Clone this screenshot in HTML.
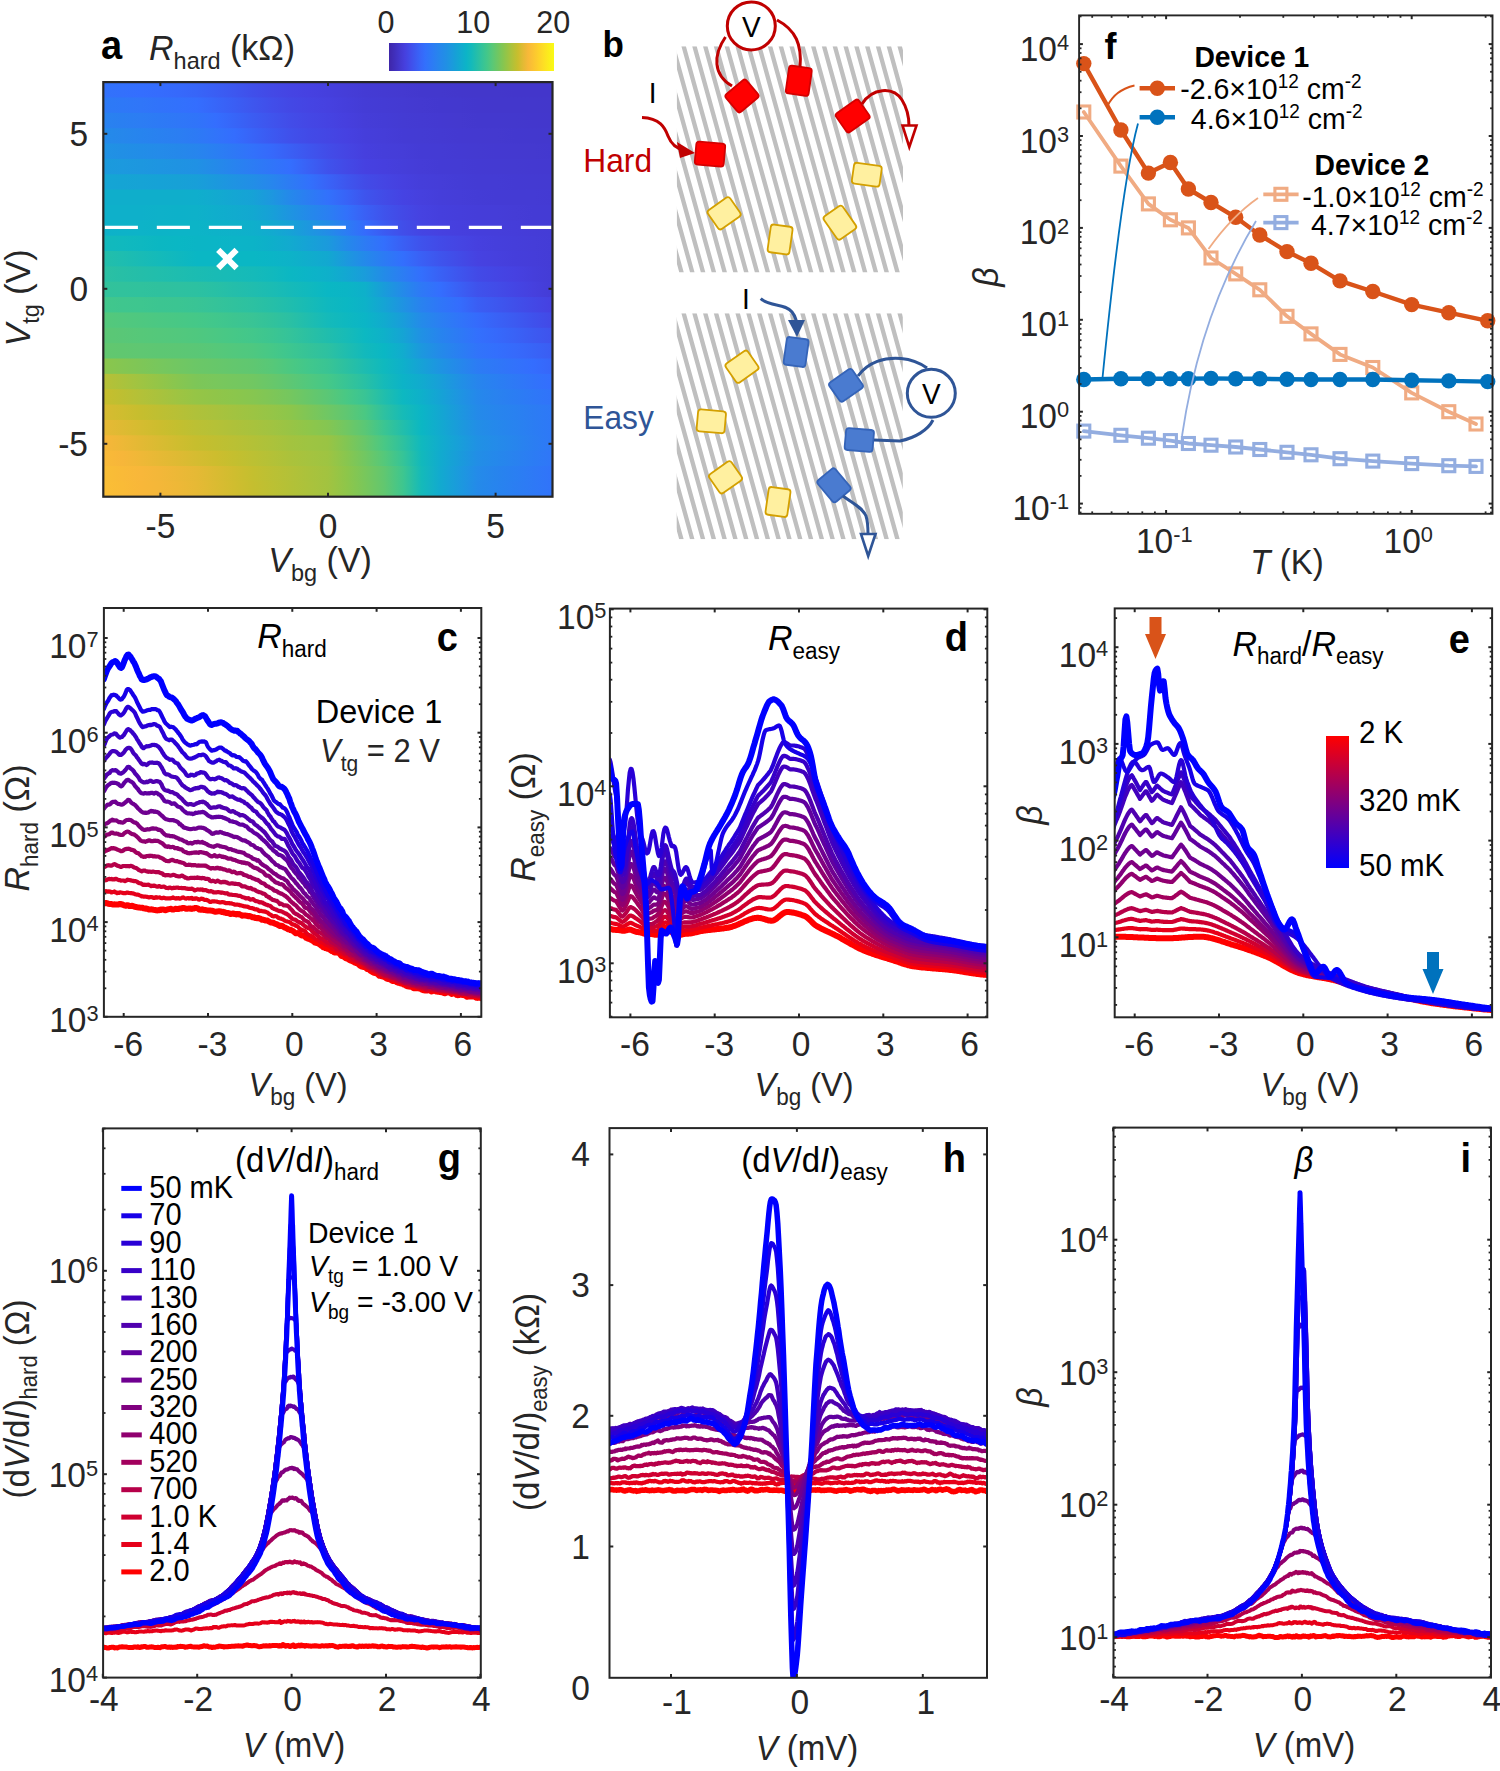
<!DOCTYPE html><html><head><meta charset="utf-8"><style>html,body{margin:0;padding:0;background:#fff;}svg{display:block;}text{font-family:"Liberation Sans", sans-serif;}</style></head><body>
<svg width="1500" height="1771" viewBox="0 0 1500 1771" font-family='"Liberation Sans", sans-serif'>
<rect width="1500" height="1771" fill="#fff"/>
<defs>
<linearGradient id="ha0" x1="0" x2="1" y1="0" y2="0">
<stop offset="0.000" stop-color="#3272fb"/>
<stop offset="0.042" stop-color="#3370fc"/>
<stop offset="0.083" stop-color="#346efe"/>
<stop offset="0.125" stop-color="#356cfd"/>
<stop offset="0.167" stop-color="#3669fb"/>
<stop offset="0.208" stop-color="#3765f8"/>
<stop offset="0.250" stop-color="#3a5ef4"/>
<stop offset="0.292" stop-color="#3d57ef"/>
<stop offset="0.333" stop-color="#404fea"/>
<stop offset="0.375" stop-color="#4349e6"/>
<stop offset="0.417" stop-color="#4544e3"/>
<stop offset="0.458" stop-color="#4641e1"/>
<stop offset="0.500" stop-color="#453fdd"/>
<stop offset="0.542" stop-color="#453dd8"/>
<stop offset="0.583" stop-color="#443bd4"/>
<stop offset="0.625" stop-color="#443ad2"/>
<stop offset="0.667" stop-color="#4439d0"/>
<stop offset="0.708" stop-color="#4338ce"/>
<stop offset="0.750" stop-color="#4338cd"/>
<stop offset="0.792" stop-color="#4337cc"/>
<stop offset="0.833" stop-color="#4337cb"/>
<stop offset="0.875" stop-color="#4337cb"/>
<stop offset="0.917" stop-color="#4336cb"/>
<stop offset="0.958" stop-color="#4336cb"/>
<stop offset="1.000" stop-color="#4336cb"/>
</linearGradient>
<linearGradient id="ha1" x1="0" x2="1" y1="0" y2="0">
<stop offset="0.000" stop-color="#2d7af5"/>
<stop offset="0.042" stop-color="#2e78f7"/>
<stop offset="0.083" stop-color="#3076f8"/>
<stop offset="0.125" stop-color="#3173fa"/>
<stop offset="0.167" stop-color="#3271fc"/>
<stop offset="0.208" stop-color="#346efe"/>
<stop offset="0.250" stop-color="#3766f9"/>
<stop offset="0.292" stop-color="#3a5ef4"/>
<stop offset="0.333" stop-color="#3e56ee"/>
<stop offset="0.375" stop-color="#414eea"/>
<stop offset="0.417" stop-color="#4348e5"/>
<stop offset="0.458" stop-color="#4544e3"/>
<stop offset="0.500" stop-color="#4641e0"/>
<stop offset="0.542" stop-color="#453edb"/>
<stop offset="0.583" stop-color="#443cd6"/>
<stop offset="0.625" stop-color="#443bd4"/>
<stop offset="0.667" stop-color="#443ad2"/>
<stop offset="0.708" stop-color="#4439d0"/>
<stop offset="0.750" stop-color="#4338cf"/>
<stop offset="0.792" stop-color="#4338ce"/>
<stop offset="0.833" stop-color="#4337cd"/>
<stop offset="0.875" stop-color="#4337cc"/>
<stop offset="0.917" stop-color="#4337cc"/>
<stop offset="0.958" stop-color="#4337cc"/>
<stop offset="1.000" stop-color="#4337cb"/>
</linearGradient>
<linearGradient id="ha2" x1="0" x2="1" y1="0" y2="0">
<stop offset="0.000" stop-color="#2982ef"/>
<stop offset="0.042" stop-color="#2a7ff1"/>
<stop offset="0.083" stop-color="#2c7df3"/>
<stop offset="0.125" stop-color="#2d7af5"/>
<stop offset="0.167" stop-color="#2f77f7"/>
<stop offset="0.208" stop-color="#3074f9"/>
<stop offset="0.250" stop-color="#346efe"/>
<stop offset="0.292" stop-color="#3765f8"/>
<stop offset="0.333" stop-color="#3b5cf2"/>
<stop offset="0.375" stop-color="#3f54ed"/>
<stop offset="0.417" stop-color="#424ce8"/>
<stop offset="0.458" stop-color="#4447e5"/>
<stop offset="0.500" stop-color="#4543e2"/>
<stop offset="0.542" stop-color="#463fde"/>
<stop offset="0.583" stop-color="#453dd8"/>
<stop offset="0.625" stop-color="#443cd6"/>
<stop offset="0.667" stop-color="#443bd3"/>
<stop offset="0.708" stop-color="#443ad2"/>
<stop offset="0.750" stop-color="#4439d1"/>
<stop offset="0.792" stop-color="#4439cf"/>
<stop offset="0.833" stop-color="#4338ce"/>
<stop offset="0.875" stop-color="#4338ce"/>
<stop offset="0.917" stop-color="#4338cd"/>
<stop offset="0.958" stop-color="#4337cd"/>
<stop offset="1.000" stop-color="#4337cc"/>
</linearGradient>
<linearGradient id="ha3" x1="0" x2="1" y1="0" y2="0">
<stop offset="0.000" stop-color="#248ae9"/>
<stop offset="0.042" stop-color="#2687eb"/>
<stop offset="0.083" stop-color="#2784ee"/>
<stop offset="0.125" stop-color="#2981f0"/>
<stop offset="0.167" stop-color="#2b7ef2"/>
<stop offset="0.208" stop-color="#2d7af5"/>
<stop offset="0.250" stop-color="#3174fa"/>
<stop offset="0.292" stop-color="#346dfe"/>
<stop offset="0.333" stop-color="#3863f7"/>
<stop offset="0.375" stop-color="#3c59f1"/>
<stop offset="0.417" stop-color="#4050eb"/>
<stop offset="0.458" stop-color="#424ae7"/>
<stop offset="0.500" stop-color="#4446e4"/>
<stop offset="0.542" stop-color="#4641e1"/>
<stop offset="0.583" stop-color="#453edb"/>
<stop offset="0.625" stop-color="#453dd8"/>
<stop offset="0.667" stop-color="#443bd5"/>
<stop offset="0.708" stop-color="#443bd3"/>
<stop offset="0.750" stop-color="#443ad2"/>
<stop offset="0.792" stop-color="#4439d1"/>
<stop offset="0.833" stop-color="#4439d0"/>
<stop offset="0.875" stop-color="#4439cf"/>
<stop offset="0.917" stop-color="#4338cf"/>
<stop offset="0.958" stop-color="#4338ce"/>
<stop offset="1.000" stop-color="#4338cd"/>
</linearGradient>
<linearGradient id="ha4" x1="0" x2="1" y1="0" y2="0">
<stop offset="0.000" stop-color="#2092e4"/>
<stop offset="0.042" stop-color="#218fe5"/>
<stop offset="0.083" stop-color="#228de7"/>
<stop offset="0.125" stop-color="#248be9"/>
<stop offset="0.167" stop-color="#2588ea"/>
<stop offset="0.208" stop-color="#2785ed"/>
<stop offset="0.250" stop-color="#2a7ff2"/>
<stop offset="0.292" stop-color="#2e78f6"/>
<stop offset="0.333" stop-color="#3271fb"/>
<stop offset="0.375" stop-color="#3669fb"/>
<stop offset="0.417" stop-color="#3a5ff4"/>
<stop offset="0.458" stop-color="#3e55ee"/>
<stop offset="0.500" stop-color="#424ce8"/>
<stop offset="0.542" stop-color="#4545e3"/>
<stop offset="0.583" stop-color="#463fde"/>
<stop offset="0.625" stop-color="#453eda"/>
<stop offset="0.667" stop-color="#453dd8"/>
<stop offset="0.708" stop-color="#443bd5"/>
<stop offset="0.750" stop-color="#443bd4"/>
<stop offset="0.792" stop-color="#443ad3"/>
<stop offset="0.833" stop-color="#443ad1"/>
<stop offset="0.875" stop-color="#4439d1"/>
<stop offset="0.917" stop-color="#4439d0"/>
<stop offset="0.958" stop-color="#4439cf"/>
<stop offset="1.000" stop-color="#4338cf"/>
</linearGradient>
<linearGradient id="ha5" x1="0" x2="1" y1="0" y2="0">
<stop offset="0.000" stop-color="#1b9adc"/>
<stop offset="0.042" stop-color="#1c99de"/>
<stop offset="0.083" stop-color="#1d97df"/>
<stop offset="0.125" stop-color="#1e95e1"/>
<stop offset="0.167" stop-color="#1f93e2"/>
<stop offset="0.208" stop-color="#2091e4"/>
<stop offset="0.250" stop-color="#248ae9"/>
<stop offset="0.292" stop-color="#2883ef"/>
<stop offset="0.333" stop-color="#2c7cf4"/>
<stop offset="0.375" stop-color="#3075f9"/>
<stop offset="0.417" stop-color="#346efe"/>
<stop offset="0.458" stop-color="#3a60f5"/>
<stop offset="0.500" stop-color="#3f52ec"/>
<stop offset="0.542" stop-color="#4349e6"/>
<stop offset="0.583" stop-color="#4641e1"/>
<stop offset="0.625" stop-color="#463fde"/>
<stop offset="0.667" stop-color="#453eda"/>
<stop offset="0.708" stop-color="#453cd7"/>
<stop offset="0.750" stop-color="#443bd5"/>
<stop offset="0.792" stop-color="#443bd4"/>
<stop offset="0.833" stop-color="#443ad3"/>
<stop offset="0.875" stop-color="#443ad2"/>
<stop offset="0.917" stop-color="#443ad1"/>
<stop offset="0.958" stop-color="#4439d1"/>
<stop offset="1.000" stop-color="#4439d0"/>
</linearGradient>
<linearGradient id="ha6" x1="0" x2="1" y1="0" y2="0">
<stop offset="0.000" stop-color="#15a5d4"/>
<stop offset="0.042" stop-color="#15a4d4"/>
<stop offset="0.083" stop-color="#16a3d5"/>
<stop offset="0.125" stop-color="#16a2d6"/>
<stop offset="0.167" stop-color="#17a1d6"/>
<stop offset="0.208" stop-color="#189fd8"/>
<stop offset="0.250" stop-color="#1b99dd"/>
<stop offset="0.292" stop-color="#1f93e2"/>
<stop offset="0.333" stop-color="#228ee6"/>
<stop offset="0.375" stop-color="#2786ed"/>
<stop offset="0.417" stop-color="#2d7bf4"/>
<stop offset="0.458" stop-color="#3271fc"/>
<stop offset="0.500" stop-color="#3963f7"/>
<stop offset="0.542" stop-color="#3e56ee"/>
<stop offset="0.583" stop-color="#424be7"/>
<stop offset="0.625" stop-color="#4545e3"/>
<stop offset="0.667" stop-color="#4640df"/>
<stop offset="0.708" stop-color="#453eda"/>
<stop offset="0.750" stop-color="#453dd8"/>
<stop offset="0.792" stop-color="#443cd6"/>
<stop offset="0.833" stop-color="#443bd4"/>
<stop offset="0.875" stop-color="#443bd4"/>
<stop offset="0.917" stop-color="#443ad3"/>
<stop offset="0.958" stop-color="#443ad2"/>
<stop offset="1.000" stop-color="#443ad1"/>
</linearGradient>
<linearGradient id="ha7" x1="0" x2="1" y1="0" y2="0">
<stop offset="0.000" stop-color="#0faecb"/>
<stop offset="0.042" stop-color="#0faecb"/>
<stop offset="0.083" stop-color="#0faecb"/>
<stop offset="0.125" stop-color="#0faecb"/>
<stop offset="0.167" stop-color="#0faecb"/>
<stop offset="0.208" stop-color="#0faecc"/>
<stop offset="0.250" stop-color="#12aacf"/>
<stop offset="0.292" stop-color="#14a6d3"/>
<stop offset="0.333" stop-color="#16a2d6"/>
<stop offset="0.375" stop-color="#1d97df"/>
<stop offset="0.417" stop-color="#2588eb"/>
<stop offset="0.458" stop-color="#2c7cf3"/>
<stop offset="0.500" stop-color="#3271fc"/>
<stop offset="0.542" stop-color="#3863f7"/>
<stop offset="0.583" stop-color="#3e54ed"/>
<stop offset="0.625" stop-color="#424be7"/>
<stop offset="0.667" stop-color="#4543e3"/>
<stop offset="0.708" stop-color="#4640de"/>
<stop offset="0.750" stop-color="#453eda"/>
<stop offset="0.792" stop-color="#453dd8"/>
<stop offset="0.833" stop-color="#443cd6"/>
<stop offset="0.875" stop-color="#443bd5"/>
<stop offset="0.917" stop-color="#443bd4"/>
<stop offset="0.958" stop-color="#443bd4"/>
<stop offset="1.000" stop-color="#443ad3"/>
</linearGradient>
<linearGradient id="ha8" x1="0" x2="1" y1="0" y2="0">
<stop offset="0.000" stop-color="#0eb0ca"/>
<stop offset="0.042" stop-color="#0eb0ca"/>
<stop offset="0.083" stop-color="#0eb0ca"/>
<stop offset="0.125" stop-color="#0eb1c9"/>
<stop offset="0.167" stop-color="#0db1c9"/>
<stop offset="0.208" stop-color="#0eb1c9"/>
<stop offset="0.250" stop-color="#0faecc"/>
<stop offset="0.292" stop-color="#11abce"/>
<stop offset="0.333" stop-color="#12a8d0"/>
<stop offset="0.375" stop-color="#17a0d7"/>
<stop offset="0.417" stop-color="#1e94e1"/>
<stop offset="0.458" stop-color="#2489ea"/>
<stop offset="0.500" stop-color="#2a7ff2"/>
<stop offset="0.542" stop-color="#3271fb"/>
<stop offset="0.583" stop-color="#3a60f5"/>
<stop offset="0.625" stop-color="#3f53ec"/>
<stop offset="0.667" stop-color="#4349e6"/>
<stop offset="0.708" stop-color="#4642e1"/>
<stop offset="0.750" stop-color="#453fdd"/>
<stop offset="0.792" stop-color="#453edb"/>
<stop offset="0.833" stop-color="#453dd9"/>
<stop offset="0.875" stop-color="#453dd8"/>
<stop offset="0.917" stop-color="#453cd6"/>
<stop offset="0.958" stop-color="#443bd5"/>
<stop offset="1.000" stop-color="#443bd4"/>
</linearGradient>
<linearGradient id="ha9" x1="0" x2="1" y1="0" y2="0">
<stop offset="0.000" stop-color="#0db1c9"/>
<stop offset="0.042" stop-color="#0db2c8"/>
<stop offset="0.083" stop-color="#0db3c8"/>
<stop offset="0.125" stop-color="#0cb3c7"/>
<stop offset="0.167" stop-color="#0cb4c7"/>
<stop offset="0.208" stop-color="#0cb4c7"/>
<stop offset="0.250" stop-color="#0db2c8"/>
<stop offset="0.292" stop-color="#0eb1c9"/>
<stop offset="0.333" stop-color="#0fafcb"/>
<stop offset="0.375" stop-color="#12aacf"/>
<stop offset="0.417" stop-color="#16a2d6"/>
<stop offset="0.458" stop-color="#1d97df"/>
<stop offset="0.500" stop-color="#238ce7"/>
<stop offset="0.542" stop-color="#2c7cf4"/>
<stop offset="0.583" stop-color="#356bfc"/>
<stop offset="0.625" stop-color="#3b5bf2"/>
<stop offset="0.667" stop-color="#414ee9"/>
<stop offset="0.708" stop-color="#4445e3"/>
<stop offset="0.750" stop-color="#4641e0"/>
<stop offset="0.792" stop-color="#463fde"/>
<stop offset="0.833" stop-color="#453edc"/>
<stop offset="0.875" stop-color="#453eda"/>
<stop offset="0.917" stop-color="#453dd9"/>
<stop offset="0.958" stop-color="#453cd7"/>
<stop offset="1.000" stop-color="#443cd6"/>
</linearGradient>
<linearGradient id="ha10" x1="0" x2="1" y1="0" y2="0">
<stop offset="0.000" stop-color="#12b9bc"/>
<stop offset="0.042" stop-color="#10b9be"/>
<stop offset="0.083" stop-color="#0eb8c0"/>
<stop offset="0.125" stop-color="#0bb7c2"/>
<stop offset="0.167" stop-color="#0ab7c4"/>
<stop offset="0.208" stop-color="#0bb5c5"/>
<stop offset="0.250" stop-color="#0bb5c6"/>
<stop offset="0.292" stop-color="#0cb4c7"/>
<stop offset="0.333" stop-color="#0cb3c7"/>
<stop offset="0.375" stop-color="#0eafca"/>
<stop offset="0.417" stop-color="#12aacf"/>
<stop offset="0.458" stop-color="#16a2d6"/>
<stop offset="0.500" stop-color="#1b9adc"/>
<stop offset="0.542" stop-color="#2489ea"/>
<stop offset="0.583" stop-color="#2d7bf4"/>
<stop offset="0.625" stop-color="#336ffd"/>
<stop offset="0.667" stop-color="#3a5ff4"/>
<stop offset="0.708" stop-color="#3f52ec"/>
<stop offset="0.750" stop-color="#424ae7"/>
<stop offset="0.792" stop-color="#4545e3"/>
<stop offset="0.833" stop-color="#4640df"/>
<stop offset="0.875" stop-color="#453fdc"/>
<stop offset="0.917" stop-color="#453eda"/>
<stop offset="0.958" stop-color="#453dd8"/>
<stop offset="1.000" stop-color="#443cd6"/>
</linearGradient>
<linearGradient id="ha11" x1="0" x2="1" y1="0" y2="0">
<stop offset="0.000" stop-color="#23beaa"/>
<stop offset="0.042" stop-color="#1ebdb0"/>
<stop offset="0.083" stop-color="#19bbb5"/>
<stop offset="0.125" stop-color="#14baba"/>
<stop offset="0.167" stop-color="#0fb8bf"/>
<stop offset="0.208" stop-color="#0ab7c4"/>
<stop offset="0.250" stop-color="#0ab7c4"/>
<stop offset="0.292" stop-color="#0ab7c4"/>
<stop offset="0.333" stop-color="#0ab7c4"/>
<stop offset="0.375" stop-color="#0bb5c6"/>
<stop offset="0.417" stop-color="#0db2c8"/>
<stop offset="0.458" stop-color="#10adcc"/>
<stop offset="0.500" stop-color="#12a8d0"/>
<stop offset="0.542" stop-color="#1c98de"/>
<stop offset="0.583" stop-color="#2489ea"/>
<stop offset="0.625" stop-color="#2c7bf4"/>
<stop offset="0.667" stop-color="#336ffd"/>
<stop offset="0.708" stop-color="#3a60f5"/>
<stop offset="0.750" stop-color="#3e54ed"/>
<stop offset="0.792" stop-color="#424be7"/>
<stop offset="0.833" stop-color="#4642e1"/>
<stop offset="0.875" stop-color="#4640de"/>
<stop offset="0.917" stop-color="#453edb"/>
<stop offset="0.958" stop-color="#453dd9"/>
<stop offset="1.000" stop-color="#443cd6"/>
</linearGradient>
<linearGradient id="ha12" x1="0" x2="1" y1="0" y2="0">
<stop offset="0.000" stop-color="#2bc0a3"/>
<stop offset="0.042" stop-color="#27bfa6"/>
<stop offset="0.083" stop-color="#24bea9"/>
<stop offset="0.125" stop-color="#21beac"/>
<stop offset="0.167" stop-color="#1ebdaf"/>
<stop offset="0.208" stop-color="#1bbcb2"/>
<stop offset="0.250" stop-color="#19bbb5"/>
<stop offset="0.292" stop-color="#17bbb7"/>
<stop offset="0.333" stop-color="#15bab9"/>
<stop offset="0.375" stop-color="#11b9bd"/>
<stop offset="0.417" stop-color="#0bb7c3"/>
<stop offset="0.458" stop-color="#0cb4c7"/>
<stop offset="0.500" stop-color="#0eb0ca"/>
<stop offset="0.542" stop-color="#13a7d2"/>
<stop offset="0.583" stop-color="#1a9cdb"/>
<stop offset="0.625" stop-color="#238be8"/>
<stop offset="0.667" stop-color="#2c7df3"/>
<stop offset="0.708" stop-color="#336ffd"/>
<stop offset="0.750" stop-color="#3961f5"/>
<stop offset="0.792" stop-color="#3e55ee"/>
<stop offset="0.833" stop-color="#424ae7"/>
<stop offset="0.875" stop-color="#4445e4"/>
<stop offset="0.917" stop-color="#4641e1"/>
<stop offset="0.958" stop-color="#453edb"/>
<stop offset="1.000" stop-color="#443cd6"/>
</linearGradient>
<linearGradient id="ha13" x1="0" x2="1" y1="0" y2="0">
<stop offset="0.000" stop-color="#32c29b"/>
<stop offset="0.042" stop-color="#31c29c"/>
<stop offset="0.083" stop-color="#30c29d"/>
<stop offset="0.125" stop-color="#2fc19e"/>
<stop offset="0.167" stop-color="#2ec1a0"/>
<stop offset="0.208" stop-color="#2cc1a1"/>
<stop offset="0.250" stop-color="#28c0a5"/>
<stop offset="0.292" stop-color="#24beaa"/>
<stop offset="0.333" stop-color="#20bdae"/>
<stop offset="0.375" stop-color="#1bbcb3"/>
<stop offset="0.417" stop-color="#15bab9"/>
<stop offset="0.458" stop-color="#10b9be"/>
<stop offset="0.500" stop-color="#0ab7c4"/>
<stop offset="0.542" stop-color="#0bb5c5"/>
<stop offset="0.583" stop-color="#0eb0ca"/>
<stop offset="0.625" stop-color="#199cda"/>
<stop offset="0.667" stop-color="#248ae9"/>
<stop offset="0.708" stop-color="#2e79f6"/>
<stop offset="0.750" stop-color="#346efe"/>
<stop offset="0.792" stop-color="#3a60f5"/>
<stop offset="0.833" stop-color="#3f52ec"/>
<stop offset="0.875" stop-color="#424ce8"/>
<stop offset="0.917" stop-color="#4445e4"/>
<stop offset="0.958" stop-color="#4640de"/>
<stop offset="1.000" stop-color="#443cd6"/>
</linearGradient>
<linearGradient id="ha14" x1="0" x2="1" y1="0" y2="0">
<stop offset="0.000" stop-color="#41c78c"/>
<stop offset="0.042" stop-color="#3fc68e"/>
<stop offset="0.083" stop-color="#3ec68f"/>
<stop offset="0.125" stop-color="#3cc591"/>
<stop offset="0.167" stop-color="#3bc592"/>
<stop offset="0.208" stop-color="#39c495"/>
<stop offset="0.250" stop-color="#35c399"/>
<stop offset="0.292" stop-color="#30c29d"/>
<stop offset="0.333" stop-color="#2cc1a1"/>
<stop offset="0.375" stop-color="#26bfa7"/>
<stop offset="0.417" stop-color="#1fbdae"/>
<stop offset="0.458" stop-color="#17bbb6"/>
<stop offset="0.500" stop-color="#0fb8bf"/>
<stop offset="0.542" stop-color="#0bb7c3"/>
<stop offset="0.583" stop-color="#0db2c8"/>
<stop offset="0.625" stop-color="#15a4d4"/>
<stop offset="0.667" stop-color="#1f93e2"/>
<stop offset="0.708" stop-color="#2982ef"/>
<stop offset="0.750" stop-color="#2f76f8"/>
<stop offset="0.792" stop-color="#346dfd"/>
<stop offset="0.833" stop-color="#3a5ef4"/>
<stop offset="0.875" stop-color="#3d57ef"/>
<stop offset="0.917" stop-color="#404fea"/>
<stop offset="0.958" stop-color="#4348e6"/>
<stop offset="1.000" stop-color="#4641e1"/>
</linearGradient>
<linearGradient id="ha15" x1="0" x2="1" y1="0" y2="0">
<stop offset="0.000" stop-color="#54c87b"/>
<stop offset="0.042" stop-color="#51c87e"/>
<stop offset="0.083" stop-color="#4ec880"/>
<stop offset="0.125" stop-color="#4bc883"/>
<stop offset="0.167" stop-color="#48c885"/>
<stop offset="0.208" stop-color="#45c888"/>
<stop offset="0.250" stop-color="#41c78c"/>
<stop offset="0.292" stop-color="#3dc590"/>
<stop offset="0.333" stop-color="#39c495"/>
<stop offset="0.375" stop-color="#32c29b"/>
<stop offset="0.417" stop-color="#2ac0a4"/>
<stop offset="0.458" stop-color="#1fbdaf"/>
<stop offset="0.500" stop-color="#14baba"/>
<stop offset="0.542" stop-color="#0eb8c0"/>
<stop offset="0.583" stop-color="#0bb5c6"/>
<stop offset="0.625" stop-color="#11abce"/>
<stop offset="0.667" stop-color="#199dda"/>
<stop offset="0.708" stop-color="#248be9"/>
<stop offset="0.750" stop-color="#2b7ff2"/>
<stop offset="0.792" stop-color="#3075f9"/>
<stop offset="0.833" stop-color="#356bfc"/>
<stop offset="0.875" stop-color="#3962f6"/>
<stop offset="0.917" stop-color="#3c5af1"/>
<stop offset="0.958" stop-color="#3f51ec"/>
<stop offset="1.000" stop-color="#4349e6"/>
</linearGradient>
<linearGradient id="ha16" x1="0" x2="1" y1="0" y2="0">
<stop offset="0.000" stop-color="#5bc775"/>
<stop offset="0.042" stop-color="#59c777"/>
<stop offset="0.083" stop-color="#56c879"/>
<stop offset="0.125" stop-color="#54c87b"/>
<stop offset="0.167" stop-color="#52c87d"/>
<stop offset="0.208" stop-color="#4fc87f"/>
<stop offset="0.250" stop-color="#4bc883"/>
<stop offset="0.292" stop-color="#46c887"/>
<stop offset="0.333" stop-color="#42c78b"/>
<stop offset="0.375" stop-color="#3cc591"/>
<stop offset="0.417" stop-color="#34c39a"/>
<stop offset="0.458" stop-color="#2ac0a3"/>
<stop offset="0.500" stop-color="#20bdad"/>
<stop offset="0.542" stop-color="#17bbb7"/>
<stop offset="0.583" stop-color="#0cb8c2"/>
<stop offset="0.625" stop-color="#0eb1c9"/>
<stop offset="0.667" stop-color="#15a4d4"/>
<stop offset="0.708" stop-color="#2091e4"/>
<stop offset="0.750" stop-color="#2784ee"/>
<stop offset="0.792" stop-color="#2d7af5"/>
<stop offset="0.833" stop-color="#3370fd"/>
<stop offset="0.875" stop-color="#3669fb"/>
<stop offset="0.917" stop-color="#3962f6"/>
<stop offset="0.958" stop-color="#3c5af1"/>
<stop offset="1.000" stop-color="#3f53ed"/>
</linearGradient>
<linearGradient id="ha17" x1="0" x2="1" y1="0" y2="0">
<stop offset="0.000" stop-color="#62c76f"/>
<stop offset="0.042" stop-color="#60c770"/>
<stop offset="0.083" stop-color="#5fc772"/>
<stop offset="0.125" stop-color="#5dc773"/>
<stop offset="0.167" stop-color="#5cc774"/>
<stop offset="0.208" stop-color="#5ac776"/>
<stop offset="0.250" stop-color="#56c879"/>
<stop offset="0.292" stop-color="#52c87d"/>
<stop offset="0.333" stop-color="#4ec880"/>
<stop offset="0.375" stop-color="#46c887"/>
<stop offset="0.417" stop-color="#3dc690"/>
<stop offset="0.458" stop-color="#35c398"/>
<stop offset="0.500" stop-color="#2dc1a1"/>
<stop offset="0.542" stop-color="#1fbdaf"/>
<stop offset="0.583" stop-color="#12b9bc"/>
<stop offset="0.625" stop-color="#0ab7c4"/>
<stop offset="0.667" stop-color="#11acce"/>
<stop offset="0.708" stop-color="#1c98de"/>
<stop offset="0.750" stop-color="#248ae9"/>
<stop offset="0.792" stop-color="#2a7ff2"/>
<stop offset="0.833" stop-color="#3174fa"/>
<stop offset="0.875" stop-color="#336ffd"/>
<stop offset="0.917" stop-color="#366afb"/>
<stop offset="0.958" stop-color="#3864f7"/>
<stop offset="1.000" stop-color="#3b5df3"/>
</linearGradient>
<linearGradient id="ha18" x1="0" x2="1" y1="0" y2="0">
<stop offset="0.000" stop-color="#8ac64c"/>
<stop offset="0.042" stop-color="#84c652"/>
<stop offset="0.083" stop-color="#7ec657"/>
<stop offset="0.125" stop-color="#77c75d"/>
<stop offset="0.167" stop-color="#71c762"/>
<stop offset="0.208" stop-color="#6bc767"/>
<stop offset="0.250" stop-color="#67c76a"/>
<stop offset="0.292" stop-color="#63c76e"/>
<stop offset="0.333" stop-color="#5fc771"/>
<stop offset="0.375" stop-color="#57c878"/>
<stop offset="0.417" stop-color="#4bc882"/>
<stop offset="0.458" stop-color="#41c78c"/>
<stop offset="0.500" stop-color="#39c494"/>
<stop offset="0.542" stop-color="#2bc0a2"/>
<stop offset="0.583" stop-color="#1dbcb1"/>
<stop offset="0.625" stop-color="#0fb9be"/>
<stop offset="0.667" stop-color="#0eb0ca"/>
<stop offset="0.708" stop-color="#16a2d6"/>
<stop offset="0.750" stop-color="#1e94e2"/>
<stop offset="0.792" stop-color="#2588eb"/>
<stop offset="0.833" stop-color="#2c7cf4"/>
<stop offset="0.875" stop-color="#2f77f7"/>
<stop offset="0.917" stop-color="#3272fb"/>
<stop offset="0.958" stop-color="#346dfe"/>
<stop offset="1.000" stop-color="#3766f9"/>
</linearGradient>
<linearGradient id="ha19" x1="0" x2="1" y1="0" y2="0">
<stop offset="0.000" stop-color="#b7c036"/>
<stop offset="0.042" stop-color="#abc23c"/>
<stop offset="0.083" stop-color="#9fc442"/>
<stop offset="0.125" stop-color="#93c548"/>
<stop offset="0.167" stop-color="#87c650"/>
<stop offset="0.208" stop-color="#7dc658"/>
<stop offset="0.250" stop-color="#79c75c"/>
<stop offset="0.292" stop-color="#75c75f"/>
<stop offset="0.333" stop-color="#71c762"/>
<stop offset="0.375" stop-color="#68c76a"/>
<stop offset="0.417" stop-color="#5dc774"/>
<stop offset="0.458" stop-color="#51c87e"/>
<stop offset="0.500" stop-color="#45c888"/>
<stop offset="0.542" stop-color="#37c496"/>
<stop offset="0.583" stop-color="#28c0a5"/>
<stop offset="0.625" stop-color="#15bab9"/>
<stop offset="0.667" stop-color="#0cb3c7"/>
<stop offset="0.708" stop-color="#11abce"/>
<stop offset="0.750" stop-color="#189fd8"/>
<stop offset="0.792" stop-color="#2091e4"/>
<stop offset="0.833" stop-color="#2785ed"/>
<stop offset="0.875" stop-color="#2a7ff2"/>
<stop offset="0.917" stop-color="#2e79f6"/>
<stop offset="0.958" stop-color="#3173fa"/>
<stop offset="1.000" stop-color="#346efe"/>
</linearGradient>
<linearGradient id="ha20" x1="0" x2="1" y1="0" y2="0">
<stop offset="0.000" stop-color="#c7be2d"/>
<stop offset="0.042" stop-color="#bdbf32"/>
<stop offset="0.083" stop-color="#b3c138"/>
<stop offset="0.125" stop-color="#a9c23d"/>
<stop offset="0.167" stop-color="#9ec442"/>
<stop offset="0.208" stop-color="#95c546"/>
<stop offset="0.250" stop-color="#90c549"/>
<stop offset="0.292" stop-color="#8bc64c"/>
<stop offset="0.333" stop-color="#86c650"/>
<stop offset="0.375" stop-color="#7ec657"/>
<stop offset="0.417" stop-color="#74c75f"/>
<stop offset="0.458" stop-color="#67c76a"/>
<stop offset="0.500" stop-color="#5ac776"/>
<stop offset="0.542" stop-color="#48c885"/>
<stop offset="0.583" stop-color="#39c495"/>
<stop offset="0.625" stop-color="#21beac"/>
<stop offset="0.667" stop-color="#0db8c1"/>
<stop offset="0.708" stop-color="#0eb0ca"/>
<stop offset="0.750" stop-color="#15a3d5"/>
<stop offset="0.792" stop-color="#1e95e1"/>
<stop offset="0.833" stop-color="#2588eb"/>
<stop offset="0.875" stop-color="#2982ef"/>
<stop offset="0.917" stop-color="#2b7df3"/>
<stop offset="0.958" stop-color="#2e78f7"/>
<stop offset="1.000" stop-color="#3173fa"/>
</linearGradient>
<linearGradient id="ha21" x1="0" x2="1" y1="0" y2="0">
<stop offset="0.000" stop-color="#d7bb31"/>
<stop offset="0.042" stop-color="#cfbd2f"/>
<stop offset="0.083" stop-color="#c6be2e"/>
<stop offset="0.125" stop-color="#bebf32"/>
<stop offset="0.167" stop-color="#b7c036"/>
<stop offset="0.208" stop-color="#afc13a"/>
<stop offset="0.250" stop-color="#a9c23d"/>
<stop offset="0.292" stop-color="#a2c340"/>
<stop offset="0.333" stop-color="#9cc443"/>
<stop offset="0.375" stop-color="#95c547"/>
<stop offset="0.417" stop-color="#8cc64b"/>
<stop offset="0.458" stop-color="#7ec657"/>
<stop offset="0.500" stop-color="#6fc764"/>
<stop offset="0.542" stop-color="#5fc772"/>
<stop offset="0.583" stop-color="#4ac883"/>
<stop offset="0.625" stop-color="#2ec1a0"/>
<stop offset="0.667" stop-color="#16bbb7"/>
<stop offset="0.708" stop-color="#0bb5c6"/>
<stop offset="0.750" stop-color="#13a7d1"/>
<stop offset="0.792" stop-color="#1c98de"/>
<stop offset="0.833" stop-color="#248ae9"/>
<stop offset="0.875" stop-color="#2785ed"/>
<stop offset="0.917" stop-color="#2981f0"/>
<stop offset="0.958" stop-color="#2c7cf3"/>
<stop offset="1.000" stop-color="#2e78f7"/>
</linearGradient>
<linearGradient id="ha22" x1="0" x2="1" y1="0" y2="0">
<stop offset="0.000" stop-color="#e7b935"/>
<stop offset="0.042" stop-color="#deba33"/>
<stop offset="0.083" stop-color="#d5bc30"/>
<stop offset="0.125" stop-color="#ccbd2e"/>
<stop offset="0.167" stop-color="#c3bf2f"/>
<stop offset="0.208" stop-color="#bbc034"/>
<stop offset="0.250" stop-color="#b5c137"/>
<stop offset="0.292" stop-color="#aec13a"/>
<stop offset="0.333" stop-color="#a8c23d"/>
<stop offset="0.375" stop-color="#a1c341"/>
<stop offset="0.417" stop-color="#98c445"/>
<stop offset="0.458" stop-color="#8ec64a"/>
<stop offset="0.500" stop-color="#84c652"/>
<stop offset="0.542" stop-color="#70c763"/>
<stop offset="0.583" stop-color="#5ac776"/>
<stop offset="0.625" stop-color="#3bc592"/>
<stop offset="0.667" stop-color="#22beab"/>
<stop offset="0.708" stop-color="#0bb7c3"/>
<stop offset="0.750" stop-color="#12aacf"/>
<stop offset="0.792" stop-color="#1a9bdb"/>
<stop offset="0.833" stop-color="#228ee6"/>
<stop offset="0.875" stop-color="#2588eb"/>
<stop offset="0.917" stop-color="#2883ef"/>
<stop offset="0.958" stop-color="#2b7df3"/>
<stop offset="1.000" stop-color="#2e78f7"/>
</linearGradient>
<linearGradient id="ha23" x1="0" x2="1" y1="0" y2="0">
<stop offset="0.000" stop-color="#f7b63a"/>
<stop offset="0.042" stop-color="#edb837"/>
<stop offset="0.083" stop-color="#e3b934"/>
<stop offset="0.125" stop-color="#d9bb32"/>
<stop offset="0.167" stop-color="#cfbd2f"/>
<stop offset="0.208" stop-color="#c6be2e"/>
<stop offset="0.250" stop-color="#c0bf31"/>
<stop offset="0.292" stop-color="#bac034"/>
<stop offset="0.333" stop-color="#b3c137"/>
<stop offset="0.375" stop-color="#acc23b"/>
<stop offset="0.417" stop-color="#a3c33f"/>
<stop offset="0.458" stop-color="#9ec442"/>
<stop offset="0.500" stop-color="#99c444"/>
<stop offset="0.542" stop-color="#81c654"/>
<stop offset="0.583" stop-color="#68c76a"/>
<stop offset="0.625" stop-color="#49c885"/>
<stop offset="0.667" stop-color="#2ec19f"/>
<stop offset="0.708" stop-color="#10b9be"/>
<stop offset="0.750" stop-color="#11accd"/>
<stop offset="0.792" stop-color="#189fd9"/>
<stop offset="0.833" stop-color="#2091e4"/>
<stop offset="0.875" stop-color="#248be9"/>
<stop offset="0.917" stop-color="#2785ed"/>
<stop offset="0.958" stop-color="#2b7ef2"/>
<stop offset="1.000" stop-color="#2e78f7"/>
</linearGradient>
<linearGradient id="ha24" x1="0" x2="1" y1="0" y2="0">
<stop offset="0.000" stop-color="#f9ba38"/>
<stop offset="0.042" stop-color="#f7b63a"/>
<stop offset="0.083" stop-color="#efb837"/>
<stop offset="0.125" stop-color="#e6b935"/>
<stop offset="0.167" stop-color="#deba33"/>
<stop offset="0.208" stop-color="#d5bc31"/>
<stop offset="0.250" stop-color="#cdbd2e"/>
<stop offset="0.292" stop-color="#c4bf2f"/>
<stop offset="0.333" stop-color="#bcc033"/>
<stop offset="0.375" stop-color="#b4c137"/>
<stop offset="0.417" stop-color="#abc23b"/>
<stop offset="0.458" stop-color="#a5c33f"/>
<stop offset="0.500" stop-color="#9ec442"/>
<stop offset="0.542" stop-color="#88c64f"/>
<stop offset="0.583" stop-color="#71c762"/>
<stop offset="0.625" stop-color="#55c87a"/>
<stop offset="0.667" stop-color="#36c497"/>
<stop offset="0.708" stop-color="#12b9bb"/>
<stop offset="0.750" stop-color="#11abce"/>
<stop offset="0.792" stop-color="#199cda"/>
<stop offset="0.833" stop-color="#228ee6"/>
<stop offset="0.875" stop-color="#2588eb"/>
<stop offset="0.917" stop-color="#2982ef"/>
<stop offset="0.958" stop-color="#2c7cf4"/>
<stop offset="1.000" stop-color="#3076f8"/>
</linearGradient>
<linearGradient id="ha25" x1="0" x2="1" y1="0" y2="0">
<stop offset="0.000" stop-color="#f9be36"/>
<stop offset="0.042" stop-color="#f9ba38"/>
<stop offset="0.083" stop-color="#f8b73a"/>
<stop offset="0.125" stop-color="#f3b739"/>
<stop offset="0.167" stop-color="#ecb837"/>
<stop offset="0.208" stop-color="#e5b935"/>
<stop offset="0.250" stop-color="#dabb32"/>
<stop offset="0.292" stop-color="#cfbd2f"/>
<stop offset="0.333" stop-color="#c4bf2f"/>
<stop offset="0.375" stop-color="#bbc034"/>
<stop offset="0.417" stop-color="#b3c138"/>
<stop offset="0.458" stop-color="#aac23c"/>
<stop offset="0.500" stop-color="#a2c340"/>
<stop offset="0.542" stop-color="#8dc64a"/>
<stop offset="0.583" stop-color="#78c75c"/>
<stop offset="0.625" stop-color="#61c770"/>
<stop offset="0.667" stop-color="#3ec68f"/>
<stop offset="0.708" stop-color="#14bab9"/>
<stop offset="0.750" stop-color="#12aacf"/>
<stop offset="0.792" stop-color="#1b9add"/>
<stop offset="0.833" stop-color="#248be9"/>
<stop offset="0.875" stop-color="#2784ed"/>
<stop offset="0.917" stop-color="#2a7ff2"/>
<stop offset="0.958" stop-color="#2e79f6"/>
<stop offset="1.000" stop-color="#3173fa"/>
</linearGradient>
<linearGradient id="ha26" x1="0" x2="1" y1="0" y2="0">
<stop offset="0.000" stop-color="#fabe36"/>
<stop offset="0.042" stop-color="#f9bb37"/>
<stop offset="0.083" stop-color="#f8b739"/>
<stop offset="0.125" stop-color="#f4b739"/>
<stop offset="0.167" stop-color="#eeb837"/>
<stop offset="0.208" stop-color="#e6b935"/>
<stop offset="0.250" stop-color="#dbbb32"/>
<stop offset="0.292" stop-color="#d0bd2f"/>
<stop offset="0.333" stop-color="#c5be2f"/>
<stop offset="0.375" stop-color="#bcc033"/>
<stop offset="0.417" stop-color="#b3c137"/>
<stop offset="0.458" stop-color="#abc23c"/>
<stop offset="0.500" stop-color="#a2c340"/>
<stop offset="0.542" stop-color="#8ec64a"/>
<stop offset="0.583" stop-color="#79c75b"/>
<stop offset="0.625" stop-color="#62c76f"/>
<stop offset="0.667" stop-color="#3ec68f"/>
<stop offset="0.708" stop-color="#15bab9"/>
<stop offset="0.750" stop-color="#12aacf"/>
<stop offset="0.792" stop-color="#1b9add"/>
<stop offset="0.833" stop-color="#248ae9"/>
<stop offset="0.875" stop-color="#2784ee"/>
<stop offset="0.917" stop-color="#2b7ef2"/>
<stop offset="0.958" stop-color="#2e79f6"/>
<stop offset="1.000" stop-color="#3173fa"/>
</linearGradient>
<linearGradient id="cbar" x1="0" x2="1" y1="0" y2="0">
<stop offset="0.000" stop-color="#3e26a8"/>
<stop offset="0.031" stop-color="#402eba"/>
<stop offset="0.062" stop-color="#4337cc"/>
<stop offset="0.094" stop-color="#463fdd"/>
<stop offset="0.125" stop-color="#424be8"/>
<stop offset="0.156" stop-color="#3d58f0"/>
<stop offset="0.188" stop-color="#3865f8"/>
<stop offset="0.219" stop-color="#3370fc"/>
<stop offset="0.250" stop-color="#2e78f7"/>
<stop offset="0.281" stop-color="#2a80f1"/>
<stop offset="0.312" stop-color="#2588eb"/>
<stop offset="0.344" stop-color="#218fe5"/>
<stop offset="0.375" stop-color="#1c98de"/>
<stop offset="0.406" stop-color="#16a1d6"/>
<stop offset="0.438" stop-color="#11abce"/>
<stop offset="0.469" stop-color="#0cb4c7"/>
<stop offset="0.500" stop-color="#14baba"/>
<stop offset="0.531" stop-color="#24beaa"/>
<stop offset="0.562" stop-color="#33c39a"/>
<stop offset="0.594" stop-color="#43c78a"/>
<stop offset="0.625" stop-color="#58c878"/>
<stop offset="0.656" stop-color="#6dc765"/>
<stop offset="0.688" stop-color="#83c652"/>
<stop offset="0.719" stop-color="#9ac444"/>
<stop offset="0.750" stop-color="#b2c138"/>
<stop offset="0.781" stop-color="#c9be2d"/>
<stop offset="0.812" stop-color="#e2ba34"/>
<stop offset="0.844" stop-color="#f8b839"/>
<stop offset="0.875" stop-color="#fbc432"/>
<stop offset="0.906" stop-color="#fdd12b"/>
<stop offset="0.938" stop-color="#fddf24"/>
<stop offset="0.969" stop-color="#fbed1c"/>
<stop offset="1.000" stop-color="#f9fb15"/>
</linearGradient>
</defs>
<rect x="103.3" y="82.10" width="449.2" height="16.86" fill="url(#ha0)"/>
<rect x="103.3" y="97.46" width="449.2" height="16.86" fill="url(#ha1)"/>
<rect x="103.3" y="112.81" width="449.2" height="16.86" fill="url(#ha2)"/>
<rect x="103.3" y="128.17" width="449.2" height="16.86" fill="url(#ha3)"/>
<rect x="103.3" y="143.52" width="449.2" height="16.86" fill="url(#ha4)"/>
<rect x="103.3" y="158.88" width="449.2" height="16.86" fill="url(#ha5)"/>
<rect x="103.3" y="174.23" width="449.2" height="16.86" fill="url(#ha6)"/>
<rect x="103.3" y="189.59" width="449.2" height="16.86" fill="url(#ha7)"/>
<rect x="103.3" y="204.94" width="449.2" height="16.86" fill="url(#ha8)"/>
<rect x="103.3" y="220.30" width="449.2" height="16.86" fill="url(#ha9)"/>
<rect x="103.3" y="235.66" width="449.2" height="16.86" fill="url(#ha10)"/>
<rect x="103.3" y="251.01" width="449.2" height="16.86" fill="url(#ha11)"/>
<rect x="103.3" y="266.37" width="449.2" height="16.86" fill="url(#ha12)"/>
<rect x="103.3" y="281.72" width="449.2" height="16.86" fill="url(#ha13)"/>
<rect x="103.3" y="297.08" width="449.2" height="16.86" fill="url(#ha14)"/>
<rect x="103.3" y="312.43" width="449.2" height="16.86" fill="url(#ha15)"/>
<rect x="103.3" y="327.79" width="449.2" height="16.86" fill="url(#ha16)"/>
<rect x="103.3" y="343.14" width="449.2" height="16.86" fill="url(#ha17)"/>
<rect x="103.3" y="358.50" width="449.2" height="16.86" fill="url(#ha18)"/>
<rect x="103.3" y="373.86" width="449.2" height="16.86" fill="url(#ha19)"/>
<rect x="103.3" y="389.21" width="449.2" height="16.86" fill="url(#ha20)"/>
<rect x="103.3" y="404.57" width="449.2" height="16.86" fill="url(#ha21)"/>
<rect x="103.3" y="419.92" width="449.2" height="16.86" fill="url(#ha22)"/>
<rect x="103.3" y="435.28" width="449.2" height="16.86" fill="url(#ha23)"/>
<rect x="103.3" y="450.63" width="449.2" height="16.86" fill="url(#ha24)"/>
<rect x="103.3" y="465.99" width="449.2" height="16.86" fill="url(#ha25)"/>
<rect x="103.3" y="481.34" width="449.2" height="15.66" fill="url(#ha26)"/>
<line x1="104.8" y1="227.3" x2="551.5" y2="227.3" stroke="#fff" stroke-width="3.3" stroke-dasharray="33.1 18.9"/>
<path d="M218.2 249.8 L236.6 268.2 M218.2 268.2 L236.6 249.8" stroke="#fff" stroke-width="6" stroke-linecap="butt"/>
<rect x="103.3" y="82.1" width="449.2" height="414.6" fill="none" stroke="#262626" stroke-width="2.20"/>
<line x1="160.4" y1="496.7" x2="160.4" y2="492.7" stroke="#262626" stroke-width="2.0"/>
<line x1="160.4" y1="82.1" x2="160.4" y2="86.1" stroke="#262626" stroke-width="2.0"/>
<line x1="328.0" y1="496.7" x2="328.0" y2="492.7" stroke="#262626" stroke-width="2.0"/>
<line x1="328.0" y1="82.1" x2="328.0" y2="86.1" stroke="#262626" stroke-width="2.0"/>
<line x1="495.6" y1="496.7" x2="495.6" y2="492.7" stroke="#262626" stroke-width="2.0"/>
<line x1="495.6" y1="82.1" x2="495.6" y2="86.1" stroke="#262626" stroke-width="2.0"/>
<line x1="103.3" y1="443.8" x2="107.3" y2="443.8" stroke="#262626" stroke-width="2.0"/>
<line x1="552.5" y1="443.8" x2="548.5" y2="443.8" stroke="#262626" stroke-width="2.0"/>
<line x1="103.3" y1="288.8" x2="107.3" y2="288.8" stroke="#262626" stroke-width="2.0"/>
<line x1="552.5" y1="288.8" x2="548.5" y2="288.8" stroke="#262626" stroke-width="2.0"/>
<line x1="103.3" y1="133.8" x2="107.3" y2="133.8" stroke="#262626" stroke-width="2.0"/>
<line x1="552.5" y1="133.8" x2="548.5" y2="133.8" stroke="#262626" stroke-width="2.0"/>
<rect x="389" y="43" width="165" height="28" fill="url(#cbar)"/>
<text transform="translate(386.0,33.3) scale(1,1.050)" font-size="30.5" text-anchor="middle" fill="#262626" font-weight="normal" font-style="normal" >0</text>
<text transform="translate(473.3,33.3) scale(1,1.050)" font-size="30.5" text-anchor="middle" fill="#262626" font-weight="normal" font-style="normal" >10</text>
<text transform="translate(553.3,33.3) scale(1,1.050)" font-size="30.5" text-anchor="middle" fill="#262626" font-weight="normal" font-style="normal" >20</text>
<text transform="translate(101.0,59.0) scale(1,1.050)" font-size="38.0" text-anchor="start" fill="#000" font-weight="bold" font-style="normal" >a</text>
<text transform="translate(149,59.6) scale(1,1.050)" font-size="34" fill="#262626"><tspan font-style="italic">R</tspan><tspan font-size="23.5" dy="8.7">hard</tspan><tspan dy="-8.7"> (k&#937;)</tspan></text>
<text transform="translate(160.4,538.0) scale(1,1.050)" font-size="33.5" text-anchor="middle" fill="#262626" font-weight="normal" font-style="normal" >-5</text>
<text transform="translate(328.0,538.0) scale(1,1.050)" font-size="33.5" text-anchor="middle" fill="#262626" font-weight="normal" font-style="normal" >0</text>
<text transform="translate(495.6,538.0) scale(1,1.050)" font-size="33.5" text-anchor="middle" fill="#262626" font-weight="normal" font-style="normal" >5</text>
<text transform="translate(88.0,455.8) scale(1,1.050)" font-size="33.5" text-anchor="end" fill="#262626" font-weight="normal" font-style="normal" >-5</text>
<text transform="translate(88.0,300.8) scale(1,1.050)" font-size="33.5" text-anchor="end" fill="#262626" font-weight="normal" font-style="normal" >0</text>
<text transform="translate(88.0,145.8) scale(1,1.050)" font-size="33.5" text-anchor="end" fill="#262626" font-weight="normal" font-style="normal" >5</text>
<text transform="translate(320,572) scale(1,1.050)" font-size="34" text-anchor="middle" fill="#262626"><tspan font-style="italic">V</tspan><tspan font-size="23.5" dy="8.7">bg</tspan><tspan dy="-8.7"> (V)</tspan></text>
<text transform="translate(30,298) rotate(-90) scale(1,1.050)" font-size="34" text-anchor="middle" fill="#262626"><tspan font-style="italic">V</tspan><tspan font-size="23.5" dy="8.7">tg</tspan><tspan dy="-8.7"> (V)</tspan></text>
<clipPath id="hb1"><rect x="676.9" y="46.2" width="226.1" height="226.3"/></clipPath>
<g clip-path="url(#hb1)">
<path d="M595.0 46.2L599.5 46.2L662.2 272.5L657.7 272.5ZM605.8 46.2L610.3 46.2L673.0 272.5L668.5 272.5ZM616.6 46.2L621.1 46.2L683.8 272.5L679.3 272.5ZM627.4 46.2L631.9 46.2L694.6 272.5L690.1 272.5ZM638.2 46.2L642.7 46.2L705.4 272.5L700.9 272.5ZM649.0 46.2L653.5 46.2L716.2 272.5L711.7 272.5ZM659.8 46.2L664.3 46.2L727.0 272.5L722.5 272.5ZM670.6 46.2L675.1 46.2L737.8 272.5L733.3 272.5ZM681.4 46.2L685.9 46.2L748.6 272.5L744.1 272.5ZM692.2 46.2L696.7 46.2L759.4 272.5L754.9 272.5ZM703.0 46.2L707.5 46.2L770.2 272.5L765.7 272.5ZM713.8 46.2L718.3 46.2L781.0 272.5L776.5 272.5ZM724.6 46.2L729.1 46.2L791.8 272.5L787.3 272.5ZM735.4 46.2L739.9 46.2L802.6 272.5L798.1 272.5ZM746.2 46.2L750.7 46.2L813.4 272.5L808.9 272.5ZM757.0 46.2L761.5 46.2L824.2 272.5L819.7 272.5ZM767.8 46.2L772.3 46.2L835.0 272.5L830.5 272.5ZM778.6 46.2L783.1 46.2L845.8 272.5L841.3 272.5ZM789.4 46.2L793.9 46.2L856.6 272.5L852.1 272.5ZM800.2 46.2L804.7 46.2L867.4 272.5L862.9 272.5ZM811.0 46.2L815.5 46.2L878.2 272.5L873.7 272.5ZM821.8 46.2L826.3 46.2L889.0 272.5L884.5 272.5ZM832.6 46.2L837.1 46.2L899.8 272.5L895.3 272.5ZM843.4 46.2L847.9 46.2L910.6 272.5L906.1 272.5ZM854.2 46.2L858.7 46.2L921.4 272.5L916.9 272.5ZM865.0 46.2L869.5 46.2L932.2 272.5L927.7 272.5ZM875.8 46.2L880.3 46.2L943.0 272.5L938.5 272.5ZM886.6 46.2L891.1 46.2L953.8 272.5L949.3 272.5ZM897.4 46.2L901.9 46.2L964.6 272.5L960.1 272.5ZM908.2 46.2L912.7 46.2L975.4 272.5L970.9 272.5Z" fill="#bfbfbf"/>
</g>
<clipPath id="hb2"><rect x="676.7" y="313.3" width="226.1" height="225.9"/></clipPath>
<g clip-path="url(#hb2)">
<path d="M595.0 313.3L599.5 313.3L662.1 539.2L657.6 539.2ZM605.8 313.3L610.3 313.3L672.9 539.2L668.4 539.2ZM616.6 313.3L621.1 313.3L683.7 539.2L679.2 539.2ZM627.4 313.3L631.9 313.3L694.5 539.2L690.0 539.2ZM638.2 313.3L642.7 313.3L705.3 539.2L700.8 539.2ZM649.0 313.3L653.5 313.3L716.1 539.2L711.6 539.2ZM659.8 313.3L664.3 313.3L726.9 539.2L722.4 539.2ZM670.6 313.3L675.1 313.3L737.7 539.2L733.2 539.2ZM681.4 313.3L685.9 313.3L748.5 539.2L744.0 539.2ZM692.2 313.3L696.7 313.3L759.3 539.2L754.8 539.2ZM703.0 313.3L707.5 313.3L770.1 539.2L765.6 539.2ZM713.8 313.3L718.3 313.3L780.9 539.2L776.4 539.2ZM724.6 313.3L729.1 313.3L791.7 539.2L787.2 539.2ZM735.4 313.3L739.9 313.3L802.5 539.2L798.0 539.2ZM746.2 313.3L750.7 313.3L813.3 539.2L808.8 539.2ZM757.0 313.3L761.5 313.3L824.1 539.2L819.6 539.2ZM767.8 313.3L772.3 313.3L834.9 539.2L830.4 539.2ZM778.6 313.3L783.1 313.3L845.7 539.2L841.2 539.2ZM789.4 313.3L793.9 313.3L856.5 539.2L852.0 539.2ZM800.2 313.3L804.7 313.3L867.3 539.2L862.8 539.2ZM811.0 313.3L815.5 313.3L878.1 539.2L873.6 539.2ZM821.8 313.3L826.3 313.3L888.9 539.2L884.4 539.2ZM832.6 313.3L837.1 313.3L899.7 539.2L895.2 539.2ZM843.4 313.3L847.9 313.3L910.5 539.2L906.0 539.2ZM854.2 313.3L858.7 313.3L921.3 539.2L916.8 539.2ZM865.0 313.3L869.5 313.3L932.1 539.2L927.6 539.2ZM875.8 313.3L880.3 313.3L942.9 539.2L938.4 539.2ZM886.6 313.3L891.1 313.3L953.7 539.2L949.2 539.2ZM897.4 313.3L901.9 313.3L964.5 539.2L960.0 539.2ZM908.2 313.3L912.7 313.3L975.3 539.2L970.8 539.2Z" fill="#bfbfbf"/>
</g>
<rect x="695.5" y="142.6" width="29.0" height="23.0" rx="3" ry="3" fill="#ff0000" stroke="#d40000" stroke-width="1.8" transform="rotate(5.0 710.0 154.1)"/>
<rect x="728.5" y="84.5" width="27.0" height="23.0" rx="3" ry="3" fill="#ff0000" stroke="#d40000" stroke-width="1.8" transform="rotate(-40.0 742.0 96.0)"/>
<rect x="787.3" y="66.8" width="23.0" height="28.0" rx="3" ry="3" fill="#ff0000" stroke="#d40000" stroke-width="1.8" transform="rotate(8.0 798.8 80.8)"/>
<rect x="838.7" y="104.5" width="28.0" height="23.0" rx="3" ry="3" fill="#ff0000" stroke="#d40000" stroke-width="1.8" transform="rotate(-35.0 852.7 116.0)"/>
<rect x="852.8" y="164.2" width="28.0" height="21.0" rx="3" ry="3" fill="#fff0a0" stroke="#d4a000" stroke-width="1.8" transform="rotate(8.0 866.8 174.7)"/>
<rect x="710.6" y="201.8" width="27.0" height="23.0" rx="3" ry="3" fill="#fff0a0" stroke="#d4a000" stroke-width="1.8" transform="rotate(-35.0 724.1 213.3)"/>
<rect x="769.1" y="225.5" width="22.0" height="28.0" rx="3" ry="3" fill="#fff0a0" stroke="#d4a000" stroke-width="1.8" transform="rotate(8.0 780.1 239.5)"/>
<rect x="828.4" y="208.7" width="23.0" height="28.0" rx="3" ry="3" fill="#fff0a0" stroke="#d4a000" stroke-width="1.8" transform="rotate(-35.0 839.9 222.7)"/>
<path d="M725.5 37 C713 55 713 75 732 86" fill="none" stroke="#c00000" stroke-width="3"/>
<path d="M777 20 C796 30 802 45 800 67" fill="none" stroke="#c00000" stroke-width="3"/>
<circle cx="751.3" cy="25.9" r="24" fill="#fff" stroke="#c00000" stroke-width="3"/>
<text transform="translate(751.3,36.5) scale(1,1.050)" font-size="28.0" text-anchor="middle" fill="#000" font-weight="normal" font-style="normal" >V</text>
<path d="M862 104 C872 88 893 86 902 100 C907 108 909 116 909 126" fill="none" stroke="#c00000" stroke-width="3"/>
<path d="M902.5 125.5 L916.5 125.5 L909.3 147 Z" fill="#fff" stroke="#c00000" stroke-width="2.6"/>
<path d="M642 117.5 C660 118 665 128 668 136 C672 146 678 149 684 150" fill="none" stroke="#c00000" stroke-width="3"/>
<path d="M677 142 L695 153 L680 158 Z" fill="#c00000"/>
<text transform="translate(652.7,102.7) scale(1,1.050)" font-size="28.0" text-anchor="middle" fill="#000" font-weight="normal" font-style="normal" >I</text>
<text transform="translate(583.3,172.0) scale(1,1.050)" font-size="31.7" text-anchor="start" fill="#c00000" font-weight="normal" font-style="normal" >Hard</text>
<text transform="translate(602.5,57.3) scale(1,1.050)" font-size="35.0" text-anchor="start" fill="#000" font-weight="bold" font-style="normal" >b</text>
<rect x="785.1" y="338.0" width="22.0" height="28.0" rx="3" ry="3" fill="#4a7bd0" stroke="#3564b8" stroke-width="1.8" transform="rotate(8.0 796.1 352.0)"/>
<rect x="832.0" y="373.8" width="28.0" height="23.0" rx="3" ry="3" fill="#4a7bd0" stroke="#3564b8" stroke-width="1.8" transform="rotate(-35.0 846.0 385.3)"/>
<rect x="845.3" y="429.0" width="28.0" height="22.0" rx="3" ry="3" fill="#4a7bd0" stroke="#3564b8" stroke-width="1.8" transform="rotate(5.0 859.3 440.0)"/>
<rect x="822.5" y="471.3" width="23.0" height="28.0" rx="3" ry="3" fill="#4a7bd0" stroke="#3564b8" stroke-width="1.8" transform="rotate(-40.0 834.0 485.3)"/>
<rect x="728.5" y="355.2" width="27.0" height="23.0" rx="3" ry="3" fill="#fff0a0" stroke="#d4a000" stroke-width="1.8" transform="rotate(-35.0 742.0 366.7)"/>
<rect x="697.3" y="410.3" width="28.0" height="22.0" rx="3" ry="3" fill="#fff0a0" stroke="#d4a000" stroke-width="1.8" transform="rotate(5.0 711.3 421.3)"/>
<rect x="712.0" y="465.8" width="27.0" height="23.0" rx="3" ry="3" fill="#fff0a0" stroke="#d4a000" stroke-width="1.8" transform="rotate(-35.0 725.5 477.3)"/>
<rect x="767.0" y="488.0" width="22.0" height="28.0" rx="3" ry="3" fill="#fff0a0" stroke="#d4a000" stroke-width="1.8" transform="rotate(8.0 778.0 502.0)"/>
<path d="M760.7 298.7 C770 307 785 303 792 312 C796 317 797 322 797 328" fill="none" stroke="#2f5597" stroke-width="3"/>
<path d="M788 320 L805 320 L797 337 Z" fill="#2f5597"/>
<text transform="translate(746.0,309.3) scale(1,1.050)" font-size="28.0" text-anchor="middle" fill="#000" font-weight="normal" font-style="normal" >I</text>
<path d="M858 376 C868 362 885 357 901 358.5 C912 359.5 920 363 927 368" fill="none" stroke="#2f5597" stroke-width="3"/>
<path d="M874 440 L900 441 C915 438 928 430 933 420" fill="none" stroke="#2f5597" stroke-width="3"/>
<circle cx="931.3" cy="393.3" r="24" fill="#fff" stroke="#2f5597" stroke-width="3"/>
<text transform="translate(931.3,404.0) scale(1,1.050)" font-size="28.0" text-anchor="middle" fill="#000" font-weight="normal" font-style="normal" >V</text>
<path d="M843 496 C852 503 862 507 866 516 C868 522 868 527 868 534" fill="none" stroke="#2f5597" stroke-width="3"/>
<path d="M861 534 L875.5 534 L868.2 556 Z" fill="#fff" stroke="#2f5597" stroke-width="2.6"/>
<text transform="translate(583.3,429.3) scale(1,1.050)" font-size="31.7" text-anchor="start" fill="#2f5597" font-weight="normal" font-style="normal" >Easy</text>
<clipPath id="clf"><rect x="1071.1" y="15.4" width="429.4" height="498.4"/></clipPath>
<g clip-path="url(#clf)">
<path d="M1083.8 431.1l37.1 4.2l27.5 2.9l22 2.4l18 2.9l22.6 1.7l24.7 1.8l24.1 2.5l27.2 2.8l24 2.5l29 3.9l32.8 2.4l38.9 2.5l37.1 2.1l27.2 .7" fill="none" stroke="#93ade0" stroke-width="3.80" stroke-linejoin="round" stroke-linecap="round" />
<rect x="1077.8" y="425.1" width="12" height="12" fill="none" stroke="#93ade0" stroke-width="3.1"/>
<rect x="1114.9" y="429.3" width="12" height="12" fill="none" stroke="#93ade0" stroke-width="3.1"/>
<rect x="1142.4" y="432.2" width="12" height="12" fill="none" stroke="#93ade0" stroke-width="3.1"/>
<rect x="1164.4" y="434.6" width="12" height="12" fill="none" stroke="#93ade0" stroke-width="3.1"/>
<rect x="1182.4" y="437.5" width="12" height="12" fill="none" stroke="#93ade0" stroke-width="3.1"/>
<rect x="1205.0" y="439.2" width="12" height="12" fill="none" stroke="#93ade0" stroke-width="3.1"/>
<rect x="1229.7" y="441.0" width="12" height="12" fill="none" stroke="#93ade0" stroke-width="3.1"/>
<rect x="1253.8" y="443.5" width="12" height="12" fill="none" stroke="#93ade0" stroke-width="3.1"/>
<rect x="1281.0" y="446.3" width="12" height="12" fill="none" stroke="#93ade0" stroke-width="3.1"/>
<rect x="1305.0" y="448.8" width="12" height="12" fill="none" stroke="#93ade0" stroke-width="3.1"/>
<rect x="1334.0" y="452.7" width="12" height="12" fill="none" stroke="#93ade0" stroke-width="3.1"/>
<rect x="1366.8" y="455.1" width="12" height="12" fill="none" stroke="#93ade0" stroke-width="3.1"/>
<rect x="1405.7" y="457.6" width="12" height="12" fill="none" stroke="#93ade0" stroke-width="3.1"/>
<rect x="1442.8" y="459.7" width="12" height="12" fill="none" stroke="#93ade0" stroke-width="3.1"/>
<rect x="1470.0" y="460.4" width="12" height="12" fill="none" stroke="#93ade0" stroke-width="3.1"/>
<path d="M1083.8 112l37.1 54.1l27.5 37.8l22 15.9l18 8.1l22.6 30.1l24.7 15.9l24.1 15.9l27.2 26.5l24 17.6l29 20.5l32.8 13.1l38.9 25.4l37.1 18.8l27.2 12.3" fill="none" stroke="#f0ab83" stroke-width="3.80" stroke-linejoin="round" stroke-linecap="round" />
<rect x="1077.8" y="106.0" width="12" height="12" fill="none" stroke="#f0ab83" stroke-width="3.1"/>
<rect x="1114.9" y="160.1" width="12" height="12" fill="none" stroke="#f0ab83" stroke-width="3.1"/>
<rect x="1142.4" y="197.9" width="12" height="12" fill="none" stroke="#f0ab83" stroke-width="3.1"/>
<rect x="1164.4" y="213.8" width="12" height="12" fill="none" stroke="#f0ab83" stroke-width="3.1"/>
<rect x="1182.4" y="221.9" width="12" height="12" fill="none" stroke="#f0ab83" stroke-width="3.1"/>
<rect x="1205.0" y="252.0" width="12" height="12" fill="none" stroke="#f0ab83" stroke-width="3.1"/>
<rect x="1229.7" y="267.9" width="12" height="12" fill="none" stroke="#f0ab83" stroke-width="3.1"/>
<rect x="1253.8" y="283.8" width="12" height="12" fill="none" stroke="#f0ab83" stroke-width="3.1"/>
<rect x="1281.0" y="310.3" width="12" height="12" fill="none" stroke="#f0ab83" stroke-width="3.1"/>
<rect x="1305.0" y="327.9" width="12" height="12" fill="none" stroke="#f0ab83" stroke-width="3.1"/>
<rect x="1334.0" y="348.4" width="12" height="12" fill="none" stroke="#f0ab83" stroke-width="3.1"/>
<rect x="1366.8" y="361.5" width="12" height="12" fill="none" stroke="#f0ab83" stroke-width="3.1"/>
<rect x="1405.7" y="386.9" width="12" height="12" fill="none" stroke="#f0ab83" stroke-width="3.1"/>
<rect x="1442.8" y="405.7" width="12" height="12" fill="none" stroke="#f0ab83" stroke-width="3.1"/>
<rect x="1470.0" y="418.0" width="12" height="12" fill="none" stroke="#f0ab83" stroke-width="3.1"/>
<path d="M1083.8 379.5l37.1 -.7l27.5 0l22 0l18 0l22.6 -.4l24.7 .4l24.1 0l27.2 .4l24 .3l29 0l32.8 0l38.9 .7l37.1 .7l38.9 .7" fill="none" stroke="#0072bd" stroke-width="4.40" stroke-linejoin="round" stroke-linecap="round" />
<circle cx="1083.8" cy="379.5" r="7.7" fill="#0072bd"/>
<circle cx="1120.9" cy="378.8" r="7.7" fill="#0072bd"/>
<circle cx="1148.4" cy="378.8" r="7.7" fill="#0072bd"/>
<circle cx="1170.4" cy="378.8" r="7.7" fill="#0072bd"/>
<circle cx="1188.4" cy="378.8" r="7.7" fill="#0072bd"/>
<circle cx="1211.0" cy="378.4" r="7.7" fill="#0072bd"/>
<circle cx="1235.7" cy="378.8" r="7.7" fill="#0072bd"/>
<circle cx="1259.8" cy="378.8" r="7.7" fill="#0072bd"/>
<circle cx="1287.0" cy="379.2" r="7.7" fill="#0072bd"/>
<circle cx="1311.0" cy="379.5" r="7.7" fill="#0072bd"/>
<circle cx="1340.0" cy="379.5" r="7.7" fill="#0072bd"/>
<circle cx="1372.8" cy="379.5" r="7.7" fill="#0072bd"/>
<circle cx="1411.7" cy="380.2" r="7.7" fill="#0072bd"/>
<circle cx="1448.8" cy="380.9" r="7.7" fill="#0072bd"/>
<circle cx="1487.7" cy="381.6" r="7.7" fill="#0072bd"/>
<path d="M1083.8 63.6l37.1 66.4l27.5 43.1l22 -10.6l18 26.5l22.6 13.5l24.7 14.8l24.1 17.7l27.2 16.6l24 11.7l29 17.6l32.8 10.6l38.9 13.1l37.1 8.1l38.9 8.1" fill="none" stroke="#d95319" stroke-width="4.40" stroke-linejoin="round" stroke-linecap="round" />
<circle cx="1083.8" cy="63.6" r="7.7" fill="#d95319"/>
<circle cx="1120.9" cy="130.0" r="7.7" fill="#d95319"/>
<circle cx="1148.4" cy="173.1" r="7.7" fill="#d95319"/>
<circle cx="1170.4" cy="162.5" r="7.7" fill="#d95319"/>
<circle cx="1188.4" cy="189.0" r="7.7" fill="#d95319"/>
<circle cx="1211.0" cy="202.5" r="7.7" fill="#d95319"/>
<circle cx="1235.7" cy="217.3" r="7.7" fill="#d95319"/>
<circle cx="1259.8" cy="235.0" r="7.7" fill="#d95319"/>
<circle cx="1287.0" cy="251.6" r="7.7" fill="#d95319"/>
<circle cx="1311.0" cy="263.3" r="7.7" fill="#d95319"/>
<circle cx="1340.0" cy="280.9" r="7.7" fill="#d95319"/>
<circle cx="1372.8" cy="291.5" r="7.7" fill="#d95319"/>
<circle cx="1411.7" cy="304.6" r="7.7" fill="#d95319"/>
<circle cx="1448.8" cy="312.7" r="7.7" fill="#d95319"/>
<circle cx="1487.7" cy="320.8" r="7.7" fill="#d95319"/>
</g>
<path d="M1134.5 85.5 Q1115 90 1107.5 106" fill="none" stroke="#d95319" stroke-width="1.8"/>
<path d="M1138 123.5 Q1122 182 1102.5 378" fill="none" stroke="#0072bd" stroke-width="1.8"/>
<path d="M1258 198 Q1232 216 1208.5 249" fill="none" stroke="#f0ab83" stroke-width="1.8"/>
<path d="M1256 221 Q1200 314 1182 436" fill="none" stroke="#93ade0" stroke-width="1.8"/>
<rect x="1079.1" y="15.4" width="413.4" height="498.4" fill="none" stroke="#262626" stroke-width="1.90"/>
<line x1="1166.1" y1="513.8" x2="1166.1" y2="510.0" stroke="#262626" stroke-width="2.0"/>
<line x1="1166.1" y1="15.4" x2="1166.1" y2="19.2" stroke="#262626" stroke-width="2.0"/>
<line x1="1411.7" y1="513.8" x2="1411.7" y2="510.0" stroke="#262626" stroke-width="2.0"/>
<line x1="1411.7" y1="15.4" x2="1411.7" y2="19.2" stroke="#262626" stroke-width="2.0"/>
<line x1="1079.1" y1="503.6" x2="1082.9" y2="503.6" stroke="#262626" stroke-width="2.0"/>
<line x1="1492.5" y1="503.6" x2="1488.7" y2="503.6" stroke="#262626" stroke-width="2.0"/>
<line x1="1079.1" y1="411.7" x2="1082.9" y2="411.7" stroke="#262626" stroke-width="2.0"/>
<line x1="1492.5" y1="411.7" x2="1488.7" y2="411.7" stroke="#262626" stroke-width="2.0"/>
<line x1="1079.1" y1="319.8" x2="1082.9" y2="319.8" stroke="#262626" stroke-width="2.0"/>
<line x1="1492.5" y1="319.8" x2="1488.7" y2="319.8" stroke="#262626" stroke-width="2.0"/>
<line x1="1079.1" y1="227.9" x2="1082.9" y2="227.9" stroke="#262626" stroke-width="2.0"/>
<line x1="1492.5" y1="227.9" x2="1488.7" y2="227.9" stroke="#262626" stroke-width="2.0"/>
<line x1="1079.1" y1="136.0" x2="1082.9" y2="136.0" stroke="#262626" stroke-width="2.0"/>
<line x1="1492.5" y1="136.0" x2="1488.7" y2="136.0" stroke="#262626" stroke-width="2.0"/>
<line x1="1079.1" y1="44.1" x2="1082.9" y2="44.1" stroke="#262626" stroke-width="2.0"/>
<line x1="1492.5" y1="44.1" x2="1488.7" y2="44.1" stroke="#262626" stroke-width="2.0"/>
<line x1="1079.1" y1="512.5" x2="1081.5" y2="512.5" stroke="#262626" stroke-width="1.8"/>
<line x1="1492.5" y1="512.5" x2="1490.1" y2="512.5" stroke="#262626" stroke-width="1.8"/>
<line x1="1079.1" y1="507.8" x2="1081.5" y2="507.8" stroke="#262626" stroke-width="1.8"/>
<line x1="1492.5" y1="507.8" x2="1490.1" y2="507.8" stroke="#262626" stroke-width="1.8"/>
<line x1="1079.1" y1="475.9" x2="1081.5" y2="475.9" stroke="#262626" stroke-width="1.8"/>
<line x1="1492.5" y1="475.9" x2="1490.1" y2="475.9" stroke="#262626" stroke-width="1.8"/>
<line x1="1079.1" y1="459.8" x2="1081.5" y2="459.8" stroke="#262626" stroke-width="1.8"/>
<line x1="1492.5" y1="459.8" x2="1490.1" y2="459.8" stroke="#262626" stroke-width="1.8"/>
<line x1="1079.1" y1="448.3" x2="1081.5" y2="448.3" stroke="#262626" stroke-width="1.8"/>
<line x1="1492.5" y1="448.3" x2="1490.1" y2="448.3" stroke="#262626" stroke-width="1.8"/>
<line x1="1079.1" y1="439.4" x2="1081.5" y2="439.4" stroke="#262626" stroke-width="1.8"/>
<line x1="1492.5" y1="439.4" x2="1490.1" y2="439.4" stroke="#262626" stroke-width="1.8"/>
<line x1="1079.1" y1="432.1" x2="1081.5" y2="432.1" stroke="#262626" stroke-width="1.8"/>
<line x1="1492.5" y1="432.1" x2="1490.1" y2="432.1" stroke="#262626" stroke-width="1.8"/>
<line x1="1079.1" y1="425.9" x2="1081.5" y2="425.9" stroke="#262626" stroke-width="1.8"/>
<line x1="1492.5" y1="425.9" x2="1490.1" y2="425.9" stroke="#262626" stroke-width="1.8"/>
<line x1="1079.1" y1="420.6" x2="1081.5" y2="420.6" stroke="#262626" stroke-width="1.8"/>
<line x1="1492.5" y1="420.6" x2="1490.1" y2="420.6" stroke="#262626" stroke-width="1.8"/>
<line x1="1079.1" y1="415.9" x2="1081.5" y2="415.9" stroke="#262626" stroke-width="1.8"/>
<line x1="1492.5" y1="415.9" x2="1490.1" y2="415.9" stroke="#262626" stroke-width="1.8"/>
<line x1="1079.1" y1="384.0" x2="1081.5" y2="384.0" stroke="#262626" stroke-width="1.8"/>
<line x1="1492.5" y1="384.0" x2="1490.1" y2="384.0" stroke="#262626" stroke-width="1.8"/>
<line x1="1079.1" y1="367.9" x2="1081.5" y2="367.9" stroke="#262626" stroke-width="1.8"/>
<line x1="1492.5" y1="367.9" x2="1490.1" y2="367.9" stroke="#262626" stroke-width="1.8"/>
<line x1="1079.1" y1="356.4" x2="1081.5" y2="356.4" stroke="#262626" stroke-width="1.8"/>
<line x1="1492.5" y1="356.4" x2="1490.1" y2="356.4" stroke="#262626" stroke-width="1.8"/>
<line x1="1079.1" y1="347.5" x2="1081.5" y2="347.5" stroke="#262626" stroke-width="1.8"/>
<line x1="1492.5" y1="347.5" x2="1490.1" y2="347.5" stroke="#262626" stroke-width="1.8"/>
<line x1="1079.1" y1="340.2" x2="1081.5" y2="340.2" stroke="#262626" stroke-width="1.8"/>
<line x1="1492.5" y1="340.2" x2="1490.1" y2="340.2" stroke="#262626" stroke-width="1.8"/>
<line x1="1079.1" y1="334.0" x2="1081.5" y2="334.0" stroke="#262626" stroke-width="1.8"/>
<line x1="1492.5" y1="334.0" x2="1490.1" y2="334.0" stroke="#262626" stroke-width="1.8"/>
<line x1="1079.1" y1="328.7" x2="1081.5" y2="328.7" stroke="#262626" stroke-width="1.8"/>
<line x1="1492.5" y1="328.7" x2="1490.1" y2="328.7" stroke="#262626" stroke-width="1.8"/>
<line x1="1079.1" y1="324.0" x2="1081.5" y2="324.0" stroke="#262626" stroke-width="1.8"/>
<line x1="1492.5" y1="324.0" x2="1490.1" y2="324.0" stroke="#262626" stroke-width="1.8"/>
<line x1="1079.1" y1="292.1" x2="1081.5" y2="292.1" stroke="#262626" stroke-width="1.8"/>
<line x1="1492.5" y1="292.1" x2="1490.1" y2="292.1" stroke="#262626" stroke-width="1.8"/>
<line x1="1079.1" y1="276.0" x2="1081.5" y2="276.0" stroke="#262626" stroke-width="1.8"/>
<line x1="1492.5" y1="276.0" x2="1490.1" y2="276.0" stroke="#262626" stroke-width="1.8"/>
<line x1="1079.1" y1="264.5" x2="1081.5" y2="264.5" stroke="#262626" stroke-width="1.8"/>
<line x1="1492.5" y1="264.5" x2="1490.1" y2="264.5" stroke="#262626" stroke-width="1.8"/>
<line x1="1079.1" y1="255.6" x2="1081.5" y2="255.6" stroke="#262626" stroke-width="1.8"/>
<line x1="1492.5" y1="255.6" x2="1490.1" y2="255.6" stroke="#262626" stroke-width="1.8"/>
<line x1="1079.1" y1="248.3" x2="1081.5" y2="248.3" stroke="#262626" stroke-width="1.8"/>
<line x1="1492.5" y1="248.3" x2="1490.1" y2="248.3" stroke="#262626" stroke-width="1.8"/>
<line x1="1079.1" y1="242.1" x2="1081.5" y2="242.1" stroke="#262626" stroke-width="1.8"/>
<line x1="1492.5" y1="242.1" x2="1490.1" y2="242.1" stroke="#262626" stroke-width="1.8"/>
<line x1="1079.1" y1="236.8" x2="1081.5" y2="236.8" stroke="#262626" stroke-width="1.8"/>
<line x1="1492.5" y1="236.8" x2="1490.1" y2="236.8" stroke="#262626" stroke-width="1.8"/>
<line x1="1079.1" y1="232.1" x2="1081.5" y2="232.1" stroke="#262626" stroke-width="1.8"/>
<line x1="1492.5" y1="232.1" x2="1490.1" y2="232.1" stroke="#262626" stroke-width="1.8"/>
<line x1="1079.1" y1="200.2" x2="1081.5" y2="200.2" stroke="#262626" stroke-width="1.8"/>
<line x1="1492.5" y1="200.2" x2="1490.1" y2="200.2" stroke="#262626" stroke-width="1.8"/>
<line x1="1079.1" y1="184.1" x2="1081.5" y2="184.1" stroke="#262626" stroke-width="1.8"/>
<line x1="1492.5" y1="184.1" x2="1490.1" y2="184.1" stroke="#262626" stroke-width="1.8"/>
<line x1="1079.1" y1="172.6" x2="1081.5" y2="172.6" stroke="#262626" stroke-width="1.8"/>
<line x1="1492.5" y1="172.6" x2="1490.1" y2="172.6" stroke="#262626" stroke-width="1.8"/>
<line x1="1079.1" y1="163.7" x2="1081.5" y2="163.7" stroke="#262626" stroke-width="1.8"/>
<line x1="1492.5" y1="163.7" x2="1490.1" y2="163.7" stroke="#262626" stroke-width="1.8"/>
<line x1="1079.1" y1="156.4" x2="1081.5" y2="156.4" stroke="#262626" stroke-width="1.8"/>
<line x1="1492.5" y1="156.4" x2="1490.1" y2="156.4" stroke="#262626" stroke-width="1.8"/>
<line x1="1079.1" y1="150.2" x2="1081.5" y2="150.2" stroke="#262626" stroke-width="1.8"/>
<line x1="1492.5" y1="150.2" x2="1490.1" y2="150.2" stroke="#262626" stroke-width="1.8"/>
<line x1="1079.1" y1="144.9" x2="1081.5" y2="144.9" stroke="#262626" stroke-width="1.8"/>
<line x1="1492.5" y1="144.9" x2="1490.1" y2="144.9" stroke="#262626" stroke-width="1.8"/>
<line x1="1079.1" y1="140.2" x2="1081.5" y2="140.2" stroke="#262626" stroke-width="1.8"/>
<line x1="1492.5" y1="140.2" x2="1490.1" y2="140.2" stroke="#262626" stroke-width="1.8"/>
<line x1="1079.1" y1="108.3" x2="1081.5" y2="108.3" stroke="#262626" stroke-width="1.8"/>
<line x1="1492.5" y1="108.3" x2="1490.1" y2="108.3" stroke="#262626" stroke-width="1.8"/>
<line x1="1079.1" y1="92.2" x2="1081.5" y2="92.2" stroke="#262626" stroke-width="1.8"/>
<line x1="1492.5" y1="92.2" x2="1490.1" y2="92.2" stroke="#262626" stroke-width="1.8"/>
<line x1="1079.1" y1="80.7" x2="1081.5" y2="80.7" stroke="#262626" stroke-width="1.8"/>
<line x1="1492.5" y1="80.7" x2="1490.1" y2="80.7" stroke="#262626" stroke-width="1.8"/>
<line x1="1079.1" y1="71.8" x2="1081.5" y2="71.8" stroke="#262626" stroke-width="1.8"/>
<line x1="1492.5" y1="71.8" x2="1490.1" y2="71.8" stroke="#262626" stroke-width="1.8"/>
<line x1="1079.1" y1="64.5" x2="1081.5" y2="64.5" stroke="#262626" stroke-width="1.8"/>
<line x1="1492.5" y1="64.5" x2="1490.1" y2="64.5" stroke="#262626" stroke-width="1.8"/>
<line x1="1079.1" y1="58.3" x2="1081.5" y2="58.3" stroke="#262626" stroke-width="1.8"/>
<line x1="1492.5" y1="58.3" x2="1490.1" y2="58.3" stroke="#262626" stroke-width="1.8"/>
<line x1="1079.1" y1="53.0" x2="1081.5" y2="53.0" stroke="#262626" stroke-width="1.8"/>
<line x1="1492.5" y1="53.0" x2="1490.1" y2="53.0" stroke="#262626" stroke-width="1.8"/>
<line x1="1079.1" y1="48.3" x2="1081.5" y2="48.3" stroke="#262626" stroke-width="1.8"/>
<line x1="1492.5" y1="48.3" x2="1490.1" y2="48.3" stroke="#262626" stroke-width="1.8"/>
<line x1="1079.1" y1="16.4" x2="1081.5" y2="16.4" stroke="#262626" stroke-width="1.8"/>
<line x1="1492.5" y1="16.4" x2="1490.1" y2="16.4" stroke="#262626" stroke-width="1.8"/>
<line x1="1092.2" y1="513.8" x2="1092.2" y2="511.4" stroke="#262626" stroke-width="1.8"/>
<line x1="1092.2" y1="15.4" x2="1092.2" y2="17.8" stroke="#262626" stroke-width="1.8"/>
<line x1="1111.6" y1="513.8" x2="1111.6" y2="511.4" stroke="#262626" stroke-width="1.8"/>
<line x1="1111.6" y1="15.4" x2="1111.6" y2="17.8" stroke="#262626" stroke-width="1.8"/>
<line x1="1128.1" y1="513.8" x2="1128.1" y2="511.4" stroke="#262626" stroke-width="1.8"/>
<line x1="1128.1" y1="15.4" x2="1128.1" y2="17.8" stroke="#262626" stroke-width="1.8"/>
<line x1="1142.3" y1="513.8" x2="1142.3" y2="511.4" stroke="#262626" stroke-width="1.8"/>
<line x1="1142.3" y1="15.4" x2="1142.3" y2="17.8" stroke="#262626" stroke-width="1.8"/>
<line x1="1154.9" y1="513.8" x2="1154.9" y2="511.4" stroke="#262626" stroke-width="1.8"/>
<line x1="1154.9" y1="15.4" x2="1154.9" y2="17.8" stroke="#262626" stroke-width="1.8"/>
<line x1="1240.0" y1="513.8" x2="1240.0" y2="511.4" stroke="#262626" stroke-width="1.8"/>
<line x1="1240.0" y1="15.4" x2="1240.0" y2="17.8" stroke="#262626" stroke-width="1.8"/>
<line x1="1283.3" y1="513.8" x2="1283.3" y2="511.4" stroke="#262626" stroke-width="1.8"/>
<line x1="1283.3" y1="15.4" x2="1283.3" y2="17.8" stroke="#262626" stroke-width="1.8"/>
<line x1="1314.0" y1="513.8" x2="1314.0" y2="511.4" stroke="#262626" stroke-width="1.8"/>
<line x1="1314.0" y1="15.4" x2="1314.0" y2="17.8" stroke="#262626" stroke-width="1.8"/>
<line x1="1337.8" y1="513.8" x2="1337.8" y2="511.4" stroke="#262626" stroke-width="1.8"/>
<line x1="1337.8" y1="15.4" x2="1337.8" y2="17.8" stroke="#262626" stroke-width="1.8"/>
<line x1="1357.2" y1="513.8" x2="1357.2" y2="511.4" stroke="#262626" stroke-width="1.8"/>
<line x1="1357.2" y1="15.4" x2="1357.2" y2="17.8" stroke="#262626" stroke-width="1.8"/>
<line x1="1373.7" y1="513.8" x2="1373.7" y2="511.4" stroke="#262626" stroke-width="1.8"/>
<line x1="1373.7" y1="15.4" x2="1373.7" y2="17.8" stroke="#262626" stroke-width="1.8"/>
<line x1="1387.9" y1="513.8" x2="1387.9" y2="511.4" stroke="#262626" stroke-width="1.8"/>
<line x1="1387.9" y1="15.4" x2="1387.9" y2="17.8" stroke="#262626" stroke-width="1.8"/>
<line x1="1400.5" y1="513.8" x2="1400.5" y2="511.4" stroke="#262626" stroke-width="1.8"/>
<line x1="1400.5" y1="15.4" x2="1400.5" y2="17.8" stroke="#262626" stroke-width="1.8"/>
<line x1="1485.6" y1="513.8" x2="1485.6" y2="511.4" stroke="#262626" stroke-width="1.8"/>
<line x1="1485.6" y1="15.4" x2="1485.6" y2="17.8" stroke="#262626" stroke-width="1.8"/>
<text transform="translate(1069.1,520.1) scale(1,1.050)" font-size="33.5" text-anchor="end" fill="#262626">10<tspan font-size="21.8" dy="-10.2">-1</tspan></text>
<text transform="translate(1069.1,428.2) scale(1,1.050)" font-size="33.5" text-anchor="end" fill="#262626">10<tspan font-size="21.8" dy="-10.2">0</tspan></text>
<text transform="translate(1069.1,336.3) scale(1,1.050)" font-size="33.5" text-anchor="end" fill="#262626">10<tspan font-size="21.8" dy="-10.2">1</tspan></text>
<text transform="translate(1069.1,244.4) scale(1,1.050)" font-size="33.5" text-anchor="end" fill="#262626">10<tspan font-size="21.8" dy="-10.2">2</tspan></text>
<text transform="translate(1069.1,152.5) scale(1,1.050)" font-size="33.5" text-anchor="end" fill="#262626">10<tspan font-size="21.8" dy="-10.2">3</tspan></text>
<text transform="translate(1069.1,60.6) scale(1,1.050)" font-size="33.5" text-anchor="end" fill="#262626">10<tspan font-size="21.8" dy="-10.2">4</tspan></text>
<text transform="translate(1192.6,553.0) scale(1,1.050)" font-size="33.5" text-anchor="end" fill="#262626">10<tspan font-size="21.8" dy="-10.2">-1</tspan></text>
<text transform="translate(1433.0,553.0) scale(1,1.050)" font-size="33.5" text-anchor="end" fill="#262626">10<tspan font-size="21.8" dy="-10.2">0</tspan></text>
<text transform="translate(1287,574.2) scale(1,1.050)" font-size="33" text-anchor="middle" fill="#262626"><tspan font-style="italic">T</tspan> (K)</text>
<text transform="translate(998,277) rotate(-90) scale(1,1.050)" font-size="34" text-anchor="middle" fill="#262626" font-style="italic">&#946;</text>
<text transform="translate(1104.5,58.6) scale(1,1.050)" font-size="36.0" text-anchor="start" fill="#000" font-weight="bold" font-style="normal" >f</text>
<text transform="translate(1194.4,67.2) scale(1,1.050)" font-size="28.3" text-anchor="start" fill="#000" font-weight="bold" font-style="normal" >Device 1</text>
<text transform="translate(1314.5,174.9) scale(1,1.050)" font-size="28.3" text-anchor="start" fill="#000" font-weight="bold" font-style="normal" >Device 2</text>
<line x1="1139.6" y1="88.3" x2="1175.0" y2="88.3" stroke="#d95319" stroke-width="4.4"/>
<circle cx="1157.3" cy="88.3" r="7.7" fill="#d95319"/>
<text transform="translate(1180.2,99.0) scale(1,1.050)" font-size="28.5" fill="#000">-2.6&#215;10<tspan font-size="19" dy="-10.5">12</tspan><tspan dy="10.5"> cm</tspan><tspan font-size="19" dy="-10.5">-2</tspan></text>
<line x1="1139.6" y1="117.2" x2="1175.0" y2="117.2" stroke="#0072bd" stroke-width="4.4"/>
<circle cx="1157.3" cy="117.2" r="7.7" fill="#0072bd"/>
<text transform="translate(1190.8,129.0) scale(1,1.050)" font-size="28.5" fill="#000">4.6&#215;10<tspan font-size="19" dy="-10.5">12</tspan><tspan dy="10.5"> cm</tspan><tspan font-size="19" dy="-10.5">-2</tspan></text>
<line x1="1263.3" y1="194.3" x2="1298.6" y2="194.3" stroke="#f0ab83" stroke-width="3.8"/>
<rect x="1274.9" y="188.3" width="12" height="12" fill="none" stroke="#f0ab83" stroke-width="3.1"/>
<text transform="translate(1302.2,206.8) scale(1,1.050)" font-size="28.5" fill="#000">-1.0&#215;10<tspan font-size="19" dy="-10.5">12</tspan><tspan dy="10.5"> cm</tspan><tspan font-size="19" dy="-10.5">-2</tspan></text>
<line x1="1263.3" y1="222.6" x2="1298.6" y2="222.6" stroke="#93ade0" stroke-width="3.8"/>
<rect x="1274.9" y="216.6" width="12" height="12" fill="none" stroke="#93ade0" stroke-width="3.1"/>
<text transform="translate(1311.0,235.0) scale(1,1.050)" font-size="28.5" fill="#000">4.7&#215;10<tspan font-size="19" dy="-10.5">12</tspan><tspan dy="10.5"> cm</tspan><tspan font-size="19" dy="-10.5">-2</tspan></text>
<clipPath id="clc"><rect x="103.9" y="608.0" width="377.4" height="408.8"/></clipPath>
<g clip-path="url(#clc)">
<path d="M103.9 903.3l.9 -.1l1 -.1l.9 0l1 .3l.9 .5l1 .2l.9 0l1 -.1l.9 .3l1 .3l.9 -.3l1 .1l.9 .2l.9 0l1 0l.9 -.5l1 .1l.9 -.2l1 .5l.9 .1l1 .6l.9 .2l1 .4l.9 -.5l.9 -.1l1 .2l.9 .7l1 -.1l.9 0l1 -.2l.9 .3l1 .5l.9 .2l1 .3l.9 .1l1 .2l.9 .1l.9 0l1 .3l.9 -.1l1 .1l.9 .5l1 .1l.9 .3l1 -.1l.9 .3l1 .4l.9 .3l.9 0l1 -.3l.9 .1l1 .3l.9 .2l1 0l.9 .3l1 .2l.9 -.1l1 -.1l.9 -.4l1 .2l.9 -.4l.9 0l1 -.1l.9 .4l1 .4l.9 -.4l1 -.4l.9 -.2l1 -.3l.9 0l1 -.2l.9 .7l.9 .1l1 -.1l.9 -.5l1 -.3l.9 .4l1 -.1l.9 -.1l1 -.4l.9 0l1 0l.9 -.4l1 0l.9 -.1l.9 .5l1 .2l.9 .1l1 -.2l.9 -.2l1 .3l.9 -.1l1 .3l.9 -.5l1 .2l.9 -.5l.9 -.1l1 0l.9 .3l1 .6l.9 .7l1 .1l.9 0l1 -.4l.9 .5l1 .2l.9 0l1 .2l.9 .3l.9 0l1 -.1l.9 .1l1 .1l.9 .2l1 -.1l.9 .6l1 .2l.9 .3l1 -.2l.9 0l.9 -.4l1 0l.9 .3l1 .1l.9 .5l1 -.3l.9 .8l1 -.3l.9 .7l1 0l.9 0l1 .2l.9 .4l.9 .5l1 -.2l.9 -.3l1 0l.9 .4l1 .1l.9 .3l1 -.3l.9 .1l1 -.1l.9 .6l1 .3l.9 .7l.9 -.1l1 0l.9 -.1l1 0l.9 .3l1 .2l.9 .2l1 -.1l.9 .1l1 .6l.9 .4l.9 .2l1 -.1l.9 .7l1 .1l.9 .1l1 -.2l.9 .2l1 .4l.9 .4l1 .7l.9 -.1l1 .4l.9 .1l.9 .5l1 -.1l.9 .1l1 .7l.9 .4l1 .7l.9 0l1 .3l.9 .1l1 .5l.9 .4l.9 .4l1 .2l.9 .6l1 .6l.9 .4l1 -.1l.9 -.1l1 .5l.9 .7l1 .7l.9 .2l1 .4l.9 .6l.9 .5l1 .1l.9 .6l1 0l.9 .7l1 .3l.9 .9l1 .7l.9 .7l1 0l.9 -.3l.9 .3l1 .6l.9 .9l1 .5l.9 .3l1 .1l.9 .3l1 .9l.9 1l1 .5l.9 .3l1 .2l.9 .4l.9 .5l1 .5l.9 .6l1 .7l.9 1l1 .1l.9 .4l1 .1l.9 .5l1 .7l.9 .5l.9 .8l1 .5l.9 1.1l1 .1l.9 .6l1 0l.9 .7l1 0l.9 .4l1 .6l.9 .8l1 .6l.9 .2l.9 .8l1 .4l.9 .1l1 0l.9 0l1 .3l.9 .5l1 1.2l.9 1.3l1 .3l.9 -.1l.9 .7l1 .8l.9 .7l1 .2l.9 .5l1 .6l.9 .6l1 .6l.9 0l1 .5l.9 .3l1 .9l.9 .1l.9 .6l1 .3l.9 .5l1 .9l.9 .8l1 .7l.9 .3l1 .3l.9 0l1 .3l.9 .4l1 1.2l.9 .1l.9 .5l1 .4l.9 1l1 .6l.9 .6l1 .5l.9 .3l1 .3l.9 -.3l1 .9l.9 .8l.9 1.1l1 .2l.9 .2l1 .2l.9 .2l1 .3l.9 .4l1 .8l.9 .6l1 .3l.9 -.1l1 .1l.9 .8l.9 .6l1 .6l.9 -.1l1 0l.9 .4l1 .6l.9 .5l1 .4l.9 .1l1 .4l.9 .1l.9 .3l1 .1l.9 .9l1 .2l.9 .7l1 .4l.9 .4l1 .1l.9 -.1l1 .4l.9 .1l1 .4l.9 .7l.9 .4l1 0l.9 -.5l1 .4l.9 -.1l1 .2l.9 .4l1 .3l.9 .6l1 .3l.9 .4l.9 0l1 .3l.9 0l1 -.1l.9 -.6l1 .2l.9 .6l1 .7l.9 -.1l1 -.5l.9 -.2l1 .4l.9 .3l.9 .3l1 .1l.9 .1l1 .1l.9 .1l1 .2l.9 .2l1 .5l.9 .3l1 0l.9 -.7l.9 .1l1 -.3l.9 .2l1 .3l.9 .7l1 .5l.9 -.5l1 -.1l.9 0l1 .7l.9 .8l1 .3l.9 -.1l.9 -.7l1 .1l.9 .3l1 .1l.9 .2l1 -.1l.9 .7l1 .4l.9 .7l1 -.3l.9 .1l.9 -.2l1 .2l.9 0l1 -.2l.9 -.1l1 .5l.9 .4l1 .5l.9 .2l1 -.2l.9 -.1l1 0l.9 .6" fill="none" stroke="#ff0000" stroke-width="6.00" stroke-linejoin="round" stroke-linecap="round" />
<path d="M103.9 891.9l.9 -.3l1 -.4l.9 .1l1 .4l.9 -.3l1 .2l.9 .1l1 .8l.9 -.4l1 -.1l.9 -.5l1 .8l.9 .1l.9 .8l1 -.5l.9 .2l1 -.6l.9 .2l1 .2l.9 .2l1 .3l.9 -.2l1 .1l.9 -.4l.9 -.1l1 .3l.9 .1l1 .1l.9 .1l1 .1l.9 .1l1 .3l.9 .6l1 .2l.9 .2l1 -.1l.9 .4l.9 .5l1 .2l.9 .8l1 -.2l.9 .4l1 -.2l.9 .1l1 .2l.9 .1l1 .4l.9 0l.9 -.1l1 -.1l.9 .1l1 .6l.9 -.1l1 .1l.9 -.6l1 .5l.9 -.2l1 0l.9 -.1l1 .6l.9 .2l.9 -.1l1 -.4l.9 .2l1 .4l.9 0l1 .1l.9 0l1 -.1l.9 .2l1 -.4l.9 -.1l.9 -.6l1 .6l.9 .2l1 .4l.9 -.4l1 .1l.9 -.1l1 .5l.9 -.3l1 -.3l.9 -.6l1 -.1l.9 .6l.9 .5l1 .1l.9 -.4l1 -.2l.9 .6l1 -.3l.9 .2l1 -.5l.9 .9l1 -.3l.9 .2l.9 -.5l1 .1l.9 .4l1 .7l.9 .2l1 -.5l.9 -.5l1 .1l.9 .3l1 .6l.9 .3l1 -.1l.9 .2l.9 .3l1 .7l.9 .7l1 .1l.9 -.3l1 -.3l.9 0l1 .1l.9 .1l1 0l.9 .4l.9 .1l1 .4l.9 -.1l1 0l.9 -.2l1 .1l.9 .2l1 .5l.9 .2l1 0l.9 .1l1 -.2l.9 .4l.9 0l1 0l.9 .3l1 .3l.9 .6l1 0l.9 0l1 0l.9 .2l1 .1l.9 .5l1 -.1l.9 .4l.9 .2l1 .4l.9 0l1 .3l.9 -.1l1 .4l.9 .2l1 .7l.9 .2l1 .1l.9 .1l.9 .3l1 .5l.9 .4l1 -.2l.9 .3l1 .5l.9 .9l1 .2l.9 -.3l1 .3l.9 .2l1 .1l.9 .2l.9 .1l1 .6l.9 .2l1 1l.9 .6l1 .6l.9 .5l1 .8l.9 .3l1 0l.9 -.3l.9 .2l1 .5l.9 .8l1 .5l.9 .5l1 .1l.9 .3l1 .3l.9 .7l1 .7l.9 .3l1 .3l.9 .3l.9 .2l1 .2l.9 .6l1 .8l.9 1l1 0l.9 .5l1 .3l.9 .8l1 .1l.9 .6l.9 1l1 1.2l.9 .5l1 .4l.9 .6l1 .1l.9 .5l1 .6l.9 1.4l1 1l.9 .7l1 .5l.9 .3l.9 .5l1 .4l.9 .5l1 .6l.9 1.2l1 .6l.9 .3l1 .2l.9 .9l1 .6l.9 .9l.9 0l1 .5l.9 .2l1 .9l.9 .9l1 .2l.9 .2l1 .3l.9 .8l1 .4l.9 .7l1 .8l.9 1l.9 .2l1 .6l.9 .4l1 .9l.9 .1l1 .4l.9 .3l1 .6l.9 .9l1 .5l.9 .5l.9 .4l1 .3l.9 1l1 .3l.9 .5l1 .6l.9 1.2l1 1.1l.9 .3l1 0l.9 .4l1 .5l.9 .3l.9 .2l1 .6l.9 .6l1 .1l.9 .1l1 .9l.9 .7l1 .9l.9 .4l1 .8l.9 .5l1 .6l.9 .1l.9 .5l1 .2l.9 .9l1 .6l.9 .6l1 .1l.9 .4l1 .8l.9 .2l1 .3l.9 .2l.9 1.4l1 .9l.9 .4l1 0l.9 .7l1 .4l.9 .1l1 .2l.9 .6l1 .6l.9 0l1 .8l.9 .6l.9 .6l1 .1l.9 -.5l1 .4l.9 .2l1 1l.9 .4l1 .3l.9 -.1l1 .2l.9 .3l.9 .7l1 .1l.9 .4l1 -.1l.9 .7l1 .5l.9 1.1l1 .4l.9 .3l1 -.4l.9 -.4l1 -.1l.9 .6l.9 .5l1 0l.9 .4l1 -.2l.9 .8l1 .1l.9 .4l1 .1l.9 .1l1 .1l.9 -.2l.9 .3l1 .7l.9 1l1 .5l.9 -.1l1 -.5l.9 .1l1 0l.9 .3l1 -.3l.9 .2l1 0l.9 .2l.9 -.2l1 .2l.9 .7l1 .3l.9 .2l1 -.3l.9 .3l1 -.1l.9 0l1 .2l.9 .4l.9 .3l1 .2l.9 0l1 .1l.9 -.3l1 .6l.9 -.3l1 .1l.9 -.3l1 .7l.9 .5l1 .6l.9 -.4l.9 .2l1 -.2l.9 .3l1 .1l.9 0l1 -.2l.9 0l1 0l.9 .5l1 .3l.9 .6l.9 .6l1 .1l.9 -.3l1 -.4l.9 0l1 .2l.9 .4l1 .2l.9 0l1 .2l.9 .3l1 .7l.9 0" fill="none" stroke="#e60019" stroke-width="4.20" stroke-linejoin="round" stroke-linecap="round" />
<path d="M103.9 880.5l.9 -.2l1 -.1l.9 -.3l1 -.6l.9 -.2l1 -.2l.9 .3l1 -.3l.9 .5l1 0l.9 .1l1 -.7l.9 .1l.9 .5l1 .4l.9 .4l1 0l.9 .4l1 -.1l.9 0l1 0l.9 .7l1 -.4l.9 -.4l.9 -.8l1 .4l.9 0l1 .3l.9 .1l1 .3l.9 .2l1 .2l.9 0l1 .2l.9 .4l1 .8l.9 .7l.9 0l1 .2l.9 .5l1 .8l.9 .3l1 -.3l.9 .1l1 0l.9 0l1 -.2l.9 .5l.9 .4l1 .6l.9 -.4l1 .2l.9 -.3l1 .2l.9 .4l1 .4l.9 .1l1 -.6l.9 .1l1 .6l.9 .1l.9 -.2l1 -.2l.9 .3l1 .6l.9 .5l1 .1l.9 .1l1 -.6l.9 .1l1 .3l.9 .4l.9 -.2l1 -.4l.9 .2l1 -.2l.9 0l1 -.2l.9 .4l1 .1l.9 0l1 -.1l.9 .3l1 0l.9 -.1l.9 .1l1 .4l.9 .1l1 .1l.9 0l1 0l.9 .1l1 -.3l.9 .5l1 .5l.9 .8l.9 -.3l1 -.4l.9 -.4l1 .2l.9 .2l1 -.3l.9 .3l1 -.3l.9 .8l1 -.1l.9 .1l1 0l.9 .4l.9 .5l1 .3l.9 0l1 -.3l.9 .3l1 .4l.9 .6l1 -.1l.9 .1l1 -.1l.9 -.1l.9 -.2l1 .4l.9 0l1 .4l.9 -.3l1 .3l.9 .2l1 .3l.9 .1l1 -.2l.9 .5l1 .8l.9 .1l.9 .1l1 0l.9 .2l1 .1l.9 0l1 .2l.9 0l1 .2l.9 .3l1 .2l.9 0l1 .5l.9 .4l.9 .5l1 .2l.9 .3l1 .6l.9 -.2l1 .3l.9 -.3l1 .9l.9 .5l1 -.1l.9 -.3l.9 0l1 1l.9 .7l1 .2l.9 .2l1 .3l.9 .4l1 .5l.9 -.3l1 .5l.9 -.1l1 1.1l.9 .2l.9 .5l1 .3l.9 .3l1 .5l.9 0l1 .6l.9 .8l1 1.1l.9 .4l1 .6l.9 .2l.9 .5l1 .2l.9 .7l1 .3l.9 .2l1 .1l.9 .4l1 .3l.9 .7l1 .3l.9 .7l1 .1l.9 .8l.9 .6l1 .7l.9 1.1l1 .6l.9 1.2l1 .4l.9 .4l1 .1l.9 .5l1 .8l.9 .8l.9 .4l1 .2l.9 .6l1 .2l.9 1.2l1 .5l.9 1l1 .5l.9 .9l1 .5l.9 .3l1 .3l.9 .5l.9 .9l1 1.3l.9 1l1 1.1l.9 0l1 1l.9 .5l1 1l.9 .7l1 1.2l.9 .7l.9 .5l1 0l.9 .8l1 .5l.9 1l1 .5l.9 1.1l1 0l.9 .5l1 .4l.9 1l1 .5l.9 .3l.9 .4l1 .8l.9 1.2l1 1.2l.9 .3l1 -.2l.9 .2l1 1.1l.9 .6l1 .5l.9 .6l.9 1l1 .6l.9 .1l1 0l.9 .5l1 .3l.9 1.1l1 .6l.9 1.2l1 .8l.9 1l1 .2l.9 .3l.9 .6l1 .6l.9 .2l1 .3l.9 .3l1 1.2l.9 0l1 .6l.9 .2l1 1l.9 .9l1 .6l.9 .6l.9 .7l1 0l.9 .5l1 .1l.9 1l1 .6l.9 .4l1 .3l.9 .6l1 .8l.9 .4l.9 .7l1 .9l.9 .3l1 0l.9 .5l1 .9l.9 .4l1 -.2l.9 .1l1 .3l.9 .3l1 .7l.9 .4l.9 .4l1 -.1l.9 .5l1 .3l.9 .6l1 .6l.9 .7l1 .5l.9 .3l1 .3l.9 .2l.9 .2l1 .5l.9 .1l1 .7l.9 .2l1 .3l.9 -.1l1 .2l.9 .5l1 .2l.9 .7l1 0l.9 -.1l.9 -.2l1 0l.9 .7l1 .6l.9 .9l1 -.1l.9 -.3l1 .5l.9 .5l1 .4l.9 0l.9 .7l1 .4l.9 0l1 -.4l.9 0l1 0l.9 -.2l1 0l.9 .1l1 .3l.9 .2l1 .9l.9 -.1l.9 .1l1 -.4l.9 .4l1 .4l.9 .1l1 -.2l.9 -.5l1 0l.9 .5l1 .5l.9 .1l.9 0l1 .1l.9 .5l1 .1l.9 .1l1 -.4l.9 0l1 .6l.9 .1l1 .3l.9 -.2l1 .6l.9 0l.9 .1l1 .3l.9 .3l1 -.3l.9 .1l1 0l.9 .4l1 .3l.9 .5l1 .5l.9 -.1l.9 .3l1 .2l.9 .5l1 .3l.9 -.2l1 -.2l.9 .1l1 -.2l.9 .3l1 -.2l.9 .4l1 -.3l.9 0" fill="none" stroke="#cf0030" stroke-width="4.20" stroke-linejoin="round" stroke-linecap="round" />
<path d="M103.9 867.3l.9 -.4l1 -.6l.9 -.7l1 -.2l.9 -.2l1 .2l.9 .2l1 0l.9 -.5l1 -.6l.9 -.3l1 .1l.9 .7l.9 .7l1 .2l.9 .2l1 .5l.9 .4l1 -.4l.9 -.5l1 -.1l.9 0l1 .1l.9 0l.9 .1l1 0l.9 .1l1 -.4l.9 0l1 .3l.9 .7l1 .6l.9 .2l1 .3l.9 .6l1 .7l.9 .8l.9 .3l1 .5l.9 .4l1 -.5l.9 -.2l1 -.1l.9 .4l1 .3l.9 .4l1 .2l.9 -.3l.9 .2l1 .1l.9 0l1 -.3l.9 .3l1 .2l.9 .2l1 -.1l.9 .1l1 0l.9 .5l1 .3l.9 .4l.9 .2l1 1.2l.9 .1l1 .6l.9 -.5l1 .2l.9 -.1l1 .2l.9 .3l1 -.1l.9 -.3l.9 -.4l1 0l.9 .4l1 .6l.9 .1l1 .3l.9 .2l1 .1l.9 -.4l1 -.4l.9 -.1l1 .9l.9 .3l.9 .9l1 -.1l.9 .8l1 .1l.9 -.1l1 -.4l.9 -.2l1 .1l.9 -.1l1 0l.9 .3l.9 -.3l1 .1l.9 -.6l1 .5l.9 .1l1 .2l.9 .2l1 -.5l.9 .4l1 -.2l.9 .8l1 .1l.9 0l.9 0l1 .4l.9 1.3l1 .5l.9 .2l1 -.6l.9 .3l1 .4l.9 .4l1 -.4l.9 -.8l.9 .3l1 .7l.9 .6l1 .2l.9 -.3l1 -.2l.9 .2l1 -.2l.9 .5l1 -.1l.9 .8l1 .4l.9 .2l.9 -.2l1 -.2l.9 .1l1 .2l.9 .2l1 -.1l.9 .2l1 .1l.9 .2l1 -.1l.9 .7l1 .6l.9 1.1l.9 -.2l1 0l.9 0l1 .6l.9 .4l1 .5l.9 .3l1 .2l.9 -.4l1 .5l.9 .8l.9 .3l1 .1l.9 .4l1 .9l.9 .4l1 .4l.9 .4l1 .2l.9 .2l1 .4l.9 .7l1 .1l.9 .3l.9 .8l1 1.4l.9 .1l1 1l.9 -.1l1 1.3l.9 .2l1 1.1l.9 .3l1 0l.9 .4l.9 .3l1 .1l.9 1l1 .7l.9 1.4l1 -.5l.9 .6l1 .3l.9 1l1 .1l.9 -.1l1 .2l.9 .1l.9 .7l1 .8l.9 1.1l1 1.1l.9 .8l1 1.4l.9 1.1l1 .7l.9 .5l1 .3l.9 .6l.9 .7l1 .6l.9 .7l1 .2l.9 1.1l1 1.1l.9 .9l1 .7l.9 .2l1 .6l.9 .4l1 1.3l.9 1.6l.9 1.2l1 .3l.9 .4l1 .7l.9 1.2l1 .7l.9 1l1 .8l.9 .6l1 .6l.9 .2l.9 .8l1 .5l.9 1.1l1 .6l.9 1l1 .9l.9 .6l1 .4l.9 .4l1 1.2l.9 1.3l1 1.1l.9 .4l.9 .6l1 .1l.9 1.1l1 .2l.9 .3l1 1l.9 1.1l1 1.1l.9 .1l1 .2l.9 .9l.9 .2l1 .6l.9 .7l1 1l.9 1.1l1 .5l.9 1.1l1 .1l.9 .7l1 -.4l.9 .5l1 .9l.9 .8l.9 1l1 .3l.9 .6l1 .4l.9 .5l1 .7l.9 .9l1 .8l.9 .6l1 .2l.9 .5l1 .6l.9 1l.9 1.1l1 .8l.9 .2l1 -.1l.9 .1l1 .3l.9 .3l1 .6l.9 .6l1 .9l.9 .4l.9 .6l1 0l.9 .9l1 .6l.9 1.1l1 .2l.9 .7l1 -.1l.9 .4l1 .7l.9 .2l1 .5l.9 .2l.9 .8l1 .3l.9 .3l1 .1l.9 .3l1 -.1l.9 .4l1 .1l.9 .6l1 .6l.9 .6l.9 0l1 .8l.9 .5l1 .9l.9 -.3l1 .1l.9 .2l1 .5l.9 -.1l1 .4l.9 .8l1 .3l.9 .3l.9 -.4l1 .7l.9 .3l1 -.2l.9 .3l1 .2l.9 .5l1 0l.9 -.1l1 .1l.9 .7l.9 -.1l1 .5l.9 -.5l1 .5l.9 -.1l1 -.1l.9 -.1l1 0l.9 .6l1 .5l.9 .2l1 -.1l.9 .2l.9 .4l1 .8l.9 -.2l1 -.1l.9 -.2l1 .3l.9 .6l1 .2l.9 -.2l1 -.1l.9 0l.9 .6l1 .2l.9 0l1 -.4l.9 .3l1 .6l.9 .2l1 -.2l.9 0l1 -.2l.9 0l1 .3l.9 .5l.9 .5l1 .3l.9 .4l1 .1l.9 .3l1 .2l.9 0l1 -.1l.9 0l1 .1l.9 0l.9 0l1 -.1l.9 0l1 .2l.9 .5l1 -.2l.9 .1l1 .2l.9 .6l1 0l.9 .3l1 -.2l.9 .4" fill="none" stroke="#b60049" stroke-width="4.20" stroke-linejoin="round" stroke-linecap="round" />
<path d="M103.9 852l.9 -.7l1 -.4l.9 -.4l1 -.6l.9 0l1 -.7l.9 -.5l1 -.6l.9 .2l1 -.1l.9 .1l1 .4l.9 .2l.9 .6l1 .4l.9 .4l1 .3l.9 .5l1 .1l.9 -.4l1 -.8l.9 -.7l1 -.2l.9 -.2l.9 -.1l1 -.1l.9 .2l1 .4l.9 .5l1 0l.9 .5l1 .3l.9 1.2l1 .6l.9 .6l1 0l.9 .7l.9 .9l1 .7l.9 1l1 .2l.9 .4l1 -.3l.9 .2l1 -.7l.9 -.1l1 -.1l.9 .3l.9 -.5l1 .2l.9 0l1 .5l.9 -.2l1 .1l.9 .3l1 -.1l.9 0l1 .2l.9 .6l1 .5l.9 .3l.9 .4l1 .6l.9 .9l1 .3l.9 .7l1 0l.9 .2l1 -.1l.9 -.5l1 -.3l.9 -.5l.9 .3l1 .5l.9 .3l1 .3l.9 -.2l1 .5l.9 0l1 .6l.9 .1l1 .4l.9 .2l1 .2l.9 .6l.9 .8l1 .6l.9 0l1 -.1l.9 -.3l1 .4l.9 -.2l1 .5l.9 -.3l1 .3l.9 -.3l.9 .3l1 .3l.9 .1l1 -.3l.9 .2l1 .1l.9 -.1l1 .1l.9 -.1l1 .2l.9 -.3l1 .3l.9 .7l.9 .4l1 .7l.9 .3l1 .7l.9 -.5l1 0l.9 .1l1 .3l.9 0l1 -.7l.9 .3l.9 -.2l1 .8l.9 -.5l1 .5l.9 -.1l1 .8l.9 -.1l1 .2l.9 .6l1 .3l.9 .3l1 -.4l.9 .2l.9 .7l1 .7l.9 .3l1 -.5l.9 .1l1 .7l.9 .8l1 .2l.9 -.3l1 0l.9 -.3l1 .1l.9 .5l.9 .4l1 1.1l.9 .1l1 .3l.9 .1l1 .7l.9 .7l1 -.1l.9 .1l1 .7l.9 .6l.9 .2l1 .3l.9 .6l1 .4l.9 .1l1 .3l.9 .8l1 .6l.9 .9l1 .6l.9 .2l1 .3l.9 .6l.9 1.1l1 .8l.9 .3l1 .3l.9 .7l1 .5l.9 .4l1 .6l.9 .7l1 1.1l.9 0l.9 .4l1 .3l.9 .7l1 .8l.9 .2l1 .6l.9 .1l1 .7l.9 .4l1 .8l.9 .4l1 1l.9 .6l.9 1.2l1 .6l.9 1.4l1 .8l.9 1.1l1 .4l.9 1.2l1 .4l.9 .9l1 1l.9 1l.9 1l1 .8l.9 .9l1 .6l.9 .4l1 .5l.9 1.2l1 1l.9 .9l1 .4l.9 .6l1 1l.9 .8l.9 1l1 .5l.9 1.1l1 .7l.9 1.4l1 1.2l.9 .8l1 1.1l.9 .9l1 1l.9 .4l.9 .6l1 1.1l.9 .9l1 1.1l.9 1l1 1.3l.9 1.1l1 .5l.9 .3l1 .6l.9 .9l1 1.3l.9 .5l.9 1l1 .6l.9 1l1 .5l.9 .7l1 .6l.9 .6l1 .9l.9 .5l1 1.1l.9 .5l.9 1l1 .3l.9 .6l1 1l.9 .6l1 .4l.9 .1l1 .6l.9 1.5l1 .9l.9 .9l1 0l.9 .7l.9 .6l1 1.3l.9 .4l1 .6l.9 .3l1 .6l.9 .4l1 .5l.9 .3l1 .8l.9 .8l1 1l.9 .1l.9 .8l1 .7l.9 1.1l1 .5l.9 .3l1 .5l.9 .1l1 .6l.9 .3l1 .6l.9 .7l.9 .5l1 .5l.9 .1l1 .5l.9 .2l1 .4l.9 .3l1 .6l.9 .5l1 .3l.9 1l1 .7l.9 .7l.9 0l1 .6l.9 .3l1 .4l.9 0l1 .4l.9 .7l1 .4l.9 .8l1 -.2l.9 .5l.9 -.3l1 1l.9 .1l1 .5l.9 .2l1 .7l.9 0l1 0l.9 -.3l1 .6l.9 .3l1 .6l.9 0l.9 .2l1 .2l.9 .5l1 .7l.9 -.1l1 .1l.9 -.3l1 .8l.9 0l1 .2l.9 -.2l.9 .6l1 .2l.9 .4l1 .1l.9 .1l1 -.2l.9 .2l1 .3l.9 .5l1 .2l.9 .4l1 -.1l.9 -.3l.9 .3l1 .7l.9 .1l1 -.5l.9 -.3l1 .2l.9 0l1 .3l.9 0l1 .2l.9 .4l.9 .3l1 .4l.9 .1l1 .5l.9 .1l1 0l.9 -.2l1 .6l.9 .3l1 .1l.9 -.3l1 .2l.9 .5l.9 .6l1 .3l.9 -.1l1 -.3l.9 -.4l1 .3l.9 .2l1 1.1l.9 .1l1 -.4l.9 -.6l.9 .1l1 .4l.9 .1l1 0l.9 .5l1 .3l.9 0l1 .3l.9 0l1 .3l.9 -.4l1 .1l.9 .4" fill="none" stroke="#a2005d" stroke-width="4.20" stroke-linejoin="round" stroke-linecap="round" />
<path d="M103.9 836.8l.9 -.5l1 -.6l.9 -1l1 -.2l.9 -.2l1 -.1l.9 -1l1 -.7l.9 0l1 .7l.9 .3l1 .2l.9 -.3l.9 .3l1 .2l.9 .7l1 0l.9 .4l1 0l.9 -.2l1 -1.1l.9 -.8l1 -.5l.9 -.7l.9 -.2l1 .2l.9 .7l1 .7l.9 .5l1 .5l.9 .2l1 .3l.9 .6l1 .7l.9 .8l1 .9l.9 1l.9 1.1l1 .9l.9 .3l1 .3l.9 .3l1 -.1l.9 .4l1 -.6l.9 -.1l1 -.8l.9 .1l.9 .2l1 .6l.9 0l1 -.1l.9 -.4l1 .1l.9 -.1l1 .2l.9 0l1 .5l.9 .4l1 .8l.9 .3l.9 .4l1 1.3l.9 .6l1 1.2l.9 .1l1 .4l.9 -.5l1 .2l.9 .5l1 .1l.9 -.2l.9 -.1l1 .4l.9 .8l1 -.1l.9 .3l1 -.3l.9 1l1 .1l.9 .3l1 -.1l.9 .6l1 1.4l.9 .4l.9 .4l1 0l.9 .8l1 .2l.9 .2l1 -.1l.9 -.1l1 -.2l.9 -.2l1 -.2l.9 .2l.9 -.4l1 .4l.9 -.2l1 .3l.9 -.5l1 -.3l.9 .1l1 .4l.9 .1l1 .3l.9 .1l1 .5l.9 -.1l.9 1l1 .5l.9 .8l1 .4l.9 .4l1 -.5l.9 -.3l1 -.6l.9 .9l1 .5l.9 .1l.9 -.3l1 -.6l.9 .3l1 .3l.9 .5l1 -.1l.9 .5l1 -.2l.9 .7l1 .2l.9 .7l1 0l.9 -.1l.9 0l1 .4l.9 .7l1 .1l.9 .3l1 .1l.9 .7l1 .2l.9 .5l1 .2l.9 .3l1 .1l.9 .6l.9 -.4l1 .5l.9 -.2l1 .8l.9 -.2l1 .1l.9 .4l1 .6l.9 1.1l1 .2l.9 1l.9 .5l1 .8l.9 0l1 .2l.9 .4l1 .5l.9 .8l1 .7l.9 .4l1 .5l.9 .4l1 1l.9 1.2l.9 1l1 .6l.9 0l1 .2l.9 .5l1 1.3l.9 .9l1 1.2l.9 .4l1 .9l.9 .9l.9 .6l1 .4l.9 0l1 .8l.9 .3l1 .3l.9 -.1l1 .4l.9 .9l1 1.4l.9 .7l1 .9l.9 .4l.9 .9l1 .8l.9 1l1 1.1l.9 1.6l1 .6l.9 1.2l1 .6l.9 1.2l1 .8l.9 1l.9 1.1l1 1l.9 .8l1 .4l.9 1.2l1 1.2l.9 1.6l1 .8l.9 .1l1 .6l.9 .5l1 1.2l.9 1.2l.9 1l1 1.2l.9 .4l1 1.3l.9 1.2l1 1.4l.9 1l1 1.5l.9 1l1 .9l.9 .4l.9 1.5l1 1.7l.9 1.2l1 .5l.9 .3l1 1l.9 .9l1 1.3l.9 .9l1 1.1l.9 .7l1 .7l.9 1.2l.9 .4l1 .9l.9 .4l1 .9l.9 .5l1 .9l.9 .7l1 .4l.9 .7l1 1.3l.9 1.6l.9 1.1l1 .7l.9 .2l1 .6l.9 .5l1 .6l.9 .5l1 .7l.9 .9l1 .7l.9 .8l1 .7l.9 1.2l.9 .6l1 .7l.9 .5l1 .7l.9 .6l1 .5l.9 .9l1 1l.9 1l1 .1l.9 .3l1 .2l.9 1.1l.9 .5l1 .6l.9 .7l1 .7l.9 .4l1 .6l.9 .7l1 .7l.9 .4l1 .1l.9 .9l.9 .2l1 .4l.9 .2l1 .3l.9 .7l1 .5l.9 .7l1 .2l.9 -.4l1 .4l.9 .1l1 1.4l.9 .6l.9 1l1 .3l.9 .1l1 .3l.9 .4l1 .3l.9 .2l1 .8l.9 .5l1 .8l.9 .1l.9 .4l1 .1l.9 .5l1 .5l.9 .5l1 0l.9 0l1 .6l.9 .4l1 .4l.9 .3l1 .6l.9 .4l.9 -.2l1 .6l.9 .2l1 .4l.9 -.3l1 -.2l.9 -.3l1 .4l.9 .6l1 .5l.9 -.2l.9 -.3l1 .2l.9 .1l1 .7l.9 .5l1 1.2l.9 .2l1 -.3l.9 -.7l1 -.9l.9 .2l1 .3l.9 1.2l.9 .4l1 .3l.9 0l1 .2l.9 .3l1 -.1l.9 -.2l1 -.5l.9 .8l1 .6l.9 .6l.9 -.5l1 -.1l.9 -.1l1 .5l.9 .1l1 .3l.9 0l1 .4l.9 .1l1 .2l.9 -.1l1 0l.9 .4l.9 .2l1 .3l.9 -.2l1 -.1l.9 .3l1 0l.9 .7l1 0l.9 0l1 -.2l.9 -.1l.9 .3l1 .1l.9 .5l1 .2l.9 .6l1 -.2l.9 .3l1 -.1l.9 .2l1 .2l.9 .3l1 .1l.9 -.3" fill="none" stroke="#90006f" stroke-width="4.20" stroke-linejoin="round" stroke-linecap="round" />
<path d="M103.9 825.5l.9 -1.2l1 -.7l.9 -.1l1 -.6l.9 -.6l1 -.9l.9 -.9l1 -.3l.9 -.5l1 .8l.9 -.1l1 .1l.9 -.1l.9 .5l1 .7l.9 .5l1 0l.9 .3l1 0l.9 .3l1 -.5l.9 -.8l1 -.9l.9 -.5l.9 0l1 -.1l.9 0l1 .1l.9 .4l1 .8l.9 .7l1 .5l.9 .1l1 .5l.9 .5l1 1.4l.9 1l.9 1l1 .8l.9 .8l1 .8l.9 .4l1 .3l.9 -.3l1 -.1l.9 -.4l1 .3l.9 -.1l.9 -.3l1 -.3l.9 -.5l1 .1l.9 .2l1 -.1l.9 .1l1 .3l.9 .6l1 .5l.9 -.1l1 .5l.9 .5l.9 1.3l1 .9l.9 1.1l1 .6l.9 .6l1 0l.9 .3l1 0l.9 .4l1 0l.9 .2l.9 -.1l1 .2l.9 .4l1 .6l.9 .3l1 .5l.9 .3l1 .7l.9 .3l1 .1l.9 .5l1 .6l.9 .7l.9 .1l1 .2l.9 1.1l1 .4l.9 .1l1 -.3l.9 -.2l1 .8l.9 -.5l1 -.5l.9 -.5l.9 0l1 .3l.9 -.6l1 .1l.9 .4l1 0l.9 .1l1 -.5l.9 1l1 0l.9 .5l1 .3l.9 .7l.9 .5l1 .6l.9 .3l1 .2l.9 .5l1 0l.9 .3l1 -.5l.9 -.4l1 -.3l.9 -.3l.9 .2l1 .3l.9 .5l1 .1l.9 .3l1 .2l.9 .1l1 .3l.9 0l1 .9l.9 .4l1 .6l.9 -.2l.9 .2l1 .1l.9 .7l1 .2l.9 .2l1 .3l.9 .5l1 .3l.9 .3l1 0l.9 .3l1 .1l.9 .2l.9 .3l1 .2l.9 .9l1 .9l.9 .4l1 .5l.9 .1l1 .7l.9 .4l1 .6l.9 1.1l.9 .4l1 .2l.9 .3l1 .4l.9 .8l1 -.4l.9 .9l1 .9l.9 1.5l1 .6l.9 .8l1 .5l.9 .7l.9 .2l1 .8l.9 .8l1 1.1l.9 .6l1 .7l.9 .7l1 1l.9 .8l1 .7l.9 .5l.9 .3l1 1.1l.9 .5l1 .8l.9 .2l1 .9l.9 .1l1 .3l.9 .3l1 1.1l.9 .6l1 .5l.9 1l.9 1.5l1 1.5l.9 .8l1 1.1l.9 1.1l1 1.4l.9 .7l1 1l.9 .7l1 1l.9 1l.9 1l1 1.1l.9 1l1 .7l.9 1l1 1l.9 1.4l1 1.2l.9 .6l1 .5l.9 .9l1 1.4l.9 1.9l.9 1.2l1 .8l.9 .9l1 .9l.9 1.1l1 1.7l.9 1.5l1 1.8l.9 .6l1 1.5l.9 1l.9 1.2l1 .4l.9 .6l1 1l.9 1.6l1 1.4l.9 .7l1 .6l.9 .7l1 1.2l.9 1l1 1.2l.9 .7l.9 .9l1 .9l.9 1l1 .4l.9 .8l1 1.2l.9 1l1 .7l.9 .6l1 1.2l.9 1l.9 .2l1 .7l.9 .4l1 1l.9 .8l1 1l.9 1.1l1 1.4l.9 1l1 .7l.9 -.2l1 .5l.9 .3l.9 .8l1 .7l.9 .8l1 .8l.9 .7l1 .6l.9 .4l1 1l.9 1l1 1.2l.9 .8l1 .5l.9 .6l.9 0l1 1.2l.9 .7l1 .8l.9 -.2l1 .3l.9 .2l1 .6l.9 .6l1 .9l.9 .6l.9 .5l1 .2l.9 .7l1 .1l.9 .5l1 .5l.9 .3l1 1.1l.9 .2l1 1.2l.9 -.3l1 .7l.9 -.3l.9 .4l1 .3l.9 .9l1 .4l.9 .7l1 0l.9 .8l1 .2l.9 .7l1 0l.9 .6l.9 .4l1 .7l.9 -.3l1 -.1l.9 .1l1 .7l.9 .6l1 .4l.9 .1l1 .7l.9 .5l1 .2l.9 .3l.9 .4l1 .4l.9 -.2l1 -.2l.9 -.1l1 .3l.9 .5l1 .6l.9 .4l1 .3l.9 .2l.9 -.2l1 -.4l.9 0l1 .2l.9 .5l1 .3l.9 .1l1 0l.9 .2l1 .5l.9 .3l1 .3l.9 0l.9 .1l1 0l.9 .7l1 .2l.9 .4l1 .1l.9 .6l1 -.3l.9 .3l1 -.2l.9 .3l.9 -.3l1 .2l.9 .3l1 .1l.9 .3l1 0l.9 0l1 0l.9 .5l1 .7l.9 -.3l1 .2l.9 0l.9 .9l1 -.4l.9 .1l1 -.4l.9 .1l1 -.1l.9 .5l1 .4l.9 .2l1 .1l.9 .4l.9 .6l1 -.3l.9 -.1l1 .2l.9 .2l1 -.1l.9 .1l1 .7l.9 0l1 -.6l.9 -.6l1 .2l.9 .7" fill="none" stroke="#80007f" stroke-width="4.20" stroke-linejoin="round" stroke-linecap="round" />
<path d="M103.9 808.8l.9 -1.2l1 -1.3l.9 -.7l1 -1l.9 .1l1 -.3l.9 -.5l1 -1.3l.9 -.5l1 -.3l.9 0l1 -.1l.9 1l.9 .6l1 .6l.9 .1l1 .3l.9 .3l1 0l.9 -.1l1 -.9l.9 -.6l1 -1l.9 -.6l.9 -1.2l1 -.4l.9 .4l1 1.3l.9 1.1l1 .8l.9 .4l1 .7l.9 .5l1 1.1l.9 1.1l1 1.2l.9 .7l.9 1l1 1l.9 .6l1 .7l.9 .2l1 .2l.9 -.1l1 .1l.9 -.1l1 -.3l.9 -.6l.9 -.3l1 -.7l.9 .5l1 -.3l.9 .8l1 -.4l.9 .4l1 0l.9 .5l1 .6l.9 1l1 .8l.9 1l.9 .5l1 1.1l.9 .8l1 .8l.9 .4l1 .2l.9 .3l1 .3l.9 0l1 -.1l.9 .2l.9 -.1l1 .2l.9 .5l1 .2l.9 .5l1 .4l.9 .9l1 1.4l.9 -.1l1 1.4l.9 .4l1 1.5l.9 .2l.9 .3l1 .1l.9 .6l1 0l.9 .4l1 .1l.9 0l1 -.1l.9 -.2l1 -.2l.9 .2l.9 -.1l1 -.2l.9 -.5l1 -.4l.9 .1l1 -.1l.9 0l1 .3l.9 -.1l1 .6l.9 .2l1 1l.9 .4l.9 .7l1 .3l.9 .9l1 .8l.9 1l1 .1l.9 -.2l1 -.6l.9 -.4l1 -.2l.9 .2l.9 0l1 -.2l.9 -.5l1 .3l.9 .5l1 .4l.9 .3l1 .2l.9 .4l1 .1l.9 0l1 .7l.9 .2l.9 .6l1 -.1l.9 .8l1 .4l.9 .4l1 -.3l.9 .3l1 -.1l.9 .8l1 .4l.9 .6l1 .7l.9 .4l.9 .5l1 -.1l.9 .2l1 .5l.9 .7l1 .3l.9 .6l1 .5l.9 1.2l1 .5l.9 .2l.9 .2l1 .9l.9 1l1 .6l.9 .3l1 .5l.9 .5l1 .1l.9 .4l1 1.2l.9 1.3l1 1l.9 .9l.9 1l1 .5l.9 .8l1 .6l.9 1.2l1 .9l.9 1.1l1 1.1l.9 .7l1 .8l.9 1.3l.9 .8l1 .3l.9 .2l1 .9l.9 1l1 .1l.9 .5l1 .2l.9 .6l1 .2l.9 .9l1 1.3l.9 1.4l.9 1.3l1 1.3l.9 1.3l1 1.5l.9 .8l1 .9l.9 1.1l1 1.1l.9 1.4l1 .8l.9 1.3l.9 1l1 1.4l.9 .6l1 1.4l.9 1.3l1 1.7l.9 .8l1 .7l.9 1.5l1 .8l.9 1l1 .6l.9 1.6l.9 1.3l1 1.5l.9 1.1l1 1.4l.9 1.1l1 1.4l.9 1.3l1 1.5l.9 1.2l1 1.7l.9 1.2l.9 1.1l1 1l.9 1l1 1.6l.9 .8l1 1.3l.9 1l1 .9l.9 1l1 1.4l.9 .7l1 1l.9 .6l.9 1.2l1 .7l.9 1.4l1 1.1l.9 1.7l1 .6l.9 1.1l1 .5l.9 1l1 1.1l.9 .9l.9 .8l1 .7l.9 1l1 1.1l.9 .5l1 .4l.9 .7l1 .9l.9 .9l1 .5l.9 .9l1 1l.9 1.3l.9 .9l1 1.1l.9 .6l1 1.5l.9 .5l1 .9l.9 -.1l1 -.2l.9 .6l1 .8l.9 1.8l1 .3l.9 1.1l.9 .1l1 1.1l.9 -.5l1 .7l.9 .3l1 1.3l.9 .6l1 .3l.9 .6l1 .7l.9 .9l.9 .5l1 .6l.9 .3l1 -.1l.9 -.1l1 .8l.9 .9l1 .8l.9 .1l1 .3l.9 .4l1 .5l.9 .3l.9 .9l1 .6l.9 .4l1 -.3l.9 .2l1 .7l.9 .9l1 .5l.9 .3l1 .1l.9 .2l.9 .7l1 .5l.9 1.2l1 -.1l.9 .2l1 0l.9 .4l1 .1l.9 -.1l1 .4l.9 .6l1 .5l.9 .5l.9 .4l1 .4l.9 0l1 0l.9 .3l1 .4l.9 .3l1 .2l.9 -.1l1 -.1l.9 -.2l.9 .5l1 .6l.9 .8l1 0l.9 .3l1 .1l.9 .4l1 -.2l.9 -.2l1 0l.9 .1l1 .3l.9 .4l.9 .2l1 .6l.9 -.2l1 .2l.9 -.3l1 0l.9 .3l1 .2l.9 .8l1 .2l.9 .2l.9 -.2l1 -.4l.9 .1l1 0l.9 .7l1 .2l.9 .7l1 .1l.9 .4l1 -.2l.9 0l1 .2l.9 .3l.9 -.1l1 .1l.9 .6l1 .3l.9 -.1l1 -.6l.9 -.1l1 .4l.9 .4l1 .5l.9 .3l.9 .7l1 -.1l.9 0l1 -.3l.9 .4l1 0l.9 0l1 .4l.9 .2l1 .2l.9 0l1 .2l.9 .2" fill="none" stroke="#6f0090" stroke-width="4.20" stroke-linejoin="round" stroke-linecap="round" />
<path d="M103.9 791.3l.9 -1.5l1 -1.9l.9 -1.3l1 -1.2l.9 -.6l1 -.6l.9 -.8l1 -.5l.9 -.2l1 .3l.9 -.3l1 .2l.9 .1l.9 .6l1 .2l.9 .9l1 1l.9 .7l1 -.3l.9 -1.2l1 -1.4l.9 -1.3l1 -.9l.9 -1.1l.9 -.3l1 0l.9 .7l1 .7l.9 .4l1 .7l.9 .7l1 1.5l.9 1.4l1 1.1l.9 1.1l1 .9l.9 1.6l.9 1l1 1l.9 .6l1 .2l.9 .1l1 -.5l.9 .1l1 .1l.9 .2l1 -.3l.9 .2l.9 -.3l1 -.2l.9 -.1l1 .4l.9 .4l1 -.6l.9 -.3l1 .3l.9 .7l1 .8l.9 .2l1 1.1l.9 .6l.9 1.8l1 1.1l.9 1.5l1 .5l.9 .4l1 -.2l.9 .3l1 .2l.9 .7l1 .6l.9 .5l.9 -.3l1 -.1l.9 .2l1 1.1l.9 .7l1 1l.9 .3l1 .3l.9 .5l1 .7l.9 1.3l1 1l.9 .8l.9 .5l1 1l.9 .4l1 .3l.9 -.2l1 .2l.9 .1l1 .1l.9 .4l1 -.4l.9 -.3l.9 -.7l1 .2l.9 -.2l1 -.3l.9 .1l1 -.2l.9 -.1l1 -.3l.9 .2l1 .2l.9 .7l1 .7l.9 1l.9 .7l1 .6l.9 .5l1 .3l.9 .5l1 .1l.9 -.1l1 -.2l.9 .1l1 -.4l.9 .1l.9 -.2l1 .3l.9 -.2l1 .2l.9 .1l1 .6l.9 .2l1 .5l.9 .2l1 .5l.9 .4l1 .4l.9 1.2l.9 .2l1 .2l.9 -.1l1 .6l.9 0l1 .2l.9 .3l1 .7l.9 .5l1 .5l.9 .3l1 .2l.9 -.2l.9 .3l1 .4l.9 .6l1 .5l.9 .3l1 1.1l.9 1.1l1 .8l.9 .5l1 .2l.9 1.1l.9 .7l1 .8l.9 .4l1 .6l.9 .5l1 .9l.9 .6l1 1.1l.9 .6l1 1.3l.9 .6l1 1.1l.9 .5l.9 1.1l1 .7l.9 1.4l1 .9l.9 1.4l1 .6l.9 1.1l1 .5l.9 1.7l1 .4l.9 1l.9 .1l1 1.6l.9 .5l1 .9l.9 0l1 .4l.9 .4l1 .7l.9 1l1 .9l.9 .6l1 1.1l.9 .9l.9 1.5l1 2l.9 1.7l1 1.5l.9 .9l1 1.1l.9 1.6l1 1.1l.9 1.2l1 .8l.9 1.3l.9 1.9l1 .6l.9 1.4l1 .9l.9 1.4l1 1l.9 1.1l1 1.8l.9 1.1l1 .7l.9 1.1l1 1.8l.9 1.6l.9 .6l1 1.5l.9 1.6l1 2.3l.9 1.3l1 1.5l.9 1.2l1 1.9l.9 1.9l1 1l.9 .8l.9 1.4l1 1.7l.9 1.1l1 .9l.9 1.2l1 1.5l.9 1.1l1 1.1l.9 1l1 1.4l.9 1l1 1.1l.9 1l.9 1.6l1 1.2l.9 1.1l1 .8l.9 1.1l1 1.3l.9 1l1 1.4l.9 1.1l1 .8l.9 .5l.9 .9l1 1.1l.9 1l1 .4l.9 .3l1 1.1l.9 1.4l1 1.5l.9 .5l1 .9l.9 .6l1 1.3l.9 .7l.9 .8l1 .6l.9 .3l1 .8l.9 .5l1 1.4l.9 1l1 1.4l.9 .7l1 .6l.9 .6l1 .5l.9 .9l.9 .6l1 .5l.9 .5l1 .5l.9 .8l1 .8l.9 .9l1 .5l.9 .3l1 -.4l.9 .6l.9 .5l1 .5l.9 .6l1 .7l.9 .8l1 .4l.9 .1l1 .8l.9 .2l1 .6l.9 .7l1 .9l.9 .6l.9 0l1 .1l.9 .4l1 .5l.9 .5l1 .5l.9 .7l1 .9l.9 -.1l1 -.1l.9 -.2l.9 1l1 .8l.9 .9l1 -.1l.9 -.1l1 .2l.9 .6l1 .4l.9 .3l1 .5l.9 .5l1 0l.9 -.3l.9 .1l1 .6l.9 .7l1 .2l.9 0l1 .5l.9 .3l1 .4l.9 -.1l1 0l.9 .3l.9 .2l1 0l.9 .1l1 .7l.9 .5l1 .6l.9 -.1l1 .1l.9 -.5l1 0l.9 .6l1 .6l.9 .4l.9 0l1 .1l.9 0l1 0l.9 .3l1 .3l.9 .3l1 0l.9 -.1l1 0l.9 -.1l.9 .6l1 -.3l.9 .3l1 .5l.9 .6l1 0l.9 -.4l1 .5l.9 .4l1 .3l.9 -.1l1 .1l.9 .7l.9 .2l1 .1l.9 -.7l1 .2l.9 .4l1 .5l.9 .1l1 -.3l.9 .1l1 0l.9 .4l.9 -.3l1 .1l.9 0l1 .5l.9 -.1l1 .3l.9 .2l1 .2l.9 0l1 -.1l.9 .6l1 -.3l.9 .2" fill="none" stroke="#60009f" stroke-width="4.20" stroke-linejoin="round" stroke-linecap="round" />
<path d="M103.9 778.8l.9 -1.3l1 -1.3l.9 -1.6l1 -.5l.9 -.8l1 -.3l.9 -1.4l1 -1l.9 -.4l1 .1l.9 0l1 -.1l.9 .1l.9 1l1 .7l.9 1.2l1 .2l.9 .3l1 -.7l.9 -.4l1 -.9l.9 -.9l1 -1.2l.9 -1.1l.9 -1.5l1 -.1l.9 .1l1 1.3l.9 .6l1 .8l.9 .9l1 1.3l.9 1.7l1 1l.9 .9l1 1.3l.9 1.2l.9 2l1 .7l.9 .9l1 .3l.9 .5l1 -.1l.9 0l1 -.6l.9 .5l1 -.6l.9 -.5l.9 -.4l1 .2l.9 .7l1 .3l.9 0l1 -.4l.9 -.3l1 0l.9 .1l1 .4l.9 .2l1 1.3l.9 1.3l.9 2.5l1 1.5l.9 1.2l1 .6l.9 .2l1 .4l.9 -.3l1 .8l.9 .5l1 .3l.9 -.2l.9 .4l1 .7l.9 .6l1 .1l.9 .5l1 .7l.9 1.2l1 .9l.9 .6l1 .9l.9 .9l1 1.4l.9 .6l.9 1.2l1 .8l.9 .7l1 .4l.9 -.4l1 -.2l.9 0l1 .4l.9 .4l1 .2l.9 -.5l.9 -.5l1 -.6l.9 -.3l1 -.3l.9 -.7l1 .1l.9 -.4l1 .3l.9 -.5l1 .7l.9 .2l1 1.3l.9 .3l.9 1.2l1 1l.9 1l1 .7l.9 -.2l1 -.3l.9 -.1l1 0l.9 .1l1 -.2l.9 -.6l.9 -.1l1 -.3l.9 .1l1 .9l.9 -.1l1 .7l.9 .1l1 .4l.9 -.1l1 .5l.9 .8l1 1l.9 .6l.9 .4l1 0l.9 -.6l1 .5l.9 .3l1 1l.9 .4l1 .2l.9 .6l1 .5l.9 .9l1 -.3l.9 0l.9 .1l1 .6l.9 .3l1 .8l.9 .7l1 1l.9 .5l1 1l.9 .8l1 .2l.9 .4l.9 .7l1 1.6l.9 .8l1 .7l.9 .4l1 1l.9 .8l1 .8l.9 .5l1 1.1l.9 .9l1 .7l.9 1l.9 1l1 1.6l.9 1.1l1 1.6l.9 1.3l1 1l.9 .8l1 .6l.9 1.6l1 1.2l.9 1.5l.9 .4l1 .1l.9 .7l1 .6l.9 1l1 .2l.9 .6l1 .6l.9 .2l1 .8l.9 .6l1 1.3l.9 1.5l.9 1.8l1 1.7l.9 .8l1 1.5l.9 1.8l1 1.9l.9 1l1 1l.9 1l1 1.6l.9 1.6l.9 1.8l1 1l.9 1.1l1 1.2l.9 1.3l1 1.1l.9 1.6l1 1.4l.9 1.5l1 .6l.9 1.3l1 .7l.9 1.5l.9 1.8l1 2.4l.9 2l1 1.5l.9 1.2l1 1.3l.9 1.5l1 1.8l.9 1.6l1 1.7l.9 1.1l.9 1.1l1 .9l.9 1.2l1 1.4l.9 1.8l1 1.6l.9 1.6l1 1.3l.9 1.5l1 1l.9 1.3l1 .9l.9 1.3l.9 .9l1 .8l.9 .9l1 1l.9 1.6l1 1.2l.9 1l1 1.2l.9 1.5l1 1.3l.9 1.1l.9 .6l1 .7l.9 .8l1 1l.9 .9l1 1.3l.9 1l1 .8l.9 .6l1 1.4l.9 1.2l1 1.1l.9 .4l.9 .7l1 .5l.9 .9l1 1.4l.9 .8l1 1.2l.9 .2l1 1l.9 .6l1 1.1l.9 .8l1 .1l.9 .6l.9 .4l1 1.6l.9 .5l1 .9l.9 -.3l1 .6l.9 .2l1 1l.9 .6l1 1l.9 .2l.9 .4l1 .7l.9 .4l1 .2l.9 .3l1 .5l.9 .8l1 .6l.9 .5l1 .8l.9 .1l1 1l.9 .6l.9 .5l1 .1l.9 -.1l1 .6l.9 .8l1 .3l.9 .6l1 -.2l.9 .6l1 -.3l.9 1.3l.9 .6l1 .8l.9 -.2l1 .6l.9 -.2l1 .5l.9 .6l1 .7l.9 .4l1 -.1l.9 .2l1 .3l.9 .4l.9 .5l1 .3l.9 0l1 .3l.9 .2l1 .6l.9 .3l1 .2l.9 -.7l1 .2l.9 .5l.9 .6l1 -.5l.9 -.2l1 .6l.9 .4l1 .4l.9 0l1 .7l.9 .3l1 .1l.9 -.3l1 .6l.9 .4l.9 .3l1 -.5l.9 -.3l1 .3l.9 .4l1 .5l.9 .1l1 .4l.9 .2l1 .2l.9 -.1l.9 -.1l1 .6l.9 .1l1 .1l.9 -.1l1 .4l.9 .1l1 -.4l.9 .3l1 .6l.9 .8l1 0l.9 .2l.9 -.4l1 .2l.9 -.3l1 .5l.9 .3l1 .5l.9 -.1l1 .3l.9 -.3l1 .2l.9 -.2l.9 -.1l1 .4l.9 .2l1 .5l.9 .2l1 0l.9 .2l1 -.3l.9 .2l1 -.1l.9 .4l1 0l.9 .4" fill="none" stroke="#5000af" stroke-width="4.20" stroke-linejoin="round" stroke-linecap="round" />
<path d="M103.9 760.7l.9 -1.3l1 -1.2l.9 -1.1l1 -1.1l.9 -1l1 -1.2l.9 -1.3l1 -.9l.9 -.5l1 0l.9 .1l1 .2l.9 .3l.9 .9l1 .9l.9 1l1 .5l.9 0l1 -.7l.9 -.9l1 -1l.9 -1.2l1 -1.6l.9 -.7l.9 -.9l1 -.1l.9 -.1l1 .6l.9 1l1 1.6l.9 1.7l1 1.3l.9 .8l1 1l.9 1.5l1 1.2l.9 1.4l.9 1.2l1 1.5l.9 1.1l1 .7l.9 -.5l1 .2l.9 .3l1 .6l.9 -.6l1 -1l.9 -.5l.9 -.4l1 .2l.9 -.3l1 .4l.9 .2l1 -.2l.9 .1l1 -.2l.9 .4l1 .2l.9 .9l1 1.8l.9 1.2l.9 1.8l1 1.8l.9 2l1 1.1l.9 .4l1 0l.9 .3l1 .3l.9 .7l1 .7l.9 .3l.9 .2l1 .2l.9 0l1 .3l.9 .4l1 1l.9 1.4l1 1.1l.9 1.6l1 1.2l.9 1.3l1 .5l.9 .7l.9 .9l1 .6l.9 .6l1 .4l.9 .6l1 .5l.9 0l1 -.3l.9 -.5l1 -.7l.9 .1l.9 -.6l1 .2l.9 -.4l1 .2l.9 -.5l1 -.7l.9 0l1 -.1l.9 .7l1 -.1l.9 .8l1 1l.9 1.1l.9 1.3l1 .2l.9 1.1l1 .2l.9 .6l1 -.2l.9 -.1l1 .2l.9 -.7l1 -.4l.9 -.8l.9 .4l1 -.2l.9 .3l1 -.2l.9 .5l1 .5l.9 .5l1 .4l.9 0l1 .7l.9 .8l1 .7l.9 .7l.9 -.3l1 .1l.9 -.2l1 .7l.9 .8l1 .6l.9 .4l1 .5l.9 .3l1 .1l.9 -.1l1 1l.9 .1l.9 .7l1 .3l.9 1.2l1 .4l.9 .3l1 .9l.9 1.2l1 .6l.9 .9l1 .6l.9 1.4l.9 1l1 .7l.9 .2l1 .6l.9 1.3l1 1.4l.9 .8l1 1.1l.9 .5l1 1.1l.9 .3l1 1.2l.9 .9l.9 1.7l1 1l.9 1.1l1 .5l.9 1.7l1 1.3l.9 1.7l1 .9l.9 1.2l1 1.3l.9 1.2l.9 1.1l1 .7l.9 .6l1 .1l.9 .6l1 .6l.9 1.1l1 -.1l.9 .2l1 0l.9 1.1l1 1.9l.9 2l.9 1.9l1 1.5l.9 1.9l1 1.8l.9 1.8l1 1.5l.9 1l1 1.2l.9 1.7l1 1.8l.9 1.4l.9 .9l1 1.3l.9 1.7l1 1.4l.9 1.3l1 .3l.9 1.3l1 1.1l.9 1.6l1 1.7l.9 2l1 1.5l.9 1.5l.9 1.6l1 1.9l.9 1.8l1 1.4l.9 1.8l1 1.3l.9 2l1 2.3l.9 1.8l1 1.6l.9 1.2l.9 1.8l1 1.7l.9 1.9l1 1.2l.9 1.2l1 1.1l.9 1.5l1 1.4l.9 1.5l1 1.7l.9 1.4l1 1.2l.9 1.1l.9 1.3l1 1l.9 .6l1 1.5l.9 1.5l1 1.4l.9 1.1l1 1.3l.9 1.4l1 .8l.9 .8l.9 1l1 1.5l.9 1.1l1 .8l.9 .8l1 .7l.9 1.1l1 1l.9 1.5l1 .8l.9 1l1 .6l.9 1l.9 1.2l1 1.1l.9 1.2l1 .5l.9 1l1 .4l.9 1l1 .7l.9 1.4l1 .9l.9 .8l1 .8l.9 .7l.9 .8l1 .7l.9 .6l1 .4l.9 .5l1 .5l.9 .8l1 .7l.9 .9l1 .4l.9 0l.9 .3l1 .6l.9 1l1 .5l.9 .5l1 .4l.9 .4l1 .6l.9 .7l1 .9l.9 .7l1 .1l.9 -.1l.9 .5l1 .4l.9 .7l1 .3l.9 .4l1 .3l.9 .7l1 .7l.9 .6l1 0l.9 -.2l.9 0l1 .6l.9 .7l1 .9l.9 .4l1 .3l.9 0l1 .2l.9 -.1l1 .3l.9 1l1 .3l.9 .8l.9 .3l1 .5l.9 0l1 -.2l.9 .3l1 .4l.9 .4l1 .5l.9 .3l1 .3l.9 .1l.9 -.1l1 .2l.9 -.1l1 .3l.9 .2l1 .2l.9 .6l1 -.1l.9 .2l1 -.2l.9 -.1l1 .2l.9 -.2l.9 .4l1 .3l.9 .6l1 .7l.9 .4l1 .3l.9 .1l1 -.1l.9 .1l1 -.1l.9 .2l.9 .2l1 .5l.9 .4l1 0l.9 .2l1 -.2l.9 -.1l1 -.3l.9 .5l1 .1l.9 .7l1 .3l.9 .1l.9 -.2l1 -.2l.9 .3l1 .3l.9 .5l1 -.3l.9 0l1 .2l.9 .6l1 .5l.9 -.3l.9 .2l1 -.2l.9 .4l1 .1l.9 .5l1 -.1l.9 .1l1 -.3l.9 -.1l1 .3l.9 .3l1 .1l.9 -.2" fill="none" stroke="#4200bd" stroke-width="4.20" stroke-linejoin="round" stroke-linecap="round" />
<path d="M103.9 745.5l.9 -1.8l1 -2.6l.9 -1.9l1 -1.5l.9 -.7l1 -.9l.9 -1l1 -.4l.9 -.2l1 -.3l.9 -.8l1 .1l.9 .4l.9 1.3l1 1l.9 .9l1 .5l.9 -.4l1 -.2l.9 -1l1 -.9l.9 -1.5l1 -1.6l.9 -1.5l.9 -1.1l1 -.3l.9 .7l1 .6l.9 1.1l1 .7l.9 1.4l1 .9l.9 1.5l1 1.3l.9 1.9l1 1.3l.9 1.6l.9 1.4l1 1.5l.9 1.8l1 1.1l.9 .3l1 -1l.9 -.3l1 -.7l.9 .3l1 -.3l.9 0l.9 -.5l1 -.3l.9 -.5l1 .1l.9 -.1l1 .2l.9 0l1 .5l.9 .7l1 .7l.9 1.1l1 1.3l.9 1.4l.9 1.8l1 1.3l.9 1.7l1 1l.9 1.1l1 .4l.9 .5l1 .7l.9 .5l1 -.2l.9 .1l.9 .5l1 1.2l.9 1l1 .3l.9 .4l1 .4l.9 1.2l1 1.7l.9 1.3l1 1l.9 1l1 .8l.9 1.1l.9 1.2l1 1.8l.9 .8l1 .6l.9 -.3l1 0l.9 -1l1 .2l.9 -.1l1 .8l.9 -.4l.9 -.2l1 -1.4l.9 0l1 -.5l.9 .1l1 -1.1l.9 .1l1 .2l.9 .3l1 0l.9 .6l1 1.3l.9 1.2l.9 1.5l1 .9l.9 .9l1 .2l.9 -.3l1 -.1l.9 .1l1 .4l.9 -.4l1 -.5l.9 -.8l.9 -.2l1 -.1l.9 .6l1 .1l.9 .4l1 .7l.9 .6l1 .5l.9 -.2l1 .3l.9 .6l1 .9l.9 1l.9 .2l1 .3l.9 .6l1 .9l.9 .4l1 -.2l.9 .2l1 .6l.9 .9l1 .1l.9 .8l1 .3l.9 .5l.9 -.5l1 .4l.9 .2l1 1.1l.9 .9l1 .8l.9 1.2l1 .6l.9 1l1 .6l.9 .9l.9 1.2l1 1l.9 1.1l1 1.2l.9 .8l1 1.1l.9 .3l1 .5l.9 .8l1 1.2l.9 1.3l1 1.4l.9 .7l.9 1.1l1 .8l.9 2.2l1 1.6l.9 1.7l1 .8l.9 1.8l1 1.3l.9 1.6l1 .5l.9 1.5l.9 1l1 1.4l.9 .7l1 .5l.9 .4l1 .4l.9 .7l1 .5l.9 .5l1 .6l.9 1.2l1 1.5l.9 1.7l.9 2l1 1.4l.9 1.9l1 1.9l.9 2.2l1 1.5l.9 1.5l1 1.7l.9 1.6l1 1.3l.9 1.1l.9 1.4l1 1.3l.9 1.5l1 1.6l.9 1.4l1 1.3l.9 1.7l1 1.5l.9 1.9l1 1.3l.9 1.2l1 1.1l.9 1.7l.9 2.4l1 2.4l.9 1.8l1 1.9l.9 1.6l1 2.4l.9 1.7l1 2.4l.9 1.8l1 1.9l.9 1.5l.9 1.3l1 1.6l.9 1.8l1 2.7l.9 1.7l1 1.3l.9 .2l1 1.6l.9 1l1 1.4l.9 1.2l1 1.5l.9 1.9l.9 1.5l1 1.4l.9 .9l1 .7l.9 1.1l1 1.5l.9 1.7l1 1.6l.9 1.2l1 1l.9 1.2l.9 .7l1 1.3l.9 1.4l1 1.8l.9 1l1 .7l.9 1.1l1 1.5l.9 .8l1 .6l.9 .7l1 1.7l.9 .9l.9 1.1l1 .7l.9 1.7l1 .9l.9 1l1 .3l.9 1l1 1.1l.9 .6l1 .7l.9 .3l1 .8l.9 .4l.9 .7l1 .7l.9 .7l1 1.1l.9 1l1 .8l.9 .2l1 .6l.9 .1l1 .4l.9 .5l.9 1.2l1 1.2l.9 .3l1 .1l.9 .2l1 .7l.9 .6l1 .5l.9 0l1 .4l.9 .9l1 .9l.9 .5l.9 0l1 .2l.9 .9l1 .5l.9 .5l1 -.2l.9 .5l1 .6l.9 1.1l1 .5l.9 .1l.9 .4l1 .6l.9 .4l1 .3l.9 .5l1 .8l.9 .4l1 .2l.9 0l1 .2l.9 .1l1 .1l.9 .5l.9 .3l1 .7l.9 .1l1 .6l.9 .2l1 .3l.9 .6l1 0l.9 .1l1 -.1l.9 .7l.9 .5l1 .1l.9 -.3l1 -.2l.9 .4l1 .4l.9 .9l1 -.3l.9 .4l1 -.2l.9 .4l1 -.1l.9 0l.9 .4l1 .4l.9 -.1l1 .5l.9 -.1l1 .9l.9 -.1l1 .6l.9 -.1l1 .4l.9 -.1l.9 -.2l1 .1l.9 .3l1 .9l.9 -.5l1 0l.9 -.1l1 .4l.9 .1l1 .4l.9 .8l1 0l.9 0l.9 .2l1 .5l.9 -.1l1 -.1l.9 -.2l1 0l.9 .2l1 .4l.9 .7l1 -.1l.9 -.5l.9 -.3l1 .3l.9 .7l1 .3l.9 -.2l1 .4l.9 0l1 .5l.9 -.3l1 0l.9 .3l1 -.5l.9 .2" fill="none" stroke="#3700c8" stroke-width="4.20" stroke-linejoin="round" stroke-linecap="round" />
<path d="M103.9 724.6l.9 -2.4l1 -2.1l.9 -1.5l1 -1.6l.9 -1.4l1 -1.9l.9 -1.1l1 -.6l.9 -.2l1 -.2l.9 -.5l1 0l.9 .1l.9 1.1l1 .9l.9 1.2l1 .9l.9 .1l1 -.6l.9 -.8l1 -1.3l.9 -1.3l1 -2.1l.9 -1.5l.9 -1l1 0l.9 .7l1 .7l.9 .9l1 .9l.9 .8l1 1.1l.9 1.3l1 2.5l.9 1.8l1 2.1l.9 2l.9 1.8l1 1.5l.9 1.3l1 .9l.9 -.4l1 -.1l.9 -.3l1 -.2l.9 -.6l1 -.4l.9 0l.9 -.2l1 .2l.9 -.3l1 -.5l.9 -.3l1 .3l.9 .3l1 1.1l.9 .1l1 .4l.9 .6l1 1.7l.9 2l.9 1.6l1 1.9l.9 2.1l1 1.7l.9 1l1 .5l.9 .4l1 .6l.9 -.6l1 -.1l.9 0l.9 1l1 .8l.9 1.1l1 1.1l.9 .9l1 1l.9 1.5l1 1.2l.9 1.4l1 1.3l.9 1.5l1 .7l.9 .9l.9 1l1 1.4l.9 .9l1 .8l.9 .4l1 .1l.9 0l1 -.1l.9 -.4l1 -.3l.9 -.5l.9 -.5l1 -.5l.9 -.5l1 -.6l.9 -.1l1 -.1l.9 .1l1 -.5l.9 0l1 .3l.9 .7l1 .9l.9 1.6l.9 1.2l1 1.7l.9 .4l1 .7l.9 .3l1 .3l.9 -.1l1 -.5l.9 -.6l1 -.3l.9 -1l.9 -.2l1 -.3l.9 .6l1 .5l.9 .3l1 .7l.9 .2l1 .3l.9 -.2l1 1.2l.9 1.1l1 1.1l.9 0l.9 .2l1 1l.9 .5l1 1.1l.9 .1l1 -.2l.9 .2l1 .3l.9 .9l1 .6l.9 .5l1 .7l.9 .2l.9 .4l1 .3l.9 .5l1 1.1l.9 .9l1 1.1l.9 .8l1 .9l.9 .9l1 1.1l.9 .9l.9 1.2l1 .6l.9 1.1l1 .9l.9 1.1l1 .9l.9 .8l1 1.4l.9 1l1 1.4l.9 1.3l1 1.4l.9 .9l.9 1l1 1.7l.9 1.8l1 1.8l.9 1.4l1 1.8l.9 1.2l1 1.2l.9 1.2l1 1.4l.9 1.4l.9 1.2l1 .9l.9 .6l1 .6l.9 .3l1 .4l.9 .3l1 .9l.9 .8l1 .9l.9 .9l1 1.6l.9 1.9l.9 1.8l1 1.9l.9 1.9l1 3l.9 2l1 2.1l.9 1.3l1 1.7l.9 1.8l1 1.9l.9 1.7l.9 1.7l1 1.5l.9 1.3l1 1.8l.9 1.5l1 2l.9 .9l1 1.6l.9 1.5l1 1.6l.9 2l1 1.7l.9 1.9l.9 1.4l1 2.1l.9 2.5l1 2.3l.9 2.3l1 2.3l.9 1.8l1 1.8l.9 1.5l1 2.3l.9 2.3l.9 2.1l1 1.5l.9 1.3l1 1.8l.9 1.8l1 1.6l.9 1.5l1 1.2l.9 1.8l1 1.5l.9 2l1 1.1l.9 1.2l.9 1.2l1 1.7l.9 1.6l1 1.6l.9 1.7l1 1.7l.9 1.1l1 .8l.9 1.4l1 1.4l.9 1.8l.9 1.2l1 1.2l.9 .9l1 .8l.9 1.1l1 1l.9 1.1l1 1.5l.9 1.3l1 1.1l.9 .8l1 .9l.9 1.5l.9 .6l1 1.3l.9 .8l1 1.2l.9 1.3l1 1.2l.9 1l1 .9l.9 .3l1 1.2l.9 .8l1 1l.9 1l.9 .8l1 1l.9 .5l1 .3l.9 .4l1 .6l.9 .6l1 .8l.9 .5l1 1l.9 .1l.9 .5l1 .6l.9 .6l1 .6l.9 -.1l1 1l.9 .2l1 .5l.9 0l1 .6l.9 1.1l1 .5l.9 .8l.9 .1l1 1.3l.9 .5l1 1.2l.9 -.3l1 .5l.9 -.2l1 .8l.9 .4l1 .3l.9 0l.9 0l1 .5l.9 .5l1 .4l.9 .4l1 .6l.9 .7l1 .4l.9 .2l1 .2l.9 .5l1 .3l.9 .5l.9 .6l1 .6l.9 0l1 .6l.9 .5l1 .2l.9 -.2l1 .1l.9 .2l1 .3l.9 0l.9 .3l1 0l.9 -.1l1 .2l.9 -.2l1 1.2l.9 .6l1 1l.9 -.3l1 .1l.9 .2l1 .4l.9 .1l.9 -.3l1 .1l.9 -.2l1 .1l.9 -.1l1 .4l.9 .7l1 .1l.9 .5l1 .3l.9 .4l.9 -.3l1 -.2l.9 .5l1 .2l.9 -.1l1 0l.9 -.2l1 .5l.9 .3l1 .8l.9 .3l1 0l.9 .2l.9 .1l1 -.2l.9 -.1l1 .2l.9 .6l1 .6l.9 .2l1 -.3l.9 -.4l1 0l.9 .7l.9 .3l1 .2l.9 -.4l1 .3l.9 .2l1 .3l.9 -.1l1 .5l.9 .1l1 .5l.9 0l1 .1l.9 0" fill="none" stroke="#2900d6" stroke-width="4.20" stroke-linejoin="round" stroke-linecap="round" />
<path d="M103.9 709.2l.9 -2.7l1 -1.9l.9 -1.9l1 -1.4l.9 -1.5l1 -2l.9 -1.1l1 -1.5l.9 .2l1 -.7l.9 .2l1 .2l.9 .4l.9 1l1 .9l.9 1.1l1 .9l.9 .2l1 -.3l.9 -1.6l1 -1l.9 -1.9l1 -2.2l.9 -2.5l.9 -1.1l1 .1l.9 .6l1 .8l.9 1.5l1 1.4l.9 1.6l1 1.3l.9 1.4l1 2.1l.9 2.2l1 1.9l.9 1.8l.9 1.8l1 2.1l.9 1.1l1 .9l.9 -.2l1 -.1l.9 -.3l1 -.4l.9 -.3l1 -.3l.9 -.2l.9 .1l1 -.5l.9 -.4l1 .2l.9 -.2l1 .2l.9 -.1l1 .7l.9 .5l1 .3l.9 1.2l1 1.8l.9 1.9l.9 2l1 1.8l.9 2l1 1.6l.9 .9l1 .9l.9 .9l1 1l.9 .5l1 -.4l.9 .3l.9 0l1 .8l.9 .8l1 .9l.9 1.4l1 .9l.9 1.5l1 1l.9 1.5l1 1.4l.9 1.9l1 1.5l.9 1.1l.9 .9l1 .6l.9 .9l1 .6l.9 .5l1 .4l.9 -.2l1 -.3l.9 -.1l1 -.2l.9 -.5l.9 -.2l1 .2l.9 -.7l1 -1.1l.9 -.6l1 -.2l.9 0l1 -.4l.9 .4l1 -.3l.9 .4l1 .7l.9 2.3l.9 1.9l1 1.3l.9 1.1l1 1l.9 .6l1 -.3l.9 -.3l1 0l.9 -.4l1 -.4l.9 -.7l.9 -.5l1 -.6l.9 .1l1 .1l.9 .5l1 .7l.9 .8l1 .9l.9 .1l1 .8l.9 .4l1 .9l.9 .2l.9 1l1 .8l.9 .5l1 -.1l.9 .2l1 .5l.9 1l1 .1l.9 .1l1 0l.9 .8l1 .9l.9 .8l.9 1l1 .5l.9 .3l1 -.2l.9 1l1 1.2l.9 1.4l1 1.3l.9 .9l1 1.5l.9 1l.9 .8l1 .5l.9 .7l1 .9l.9 1.3l1 1.6l.9 2l1 1l.9 .9l1 .5l.9 1.5l1 1.4l.9 1.5l.9 1.4l1 1.6l.9 1.3l1 1.7l.9 1.6l1 2l.9 1.3l1 2l.9 1.9l1 1.9l.9 .6l.9 .6l1 .8l.9 .7l1 .7l.9 0l1 1.2l.9 1l1 1.2l.9 .3l1 .5l.9 .9l1 1.6l.9 1.8l.9 2.4l1 2l.9 2.3l1 2.4l.9 2.3l1 2.4l.9 1.4l1 1.3l.9 1.7l1 1.5l.9 2.4l.9 1.2l1 1.5l.9 1.5l1 2.2l.9 2.1l1 1.3l.9 1.7l1 1.3l.9 1.8l1 1.3l.9 2l1 2.1l.9 1.9l.9 2.3l1 2.1l.9 2l1 2l.9 2.1l1 2.7l.9 2.7l1 1.9l.9 2.6l1 2.2l.9 2.3l.9 1.4l1 1.7l.9 1.7l1 2.3l.9 1.7l1 2l.9 1.4l1 2.1l.9 .9l1 1.4l.9 1.4l1 1.7l.9 2l.9 1.1l1 1.9l.9 1.1l1 1.7l.9 1.4l1 1.7l.9 1.4l1 1.9l.9 1.4l1 1.3l.9 1l.9 1.6l1 1.8l.9 1.5l1 .9l.9 1.2l1 1l.9 1.5l1 1l.9 .2l1 1l.9 1.5l1 1.5l.9 1.1l.9 .8l1 1.7l.9 1.5l1 .6l.9 .9l1 .9l.9 1.1l1 .9l.9 1.2l1 1.5l.9 .9l1 -.2l.9 .4l.9 .7l1 1.3l.9 .7l1 1.3l.9 .7l1 .5l.9 -.1l1 .6l.9 .8l1 .5l.9 .9l.9 .7l1 .3l.9 .3l1 .6l.9 .7l1 .8l.9 .7l1 .4l.9 .3l1 .8l.9 1.1l1 .4l.9 .3l.9 0l1 .2l.9 .4l1 .7l.9 .9l1 .4l.9 .4l1 .3l.9 .5l1 .6l.9 .5l.9 .5l1 -.1l.9 .2l1 .5l.9 1.3l1 .6l.9 0l1 -.4l.9 .4l1 .5l.9 .3l1 .4l.9 .2l.9 .8l1 -.1l.9 .3l1 -.2l.9 .9l1 .2l.9 .3l1 .3l.9 .5l1 .3l.9 .5l.9 -.3l1 .5l.9 0l1 -.1l.9 .4l1 -.1l.9 .7l1 -.2l.9 .3l1 -.1l.9 .2l1 .1l.9 .1l.9 .8l1 0l.9 .3l1 -.2l.9 .5l1 .5l.9 .5l1 .1l.9 -.1l1 0l.9 .4l.9 .5l1 0l.9 -.5l1 .6l.9 .5l1 .7l.9 -.2l1 -.2l.9 -.1l1 0l.9 .2l1 .3l.9 -.1l.9 .1l1 .5l.9 .3l1 .3l.9 -.5l1 .2l.9 .2l1 .3l.9 -.2l1 .3l.9 .2l.9 .6l1 0l.9 .5l1 -.1l.9 -.1l1 -.1l.9 .1l1 .7l.9 0l1 .1l.9 .1l1 .5l.9 .4" fill="none" stroke="#1700e8" stroke-width="4.20" stroke-linejoin="round" stroke-linecap="round" />
<path d="M103.9 679.2l.9 -2.9l1 -2.6l.9 -2.5l1 -2.2l.9 -1.4l1 -1.5l.9 -1.3l1 -1.7l.9 -.7l1 -.4l.9 -.5l1 -.5l.9 .7l.9 1l1 1.9l.9 1.3l1 1.6l.9 .5l1 -.7l.9 -2l1 -2.7l.9 -2.5l1 -2.1l.9 -2.1l.9 -1l1 -.4l.9 1.1l1 1l.9 1.5l1 1.5l.9 1.8l1 1.4l.9 1.9l1 2.3l.9 2.5l1 2.3l.9 1.7l.9 2.4l1 1.6l.9 1.8l1 .5l.9 .2l1 -.1l.9 -.3l1 -.1l.9 -.6l1 -.4l.9 -.6l.9 -.5l1 -.4l.9 -.2l1 -.4l.9 -.2l1 0l.9 .4l1 .7l.9 .9l1 .3l.9 1.3l1 1.1l.9 2.4l.9 2.4l1 2.4l.9 2.2l1 2.1l.9 1.9l1 1.2l.9 .3l1 .9l.9 .4l1 .3l.9 .3l.9 .7l1 .8l.9 .8l1 1l.9 1.6l1 1.2l.9 1.3l1 1.8l.9 1.6l1 1.7l.9 1.3l1 1.8l.9 1.7l.9 1.5l1 1.2l.9 1.1l1 .4l.9 .4l1 .4l.9 .5l1 0l.9 -.4l1 -.4l.9 -.5l.9 -.6l1 -.4l.9 -.4l1 -.3l.9 -.4l1 -.7l.9 -.7l1 -.4l.9 -.2l1 .6l.9 .7l1 1.6l.9 1.6l.9 1.5l1 1.4l.9 1.4l1 .9l.9 .1l1 -.4l.9 -.3l1 -.3l.9 -.2l1 0l.9 -.3l.9 -.4l1 -.5l.9 0l1 -.2l.9 .3l1 .3l.9 .8l1 .5l.9 .6l1 .8l.9 .6l1 1l.9 .8l.9 .9l1 .5l.9 .6l1 .3l.9 .4l1 -.1l.9 .1l1 0l.9 1.2l1 .6l.9 1l1 .5l.9 .9l.9 .9l1 .7l.9 1.1l1 .9l.9 .7l1 .7l.9 .7l1 .9l.9 1.2l1 .8l.9 1.9l.9 1.4l1 1.5l.9 .5l1 1.3l.9 1.2l1 1.3l.9 .9l1 1l.9 1.2l1 1.7l.9 2.2l1 1.9l.9 1.9l.9 1.3l1 1.5l.9 1.1l1 1.7l.9 1.5l1 2.1l.9 2.2l1 2.3l.9 2l1 1.1l.9 1.1l.9 .8l1 1.1l.9 1.4l1 1.3l.9 .6l1 .2l.9 .1l1 .8l.9 .6l1 1l.9 1.3l1 2.1l.9 1.7l.9 2.3l1 2l.9 3.2l1 2.4l.9 2.8l1 2l.9 2.2l1 1.8l.9 1.6l1 2.4l.9 2.2l.9 2.3l1 1.9l.9 1.8l1 1.9l.9 1.4l1 2.1l.9 1.8l1 1.9l.9 1.5l1 1.8l.9 2.1l1 1.6l.9 2l.9 1.9l1 2.9l.9 2.1l1 2.9l.9 2.6l1 3.1l.9 2.4l1 2.4l.9 2.4l1 2.1l.9 2.3l.9 2.2l1 2.5l.9 2.2l1 2.1l.9 2.4l1 2l.9 1.6l1 1.2l.9 1.6l1 2l.9 1.8l1 1.6l.9 2.2l.9 1.8l1 1.8l.9 1.2l1 1.6l.9 2l1 1.8l.9 1.9l1 .5l.9 1.5l1 1.5l.9 2.7l.9 1.4l1 .8l.9 1.1l1 1.3l.9 1.3l1 1.1l.9 1.7l1 2l.9 1.6l1 .8l.9 1.6l1 .8l.9 1.5l.9 .3l1 1.7l.9 1.4l1 1.7l.9 .8l1 1l.9 .9l1 .5l.9 1.3l1 1.1l.9 1.2l1 .6l.9 .7l.9 1.3l1 .8l.9 .7l1 .3l.9 .2l1 .5l.9 .8l1 1l.9 .8l1 .7l.9 .8l.9 .6l1 .6l.9 .5l1 .5l.9 .5l1 .2l.9 .8l1 .1l.9 1.2l1 .3l.9 1l1 .4l.9 .3l.9 .5l1 .6l.9 .7l1 .3l.9 .7l1 .7l.9 .5l1 -.1l.9 .1l1 .5l.9 1.2l.9 .6l1 .4l.9 .3l1 .3l.9 .4l1 .2l.9 0l1 .6l.9 .4l1 .7l.9 -.2l1 .3l.9 .7l.9 .4l1 0l.9 .1l1 .1l.9 0l1 .1l.9 .5l1 .7l.9 .3l1 .5l.9 .2l.9 .3l1 .1l.9 .4l1 .6l.9 .6l1 .2l.9 -.8l1 -.2l.9 0l1 1l.9 .1l1 .6l.9 .2l.9 .5l1 -.1l.9 0l1 .2l.9 .3l1 .2l.9 0l1 -.1l.9 .3l1 .3l.9 .6l.9 0l1 .8l.9 .1l1 .3l.9 -.2l1 .2l.9 .4l1 -.1l.9 -.1l1 .7l.9 .1l1 .2l.9 -.3l.9 .5l1 0l.9 .1l1 .4l.9 .4l1 0l.9 .2l1 -.3l.9 .6l1 -.2l.9 .7l.9 .1l1 .3l.9 -.1l1 .2l.9 0l1 .6l.9 -.3l1 .4l.9 -.3l1 .3l.9 -.3l1 .1l.9 -.3" fill="none" stroke="#0000ff" stroke-width="6.00" stroke-linejoin="round" stroke-linecap="round" />
</g>
<rect x="103.9" y="608.0" width="377.4" height="408.8" fill="none" stroke="#262626" stroke-width="2.00"/>
<line x1="123.7" y1="1016.8" x2="123.7" y2="1013.0" stroke="#262626" stroke-width="2.0"/>
<line x1="123.7" y1="608.0" x2="123.7" y2="611.8" stroke="#262626" stroke-width="2.0"/>
<line x1="208.0" y1="1016.8" x2="208.0" y2="1013.0" stroke="#262626" stroke-width="2.0"/>
<line x1="208.0" y1="608.0" x2="208.0" y2="611.8" stroke="#262626" stroke-width="2.0"/>
<line x1="292.3" y1="1016.8" x2="292.3" y2="1013.0" stroke="#262626" stroke-width="2.0"/>
<line x1="292.3" y1="608.0" x2="292.3" y2="611.8" stroke="#262626" stroke-width="2.0"/>
<line x1="376.6" y1="1016.8" x2="376.6" y2="1013.0" stroke="#262626" stroke-width="2.0"/>
<line x1="376.6" y1="608.0" x2="376.6" y2="611.8" stroke="#262626" stroke-width="2.0"/>
<line x1="460.9" y1="1016.8" x2="460.9" y2="1013.0" stroke="#262626" stroke-width="2.0"/>
<line x1="460.9" y1="608.0" x2="460.9" y2="611.8" stroke="#262626" stroke-width="2.0"/>
<line x1="103.9" y1="1016.8" x2="107.7" y2="1016.8" stroke="#262626" stroke-width="2.0"/>
<line x1="481.3" y1="1016.8" x2="477.5" y2="1016.8" stroke="#262626" stroke-width="2.0"/>
<line x1="103.9" y1="922.1" x2="107.7" y2="922.1" stroke="#262626" stroke-width="2.0"/>
<line x1="481.3" y1="922.1" x2="477.5" y2="922.1" stroke="#262626" stroke-width="2.0"/>
<line x1="103.9" y1="827.4" x2="107.7" y2="827.4" stroke="#262626" stroke-width="2.0"/>
<line x1="481.3" y1="827.4" x2="477.5" y2="827.4" stroke="#262626" stroke-width="2.0"/>
<line x1="103.9" y1="732.7" x2="107.7" y2="732.7" stroke="#262626" stroke-width="2.0"/>
<line x1="481.3" y1="732.7" x2="477.5" y2="732.7" stroke="#262626" stroke-width="2.0"/>
<line x1="103.9" y1="638.0" x2="107.7" y2="638.0" stroke="#262626" stroke-width="2.0"/>
<line x1="481.3" y1="638.0" x2="477.5" y2="638.0" stroke="#262626" stroke-width="2.0"/>
<line x1="103.9" y1="988.3" x2="106.3" y2="988.3" stroke="#262626" stroke-width="1.8"/>
<line x1="481.3" y1="988.3" x2="478.9" y2="988.3" stroke="#262626" stroke-width="1.8"/>
<line x1="103.9" y1="971.6" x2="106.3" y2="971.6" stroke="#262626" stroke-width="1.8"/>
<line x1="481.3" y1="971.6" x2="478.9" y2="971.6" stroke="#262626" stroke-width="1.8"/>
<line x1="103.9" y1="959.8" x2="106.3" y2="959.8" stroke="#262626" stroke-width="1.8"/>
<line x1="481.3" y1="959.8" x2="478.9" y2="959.8" stroke="#262626" stroke-width="1.8"/>
<line x1="103.9" y1="950.6" x2="106.3" y2="950.6" stroke="#262626" stroke-width="1.8"/>
<line x1="481.3" y1="950.6" x2="478.9" y2="950.6" stroke="#262626" stroke-width="1.8"/>
<line x1="103.9" y1="943.1" x2="106.3" y2="943.1" stroke="#262626" stroke-width="1.8"/>
<line x1="481.3" y1="943.1" x2="478.9" y2="943.1" stroke="#262626" stroke-width="1.8"/>
<line x1="103.9" y1="936.8" x2="106.3" y2="936.8" stroke="#262626" stroke-width="1.8"/>
<line x1="481.3" y1="936.8" x2="478.9" y2="936.8" stroke="#262626" stroke-width="1.8"/>
<line x1="103.9" y1="931.3" x2="106.3" y2="931.3" stroke="#262626" stroke-width="1.8"/>
<line x1="481.3" y1="931.3" x2="478.9" y2="931.3" stroke="#262626" stroke-width="1.8"/>
<line x1="103.9" y1="926.4" x2="106.3" y2="926.4" stroke="#262626" stroke-width="1.8"/>
<line x1="481.3" y1="926.4" x2="478.9" y2="926.4" stroke="#262626" stroke-width="1.8"/>
<line x1="103.9" y1="893.6" x2="106.3" y2="893.6" stroke="#262626" stroke-width="1.8"/>
<line x1="481.3" y1="893.6" x2="478.9" y2="893.6" stroke="#262626" stroke-width="1.8"/>
<line x1="103.9" y1="876.9" x2="106.3" y2="876.9" stroke="#262626" stroke-width="1.8"/>
<line x1="481.3" y1="876.9" x2="478.9" y2="876.9" stroke="#262626" stroke-width="1.8"/>
<line x1="103.9" y1="865.1" x2="106.3" y2="865.1" stroke="#262626" stroke-width="1.8"/>
<line x1="481.3" y1="865.1" x2="478.9" y2="865.1" stroke="#262626" stroke-width="1.8"/>
<line x1="103.9" y1="855.9" x2="106.3" y2="855.9" stroke="#262626" stroke-width="1.8"/>
<line x1="481.3" y1="855.9" x2="478.9" y2="855.9" stroke="#262626" stroke-width="1.8"/>
<line x1="103.9" y1="848.4" x2="106.3" y2="848.4" stroke="#262626" stroke-width="1.8"/>
<line x1="481.3" y1="848.4" x2="478.9" y2="848.4" stroke="#262626" stroke-width="1.8"/>
<line x1="103.9" y1="842.1" x2="106.3" y2="842.1" stroke="#262626" stroke-width="1.8"/>
<line x1="481.3" y1="842.1" x2="478.9" y2="842.1" stroke="#262626" stroke-width="1.8"/>
<line x1="103.9" y1="836.6" x2="106.3" y2="836.6" stroke="#262626" stroke-width="1.8"/>
<line x1="481.3" y1="836.6" x2="478.9" y2="836.6" stroke="#262626" stroke-width="1.8"/>
<line x1="103.9" y1="831.7" x2="106.3" y2="831.7" stroke="#262626" stroke-width="1.8"/>
<line x1="481.3" y1="831.7" x2="478.9" y2="831.7" stroke="#262626" stroke-width="1.8"/>
<line x1="103.9" y1="798.9" x2="106.3" y2="798.9" stroke="#262626" stroke-width="1.8"/>
<line x1="481.3" y1="798.9" x2="478.9" y2="798.9" stroke="#262626" stroke-width="1.8"/>
<line x1="103.9" y1="782.2" x2="106.3" y2="782.2" stroke="#262626" stroke-width="1.8"/>
<line x1="481.3" y1="782.2" x2="478.9" y2="782.2" stroke="#262626" stroke-width="1.8"/>
<line x1="103.9" y1="770.4" x2="106.3" y2="770.4" stroke="#262626" stroke-width="1.8"/>
<line x1="481.3" y1="770.4" x2="478.9" y2="770.4" stroke="#262626" stroke-width="1.8"/>
<line x1="103.9" y1="761.2" x2="106.3" y2="761.2" stroke="#262626" stroke-width="1.8"/>
<line x1="481.3" y1="761.2" x2="478.9" y2="761.2" stroke="#262626" stroke-width="1.8"/>
<line x1="103.9" y1="753.7" x2="106.3" y2="753.7" stroke="#262626" stroke-width="1.8"/>
<line x1="481.3" y1="753.7" x2="478.9" y2="753.7" stroke="#262626" stroke-width="1.8"/>
<line x1="103.9" y1="747.4" x2="106.3" y2="747.4" stroke="#262626" stroke-width="1.8"/>
<line x1="481.3" y1="747.4" x2="478.9" y2="747.4" stroke="#262626" stroke-width="1.8"/>
<line x1="103.9" y1="741.9" x2="106.3" y2="741.9" stroke="#262626" stroke-width="1.8"/>
<line x1="481.3" y1="741.9" x2="478.9" y2="741.9" stroke="#262626" stroke-width="1.8"/>
<line x1="103.9" y1="737.0" x2="106.3" y2="737.0" stroke="#262626" stroke-width="1.8"/>
<line x1="481.3" y1="737.0" x2="478.9" y2="737.0" stroke="#262626" stroke-width="1.8"/>
<line x1="103.9" y1="704.2" x2="106.3" y2="704.2" stroke="#262626" stroke-width="1.8"/>
<line x1="481.3" y1="704.2" x2="478.9" y2="704.2" stroke="#262626" stroke-width="1.8"/>
<line x1="103.9" y1="687.5" x2="106.3" y2="687.5" stroke="#262626" stroke-width="1.8"/>
<line x1="481.3" y1="687.5" x2="478.9" y2="687.5" stroke="#262626" stroke-width="1.8"/>
<line x1="103.9" y1="675.7" x2="106.3" y2="675.7" stroke="#262626" stroke-width="1.8"/>
<line x1="481.3" y1="675.7" x2="478.9" y2="675.7" stroke="#262626" stroke-width="1.8"/>
<line x1="103.9" y1="666.5" x2="106.3" y2="666.5" stroke="#262626" stroke-width="1.8"/>
<line x1="481.3" y1="666.5" x2="478.9" y2="666.5" stroke="#262626" stroke-width="1.8"/>
<line x1="103.9" y1="659.0" x2="106.3" y2="659.0" stroke="#262626" stroke-width="1.8"/>
<line x1="481.3" y1="659.0" x2="478.9" y2="659.0" stroke="#262626" stroke-width="1.8"/>
<line x1="103.9" y1="652.7" x2="106.3" y2="652.7" stroke="#262626" stroke-width="1.8"/>
<line x1="481.3" y1="652.7" x2="478.9" y2="652.7" stroke="#262626" stroke-width="1.8"/>
<line x1="103.9" y1="647.2" x2="106.3" y2="647.2" stroke="#262626" stroke-width="1.8"/>
<line x1="481.3" y1="647.2" x2="478.9" y2="647.2" stroke="#262626" stroke-width="1.8"/>
<line x1="103.9" y1="642.3" x2="106.3" y2="642.3" stroke="#262626" stroke-width="1.8"/>
<line x1="481.3" y1="642.3" x2="478.9" y2="642.3" stroke="#262626" stroke-width="1.8"/>
<text transform="translate(98.6,1031.8) scale(1,1.050)" font-size="33.5" text-anchor="end" fill="#262626">10<tspan font-size="21.8" dy="-10.2">3</tspan></text>
<text transform="translate(98.6,942.1) scale(1,1.050)" font-size="33.5" text-anchor="end" fill="#262626">10<tspan font-size="21.8" dy="-10.2">4</tspan></text>
<text transform="translate(98.6,847.4) scale(1,1.050)" font-size="33.5" text-anchor="end" fill="#262626">10<tspan font-size="21.8" dy="-10.2">5</tspan></text>
<text transform="translate(98.6,752.7) scale(1,1.050)" font-size="33.5" text-anchor="end" fill="#262626">10<tspan font-size="21.8" dy="-10.2">6</tspan></text>
<text transform="translate(98.6,658.0) scale(1,1.050)" font-size="33.5" text-anchor="end" fill="#262626">10<tspan font-size="21.8" dy="-10.2">7</tspan></text>
<text transform="translate(128.2,1056.0) scale(1,1.050)" font-size="33.5" text-anchor="middle" fill="#262626" font-weight="normal" font-style="normal" >-6</text>
<text transform="translate(212.5,1056.0) scale(1,1.050)" font-size="33.5" text-anchor="middle" fill="#262626" font-weight="normal" font-style="normal" >-3</text>
<text transform="translate(294.3,1056.0) scale(1,1.050)" font-size="33.5" text-anchor="middle" fill="#262626" font-weight="normal" font-style="normal" >0</text>
<text transform="translate(378.6,1056.0) scale(1,1.050)" font-size="33.5" text-anchor="middle" fill="#262626" font-weight="normal" font-style="normal" >3</text>
<text transform="translate(462.9,1056.0) scale(1,1.050)" font-size="33.5" text-anchor="middle" fill="#262626" font-weight="normal" font-style="normal" >6</text>
<text transform="translate(298.0,1096.3) scale(1,1.050)" font-size="32.5" text-anchor="middle" fill="#262626"><tspan font-style="italic">V</tspan><tspan font-size="22.5" dy="8.2">bg</tspan><tspan dy="-8.2"> (V)</tspan></text>
<text transform="translate(29,828) rotate(-90) scale(1,1.050)" font-size="34.0" text-anchor="middle" fill="#262626"><tspan font-style="italic">R</tspan><tspan font-size="22.5" dy="8.2">hard</tspan><tspan dy="-8.2"> (&#937;)</tspan></text>
<text transform="translate(292.0,648.0) scale(1,1.050)" font-size="34.0" text-anchor="middle" fill="#000"><tspan font-style="italic">R</tspan><tspan font-size="22.5" dy="8.2">hard</tspan><tspan dy="-8.2"></tspan></text>
<text transform="translate(458.0,651.0) scale(1,1.050)" font-size="38.0" text-anchor="end" fill="#000" font-weight="bold" font-style="normal" >c</text>
<text transform="translate(379.0,723.0) scale(1,1.050)" font-size="32.5" text-anchor="middle" fill="#000" font-weight="normal" font-style="normal" >Device 1</text>
<text transform="translate(380.0,762.0) scale(1,1.050)" font-size="31.0" text-anchor="middle" fill="#262626"><tspan font-style="italic">V</tspan><tspan font-size="21.0" dy="8.2">tg</tspan><tspan dy="-8.2"> = 2 V</tspan></text>
<clipPath id="cld"><rect x="609.9" y="608.6" width="377.4" height="408.7"/></clipPath>
<g clip-path="url(#cld)">
<path d="M607.9 928.8l.9 0l.9 0l.9 .2l.9 .2l1 .3l.9 .2l.9 .1l.9 0l.9 .1l.9 0l.9 0l.9 .1l.9 .2l.9 .2l1 .2l.9 .2l.9 0l.9 0l.9 -.2l.9 -.2l.9 -.3l.9 -.3l.9 -.2l.9 0l1 .1l.9 .3l.9 .4l.9 .4l.9 .4l.9 .3l.9 .3l.9 .1l.9 .2l.9 .1l1 .1l.9 .2l.9 .2l.9 .3l.9 .4l.9 .3l.9 .3l.9 .2l.9 .1l1 0l.9 -.1l.9 -.1l.9 0l.9 0l.9 .1l.9 .1l.9 .2l.9 .2l.9 .1l1 -.1l.9 -.3l.9 -.4l.9 -.8l.9 -1.1l.9 -1.2l.9 -1.1l.9 -1l.9 -.7l.9 -.4l1 0l.9 .3l.9 .7l.9 .8l.9 .8l.9 .9l.9 .8l.9 .7l.9 .5l.9 .4l1 .3l.9 .4l.9 .3l.9 .3l.9 .1l.9 0l.9 -.2l.9 -.2l.9 -.3l1 -.2l.9 -.2l.9 -.1l.9 -.1l.9 0l.9 0l.9 -.1l.9 0l.9 -.2l.9 -.1l1 -.2l.9 -.2l.9 -.3l.9 -.2l.9 -.2l.9 -.2l.9 -.2l.9 -.3l.9 -.2l.9 -.2l1 -.1l.9 -.2l.9 -.1l.9 -.1l.9 -.2l.9 -.1l.9 -.1l.9 -.1l.9 -.1l.9 -.1l1 -.1l.9 -.1l.9 -.1l.9 -.1l.9 -.1l.9 -.1l.9 -.1l.9 -.1l.9 -.1l1 -.1l.9 -.1l.9 -.1l.9 -.1l.9 -.1l.9 -.1l.9 -.2l.9 -.1l.9 -.1l.9 -.2l1 -.1l.9 -.2l.9 -.2l.9 -.2l.9 -.3l.9 -.3l.9 -.3l.9 -.3l.9 -.3l.9 -.4l1 -.4l.9 -.4l.9 -.4l.9 -.4l.9 -.4l.9 -.4l.9 -.4l.9 -.4l.9 -.5l.9 -.4l1 -.3l.9 -.4l.9 -.4l.9 -.3l.9 -.3l.9 -.3l.9 -.3l.9 -.3l.9 -.2l1 -.2l.9 -.1l.9 -.1l.9 -.1l.9 0l.9 .1l.9 .1l.9 .1l.9 .3l.9 .2l1 .3l.9 .3l.9 .3l.9 .2l.9 .3l.9 .3l.9 .2l.9 .1l.9 .1l.9 0l1 -.1l.9 -.3l.9 -.4l.9 -.5l.9 -.6l.9 -.7l.9 -.8l.9 -.7l.9 -.8l.9 -.7l1 -.8l.9 -.6l.9 -.6l.9 -.5l.9 -.3l.9 -.2l.9 -.1l.9 0l.9 .1l1 .1l.9 .1l.9 .1l.9 .1l.9 .2l.9 .2l.9 .2l.9 .2l.9 .3l.9 .2l1 .3l.9 .3l.9 .3l.9 .3l.9 .3l.9 .3l.9 .3l.9 .5l.9 .5l.9 .7l1 .8l.9 .8l.9 .9l.9 .9l.9 .9l.9 .9l.9 .9l.9 .8l.9 .7l1 .6l.9 .5l.9 .6l.9 .5l.9 .5l.9 .5l.9 .4l.9 .5l.9 .4l.9 .5l1 .4l.9 .4l.9 .4l.9 .4l.9 .4l.9 .5l.9 .4l.9 .4l.9 .4l.9 .5l1 .4l.9 .5l.9 .5l.9 .4l.9 .5l.9 .5l.9 .5l.9 .5l.9 .6l.9 .5l1 .5l.9 .5l.9 .5l.9 .6l.9 .5l.9 .5l.9 .5l.9 .5l.9 .6l1 .5l.9 .5l.9 .5l.9 .5l.9 .5l.9 .4l.9 .5l.9 .5l.9 .4l.9 .5l1 .4l.9 .4l.9 .4l.9 .4l.9 .4l.9 .4l.9 .3l.9 .4l.9 .3l.9 .4l1 .3l.9 .3l.9 .3l.9 .4l.9 .3l.9 .3l.9 .3l.9 .3l.9 .3l.9 .3l1 .3l.9 .3l.9 .2l.9 .3l.9 .3l.9 .3l.9 .3l.9 .2l.9 .3l1 .3l.9 .3l.9 .3l.9 .2l.9 .3l.9 .3l.9 .3l.9 .3l.9 .3l.9 .3l1 .3l.9 .3l.9 .3l.9 .3l.9 .3l.9 .4l.9 .3l.9 .3l.9 .3l.9 .3l1 .2l.9 .3l.9 .3l.9 .2l.9 .2l.9 .3l.9 .2l.9 .1l.9 .2l.9 .1l1 .2l.9 .1l.9 .1l.9 .1l.9 .1l.9 .2l.9 .1l.9 .1l.9 .1l1 .1l.9 .1l.9 0l.9 .1l.9 .1l.9 .1l.9 .1l.9 .1l.9 0l.9 .1l1 .1l.9 .1l.9 0l.9 .1l.9 .1l.9 .1l.9 0l.9 .1l.9 .1l.9 0l1 .1l.9 .1l.9 .1l.9 .1l.9 0l.9 .1l.9 .1l.9 .1l.9 .1l.9 .1l1 .1l.9 .1l.9 .1l.9 .1l.9 .1l.9 .2l.9 .1l.9 .1l.9 .1l1 .2l.9 .1l.9 .2l.9 .1l.9 .2l.9 .1l.9 .2l.9 .1l.9 .2l.9 .1l1 .2l.9 .1l.9 .2l.9 .1l.9 .2l.9 .1l.9 .1l.9 .2l.9 .1l.9 .1l1 .2l.9 .1l.9 .1l.9 .1l.9 .1l.9 .1l.9 .1l.9 .1l.9 .1l.9 .1l1 0l.9 .1l.9 0l.9 .1l.9 0" fill="none" stroke="#ff0000" stroke-width="6.00" stroke-linejoin="round" stroke-linecap="round" />
<path d="M607.9 922.2l.9 .1l.9 .1l.9 .3l.9 .3l1 .3l.9 .2l.9 .2l.9 .1l.9 0l.9 .4l.9 .3l.9 .4l.9 .5l.9 .4l1 .5l.9 .2l.9 -.2l.9 -.3l.9 -.4l.9 -.6l.9 -.6l.9 -.6l.9 -.5l.9 -.4l1 0l.9 .2l.9 .4l.9 .5l.9 .5l.9 .5l.9 .4l.9 .4l.9 .3l.9 .4l1 .4l.9 .4l.9 .5l.9 .6l.9 .6l.9 .6l.9 .6l.9 .4l.9 .3l1 .2l.9 0l.9 0l.9 0l.9 0l.9 0l.9 -.1l.9 0l.9 -.1l.9 -.1l1 -.3l.9 -.4l.9 -.7l.9 -1l.9 -1.3l.9 -1.4l.9 -1.3l.9 -1.1l.9 -.6l.9 -.3l1 .1l.9 .6l.9 .8l.9 1.1l.9 1.1l.9 1.2l.9 1.1l.9 .8l.9 .5l.9 .4l1 .4l.9 .4l.9 .4l.9 .2l.9 .1l.9 0l.9 -.2l.9 -.3l.9 -.3l1 -.2l.9 -.2l.9 -.1l.9 -.1l.9 0l.9 0l.9 0l.9 0l.9 -.1l.9 -.2l1 -.2l.9 -.2l.9 -.2l.9 -.3l.9 -.2l.9 -.2l.9 -.3l.9 -.2l.9 -.3l.9 -.2l1 -.2l.9 -.2l.9 -.2l.9 -.2l.9 -.2l.9 -.2l.9 -.2l.9 -.2l.9 -.2l.9 -.1l1 -.2l.9 -.2l.9 -.2l.9 -.2l.9 -.2l.9 -.1l.9 -.2l.9 -.2l.9 -.2l1 -.2l.9 -.2l.9 -.2l.9 -.2l.9 -.2l.9 -.2l.9 -.2l.9 -.3l.9 -.2l.9 -.2l1 -.3l.9 -.3l.9 -.2l.9 -.3l.9 -.4l.9 -.3l.9 -.4l.9 -.4l.9 -.4l.9 -.5l1 -.5l.9 -.4l.9 -.5l.9 -.5l.9 -.6l.9 -.5l.9 -.6l.9 -.5l.9 -.6l.9 -.5l1 -.5l.9 -.5l.9 -.5l.9 -.5l.9 -.5l.9 -.4l.9 -.4l.9 -.4l.9 -.4l1 -.3l.9 -.3l.9 -.2l.9 -.2l.9 -.1l.9 -.1l.9 .1l.9 .1l.9 .1l.9 .1l1 .2l.9 .2l.9 .2l.9 .2l.9 .1l.9 .2l.9 .1l.9 0l.9 0l.9 -.1l1 -.3l.9 -.4l.9 -.6l.9 -.7l.9 -.7l.9 -.8l.9 -.9l.9 -.8l.9 -.9l.9 -.8l1 -.8l.9 -.7l.9 -.6l.9 -.4l.9 -.3l.9 -.2l.9 0l.9 .1l.9 .1l1 .1l.9 .1l.9 .1l.9 .1l.9 .2l.9 .2l.9 .2l.9 .2l.9 .2l.9 .3l1 .2l.9 .3l.9 .3l.9 .3l.9 .3l.9 .4l.9 .3l.9 .5l.9 .6l.9 .8l1 .9l.9 .9l.9 1.1l.9 1l.9 1.1l.9 1l.9 1l.9 1l.9 .8l1 .8l.9 .7l.9 .7l.9 .6l.9 .7l.9 .7l.9 .6l.9 .6l.9 .6l.9 .6l1 .6l.9 .6l.9 .6l.9 .6l.9 .6l.9 .6l.9 .6l.9 .5l.9 .6l.9 .6l1 .6l.9 .6l.9 .6l.9 .6l.9 .6l.9 .6l.9 .6l.9 .6l.9 .7l.9 .6l1 .6l.9 .6l.9 .7l.9 .6l.9 .6l.9 .6l.9 .7l.9 .6l.9 .6l1 .6l.9 .6l.9 .6l.9 .6l.9 .5l.9 .6l.9 .5l.9 .6l.9 .5l.9 .5l1 .5l.9 .5l.9 .5l.9 .5l.9 .4l.9 .4l.9 .5l.9 .4l.9 .4l.9 .4l1 .4l.9 .4l.9 .4l.9 .4l.9 .4l.9 .3l.9 .4l.9 .4l.9 .3l.9 .4l1 .3l.9 .4l.9 .3l.9 .3l.9 .4l.9 .3l.9 .3l.9 .3l.9 .3l1 .4l.9 .3l.9 .3l.9 .3l.9 .3l.9 .3l.9 .3l.9 .3l.9 .3l.9 .3l1 .4l.9 .3l.9 .3l.9 .3l.9 .4l.9 .3l.9 .3l.9 .3l.9 .4l.9 .3l1 .2l.9 .3l.9 .3l.9 .3l.9 .2l.9 .2l.9 .2l.9 .2l.9 .2l.9 .1l1 .1l.9 .2l.9 .1l.9 .1l.9 .2l.9 .1l.9 .1l.9 .1l.9 .1l1 .1l.9 .1l.9 .1l.9 .1l.9 .1l.9 .1l.9 .1l.9 .1l.9 0l.9 .1l1 .1l.9 .1l.9 .1l.9 0l.9 .1l.9 .1l.9 .1l.9 0l.9 .1l.9 .1l1 .1l.9 .1l.9 .1l.9 0l.9 .1l.9 .1l.9 .1l.9 .1l.9 .1l.9 .1l1 .1l.9 .1l.9 .1l.9 .2l.9 .1l.9 .1l.9 .1l.9 .2l.9 .1l1 .2l.9 .1l.9 .2l.9 .1l.9 .2l.9 .1l.9 .2l.9 .1l.9 .2l.9 .1l1 .2l.9 .1l.9 .2l.9 .1l.9 .2l.9 .1l.9 .2l.9 .1l.9 .2l.9 .1l1 .1l.9 .1l.9 .2l.9 .1l.9 .1l.9 .1l.9 .1l.9 .1l.9 .1l.9 0l1 .1l.9 0l.9 .1l.9 .1l.9 0" fill="none" stroke="#e60019" stroke-width="4.20" stroke-linejoin="round" stroke-linecap="round" />
<path d="M607.9 915l.9 .3l.9 .3l.9 .3l.9 .3l1 .4l.9 .3l.9 .2l.9 .1l.9 .1l.9 .7l.9 .7l.9 .8l.9 .7l.9 .8l1 .7l.9 .2l.9 -.4l.9 -.6l.9 -.8l.9 -.8l.9 -1l.9 -1l.9 -.9l.9 -.8l1 -.1l.9 .3l.9 .4l.9 .5l.9 .6l.9 .6l.9 .6l.9 .6l.9 .6l.9 .7l1 .7l.9 .7l.9 .8l.9 .9l.9 .8l.9 .9l.9 .8l.9 .7l.9 .5l1 .4l.9 .2l.9 .1l.9 0l.9 0l.9 -.2l.9 -.3l.9 -.3l.9 -.3l.9 -.3l1 -.5l.9 -.7l.9 -.8l.9 -1.3l.9 -1.5l.9 -1.6l.9 -1.5l.9 -1.2l.9 -.5l.9 -.2l1 .3l.9 .8l.9 1.1l.9 1.3l.9 1.4l.9 1.4l.9 1.4l.9 1l.9 .6l.9 .4l1 .5l.9 .4l.9 .4l.9 .3l.9 .1l.9 -.1l.9 -.3l.9 -.4l.9 -.3l1 -.2l.9 -.1l.9 -.1l.9 -.1l.9 0l.9 0l.9 .1l.9 -.1l.9 0l.9 -.2l1 -.2l.9 -.2l.9 -.2l.9 -.3l.9 -.2l.9 -.3l.9 -.3l.9 -.3l.9 -.3l.9 -.2l1 -.3l.9 -.3l.9 -.2l.9 -.3l.9 -.2l.9 -.3l.9 -.3l.9 -.2l.9 -.3l.9 -.3l1 -.3l.9 -.2l.9 -.3l.9 -.3l.9 -.2l.9 -.3l.9 -.3l.9 -.3l.9 -.3l1 -.3l.9 -.3l.9 -.3l.9 -.3l.9 -.3l.9 -.3l.9 -.4l.9 -.3l.9 -.3l.9 -.4l1 -.3l.9 -.4l.9 -.3l.9 -.4l.9 -.4l.9 -.5l.9 -.5l.9 -.4l.9 -.6l.9 -.5l1 -.6l.9 -.5l.9 -.6l.9 -.6l.9 -.7l.9 -.7l.9 -.7l.9 -.7l.9 -.7l.9 -.7l1 -.6l.9 -.7l.9 -.7l.9 -.6l.9 -.6l.9 -.6l.9 -.5l.9 -.6l.9 -.5l1 -.4l.9 -.4l.9 -.4l.9 -.4l.9 -.3l.9 -.1l.9 0l.9 0l.9 0l.9 .1l1 0l.9 .1l.9 .1l.9 .1l.9 0l.9 .1l.9 -.1l.9 0l.9 -.1l.9 -.3l1 -.5l.9 -.6l.9 -.7l.9 -.8l.9 -.9l.9 -1l.9 -.9l.9 -1l.9 -1l.9 -.9l1 -.8l.9 -.8l.9 -.6l.9 -.3l.9 -.3l.9 -.1l.9 0l.9 .1l.9 .2l1 .2l.9 0l.9 .1l.9 .2l.9 .1l.9 .2l.9 .2l.9 .2l.9 .2l.9 .3l1 .2l.9 .3l.9 .3l.9 .3l.9 .3l.9 .4l.9 .4l.9 .5l.9 .7l.9 .9l1 1l.9 1.1l.9 1.1l.9 1.2l.9 1.2l.9 1.2l.9 1.2l.9 1.1l.9 1l1 .9l.9 .9l.9 .8l.9 .9l.9 .9l.9 .8l.9 .8l.9 .8l.9 .8l.9 .8l1 .8l.9 .8l.9 .8l.9 .7l.9 .8l.9 .8l.9 .7l.9 .8l.9 .7l.9 .8l1 .7l.9 .7l.9 .7l.9 .8l.9 .7l.9 .7l.9 .8l.9 .7l.9 .8l.9 .7l1 .7l.9 .8l.9 .7l.9 .8l.9 .7l.9 .7l.9 .7l.9 .8l.9 .7l1 .7l.9 .7l.9 .7l.9 .6l.9 .7l.9 .6l.9 .7l.9 .6l.9 .6l.9 .6l1 .6l.9 .6l.9 .5l.9 .6l.9 .5l.9 .5l.9 .5l.9 .5l.9 .5l.9 .5l1 .4l.9 .5l.9 .4l.9 .5l.9 .4l.9 .5l.9 .4l.9 .4l.9 .5l.9 .4l1 .4l.9 .4l.9 .4l.9 .4l.9 .4l.9 .3l.9 .4l.9 .4l.9 .3l1 .4l.9 .3l.9 .4l.9 .3l.9 .4l.9 .3l.9 .3l.9 .3l.9 .4l.9 .3l1 .3l.9 .4l.9 .3l.9 .4l.9 .3l.9 .3l.9 .4l.9 .3l.9 .3l.9 .4l1 .3l.9 .2l.9 .3l.9 .3l.9 .2l.9 .3l.9 .2l.9 .2l.9 .1l.9 .2l1 .1l.9 .2l.9 .1l.9 .2l.9 .1l.9 .1l.9 .1l.9 .2l.9 .1l1 .1l.9 .1l.9 .1l.9 .1l.9 .1l.9 .1l.9 .1l.9 .1l.9 .1l.9 0l1 .1l.9 .1l.9 .1l.9 .1l.9 .1l.9 .1l.9 0l.9 .1l.9 .1l.9 .1l1 .1l.9 .1l.9 .1l.9 .1l.9 0l.9 .1l.9 .1l.9 .1l.9 .2l.9 .1l1 .1l.9 .1l.9 .1l.9 .1l.9 .2l.9 .1l.9 .1l.9 .2l.9 .1l1 .2l.9 .1l.9 .2l.9 .1l.9 .2l.9 .1l.9 .2l.9 .2l.9 .1l.9 .2l1 .1l.9 .2l.9 .2l.9 .1l.9 .2l.9 .1l.9 .2l.9 .1l.9 .1l.9 .2l1 .1l.9 .1l.9 .2l.9 .1l.9 .1l.9 .1l.9 .1l.9 .1l.9 0l.9 .1l1 .1l.9 0l.9 .1l.9 .1l.9 0" fill="none" stroke="#cf0030" stroke-width="4.20" stroke-linejoin="round" stroke-linecap="round" />
<path d="M607.9 906.7l.9 .6l.9 .4l.9 .4l.9 .4l1 .5l.9 .3l.9 .3l.9 .1l.9 .2l.9 1.1l.9 1.1l.9 1.1l.9 1.1l.9 1.1l1 1l.9 .2l.9 -.7l.9 -.9l.9 -1.1l.9 -1.2l.9 -1.4l.9 -1.4l.9 -1.3l.9 -1.2l1 -.3l.9 .3l.9 .4l.9 .5l.9 .7l.9 .8l.9 .8l.9 .9l.9 .9l.9 1l1 1.1l.9 1l.9 1.1l.9 1.2l.9 1.2l.9 1.2l.9 1.1l.9 1l.9 .8l1 .6l.9 .3l.9 .2l.9 0l.9 0l.9 -.3l.9 -.6l.9 -.5l.9 -.6l.9 -.6l1 -.8l.9 -.9l.9 -1.1l.9 -1.5l.9 -1.7l.9 -1.9l.9 -1.8l.9 -1.2l.9 -.4l.9 -.1l1 .5l.9 1l.9 1.4l.9 1.6l.9 1.7l.9 1.8l.9 1.7l.9 1.2l.9 .6l.9 .5l1 .5l.9 .5l.9 .4l.9 .2l.9 .1l.9 -.1l.9 -.4l.9 -.4l.9 -.3l1 -.2l.9 -.1l.9 -.1l.9 0l.9 0l.9 0l.9 .1l.9 0l.9 -.1l.9 -.1l1 -.2l.9 -.2l.9 -.3l.9 -.3l.9 -.2l.9 -.3l.9 -.3l.9 -.4l.9 -.3l.9 -.3l1 -.3l.9 -.4l.9 -.3l.9 -.4l.9 -.3l.9 -.3l.9 -.4l.9 -.3l.9 -.4l.9 -.4l1 -.3l.9 -.4l.9 -.4l.9 -.4l.9 -.4l.9 -.3l.9 -.4l.9 -.4l.9 -.4l1 -.5l.9 -.4l.9 -.4l.9 -.4l.9 -.5l.9 -.4l.9 -.4l.9 -.5l.9 -.4l.9 -.5l1 -.5l.9 -.5l.9 -.4l.9 -.5l.9 -.5l.9 -.5l.9 -.6l.9 -.6l.9 -.6l.9 -.7l1 -.6l.9 -.7l.9 -.7l.9 -.7l.9 -.8l.9 -.9l.9 -.9l.9 -.8l.9 -.9l.9 -.9l1 -.8l.9 -.8l.9 -.8l.9 -.8l.9 -.8l.9 -.8l.9 -.7l.9 -.7l.9 -.7l1 -.6l.9 -.6l.9 -.5l.9 -.6l.9 -.4l.9 -.2l.9 -.1l.9 -.1l.9 -.1l.9 -.1l1 0l.9 -.1l.9 0l.9 -.1l.9 0l.9 -.1l.9 -.2l.9 -.2l.9 -.2l.9 -.5l1 -.6l.9 -.8l.9 -.9l.9 -1l.9 -1.1l.9 -1.1l.9 -1.1l.9 -1.1l.9 -1.1l.9 -1l1 -.9l.9 -.8l.9 -.6l.9 -.3l.9 -.2l.9 -.1l.9 .1l.9 .2l.9 .2l1 .2l.9 .1l.9 .1l.9 .1l.9 .1l.9 .2l.9 .2l.9 .2l.9 .2l.9 .3l1 .2l.9 .3l.9 .3l.9 .3l.9 .3l.9 .4l.9 .4l.9 .6l.9 .8l.9 1l1 1.1l.9 1.3l.9 1.3l.9 1.3l.9 1.4l.9 1.4l.9 1.4l.9 1.2l.9 1.2l1 1.1l.9 1.1l.9 1l.9 1.1l.9 1l.9 1.1l.9 1l.9 1l.9 1l.9 1l1 1.1l.9 1l.9 1l.9 .9l.9 1l.9 1l.9 1l.9 .9l.9 .9l.9 .9l1 .9l.9 .9l.9 .9l.9 .9l.9 .8l.9 .9l.9 .9l.9 .9l.9 .8l.9 .9l1 .9l.9 .9l.9 .8l.9 .9l.9 .9l.9 .8l.9 .8l.9 .9l.9 .8l1 .8l.9 .8l.9 .8l.9 .8l.9 .8l.9 .7l.9 .8l.9 .7l.9 .7l.9 .7l1 .7l.9 .6l.9 .7l.9 .6l.9 .6l.9 .6l.9 .6l.9 .5l.9 .6l.9 .6l1 .5l.9 .6l.9 .5l.9 .5l.9 .6l.9 .5l.9 .5l.9 .5l.9 .5l.9 .5l1 .5l.9 .4l.9 .5l.9 .4l.9 .5l.9 .4l.9 .4l.9 .5l.9 .4l1 .4l.9 .4l.9 .4l.9 .3l.9 .4l.9 .4l.9 .3l.9 .3l.9 .4l.9 .3l1 .4l.9 .4l.9 .3l.9 .4l.9 .3l.9 .4l.9 .3l.9 .4l.9 .3l.9 .3l1 .4l.9 .3l.9 .3l.9 .2l.9 .3l.9 .2l.9 .3l.9 .2l.9 .1l.9 .2l1 .2l.9 .1l.9 .2l.9 .1l.9 .1l.9 .2l.9 .1l.9 .1l.9 .2l1 .1l.9 .1l.9 .1l.9 .1l.9 .1l.9 .1l.9 .1l.9 .1l.9 .1l.9 .1l1 .1l.9 .1l.9 .1l.9 .1l.9 .1l.9 0l.9 .1l.9 .1l.9 .1l.9 .1l1 .1l.9 .1l.9 .1l.9 .1l.9 .1l.9 .1l.9 .1l.9 .1l.9 .1l.9 .2l1 .1l.9 .1l.9 .1l.9 .2l.9 .1l.9 .1l.9 .2l.9 .1l.9 .2l1 .1l.9 .2l.9 .1l.9 .2l.9 .2l.9 .1l.9 .2l.9 .2l.9 .1l.9 .2l1 .2l.9 .1l.9 .2l.9 .1l.9 .2l.9 .1l.9 .2l.9 .1l.9 .2l.9 .1l1 .2l.9 .1l.9 .1l.9 .1l.9 .1l.9 .1l.9 .1l.9 .1l.9 .1l.9 .1l1 .1l.9 0l.9 .1l.9 0l.9 .1" fill="none" stroke="#b60049" stroke-width="4.20" stroke-linejoin="round" stroke-linecap="round" />
<path d="M607.9 896.5l.9 .6l.9 .5l.9 .6l.9 .6l1 .7l.9 .6l.9 .4l.9 .3l.9 .2l.9 1.6l.9 1.4l.9 1.6l.9 1.5l.9 1.6l1 1.6l.9 .3l.9 -.9l.9 -1.2l.9 -1.6l.9 -1.9l.9 -2.1l.9 -2.1l.9 -2.2l.9 -1.9l1 -.5l.9 .3l.9 .6l.9 1l.9 1.1l.9 1.2l.9 1.2l.9 1.3l.9 1.3l.9 1.3l1 1.3l.9 1.3l.9 1.3l.9 1.5l.9 1.6l.9 1.6l.9 1.4l.9 1.3l.9 .9l1 .6l.9 .3l.9 .1l.9 -.1l.9 -.1l.9 -.4l.9 -.7l.9 -.6l.9 -.4l.9 -.6l1 -.7l.9 -1l.9 -1.4l.9 -1.8l.9 -2.3l.9 -2.4l.9 -2.4l.9 -1.5l.9 -.4l.9 0l1 .8l.9 1.3l.9 1.7l.9 1.9l.9 2.1l.9 2.1l.9 2.1l.9 1.3l.9 .7l.9 .7l1 .7l.9 .8l.9 .7l.9 .5l.9 .2l.9 -.2l.9 -.5l.9 -.7l.9 -.5l1 -.4l.9 -.2l.9 -.2l.9 0l.9 .1l.9 .2l.9 .2l.9 .1l.9 .1l.9 0l1 -.1l.9 -.3l.9 -.2l.9 -.3l.9 -.3l.9 -.3l.9 -.3l.9 -.3l.9 -.4l.9 -.3l1 -.4l.9 -.4l.9 -.4l.9 -.4l.9 -.4l.9 -.4l.9 -.5l.9 -.4l.9 -.5l.9 -.5l1 -.5l.9 -.4l.9 -.5l.9 -.5l.9 -.5l.9 -.5l.9 -.5l.9 -.6l.9 -.5l1 -.5l.9 -.6l.9 -.5l.9 -.6l.9 -.5l.9 -.6l.9 -.6l.9 -.5l.9 -.6l.9 -.6l1 -.6l.9 -.6l.9 -.6l.9 -.5l.9 -.6l.9 -.7l.9 -.7l.9 -.7l.9 -.7l.9 -.8l1 -.7l.9 -.8l.9 -.8l.9 -.8l.9 -1.1l.9 -1l.9 -1l.9 -1.1l.9 -1l.9 -1l1 -1.1l.9 -1l.9 -1l.9 -1l.9 -.9l.9 -.9l.9 -1l.9 -.8l.9 -.9l1 -.8l.9 -.8l.9 -.7l.9 -.7l.9 -.6l.9 -.3l.9 -.2l.9 -.2l.9 -.2l.9 -.2l1 -.2l.9 -.2l.9 -.1l.9 -.2l.9 -.2l.9 -.3l.9 -.2l.9 -.3l.9 -.4l.9 -.7l1 -.9l.9 -1l.9 -1.1l.9 -1.2l.9 -1.2l.9 -1.2l.9 -1.3l.9 -1.2l.9 -1.2l.9 -1.1l1 -1.1l.9 -.8l.9 -.6l.9 -.3l.9 -.1l.9 0l.9 .1l.9 .3l.9 .2l1 .3l.9 .1l.9 .1l.9 .1l.9 .1l.9 .1l.9 .2l.9 .2l.9 .2l.9 .3l1 .2l.9 .3l.9 .3l.9 .3l.9 .4l.9 .3l.9 .5l.9 .7l.9 .9l.9 1.1l1 1.2l.9 1.4l.9 1.5l.9 1.6l.9 1.5l.9 1.6l.9 1.6l.9 1.4l.9 1.4l1 1.3l.9 1.2l.9 1.3l.9 1.2l.9 1.3l.9 1.3l.9 1.2l.9 1.3l.9 1.2l.9 1.3l1 1.2l.9 1.2l.9 1.3l.9 1.2l.9 1.2l.9 1.2l.9 1.2l.9 1.1l.9 1.1l.9 1.1l1 1.1l.9 1l.9 1.1l.9 1l.9 1l.9 1.1l.9 1l.9 1l.9 1l.9 1l1 1.1l.9 1l.9 1l.9 1l.9 1l.9 .9l.9 1l.9 1l.9 .9l1 1l.9 .9l.9 .9l.9 .9l.9 .9l.9 .8l.9 .9l.9 .8l.9 .8l.9 .8l1 .8l.9 .7l.9 .8l.9 .7l.9 .7l.9 .6l.9 .7l.9 .7l.9 .6l.9 .7l1 .6l.9 .7l.9 .6l.9 .6l.9 .6l.9 .6l.9 .6l.9 .6l.9 .5l.9 .6l1 .6l.9 .5l.9 .5l.9 .6l.9 .5l.9 .5l.9 .4l.9 .5l.9 .5l1 .4l.9 .5l.9 .4l.9 .4l.9 .4l.9 .4l.9 .4l.9 .3l.9 .4l.9 .4l1 .4l.9 .3l.9 .4l.9 .4l.9 .4l.9 .3l.9 .4l.9 .3l.9 .4l.9 .3l1 .4l.9 .3l.9 .3l.9 .3l.9 .2l.9 .3l.9 .2l.9 .2l.9 .2l.9 .2l1 .2l.9 .1l.9 .2l.9 .2l.9 .1l.9 .1l.9 .2l.9 .1l.9 .1l1 .2l.9 .1l.9 .1l.9 .1l.9 .1l.9 .1l.9 .2l.9 .1l.9 .1l.9 .1l1 .1l.9 .1l.9 .1l.9 .1l.9 .1l.9 .1l.9 .1l.9 .1l.9 .1l.9 .1l1 .1l.9 .1l.9 .1l.9 .1l.9 .1l.9 .1l.9 .1l.9 .1l.9 .2l.9 .1l1 .1l.9 .1l.9 .2l.9 .1l.9 .1l.9 .2l.9 .1l.9 .2l.9 .2l1 .1l.9 .2l.9 .2l.9 .1l.9 .2l.9 .2l.9 .1l.9 .2l.9 .2l.9 .1l1 .2l.9 .2l.9 .1l.9 .2l.9 .2l.9 .1l.9 .2l.9 .1l.9 .2l.9 .1l1 .2l.9 .1l.9 .1l.9 .1l.9 .1l.9 .1l.9 .1l.9 .1l.9 .1l.9 .1l1 .1l.9 0l.9 .1l.9 0l.9 .1" fill="none" stroke="#a2005d" stroke-width="4.20" stroke-linejoin="round" stroke-linecap="round" />
<path d="M607.9 886.7l.9 .6l.9 .4l.9 .7l.9 .9l1 1l.9 .9l.9 .7l.9 .3l.9 .3l.9 1.9l.9 1.8l.9 1.9l.9 2l.9 2.2l1 2.1l.9 .7l.9 -1l.9 -1.5l.9 -2l.9 -2.5l.9 -3l.9 -3.1l.9 -3l.9 -2.8l1 -.8l.9 .3l.9 .9l.9 1.4l.9 1.7l.9 1.8l.9 1.8l.9 1.7l.9 1.6l.9 1.5l1 1.6l.9 1.4l.9 1.5l.9 1.7l.9 1.9l.9 2l.9 1.8l.9 1.5l.9 1l1 .6l.9 .1l.9 -.3l.9 -.4l.9 -.2l.9 -.6l.9 -.7l.9 -.4l.9 -.2l.9 -.2l1 -.5l.9 -.9l.9 -1.5l.9 -2.2l.9 -2.8l.9 -3.1l.9 -3l.9 -2l.9 -.5l.9 .1l1 .9l.9 1.6l.9 2.1l.9 2.3l.9 2.3l.9 2.4l.9 2.3l.9 1.4l.9 .9l.9 .8l1 1.1l.9 1.1l.9 1.2l.9 .9l.9 .4l.9 -.1l.9 -.7l.9 -1l.9 -.8l1 -.7l.9 -.5l.9 -.3l.9 -.1l.9 .2l.9 .4l.9 .4l.9 .4l.9 .3l.9 .1l1 0l.9 -.2l.9 -.3l.9 -.3l.9 -.3l.9 -.2l.9 -.3l.9 -.3l.9 -.3l.9 -.4l1 -.4l.9 -.5l.9 -.5l.9 -.4l.9 -.4l.9 -.6l.9 -.5l.9 -.5l.9 -.6l.9 -.5l1 -.6l.9 -.6l.9 -.6l.9 -.6l.9 -.6l.9 -.6l.9 -.6l.9 -.6l.9 -.7l1 -.6l.9 -.7l.9 -.6l.9 -.7l.9 -.7l.9 -.6l.9 -.7l.9 -.7l.9 -.7l.9 -.7l1 -.7l.9 -.7l.9 -.6l.9 -.7l.9 -.7l.9 -.7l.9 -.8l.9 -.8l.9 -.8l.9 -.9l1 -.9l.9 -.9l.9 -.9l.9 -.9l.9 -1.1l.9 -1.2l.9 -1.2l.9 -1.2l.9 -1.2l.9 -1.2l1 -1.2l.9 -1.2l.9 -1.1l.9 -1.2l.9 -1.1l.9 -1.1l.9 -1l.9 -1.1l.9 -1l1 -.9l.9 -1l.9 -.9l.9 -.8l.9 -.8l.9 -.3l.9 -.4l.9 -.3l.9 -.3l.9 -.3l1 -.2l.9 -.3l.9 -.3l.9 -.3l.9 -.4l.9 -.3l.9 -.4l.9 -.4l.9 -.5l.9 -.9l1 -1l.9 -1.2l.9 -1.3l.9 -1.3l.9 -1.4l.9 -1.4l.9 -1.4l.9 -1.4l.9 -1.3l.9 -1.2l1 -1.1l.9 -.9l.9 -.5l.9 -.3l.9 -.1l.9 .1l.9 .2l.9 .3l.9 .3l1 .4l.9 0l.9 .1l.9 0l.9 .2l.9 .1l.9 .2l.9 .2l.9 .2l.9 .2l1 .3l.9 .3l.9 .3l.9 .3l.9 .3l.9 .4l.9 .5l.9 .7l.9 1l.9 1.2l1 1.4l.9 1.5l.9 1.7l.9 1.7l.9 1.7l.9 1.8l.9 1.7l.9 1.6l.9 1.6l1 1.4l.9 1.4l.9 1.5l.9 1.4l.9 1.5l.9 1.4l.9 1.5l.9 1.4l.9 1.5l.9 1.4l1 1.5l.9 1.4l.9 1.4l.9 1.5l.9 1.4l.9 1.3l.9 1.4l.9 1.3l.9 1.3l.9 1.3l1 1.2l.9 1.2l.9 1.2l.9 1.1l.9 1.2l.9 1.2l.9 1.1l.9 1.2l.9 1.1l.9 1.2l1 1.1l.9 1.1l.9 1.2l.9 1.1l.9 1.1l.9 1.1l.9 1.1l.9 1l.9 1.1l1 1l.9 1.1l.9 1l.9 1l.9 .9l.9 1l.9 .9l.9 1l.9 .9l.9 .9l1 .8l.9 .9l.9 .8l.9 .8l.9 .7l.9 .8l.9 .7l.9 .8l.9 .7l.9 .7l1 .7l.9 .7l.9 .7l.9 .7l.9 .7l.9 .7l.9 .6l.9 .7l.9 .6l.9 .7l1 .6l.9 .6l.9 .6l.9 .6l.9 .5l.9 .6l.9 .5l.9 .5l.9 .6l1 .4l.9 .5l.9 .5l.9 .4l.9 .5l.9 .4l.9 .4l.9 .4l.9 .3l.9 .4l1 .4l.9 .4l.9 .4l.9 .4l.9 .4l.9 .4l.9 .3l.9 .4l.9 .4l.9 .3l1 .4l.9 .3l.9 .3l.9 .3l.9 .3l.9 .3l.9 .2l.9 .2l.9 .2l.9 .2l1 .2l.9 .2l.9 .1l.9 .2l.9 .1l.9 .2l.9 .1l.9 .2l.9 .1l1 .1l.9 .2l.9 .1l.9 .1l.9 .1l.9 .2l.9 .1l.9 .1l.9 .1l.9 .1l1 .1l.9 .1l.9 .1l.9 .1l.9 .1l.9 .1l.9 .1l.9 .2l.9 .1l.9 .1l1 .1l.9 .1l.9 .1l.9 .1l.9 .1l.9 .2l.9 .1l.9 .1l.9 .1l.9 .2l1 .1l.9 .1l.9 .2l.9 .1l.9 .2l.9 .1l.9 .2l.9 .1l.9 .2l1 .2l.9 .1l.9 .2l.9 .2l.9 .1l.9 .2l.9 .2l.9 .2l.9 .1l.9 .2l1 .2l.9 .2l.9 .1l.9 .2l.9 .2l.9 .1l.9 .2l.9 .1l.9 .2l.9 .1l1 .2l.9 .1l.9 .1l.9 .2l.9 .1l.9 .1l.9 .1l.9 .1l.9 .1l.9 0l1 .1l.9 .1l.9 0l.9 .1l.9 0" fill="none" stroke="#90006f" stroke-width="4.20" stroke-linejoin="round" stroke-linecap="round" />
<path d="M607.9 877.6l.9 .4l.9 .3l.9 .8l.9 1.1l1 1.3l.9 1.2l.9 .9l.9 .5l.9 .3l.9 2.3l.9 2.1l.9 2.2l.9 2.4l.9 2.7l1 2.7l.9 1l.9 -1l.9 -1.6l.9 -2.4l.9 -3.1l.9 -3.7l.9 -4.1l.9 -3.9l.9 -3.6l1 -1.3l.9 .3l.9 1.1l.9 1.8l.9 2.2l.9 2.4l.9 2.4l.9 2.2l.9 2l.9 1.8l1 1.7l.9 1.5l.9 1.7l.9 1.9l.9 2.3l.9 2.3l.9 2.1l.9 1.8l.9 1.1l1 .5l.9 -.1l.9 -.6l.9 -.7l.9 -.5l.9 -.8l.9 -.8l.9 -.2l.9 .1l.9 .1l1 -.2l.9 -.8l.9 -1.5l.9 -2.5l.9 -3.2l.9 -3.7l.9 -3.6l.9 -2.4l.9 -.8l.9 .2l1 1l.9 1.9l.9 2.4l.9 2.6l.9 2.6l.9 2.6l.9 2.5l.9 1.5l.9 .9l.9 1l1 1.4l.9 1.6l.9 1.5l.9 1.3l.9 .7l.9 0l.9 -.8l.9 -1.2l.9 -1.2l1 -.9l.9 -.8l.9 -.5l.9 -.1l.9 .2l.9 .5l.9 .7l.9 .6l.9 .5l.9 .3l1 0l.9 -.2l.9 -.2l.9 -.3l.9 -.3l.9 -.2l.9 -.3l.9 -.2l.9 -.3l.9 -.4l1 -.5l.9 -.5l.9 -.5l.9 -.5l.9 -.5l.9 -.6l.9 -.6l.9 -.6l.9 -.6l.9 -.7l1 -.6l.9 -.7l.9 -.7l.9 -.7l.9 -.7l.9 -.7l.9 -.7l.9 -.7l.9 -.8l1 -.7l.9 -.8l.9 -.7l.9 -.8l.9 -.8l.9 -.7l.9 -.8l.9 -.8l.9 -.8l.9 -.8l1 -.8l.9 -.8l.9 -.7l.9 -.8l.9 -.8l.9 -.8l.9 -.9l.9 -.9l.9 -.9l.9 -.9l1 -1l.9 -1l.9 -1l.9 -1l.9 -1.3l.9 -1.3l.9 -1.4l.9 -1.3l.9 -1.3l.9 -1.4l1 -1.3l.9 -1.3l.9 -1.3l.9 -1.3l.9 -1.3l.9 -1.2l.9 -1.2l.9 -1.2l.9 -1.2l1 -1.1l.9 -1.1l.9 -1l.9 -1l.9 -.9l.9 -.4l.9 -.4l.9 -.4l.9 -.4l.9 -.4l1 -.4l.9 -.4l.9 -.4l.9 -.4l.9 -.5l.9 -.4l.9 -.5l.9 -.6l.9 -.5l.9 -1.1l1 -1.2l.9 -1.4l.9 -1.4l.9 -1.5l.9 -1.5l.9 -1.6l.9 -1.5l.9 -1.5l.9 -1.3l.9 -1.3l1 -1.2l.9 -1l.9 -.5l.9 -.2l.9 -.1l.9 .1l.9 .3l.9 .3l.9 .4l1 .4l.9 .1l.9 0l.9 .1l.9 .1l.9 .1l.9 .2l.9 .2l.9 .2l.9 .2l1 .3l.9 .3l.9 .3l.9 .3l.9 .3l.9 .4l.9 .5l.9 .8l.9 1.1l.9 1.3l1 1.5l.9 1.7l.9 1.7l.9 1.9l.9 1.9l.9 1.9l.9 1.9l.9 1.8l.9 1.7l1 1.6l.9 1.5l.9 1.6l.9 1.7l.9 1.6l.9 1.6l.9 1.7l.9 1.6l.9 1.6l.9 1.7l1 1.6l.9 1.6l.9 1.7l.9 1.6l.9 1.6l.9 1.5l.9 1.6l.9 1.5l.9 1.4l.9 1.4l1 1.4l.9 1.3l.9 1.3l.9 1.3l.9 1.3l.9 1.3l.9 1.3l.9 1.3l.9 1.2l.9 1.3l1 1.2l.9 1.3l.9 1.2l.9 1.2l.9 1.3l.9 1.2l.9 1.1l.9 1.2l.9 1.2l1 1.1l.9 1.1l.9 1.2l.9 1l.9 1.1l.9 1.1l.9 1l.9 1l.9 1l.9 1l1 .9l.9 .9l.9 .9l.9 .9l.9 .8l.9 .8l.9 .8l.9 .9l.9 .8l.9 .8l1 .7l.9 .8l.9 .8l.9 .8l.9 .7l.9 .7l.9 .8l.9 .7l.9 .7l.9 .7l1 .7l.9 .6l.9 .7l.9 .6l.9 .6l.9 .6l.9 .6l.9 .6l.9 .5l1 .6l.9 .5l.9 .5l.9 .5l.9 .4l.9 .5l.9 .4l.9 .4l.9 .4l.9 .4l1 .4l.9 .4l.9 .4l.9 .4l.9 .4l.9 .4l.9 .4l.9 .4l.9 .4l.9 .3l1 .4l.9 .3l.9 .3l.9 .4l.9 .2l.9 .3l.9 .3l.9 .2l.9 .2l.9 .2l1 .2l.9 .2l.9 .1l.9 .2l.9 .2l.9 .1l.9 .2l.9 .1l.9 .2l1 .1l.9 .1l.9 .2l.9 .1l.9 .1l.9 .2l.9 .1l.9 .1l.9 .1l.9 .1l1 .1l.9 .2l.9 .1l.9 .1l.9 .1l.9 .1l.9 .1l.9 .1l.9 .1l.9 .2l1 .1l.9 .1l.9 .1l.9 .1l.9 .2l.9 .1l.9 .1l.9 .1l.9 .2l.9 .1l1 .1l.9 .2l.9 .1l.9 .2l.9 .1l.9 .2l.9 .2l.9 .1l.9 .2l1 .2l.9 .1l.9 .2l.9 .2l.9 .2l.9 .2l.9 .1l.9 .2l.9 .2l.9 .2l1 .1l.9 .2l.9 .2l.9 .2l.9 .1l.9 .2l.9 .2l.9 .1l.9 .2l.9 .1l1 .2l.9 .1l.9 .1l.9 .1l.9 .2l.9 .1l.9 .1l.9 .1l.9 .1l.9 0l1 .1l.9 .1l.9 0l.9 .1l.9 0" fill="none" stroke="#80007f" stroke-width="4.20" stroke-linejoin="round" stroke-linecap="round" />
<path d="M607.9 868.1l.9 0l.9 .1l.9 .7l.9 1.3l1 1.7l.9 1.5l.9 1.2l.9 .7l.9 .5l.9 2.5l.9 2.5l.9 2.5l.9 2.8l.9 3.2l1 3.4l.9 1.4l.9 -.8l.9 -1.7l.9 -2.7l.9 -3.7l.9 -4.6l.9 -5.1l.9 -5.1l.9 -4.6l1 -1.8l.9 .1l.9 1.2l.9 2.3l.9 2.9l.9 3.2l.9 3.1l.9 2.8l.9 2.5l.9 2l1 1.9l.9 1.6l.9 1.8l.9 2.1l.9 2.6l.9 2.7l.9 2.5l.9 2l.9 1.3l1 .4l.9 -.4l.9 -1.1l.9 -1.2l.9 -.9l.9 -1l.9 -.9l.9 -.1l.9 .5l.9 .6l1 .4l.9 -.4l.9 -1.5l.9 -2.7l.9 -3.7l.9 -4.3l.9 -4.4l.9 -3l.9 -1l.9 0l1 1.2l.9 2.2l.9 2.7l.9 2.9l.9 2.9l.9 2.8l.9 2.7l.9 1.6l.9 .8l.9 1.2l1 1.7l.9 2.1l.9 2.1l.9 1.8l.9 1.2l.9 .2l.9 -.8l.9 -1.6l.9 -1.4l1 -1.3l.9 -1.2l.9 -.8l.9 -.3l.9 .3l.9 .7l.9 .8l.9 1l.9 .7l.9 .5l1 .1l.9 -.1l.9 -.2l.9 -.3l.9 -.2l.9 -.2l.9 -.2l.9 -.2l.9 -.2l.9 -.4l1 -.5l.9 -.6l.9 -.6l.9 -.5l.9 -.5l.9 -.7l.9 -.7l.9 -.7l.9 -.7l.9 -.7l1 -.8l.9 -.7l.9 -.8l.9 -.8l.9 -.8l.9 -.8l.9 -.8l.9 -.8l.9 -.9l1 -.8l.9 -.9l.9 -.8l.9 -.9l.9 -.9l.9 -.9l.9 -.8l.9 -.9l.9 -.9l.9 -.9l1 -1l.9 -.9l.9 -.8l.9 -.8l.9 -.9l.9 -.9l.9 -.9l.9 -1l.9 -1l.9 -1l1 -1.1l.9 -1.1l.9 -1.1l.9 -1.1l.9 -1.4l.9 -1.5l.9 -1.5l.9 -1.5l.9 -1.5l.9 -1.4l1 -1.5l.9 -1.5l.9 -1.4l.9 -1.5l.9 -1.4l.9 -1.4l.9 -1.3l.9 -1.4l.9 -1.3l1 -1.2l.9 -1.2l.9 -1.2l.9 -1.2l.9 -1l.9 -.5l.9 -.5l.9 -.5l.9 -.5l.9 -.5l1 -.5l.9 -.5l.9 -.5l.9 -.5l.9 -.6l.9 -.6l.9 -.6l.9 -.6l.9 -.7l.9 -1.2l1 -1.4l.9 -1.5l.9 -1.6l.9 -1.7l.9 -1.6l.9 -1.7l.9 -1.7l.9 -1.5l.9 -1.5l.9 -1.4l1 -1.2l.9 -1.1l.9 -.5l.9 -.1l.9 0l.9 .1l.9 .3l.9 .4l.9 .4l1 .5l.9 0l.9 .1l.9 0l.9 .1l.9 .1l.9 .2l.9 .2l.9 .2l.9 .2l1 .3l.9 .3l.9 .3l.9 .3l.9 .3l.9 .4l.9 .5l.9 .9l.9 1.2l.9 1.4l1 1.6l.9 1.8l.9 1.9l.9 2l.9 2.1l.9 2l.9 2.1l.9 1.9l.9 1.9l1 1.7l.9 1.7l.9 1.8l.9 1.8l.9 1.9l.9 1.8l.9 1.8l.9 1.8l.9 1.8l.9 1.8l1 1.9l.9 1.8l.9 1.8l.9 1.8l.9 1.8l.9 1.7l.9 1.7l.9 1.7l.9 1.6l.9 1.6l1 1.5l.9 1.5l.9 1.4l.9 1.4l.9 1.4l.9 1.4l.9 1.4l.9 1.4l.9 1.4l.9 1.4l1 1.4l.9 1.3l.9 1.4l.9 1.3l.9 1.3l.9 1.3l.9 1.3l.9 1.3l.9 1.3l1 1.2l.9 1.2l.9 1.2l.9 1.2l.9 1.2l.9 1.1l.9 1.1l.9 1.1l.9 1.1l.9 1.1l1 1l.9 1l.9 .9l.9 1l.9 .9l.9 .9l.9 .9l.9 .9l.9 .8l.9 .9l1 .9l.9 .8l.9 .8l.9 .9l.9 .8l.9 .8l.9 .8l.9 .8l.9 .8l.9 .7l1 .7l.9 .8l.9 .7l.9 .7l.9 .6l.9 .7l.9 .6l.9 .6l.9 .6l1 .6l.9 .6l.9 .5l.9 .5l.9 .5l.9 .5l.9 .4l.9 .4l.9 .4l.9 .5l1 .4l.9 .4l.9 .4l.9 .4l.9 .4l.9 .5l.9 .4l.9 .4l.9 .3l.9 .4l1 .4l.9 .3l.9 .4l.9 .3l.9 .3l.9 .3l.9 .2l.9 .3l.9 .2l.9 .2l1 .2l.9 .2l.9 .2l.9 .1l.9 .2l.9 .2l.9 .1l.9 .2l.9 .1l1 .2l.9 .1l.9 .2l.9 .1l.9 .1l.9 .1l.9 .2l.9 .1l.9 .1l.9 .1l1 .2l.9 .1l.9 .1l.9 .1l.9 .1l.9 .2l.9 .1l.9 .1l.9 .1l.9 .1l1 .2l.9 .1l.9 .1l.9 .1l.9 .2l.9 .1l.9 .1l.9 .2l.9 .1l.9 .2l1 .1l.9 .1l.9 .2l.9 .2l.9 .1l.9 .2l.9 .1l.9 .2l.9 .2l1 .2l.9 .2l.9 .1l.9 .2l.9 .2l.9 .2l.9 .2l.9 .2l.9 .1l.9 .2l1 .2l.9 .2l.9 .2l.9 .1l.9 .2l.9 .2l.9 .1l.9 .2l.9 .2l.9 .1l1 .1l.9 .2l.9 .1l.9 .1l.9 .2l.9 .1l.9 .1l.9 .1l.9 .1l.9 0l1 .1l.9 .1l.9 0l.9 .1l.9 0" fill="none" stroke="#6f0090" stroke-width="4.20" stroke-linejoin="round" stroke-linecap="round" />
<path d="M607.9 857.7l.9 -.3l.9 -.2l.9 .7l.9 1.4l1 2l.9 1.9l.9 1.5l.9 .9l.9 .6l.9 2.9l.9 2.7l.9 2.9l.9 3.3l.9 3.8l1 4.1l.9 1.8l.9 -.7l.9 -1.7l.9 -2.9l.9 -4.3l.9 -5.5l.9 -6.2l.9 -6.3l.9 -5.7l1 -2.5l.9 -.2l.9 1.4l.9 2.7l.9 3.5l.9 4l.9 3.9l.9 3.5l.9 2.9l.9 2.4l1 2.2l.9 1.7l.9 1.9l.9 2.5l.9 2.9l.9 3.1l.9 2.9l.9 2.4l.9 1.5l1 .3l.9 -.7l.9 -1.5l.9 -1.7l.9 -1.3l.9 -1.5l.9 -1.1l.9 0l.9 .8l.9 1.2l1 .8l.9 0l.9 -1.3l.9 -2.9l.9 -4.1l.9 -5l.9 -5.2l.9 -3.6l.9 -1.3l.9 0l1 1.3l.9 2.4l.9 3.1l.9 3.3l.9 3.1l.9 3.1l.9 2.9l.9 1.6l.9 .9l.9 1.3l1 2l.9 2.6l.9 2.7l.9 2.4l.9 1.6l.9 .4l.9 -.8l.9 -1.7l.9 -1.8l1 -1.7l.9 -1.5l.9 -1.1l.9 -.5l.9 .2l.9 .8l.9 1.2l.9 1.2l.9 1l.9 .6l1 .3l.9 0l.9 -.2l.9 -.3l.9 -.2l.9 -.1l.9 -.2l.9 -.1l.9 -.2l.9 -.3l1 -.6l.9 -.6l.9 -.7l.9 -.6l.9 -.6l.9 -.7l.9 -.8l.9 -.8l.9 -.8l.9 -.8l1 -.8l.9 -.9l.9 -.9l.9 -.9l.9 -.9l.9 -.9l.9 -.9l.9 -1l.9 -.9l1 -1l.9 -1l.9 -.9l.9 -1l.9 -1l.9 -1l.9 -1l.9 -1.1l.9 -1l.9 -1l1 -1l.9 -1l.9 -.9l.9 -1l.9 -.9l.9 -1l.9 -1.1l.9 -1.1l.9 -1.1l.9 -1.1l1 -1.2l.9 -1.1l.9 -1.2l.9 -1.3l.9 -1.6l.9 -1.6l.9 -1.7l.9 -1.6l.9 -1.7l.9 -1.6l1 -1.7l.9 -1.6l.9 -1.6l.9 -1.6l.9 -1.6l.9 -1.6l.9 -1.5l.9 -1.5l.9 -1.5l1 -1.4l.9 -1.4l.9 -1.3l.9 -1.3l.9 -1.2l.9 -.6l.9 -.6l.9 -.6l.9 -.6l.9 -.6l1 -.7l.9 -.6l.9 -.6l.9 -.7l.9 -.7l.9 -.7l.9 -.7l.9 -.7l.9 -.8l.9 -1.4l1 -1.6l.9 -1.7l.9 -1.8l.9 -1.9l.9 -1.8l.9 -1.8l.9 -1.8l.9 -1.7l.9 -1.6l.9 -1.5l1 -1.3l.9 -1.1l.9 -.5l.9 -.1l.9 0l.9 .2l.9 .4l.9 .4l.9 .5l1 .6l.9 0l.9 0l.9 0l.9 .1l.9 .2l.9 .1l.9 .2l.9 .2l.9 .2l1 .3l.9 .3l.9 .3l.9 .3l.9 .3l.9 .4l.9 .6l.9 .9l.9 1.3l.9 1.5l1 1.7l.9 2l.9 2l.9 2.2l.9 2.2l.9 2.3l.9 2.2l.9 2.2l.9 2l1 1.9l.9 1.9l.9 2l.9 2l.9 2.1l.9 2l.9 2l.9 2l.9 2l.9 2.1l1 2l.9 2.1l.9 2l.9 2l.9 2l.9 1.9l.9 2l.9 1.8l.9 1.8l.9 1.8l1 1.7l.9 1.6l.9 1.5l.9 1.6l.9 1.6l.9 1.5l.9 1.6l.9 1.5l.9 1.5l.9 1.5l1 1.5l.9 1.5l.9 1.5l.9 1.4l.9 1.5l.9 1.4l.9 1.4l.9 1.4l.9 1.4l1 1.4l.9 1.3l.9 1.3l.9 1.3l.9 1.3l.9 1.2l.9 1.2l.9 1.2l.9 1.2l.9 1.1l1 1.1l.9 1.1l.9 1.1l.9 1l.9 1l.9 1l.9 .9l.9 1l.9 1l.9 .9l1 1l.9 .9l.9 .9l.9 .9l.9 .9l.9 .9l.9 .9l.9 .8l.9 .9l.9 .8l1 .8l.9 .8l.9 .8l.9 .7l.9 .8l.9 .7l.9 .7l.9 .6l.9 .7l1 .6l.9 .6l.9 .6l.9 .5l.9 .5l.9 .5l.9 .5l.9 .4l.9 .5l.9 .4l1 .4l.9 .5l.9 .4l.9 .4l.9 .5l.9 .4l.9 .4l.9 .4l.9 .4l.9 .4l1 .4l.9 .4l.9 .3l.9 .3l.9 .3l.9 .3l.9 .3l.9 .3l.9 .2l.9 .2l1 .2l.9 .2l.9 .2l.9 .2l.9 .2l.9 .1l.9 .2l.9 .2l.9 .1l1 .2l.9 .1l.9 .2l.9 .1l.9 .1l.9 .2l.9 .1l.9 .1l.9 .2l.9 .1l1 .1l.9 .2l.9 .1l.9 .1l.9 .1l.9 .2l.9 .1l.9 .1l.9 .1l.9 .2l1 .1l.9 .1l.9 .2l.9 .1l.9 .1l.9 .2l.9 .1l.9 .2l.9 .1l.9 .2l1 .1l.9 .2l.9 .1l.9 .2l.9 .1l.9 .2l.9 .2l.9 .2l.9 .2l1 .1l.9 .2l.9 .2l.9 .2l.9 .2l.9 .2l.9 .2l.9 .2l.9 .1l.9 .2l1 .2l.9 .2l.9 .2l.9 .2l.9 .1l.9 .2l.9 .2l.9 .1l.9 .2l.9 .2l1 .1l.9 .1l.9 .2l.9 .1l.9 .1l.9 .1l.9 .1l.9 .1l.9 .1l.9 .1l1 .1l.9 0l.9 .1l.9 0l.9 .1" fill="none" stroke="#60009f" stroke-width="4.20" stroke-linejoin="round" stroke-linecap="round" />
<path d="M607.9 849.1l.9 -.8l.9 -.5l.9 .5l.9 1.6l1 2.1l.9 2.3l.9 1.8l.9 1.1l.9 .7l.9 3.2l.9 3l.9 3.2l.9 3.6l.9 4.3l1 4.7l.9 2.3l.9 -.5l.9 -1.5l.9 -3.1l.9 -4.8l.9 -6.2l.9 -7.1l.9 -7.5l.9 -6.8l1 -3.2l.9 -.5l.9 1.3l.9 3l.9 4.2l.9 4.6l.9 4.7l.9 4.2l.9 3.5l.9 2.8l1 2.3l.9 1.8l.9 2.1l.9 2.6l.9 3.1l.9 3.5l.9 3.4l.9 2.7l.9 1.6l1 .3l.9 -.9l.9 -2l.9 -2.3l.9 -1.9l.9 -1.8l.9 -1.4l.9 0l.9 1.2l.9 1.6l1 1.4l.9 .5l.9 -1l.9 -2.9l.9 -4.5l.9 -5.5l.9 -5.9l.9 -4.1l.9 -1.6l.9 -.3l1 1.4l.9 2.6l.9 3.4l.9 3.6l.9 3.4l.9 3.3l.9 3l.9 1.6l.9 .8l.9 1.4l1 2.3l.9 3l.9 3.2l.9 3l.9 2.1l.9 .8l.9 -.7l.9 -1.9l.9 -2.1l1 -2l.9 -1.9l.9 -1.5l.9 -.6l.9 .1l.9 .9l.9 1.3l.9 1.5l.9 1.3l.9 .8l1 .5l.9 0l.9 -.2l.9 -.2l.9 -.2l.9 -.1l.9 -.1l.9 0l.9 -.1l.9 -.4l1 -.5l.9 -.7l.9 -.8l.9 -.6l.9 -.6l.9 -.8l.9 -.9l.9 -.8l.9 -.9l.9 -.9l1 -.9l.9 -1l.9 -.9l.9 -1l.9 -1l.9 -1l.9 -1l.9 -1.1l.9 -1l1 -1.1l.9 -1.1l.9 -1l.9 -1.1l.9 -1.1l.9 -1.1l.9 -1.1l.9 -1.1l.9 -1.1l.9 -1.2l1 -1.1l.9 -1.1l.9 -1l.9 -1l.9 -1l.9 -1.1l.9 -1.1l.9 -1.2l.9 -1.2l.9 -1.2l1 -1.2l.9 -1.3l.9 -1.3l.9 -1.3l.9 -1.7l.9 -1.8l.9 -1.8l.9 -1.8l.9 -1.8l.9 -1.8l1 -1.8l.9 -1.7l.9 -1.8l.9 -1.7l.9 -1.7l.9 -1.7l.9 -1.7l.9 -1.7l.9 -1.6l1 -1.5l.9 -1.6l.9 -1.4l.9 -1.5l.9 -1.3l.9 -.7l.9 -.6l.9 -.7l.9 -.7l.9 -.7l1 -.7l.9 -.8l.9 -.7l.9 -.8l.9 -.7l.9 -.8l.9 -.9l.9 -.8l.9 -.9l.9 -1.5l1 -1.8l.9 -1.9l.9 -1.9l.9 -2l.9 -2l.9 -1.9l.9 -1.9l.9 -1.8l.9 -1.7l.9 -1.6l1 -1.3l.9 -1.2l.9 -.5l.9 0l.9 0l.9 .3l.9 .4l.9 .5l.9 .5l1 .6l.9 0l.9 0l.9 0l.9 .1l.9 .1l.9 .2l.9 .1l.9 .2l.9 .3l1 .2l.9 .3l.9 .3l.9 .3l.9 .4l.9 .4l.9 .6l.9 1l.9 1.3l.9 1.6l1 1.9l.9 2l.9 2.2l.9 2.3l.9 2.4l.9 2.4l.9 2.4l.9 2.3l.9 2.1l1 2.1l.9 2.1l.9 2.1l.9 2.2l.9 2.2l.9 2.1l.9 2.2l.9 2.2l.9 2.2l.9 2.3l1 2.2l.9 2.2l.9 2.2l.9 2.2l.9 2.2l.9 2.1l.9 2l.9 2.1l.9 1.9l.9 1.9l1 1.8l.9 1.8l.9 1.6l.9 1.7l.9 1.7l.9 1.7l.9 1.6l.9 1.7l.9 1.6l.9 1.6l1 1.6l.9 1.6l.9 1.6l.9 1.6l.9 1.5l.9 1.6l.9 1.5l.9 1.5l.9 1.4l1 1.5l.9 1.4l.9 1.4l.9 1.4l.9 1.3l.9 1.4l.9 1.3l.9 1.2l.9 1.3l.9 1.2l1 1.2l.9 1.1l.9 1.2l.9 1.1l.9 1l.9 1.1l.9 1l.9 1l.9 1.1l.9 1l1 1l.9 1l.9 1l.9 .9l.9 1l.9 .9l.9 1l.9 .9l.9 .9l.9 .9l1 .8l.9 .9l.9 .8l.9 .8l.9 .8l.9 .8l.9 .7l.9 .7l.9 .7l1 .7l.9 .6l.9 .6l.9 .6l.9 .5l.9 .5l.9 .5l.9 .5l.9 .4l.9 .5l1 .4l.9 .5l.9 .4l.9 .5l.9 .4l.9 .4l.9 .5l.9 .4l.9 .4l.9 .4l1 .4l.9 .4l.9 .3l.9 .4l.9 .3l.9 .3l.9 .3l.9 .2l.9 .3l.9 .2l1 .2l.9 .2l.9 .2l.9 .2l.9 .2l.9 .2l.9 .1l.9 .2l.9 .2l1 .1l.9 .2l.9 .1l.9 .2l.9 .1l.9 .2l.9 .1l.9 .1l.9 .2l.9 .1l1 .1l.9 .2l.9 .1l.9 .1l.9 .2l.9 .1l.9 .1l.9 .2l.9 .1l.9 .1l1 .2l.9 .1l.9 .1l.9 .2l.9 .1l.9 .2l.9 .1l.9 .2l.9 .1l.9 .2l1 .1l.9 .2l.9 .2l.9 .1l.9 .2l.9 .2l.9 .2l.9 .1l.9 .2l1 .2l.9 .2l.9 .2l.9 .2l.9 .2l.9 .2l.9 .2l.9 .2l.9 .2l.9 .2l1 .1l.9 .2l.9 .2l.9 .2l.9 .2l.9 .2l.9 .1l.9 .2l.9 .1l.9 .2l1 .2l.9 .1l.9 .1l.9 .2l.9 .1l.9 .1l.9 .1l.9 .1l.9 .1l.9 .1l1 0l.9 .1l.9 0l.9 .1l.9 .1" fill="none" stroke="#5000af" stroke-width="4.20" stroke-linejoin="round" stroke-linecap="round" />
<path d="M607.9 838.1l.9 -1.2l.9 -.8l.9 .3l.9 1.6l1 2.4l.9 2.6l.9 2.1l.9 1.3l.9 .8l.9 3.7l.9 3.4l.9 3.5l.9 4.1l.9 4.8l1 5.4l.9 2.8l.9 -.3l.9 -1.5l.9 -3.3l.9 -5.2l.9 -7l.9 -8.2l.9 -8.7l.9 -8.1l1 -4l.9 -.9l.9 1.2l.9 3.3l.9 4.7l.9 5.5l.9 5.4l.9 5l.9 4.2l.9 3.2l1 2.7l.9 2.1l.9 2.2l.9 2.9l.9 3.6l.9 3.9l.9 3.9l.9 3.1l.9 2l1 .3l.9 -1.2l.9 -2.3l.9 -2.9l.9 -2.4l.9 -2.5l.9 -1.8l.9 0l.9 1.3l.9 2.1l1 1.9l.9 .9l.9 -.8l.9 -2.9l.9 -4.8l.9 -6.1l.9 -6.6l.9 -4.8l.9 -1.9l.9 -.3l1 1.3l.9 2.9l.9 3.8l.9 4l.9 3.8l.9 3.6l.9 3.3l.9 1.6l.9 .7l.9 1.5l1 2.5l.9 3.3l.9 3.8l.9 3.6l.9 2.6l.9 1.2l.9 -.6l.9 -2l.9 -2.3l1 -2.3l.9 -2.3l.9 -1.8l.9 -.9l.9 0l.9 .9l.9 1.6l.9 1.7l.9 1.5l.9 1.1l1 .6l.9 .1l.9 -.1l.9 -.3l.9 -.1l.9 -.1l.9 0l.9 0l.9 -.1l.9 -.3l1 -.6l.9 -.7l.9 -.8l.9 -.8l.9 -.6l.9 -.9l.9 -1l.9 -.9l.9 -1l.9 -1l1 -1.1l.9 -1l.9 -1.1l.9 -1.1l.9 -1.1l.9 -1.2l.9 -1.1l.9 -1.2l.9 -1.2l1 -1.1l.9 -1.2l.9 -1.3l.9 -1.2l.9 -1.2l.9 -1.2l.9 -1.3l.9 -1.2l.9 -1.3l.9 -1.2l1 -1.3l.9 -1.2l.9 -1.1l.9 -1.1l.9 -1.1l.9 -1.2l.9 -1.3l.9 -1.3l.9 -1.3l.9 -1.3l1 -1.4l.9 -1.4l.9 -1.4l.9 -1.4l.9 -1.9l.9 -2l.9 -1.9l.9 -2l.9 -2l.9 -2l1 -2l.9 -1.9l.9 -2l.9 -1.9l.9 -1.9l.9 -1.9l.9 -1.9l.9 -1.8l.9 -1.8l1 -1.7l.9 -1.8l.9 -1.6l.9 -1.6l.9 -1.5l.9 -.8l.9 -.8l.9 -.8l.9 -.8l.9 -.8l1 -.9l.9 -.8l.9 -.9l.9 -.9l.9 -1l.9 -.9l.9 -1l.9 -1l.9 -1l.9 -1.7l1 -2l.9 -2.1l.9 -2.2l.9 -2.1l.9 -2.2l.9 -2.1l.9 -2.1l.9 -1.9l.9 -1.8l.9 -1.7l1 -1.5l.9 -1.2l.9 -.5l.9 0l.9 .2l.9 .3l.9 .4l.9 .6l.9 .6l1 .7l.9 -.1l.9 0l.9 .1l.9 0l.9 .1l.9 .2l.9 .1l.9 .2l.9 .2l1 .3l.9 .3l.9 .3l.9 .3l.9 .4l.9 .3l.9 .7l.9 1.1l.9 1.4l.9 1.7l1 2l.9 2.2l.9 2.4l.9 2.5l.9 2.6l.9 2.6l.9 2.6l.9 2.5l.9 2.4l1 2.2l.9 2.3l.9 2.3l.9 2.4l.9 2.5l.9 2.4l.9 2.4l.9 2.4l.9 2.5l.9 2.5l1 2.4l.9 2.5l.9 2.5l.9 2.4l.9 2.4l.9 2.3l.9 2.3l.9 2.3l.9 2.1l.9 2.1l1 2l.9 1.9l.9 1.9l.9 1.8l.9 1.9l.9 1.8l.9 1.8l.9 1.8l.9 1.8l.9 1.8l1 1.7l.9 1.8l.9 1.7l.9 1.7l.9 1.7l.9 1.6l.9 1.7l.9 1.6l.9 1.6l1 1.6l.9 1.5l.9 1.6l.9 1.5l.9 1.4l.9 1.5l.9 1.4l.9 1.4l.9 1.3l.9 1.3l1 1.3l.9 1.3l.9 1.2l.9 1.2l.9 1.1l.9 1.2l.9 1.1l.9 1.1l.9 1.2l.9 1.1l1 1.1l.9 1.1l.9 1l.9 1.1l.9 1l.9 1.1l.9 1l.9 1l.9 1l.9 1l1 .9l.9 .9l.9 .9l.9 .9l.9 .8l.9 .9l.9 .8l.9 .7l.9 .8l1 .7l.9 .7l.9 .6l.9 .6l.9 .6l.9 .6l.9 .5l.9 .4l.9 .5l.9 .5l1 .5l.9 .4l.9 .5l.9 .5l.9 .4l.9 .5l.9 .4l.9 .5l.9 .4l.9 .4l1 .4l.9 .4l.9 .4l.9 .3l.9 .4l.9 .3l.9 .3l.9 .2l.9 .3l.9 .2l1 .2l.9 .2l.9 .2l.9 .2l.9 .2l.9 .2l.9 .2l.9 .2l.9 .2l1 .1l.9 .2l.9 .2l.9 .1l.9 .2l.9 .1l.9 .2l.9 .1l.9 .1l.9 .2l1 .1l.9 .2l.9 .1l.9 .2l.9 .1l.9 .1l.9 .2l.9 .1l.9 .2l.9 .1l1 .1l.9 .2l.9 .1l.9 .2l.9 .1l.9 .2l.9 .1l.9 .2l.9 .2l.9 .1l1 .2l.9 .2l.9 .1l.9 .2l.9 .2l.9 .2l.9 .2l.9 .1l.9 .2l1 .2l.9 .2l.9 .2l.9 .2l.9 .2l.9 .2l.9 .2l.9 .2l.9 .2l.9 .2l1 .2l.9 .2l.9 .2l.9 .2l.9 .2l.9 .2l.9 .1l.9 .2l.9 .2l.9 .1l1 .2l.9 .1l.9 .2l.9 .1l.9 .1l.9 .1l.9 .1l.9 .1l.9 .1l.9 .1l1 .1l.9 0l.9 .1l.9 0l.9 .1" fill="none" stroke="#4200bd" stroke-width="4.20" stroke-linejoin="round" stroke-linecap="round" />
<path d="M607.9 830.8l.9 -1.7l.9 -1.3l.9 .2l.9 1.5l1 2.6l.9 2.8l.9 2.5l.9 1.5l.9 .9l.9 4l.9 3.5l.9 3.7l.9 4.4l.9 5.2l1 6l.9 3.3l.9 0l.9 -1.3l.9 -3.3l.9 -5.5l.9 -7.5l.9 -9.2l.9 -9.7l.9 -9.2l1 -4.7l.9 -1.4l.9 1.1l.9 3.5l.9 5.2l.9 6.1l.9 6.3l.9 5.6l.9 4.7l.9 3.7l1 2.9l.9 2.1l.9 2.3l.9 3l.9 3.8l.9 4.3l.9 4.3l.9 3.4l.9 2.2l1 .3l.9 -1.4l.9 -2.9l.9 -3.4l.9 -3l.9 -3l.9 -2.1l.9 -.1l.9 1.6l.9 2.5l1 2.5l.9 1.5l.9 -.4l.9 -2.7l.9 -5l.9 -6.5l.9 -7.3l.9 -5.3l.9 -2.3l.9 -.5l1 1.3l.9 3l.9 4.1l.9 4.3l.9 4l.9 3.7l.9 3.4l.9 1.5l.9 .7l.9 1.4l1 2.7l.9 3.8l.9 4.3l.9 4.1l.9 3.2l.9 1.6l.9 -.4l.9 -2l.9 -2.5l1 -2.7l.9 -2.7l.9 -2.2l.9 -1.2l.9 0l.9 1l.9 1.6l.9 2l.9 1.8l.9 1.3l1 .7l.9 .2l.9 -.1l.9 -.2l.9 -.1l.9 -.1l.9 .1l.9 .1l.9 0l.9 -.3l1 -.6l.9 -.8l.9 -.8l.9 -.8l.9 -.7l.9 -1l.9 -1l.9 -1l.9 -1l.9 -1.1l1 -1.1l.9 -1.1l.9 -1.2l.9 -1.2l.9 -1.2l.9 -1.2l.9 -1.2l.9 -1.2l.9 -1.3l1 -1.3l.9 -1.2l.9 -1.3l.9 -1.3l.9 -1.3l.9 -1.4l.9 -1.3l.9 -1.3l.9 -1.3l.9 -1.4l1 -1.3l.9 -1.3l.9 -1.2l.9 -1.1l.9 -1.2l.9 -1.3l.9 -1.3l.9 -1.4l.9 -1.3l.9 -1.5l1 -1.4l.9 -1.5l.9 -1.4l.9 -1.5l.9 -2l.9 -2.1l.9 -2.1l.9 -2.1l.9 -2.1l.9 -2.1l1 -2.1l.9 -2.1l.9 -2l.9 -2.1l.9 -2l.9 -2l.9 -2l.9 -1.9l.9 -2l1 -1.8l.9 -1.9l.9 -1.7l.9 -1.8l.9 -1.6l.9 -.8l.9 -.9l.9 -.8l.9 -.9l.9 -.9l1 -1l.9 -.9l.9 -1l.9 -1l.9 -1l.9 -1l.9 -1.1l.9 -1l.9 -1.1l.9 -1.9l1 -2.2l.9 -2.2l.9 -2.3l.9 -2.2l.9 -2.3l.9 -2.3l.9 -2.1l.9 -2l.9 -1.9l.9 -1.8l1 -1.5l.9 -1.2l.9 -.5l.9 0l.9 .2l.9 .3l.9 .5l.9 .6l.9 .7l1 .7l.9 0l.9 -.1l.9 .1l.9 0l.9 .1l.9 .1l.9 .2l.9 .2l.9 .2l1 .3l.9 .3l.9 .3l.9 .3l.9 .3l.9 .4l.9 .7l.9 1.1l.9 1.5l.9 1.8l1 2.1l.9 2.3l.9 2.5l.9 2.6l.9 2.7l.9 2.8l.9 2.7l.9 2.6l.9 2.5l1 2.4l.9 2.4l.9 2.4l.9 2.6l.9 2.6l.9 2.5l.9 2.6l.9 2.6l.9 2.6l.9 2.6l1 2.6l.9 2.6l.9 2.6l.9 2.6l.9 2.5l.9 2.5l.9 2.5l.9 2.3l.9 2.3l.9 2.2l1 2.1l.9 2.1l.9 1.9l.9 2l.9 1.9l.9 1.9l.9 1.9l.9 1.9l.9 1.9l.9 1.9l1 1.8l.9 1.9l.9 1.8l.9 1.8l.9 1.7l.9 1.8l.9 1.7l.9 1.7l.9 1.7l1 1.6l.9 1.7l.9 1.6l.9 1.5l.9 1.6l.9 1.5l.9 1.5l.9 1.4l.9 1.5l.9 1.3l1 1.4l.9 1.3l.9 1.3l.9 1.2l.9 1.2l.9 1.2l.9 1.2l.9 1.2l.9 1.2l.9 1.1l1 1.2l.9 1.1l.9 1.2l.9 1.1l.9 1.1l.9 1.1l.9 1.1l.9 1l.9 1l.9 1.1l1 1l.9 .9l.9 1l.9 .9l.9 .9l.9 .8l.9 .9l.9 .8l.9 .8l1 .7l.9 .7l.9 .7l.9 .6l.9 .6l.9 .6l.9 .5l.9 .5l.9 .5l.9 .5l1 .5l.9 .4l.9 .5l.9 .5l.9 .5l.9 .4l.9 .5l.9 .4l.9 .5l.9 .4l1 .4l.9 .4l.9 .4l.9 .3l.9 .4l.9 .3l.9 .3l.9 .3l.9 .2l.9 .3l1 .2l.9 .2l.9 .2l.9 .2l.9 .2l.9 .2l.9 .2l.9 .2l.9 .2l1 .2l.9 .1l.9 .2l.9 .2l.9 .1l.9 .2l.9 .1l.9 .2l.9 .1l.9 .2l1 .1l.9 .2l.9 .1l.9 .1l.9 .2l.9 .1l.9 .2l.9 .1l.9 .2l.9 .1l1 .2l.9 .1l.9 .2l.9 .1l.9 .2l.9 .1l.9 .2l.9 .2l.9 .1l.9 .2l1 .2l.9 .1l.9 .2l.9 .2l.9 .2l.9 .2l.9 .2l.9 .2l.9 .2l1 .2l.9 .2l.9 .2l.9 .2l.9 .2l.9 .2l.9 .2l.9 .2l.9 .2l.9 .2l1 .2l.9 .2l.9 .2l.9 .2l.9 .1l.9 .2l.9 .2l.9 .2l.9 .1l.9 .2l1 .2l.9 .1l.9 .1l.9 .2l.9 .1l.9 .1l.9 .1l.9 .1l.9 .1l.9 .1l1 .1l.9 0l.9 .1l.9 0l.9 .1" fill="none" stroke="#3700c8" stroke-width="4.20" stroke-linejoin="round" stroke-linecap="round" />
<path d="M607.9 761.2l.9 -2.4l.9 .6l.9 3l.9 4.9l1 6.1l.9 6.5l.9 6.2l.9 5.2l.9 4.4l.9 7.5l.9 7.1l.9 7.2l.9 8l.9 4.8l1 3.9l.9 1.2l.9 -2.4l.9 -3.7l.9 -6l.9 -8.6l.9 -11.3l.9 -13.1l.9 -9.4l.9 -8.4l1 -3.7l.9 .2l.9 3.2l.9 6l.9 8.2l.9 9.3l.9 9.6l.9 9l.9 7.7l.9 6.4l1 5.5l.9 2l.9 1.2l.9 2.1l.9 2.9l.9 3.6l.9 3.7l.9 2.8l.9 1.2l1 -.8l.9 -2.9l.9 -4.7l.9 -5.5l.9 -5l.9 -3l.9 -.4l.9 2.1l.9 4.3l.9 5.6l1 5.7l.9 4.7l.9 2.5l.9 -.2l.9 -2.8l.9 -4.9l.9 -7.6l.9 -7.1l.9 -3.9l.9 -1.9l1 .3l.9 2.2l.9 3.4l.9 3.7l.9 3.3l.9 3l.9 2.5l.9 .4l.9 -.5l.9 .4l1 2l.9 3.7l.9 6.4l.9 6.3l.9 5.4l.9 3.5l.9 1.2l.9 -.8l.9 -1.4l1 -1.8l.9 -2l.9 -1.4l.9 -.3l.9 1l.9 2.3l.9 3.1l.9 3.6l.9 2.4l.9 1.7l1 1l.9 .3l.9 0l.9 -.2l.9 -.1l.9 0l.9 .2l.9 .2l.9 .2l.9 -.3l1 -.5l.9 -.9l.9 -.9l.9 -.8l.9 -.7l.9 -1.1l.9 -1l.9 -1.2l.9 -1.1l.9 -1.2l1 -1.1l.9 -1.3l.9 -1.2l.9 -1.3l.9 -1.3l.9 -1.3l.9 -1.3l.9 -1.3l.9 -1.4l1 -1.4l.9 -1.3l.9 -1.4l.9 -1.4l.9 -1.5l.9 -1.4l.9 -1.4l.9 -1.4l.9 -1.5l.9 -1.4l1 -1.4l.9 -1.5l.9 -1.2l.9 -1.2l.9 -1.3l.9 -1.4l.9 -1.4l.9 -1.4l.9 -1.5l.9 -1.5l1 -1.5l.9 -1.6l.9 -1.5l.9 -1.6l.9 -2.2l.9 -2.2l.9 -2.2l.9 -2.3l.9 -2.2l.9 -2.3l1 -2.2l.9 -2.2l.9 -2.2l.9 -2.2l.9 -2.2l.9 -2.2l.9 -2.1l.9 -2.1l.9 -2l1 -2.1l.9 -1.9l.9 -2l.9 -1.9l.9 -1.7l.9 -.9l.9 -.9l.9 -1l.9 -1l.9 -1l1 -1l.9 -1.1l.9 -1.1l.9 -1.1l.9 -1.1l.9 -1.1l.9 -1.2l.9 -1.2l.9 -1.2l.9 -2l1 -2.3l.9 -2.4l.9 -2.5l.9 -2.4l.9 -2.4l.9 -2.4l.9 -2.3l.9 -2.1l.9 -2l.9 -1.8l1 -1.6l.9 -1.3l.9 -.5l.9 .1l.9 .2l.9 .4l.9 .6l.9 .6l.9 .7l1 .7l.9 0l.9 0l.9 0l.9 0l.9 .1l.9 .2l.9 .1l.9 .2l.9 .2l1 .3l.9 .3l.9 .3l.9 .3l.9 .4l.9 .3l.9 .7l.9 1.2l.9 1.6l.9 1.9l1 2.2l.9 2.5l.9 2.6l.9 2.8l.9 2.8l.9 2.9l.9 2.9l.9 2.8l.9 2.6l1 2.5l.9 2.6l.9 2.6l.9 2.8l.9 2.8l.9 2.6l.9 2.8l.9 2.7l.9 2.8l.9 2.8l1 2.9l.9 2.8l.9 2.8l.9 2.7l.9 2.7l.9 2.7l.9 2.6l.9 2.6l.9 2.4l.9 2.4l1 2.2l.9 2.2l.9 2.1l.9 2.1l.9 2l.9 2.1l.9 2l.9 2l.9 2l.9 2l1 2l.9 1.9l.9 1.9l.9 1.9l.9 1.9l.9 1.9l.9 1.8l.9 1.8l.9 1.8l1 1.7l.9 1.8l.9 1.7l.9 1.6l.9 1.7l.9 1.6l.9 1.5l.9 1.6l.9 1.5l.9 1.4l1 1.5l.9 1.4l.9 1.3l.9 1.3l.9 1.3l.9 1.3l.9 1.2l.9 1.3l.9 1.2l.9 1.3l1 1.2l.9 1.2l.9 1.2l.9 1.2l.9 1.2l.9 1.2l.9 1.1l.9 1.1l.9 1.1l.9 1.1l1 1l.9 1.1l.9 1l.9 .9l.9 1l.9 .9l.9 .9l.9 .8l.9 .9l1 .7l.9 .8l.9 .7l.9 .7l.9 .6l.9 .6l.9 .5l.9 .5l.9 .5l.9 .5l1 .5l.9 .5l.9 .5l.9 .5l.9 .5l.9 .5l.9 .5l.9 .4l.9 .5l.9 .4l1 .4l.9 .4l.9 .4l.9 .4l.9 .3l.9 .4l.9 .3l.9 .3l.9 .2l.9 .3l1 .2l.9 .2l.9 .3l.9 .2l.9 .2l.9 .2l.9 .2l.9 .2l.9 .1l1 .2l.9 .2l.9 .2l.9 .1l.9 .2l.9 .2l.9 .1l.9 .2l.9 .1l.9 .2l1 .1l.9 .2l.9 .1l.9 .2l.9 .1l.9 .2l.9 .2l.9 .1l.9 .2l.9 .1l1 .2l.9 .1l.9 .2l.9 .1l.9 .2l.9 .2l.9 .1l.9 .2l.9 .2l.9 .1l1 .2l.9 .2l.9 .2l.9 .2l.9 .2l.9 .2l.9 .2l.9 .2l.9 .2l1 .2l.9 .2l.9 .2l.9 .2l.9 .2l.9 .2l.9 .2l.9 .2l.9 .2l.9 .2l1 .2l.9 .2l.9 .2l.9 .2l.9 .2l.9 .2l.9 .2l.9 .2l.9 .1l.9 .2l1 .1l.9 .2l.9 .1l.9 .2l.9 .1l.9 .1l.9 .1l.9 .1l.9 .1l.9 .1l1 .1l.9 0l.9 .1l.9 0l.9 .1" fill="none" stroke="#2900d6" stroke-width="4.20" stroke-linejoin="round" stroke-linecap="round" />
<path d="M607.9 791.6l.9 .9l.9 1.2l.9 6.4l.9 11.9l1 14.1l.9 12.9l.9 8.5l.9 5.4l.9 4.4l.9 3.9l.9 4l.9 4.1l.9 2.8l.9 .1l1 -3.9l.9 -6.4l.9 -7l.9 -5.9l.9 -3.5l.9 -2.7l.9 -2.6l.9 -2.4l.9 -2.1l.9 -1.8l1 -1.3l.9 -.9l.9 -.2l.9 2.5l.9 5.3l.9 5.9l.9 4.8l.9 5l.9 4.9l.9 4.7l1 3.9l.9 3.2l.9 3.1l.9 3.1l.9 2.7l.9 2.2l.9 1.5l.9 .5l.9 -.4l1 -1.1l.9 -1.4l.9 -1.1l.9 -.6l.9 .1l.9 .3l.9 .4l.9 .5l.9 .6l.9 .7l1 .7l.9 1.2l.9 1.6l.9 1.6l.9 1.2l.9 .3l.9 -.1l.9 -.2l.9 -.2l.9 -.3l1 -.2l.9 -.3l.9 -.2l.9 0l.9 1.2l.9 4.1l.9 6.2l.9 7.2l.9 7.5l.9 9.4l1 12.6l.9 9.6l.9 .1l.9 -11.2l.9 -17.1l.9 -17.4l.9 -11.7l.9 -1.9l.9 1.1l1 1.7l.9 1.7l.9 1.2l.9 .2l.9 0l.9 0l.9 0l.9 0l.9 0l.9 0l1 0l.9 -.2l.9 -.3l.9 -.4l.9 -.4l.9 -.7l.9 -1.3l.9 -2l.9 -2.4l.9 -2.9l1 -3.2l.9 -3.4l.9 -3.5l.9 -3.5l.9 -3.5l.9 -3.4l.9 -3l.9 -2.7l.9 -2.3l.9 -1.7l1 -1.1l.9 16.8l.9 6.3l.9 -1.6l.9 -2.6l.9 -3.3l.9 -3.8l.9 -4.2l.9 -4.5l1 -4.5l.9 -4.3l.9 -4.1l.9 -3.6l.9 -2.9l.9 -2.1l.9 -1.7l.9 -1.6l.9 -1.4l.9 -1.3l1 -1.3l.9 -1.1l.9 -1.2l.9 -1.1l.9 -1.2l.9 -1.3l.9 -1.4l.9 -1.5l.9 -1.7l.9 -1.8l1 -1.9l.9 -2l.9 -2.1l.9 -2.2l.9 -2.2l.9 -2.3l.9 -2.3l.9 -2.2l.9 -2.3l.9 -2.2l1 -2.2l.9 -2.1l.9 -2l.9 -2l.9 -1.9l.9 -1.9l.9 -2l.9 -1.9l.9 -2.1l1 -2.1l.9 -2.2l.9 -2.3l.9 -2.5l.9 -2.7l.9 -3.3l.9 -4.2l.9 -4.6l.9 -4.8l.9 -4.5l1 -4l.9 -3.1l.9 -1.8l.9 -.6l.9 -.3l.9 -.2l.9 -.2l.9 -.2l.9 -.1l.9 -.2l1 -.2l.9 -.3l.9 -.4l.9 -.6l.9 -.6l.9 -.6l.9 -.4l.9 -.3l.9 .6l.9 2.3l1 3.4l.9 4l.9 3.8l.9 3.1l.9 1.7l.9 1.2l.9 1.1l.9 .9l.9 .8l1 .7l.9 .6l.9 .6l.9 .5l.9 .5l.9 .4l.9 .4l.9 .4l.9 .4l.9 .4l1 .5l.9 .4l.9 .4l.9 .3l.9 .4l.9 .4l.9 .5l.9 .6l.9 .6l.9 .9l1 1.2l.9 1.4l.9 1.6l.9 1.9l.9 1.9l.9 2.2l.9 2.8l.9 3.4l.9 3.6l1 3.9l.9 3.9l.9 3.8l.9 3.5l.9 3.1l.9 2.8l.9 2.7l.9 2.7l.9 2.6l.9 2.5l1 2.5l.9 2.4l.9 2.3l.9 2.3l.9 2.2l.9 2.1l.9 2.2l.9 2l.9 2l.9 2l1 1.9l.9 1.9l.9 1.7l.9 1.8l.9 1.6l.9 1.6l.9 1.5l.9 1.4l.9 1.3l.9 1.3l1 1.2l.9 1.3l.9 1.4l.9 1.4l.9 1.7l.9 1.8l.9 2l.9 2.1l.9 2.2l1 2.2l.9 2.2l.9 2.1l.9 1.9l.9 1.8l.9 1.8l.9 1.8l.9 1.8l.9 1.7l.9 1.7l1 1.6l.9 1.5l.9 1.5l.9 1.4l.9 1.4l.9 1.3l.9 1.2l.9 1.2l.9 1.2l.9 1.1l1 1.1l.9 1l.9 1l.9 1l.9 .8l.9 .8l.9 .8l.9 .7l.9 .6l.9 .6l1 .6l.9 .6l.9 .6l.9 .5l.9 .6l.9 .6l.9 .6l.9 .7l.9 .7l1 .8l.9 .9l.9 1l.9 1.1l.9 1.3l.9 1.3l.9 1.3l.9 1.4l.9 1.4l.9 1.4l1 1.3l.9 1.3l.9 1.1l.9 1.1l.9 .9l.9 .7l.9 .7l.9 .5l.9 .5l.9 .5l1 .5l.9 .4l.9 .4l.9 .4l.9 .4l.9 .4l.9 .4l.9 .4l.9 .5l.9 .4l1 .5l.9 .5l.9 .6l.9 .5l.9 .5l.9 .5l.9 .6l.9 .5l.9 .5l1 .4l.9 .5l.9 .4l.9 .4l.9 .3l.9 .3l.9 .3l.9 .2l.9 .2l.9 .2l1 .2l.9 .2l.9 .2l.9 .1l.9 .2l.9 .1l.9 .2l.9 .1l.9 .1l.9 .2l1 .1l.9 .1l.9 .2l.9 .1l.9 .1l.9 .1l.9 .2l.9 .1l.9 .1l.9 .2l1 .1l.9 .1l.9 .2l.9 .2l.9 .1l.9 .2l.9 .1l.9 .2l.9 .2l1 .2l.9 .1l.9 .2l.9 .2l.9 .2l.9 .2l.9 .2l.9 .1l.9 .2l.9 .2l1 .2l.9 .2l.9 .1l.9 .2l.9 .2l.9 .1l.9 .2l.9 .2l.9 .1l.9 .2l1 .1l.9 .1l.9 .2l.9 .1l.9 .1l.9 .1l.9 .1l.9 .1l.9 .1l.9 .1l1 .1l.9 0l.9 .1l.9 0l.9 .1" fill="none" stroke="#1700e8" stroke-width="4.20" stroke-linejoin="round" stroke-linecap="round" />
<path d="M607.9 764.1l.9 .9l.9 1.2l.9 5.1l.9 5.9l1 1.6l.9 .6l.9 .4l.9 .7l.9 2.9l.9 13.4l.9 19l.9 17.5l.9 19.2l.9 15.3l1 -2.1l.9 -17.9l.9 -20.1l.9 -9.5l.9 -3.6l.9 -2.7l.9 -1.9l.9 -1.5l.9 -1.3l.9 -1.3l1 -1l.9 -.6l.9 -.3l.9 0l.9 0l.9 0l.9 0l.9 0l.9 .2l.9 5.4l1 11.1l.9 13.4l.9 12.5l.9 10.8l.9 10.5l.9 11.3l.9 12.8l.9 15.2l.9 24.6l1 31.7l.9 24l.9 7.3l.9 4.2l.9 2.6l.9 -.2l.9 -12.5l.9 -17.8l.9 -10l.9 4.2l1 9.7l.9 7.9l.9 -3.1l.9 -20.1l.9 -21.9l.9 -7.2l.9 .4l.9 .8l.9 .9l.9 .7l1 .2l.9 -.9l.9 -1.6l.9 -1.8l.9 -1.4l.9 -.4l.9 1l.9 2l.9 2.7l.9 2.8l1 2.5l.9 3.1l.9 2.4l.9 -5.7l.9 -22.1l.9 -15.5l.9 -6.8l.9 -5l.9 -2.5l1 .7l.9 2.7l.9 3.6l.9 3.3l.9 1.8l.9 -.7l.9 -2.3l.9 -2.3l.9 -1l.9 -.3l1 -.2l.9 -.2l.9 -.3l.9 -.6l.9 -1.4l.9 -2.1l.9 -2.5l.9 -2.7l.9 -2.6l.9 -2.7l1 -3.1l.9 -3.1l.9 -3.3l.9 -3.2l.9 -3.5l.9 -3.7l.9 -3.7l.9 -3.5l.9 -3.1l.9 -2.5l1 -2.1l.9 -1.9l.9 -1.8l.9 -1.6l.9 -1.6l.9 -1.4l.9 -1.5l.9 -1.4l.9 -1.5l1 -1.5l.9 -1.6l.9 -1.5l.9 -1.6l.9 -1.5l.9 -1.5l.9 -1.6l.9 -1.6l.9 -1.7l.9 -1.7l1 -1.9l.9 -1.8l.9 -2l.9 -2l.9 -2l.9 -2.2l.9 -2.2l.9 -2.2l.9 -2.4l.9 -2.7l1 -2.9l.9 -3l.9 -3.1l.9 -2.9l.9 -2.8l.9 -2.5l.9 -2.1l.9 -1.7l.9 -1.4l.9 -1.4l1 -1.3l.9 -1.4l.9 -1.7l.9 -2.1l.9 -2.5l.9 -2.8l.9 -3l.9 -3.2l.9 -3.3l1 -3.2l.9 -3.2l.9 -3.1l.9 -3l.9 -3.2l.9 -3.2l.9 -3.2l.9 -3l.9 -3l.9 -2.7l1 -2.5l.9 -2.3l.9 -2.2l.9 -2.2l.9 -2l.9 -1.7l.9 -1.3l.9 -.8l.9 -.6l.9 -.6l1 -.3l.9 -.2l.9 .2l.9 .3l.9 .5l.9 .7l.9 .8l.9 .9l.9 1l.9 1l1 1.2l.9 2l.9 2.3l.9 2.6l.9 2.5l.9 2.2l.9 1.5l.9 1l.9 .9l1 .8l.9 .7l.9 .9l.9 1l.9 1.4l.9 1.8l.9 2.1l.9 2.1l.9 2l.9 1.7l1 1.2l.9 1.1l.9 .8l.9 .8l.9 .7l.9 .7l.9 .9l.9 1l.9 1.2l.9 1.6l1 2.1l.9 2.5l.9 2.7l.9 3.3l.9 4.4l.9 5l.9 5.3l.9 5l.9 4.5l1 3.5l.9 3l.9 2.7l.9 2.5l.9 2.3l.9 2.3l.9 2.2l.9 2.3l.9 2.4l.9 2.6l1 2.6l.9 2.7l.9 2.7l.9 2.6l.9 2.6l.9 2.4l.9 2.2l.9 1.9l.9 1.9l.9 1.7l1 1.6l.9 1.6l.9 1.5l.9 1.5l.9 1.4l.9 1.5l.9 1.4l.9 1.4l.9 1.2l.9 1.3l1 1.3l.9 1.3l.9 1.4l.9 1.5l.9 1.6l.9 1.8l.9 2l.9 2.2l.9 2.2l1 2.2l.9 2.1l.9 2.1l.9 2l.9 1.8l.9 1.8l.9 1.8l.9 1.7l.9 1.7l.9 1.7l1 1.6l.9 1.6l.9 1.5l.9 1.4l.9 1.3l.9 1.3l.9 1.2l.9 1.3l.9 1.1l.9 1.2l1 1l.9 1.1l.9 1l.9 .9l.9 .9l.9 .8l.9 .7l.9 .7l.9 .7l.9 .6l1 .6l.9 .5l.9 .6l.9 .6l.9 .5l.9 .6l.9 .7l.9 .6l.9 .8l1 .7l.9 .9l.9 1l.9 1.2l.9 1.2l.9 1.3l.9 1.4l.9 1.4l.9 1.3l.9 1.4l1 1.3l.9 1.3l.9 1.2l.9 1l.9 .9l.9 .8l.9 .6l.9 .6l.9 .5l.9 .5l1 .4l.9 .4l.9 .4l.9 .4l.9 .4l.9 .4l.9 .4l.9 .5l.9 .4l.9 .5l1 .5l.9 .5l.9 .5l.9 .5l.9 .5l.9 .6l.9 .5l.9 .5l.9 .5l1 .5l.9 .4l.9 .4l.9 .4l.9 .3l.9 .3l.9 .3l.9 .2l.9 .2l.9 .2l1 .2l.9 .2l.9 .2l.9 .2l.9 .1l.9 .2l.9 .1l.9 .1l.9 .2l.9 .1l1 .1l.9 .2l.9 .1l.9 .1l.9 .1l.9 .2l.9 .1l.9 .1l.9 .1l.9 .2l1 .1l.9 .2l.9 .1l.9 .2l.9 .1l.9 .2l.9 .2l.9 .2l.9 .1l1 .2l.9 .2l.9 .2l.9 .1l.9 .2l.9 .2l.9 .2l.9 .2l.9 .2l.9 .1l1 .2l.9 .2l.9 .2l.9 .1l.9 .2l.9 .2l.9 .1l.9 .2l.9 .1l.9 .2l1 .1l.9 .2l.9 .1l.9 .1l.9 .1l.9 .2l.9 .1l.9 .1l.9 0l.9 .1l1 .1l.9 0l.9 .1l.9 .1l.9 0" fill="none" stroke="#0000ff" stroke-width="6.00" stroke-linejoin="round" stroke-linecap="round" />
</g>
<rect x="609.9" y="608.6" width="377.4" height="408.7" fill="none" stroke="#262626" stroke-width="2.00"/>
<line x1="630.4" y1="1017.3" x2="630.4" y2="1013.5" stroke="#262626" stroke-width="2.0"/>
<line x1="630.4" y1="608.6" x2="630.4" y2="612.4" stroke="#262626" stroke-width="2.0"/>
<line x1="714.7" y1="1017.3" x2="714.7" y2="1013.5" stroke="#262626" stroke-width="2.0"/>
<line x1="714.7" y1="608.6" x2="714.7" y2="612.4" stroke="#262626" stroke-width="2.0"/>
<line x1="799.0" y1="1017.3" x2="799.0" y2="1013.5" stroke="#262626" stroke-width="2.0"/>
<line x1="799.0" y1="608.6" x2="799.0" y2="612.4" stroke="#262626" stroke-width="2.0"/>
<line x1="883.3" y1="1017.3" x2="883.3" y2="1013.5" stroke="#262626" stroke-width="2.0"/>
<line x1="883.3" y1="608.6" x2="883.3" y2="612.4" stroke="#262626" stroke-width="2.0"/>
<line x1="967.6" y1="1017.3" x2="967.6" y2="1013.5" stroke="#262626" stroke-width="2.0"/>
<line x1="967.6" y1="608.6" x2="967.6" y2="612.4" stroke="#262626" stroke-width="2.0"/>
<line x1="609.9" y1="963.3" x2="613.7" y2="963.3" stroke="#262626" stroke-width="2.0"/>
<line x1="987.3" y1="963.3" x2="983.5" y2="963.3" stroke="#262626" stroke-width="2.0"/>
<line x1="609.9" y1="786.3" x2="613.7" y2="786.3" stroke="#262626" stroke-width="2.0"/>
<line x1="987.3" y1="786.3" x2="983.5" y2="786.3" stroke="#262626" stroke-width="2.0"/>
<line x1="609.9" y1="609.3" x2="613.7" y2="609.3" stroke="#262626" stroke-width="2.0"/>
<line x1="987.3" y1="609.3" x2="983.5" y2="609.3" stroke="#262626" stroke-width="2.0"/>
<line x1="609.9" y1="1016.6" x2="612.3" y2="1016.6" stroke="#262626" stroke-width="1.8"/>
<line x1="987.3" y1="1016.6" x2="984.9" y2="1016.6" stroke="#262626" stroke-width="1.8"/>
<line x1="609.9" y1="1002.6" x2="612.3" y2="1002.6" stroke="#262626" stroke-width="1.8"/>
<line x1="987.3" y1="1002.6" x2="984.9" y2="1002.6" stroke="#262626" stroke-width="1.8"/>
<line x1="609.9" y1="990.7" x2="612.3" y2="990.7" stroke="#262626" stroke-width="1.8"/>
<line x1="987.3" y1="990.7" x2="984.9" y2="990.7" stroke="#262626" stroke-width="1.8"/>
<line x1="609.9" y1="980.5" x2="612.3" y2="980.5" stroke="#262626" stroke-width="1.8"/>
<line x1="987.3" y1="980.5" x2="984.9" y2="980.5" stroke="#262626" stroke-width="1.8"/>
<line x1="609.9" y1="971.4" x2="612.3" y2="971.4" stroke="#262626" stroke-width="1.8"/>
<line x1="987.3" y1="971.4" x2="984.9" y2="971.4" stroke="#262626" stroke-width="1.8"/>
<line x1="609.9" y1="910.0" x2="612.3" y2="910.0" stroke="#262626" stroke-width="1.8"/>
<line x1="987.3" y1="910.0" x2="984.9" y2="910.0" stroke="#262626" stroke-width="1.8"/>
<line x1="609.9" y1="878.8" x2="612.3" y2="878.8" stroke="#262626" stroke-width="1.8"/>
<line x1="987.3" y1="878.8" x2="984.9" y2="878.8" stroke="#262626" stroke-width="1.8"/>
<line x1="609.9" y1="856.7" x2="612.3" y2="856.7" stroke="#262626" stroke-width="1.8"/>
<line x1="987.3" y1="856.7" x2="984.9" y2="856.7" stroke="#262626" stroke-width="1.8"/>
<line x1="609.9" y1="839.6" x2="612.3" y2="839.6" stroke="#262626" stroke-width="1.8"/>
<line x1="987.3" y1="839.6" x2="984.9" y2="839.6" stroke="#262626" stroke-width="1.8"/>
<line x1="609.9" y1="825.6" x2="612.3" y2="825.6" stroke="#262626" stroke-width="1.8"/>
<line x1="987.3" y1="825.6" x2="984.9" y2="825.6" stroke="#262626" stroke-width="1.8"/>
<line x1="609.9" y1="813.7" x2="612.3" y2="813.7" stroke="#262626" stroke-width="1.8"/>
<line x1="987.3" y1="813.7" x2="984.9" y2="813.7" stroke="#262626" stroke-width="1.8"/>
<line x1="609.9" y1="803.5" x2="612.3" y2="803.5" stroke="#262626" stroke-width="1.8"/>
<line x1="987.3" y1="803.5" x2="984.9" y2="803.5" stroke="#262626" stroke-width="1.8"/>
<line x1="609.9" y1="794.4" x2="612.3" y2="794.4" stroke="#262626" stroke-width="1.8"/>
<line x1="987.3" y1="794.4" x2="984.9" y2="794.4" stroke="#262626" stroke-width="1.8"/>
<line x1="609.9" y1="733.0" x2="612.3" y2="733.0" stroke="#262626" stroke-width="1.8"/>
<line x1="987.3" y1="733.0" x2="984.9" y2="733.0" stroke="#262626" stroke-width="1.8"/>
<line x1="609.9" y1="701.8" x2="612.3" y2="701.8" stroke="#262626" stroke-width="1.8"/>
<line x1="987.3" y1="701.8" x2="984.9" y2="701.8" stroke="#262626" stroke-width="1.8"/>
<line x1="609.9" y1="679.7" x2="612.3" y2="679.7" stroke="#262626" stroke-width="1.8"/>
<line x1="987.3" y1="679.7" x2="984.9" y2="679.7" stroke="#262626" stroke-width="1.8"/>
<line x1="609.9" y1="662.6" x2="612.3" y2="662.6" stroke="#262626" stroke-width="1.8"/>
<line x1="987.3" y1="662.6" x2="984.9" y2="662.6" stroke="#262626" stroke-width="1.8"/>
<line x1="609.9" y1="648.6" x2="612.3" y2="648.6" stroke="#262626" stroke-width="1.8"/>
<line x1="987.3" y1="648.6" x2="984.9" y2="648.6" stroke="#262626" stroke-width="1.8"/>
<line x1="609.9" y1="636.7" x2="612.3" y2="636.7" stroke="#262626" stroke-width="1.8"/>
<line x1="987.3" y1="636.7" x2="984.9" y2="636.7" stroke="#262626" stroke-width="1.8"/>
<line x1="609.9" y1="626.5" x2="612.3" y2="626.5" stroke="#262626" stroke-width="1.8"/>
<line x1="987.3" y1="626.5" x2="984.9" y2="626.5" stroke="#262626" stroke-width="1.8"/>
<line x1="609.9" y1="617.4" x2="612.3" y2="617.4" stroke="#262626" stroke-width="1.8"/>
<line x1="987.3" y1="617.4" x2="984.9" y2="617.4" stroke="#262626" stroke-width="1.8"/>
<text transform="translate(606.4,982.8) scale(1,1.050)" font-size="33.5" text-anchor="end" fill="#262626">10<tspan font-size="21.8" dy="-10.2">3</tspan></text>
<text transform="translate(606.4,805.8) scale(1,1.050)" font-size="33.5" text-anchor="end" fill="#262626">10<tspan font-size="21.8" dy="-10.2">4</tspan></text>
<text transform="translate(606.4,628.8) scale(1,1.050)" font-size="33.5" text-anchor="end" fill="#262626">10<tspan font-size="21.8" dy="-10.2">5</tspan></text>
<text transform="translate(634.9,1056.0) scale(1,1.050)" font-size="33.5" text-anchor="middle" fill="#262626" font-weight="normal" font-style="normal" >-6</text>
<text transform="translate(719.2,1056.0) scale(1,1.050)" font-size="33.5" text-anchor="middle" fill="#262626" font-weight="normal" font-style="normal" >-3</text>
<text transform="translate(801.0,1056.0) scale(1,1.050)" font-size="33.5" text-anchor="middle" fill="#262626" font-weight="normal" font-style="normal" >0</text>
<text transform="translate(885.3,1056.0) scale(1,1.050)" font-size="33.5" text-anchor="middle" fill="#262626" font-weight="normal" font-style="normal" >3</text>
<text transform="translate(969.6,1056.0) scale(1,1.050)" font-size="33.5" text-anchor="middle" fill="#262626" font-weight="normal" font-style="normal" >6</text>
<text transform="translate(804.0,1096.3) scale(1,1.050)" font-size="32.5" text-anchor="middle" fill="#262626"><tspan font-style="italic">V</tspan><tspan font-size="22.5" dy="8.2">bg</tspan><tspan dy="-8.2"> (V)</tspan></text>
<text transform="translate(535,817) rotate(-90) scale(1,1.050)" font-size="34.0" text-anchor="middle" fill="#262626"><tspan font-style="italic">R</tspan><tspan font-size="22.5" dy="8.2">easy</tspan><tspan dy="-8.2"> (&#937;)</tspan></text>
<text transform="translate(804.0,650.0) scale(1,1.050)" font-size="34.0" text-anchor="middle" fill="#000"><tspan font-style="italic">R</tspan><tspan font-size="22.5" dy="8.2">easy</tspan><tspan dy="-8.2"></tspan></text>
<text transform="translate(968.0,651.0) scale(1,1.050)" font-size="38.0" text-anchor="end" fill="#000" font-weight="bold" font-style="normal" >d</text>
<clipPath id="cle"><rect x="1114.7" y="608.4" width="377.4" height="408.9"/></clipPath>
<g clip-path="url(#cle)">
<path d="M1112.7 936.7l.9 0l.9 0l.9 0l.9 0l1 0l.9 0l.9 0l.9 0l.9 0l.9 0l.9 .1l.9 0l.9 0l.9 0l1 .1l.9 0l.9 0l.9 .1l.9 0l.9 0l.9 .1l.9 0l.9 .1l.9 0l1 0l.9 .1l.9 0l.9 .1l.9 0l.9 .1l.9 0l.9 0l.9 .1l.9 0l1 .1l.9 0l.9 .1l.9 0l.9 0l.9 .1l.9 0l.9 .1l.9 0l1 0l.9 .1l.9 0l.9 0l.9 .1l.9 0l.9 0l.9 0l.9 .1l.9 0l1 0l.9 0l.9 0l.9 0l.9 0l.9 0l.9 0l.9 0l.9 0l.9 0l1 0l.9 -.1l.9 0l.9 -.1l.9 0l.9 -.1l.9 0l.9 -.1l.9 0l.9 -.1l1 -.1l.9 0l.9 -.1l.9 -.1l.9 0l.9 -.1l.9 -.1l.9 0l.9 -.1l1 -.1l.9 0l.9 -.1l.9 0l.9 -.1l.9 0l.9 -.1l.9 0l.9 -.1l.9 0l1 0l.9 0l.9 0l.9 0l.9 0l.9 0l.9 .1l.9 0l.9 .1l.9 .2l1 .1l.9 .1l.9 .2l.9 .2l.9 .2l.9 .2l.9 .2l.9 .2l.9 .3l.9 .2l1 .3l.9 .3l.9 .2l.9 .3l.9 .3l.9 .3l.9 .3l.9 .3l.9 .3l1 .3l.9 .3l.9 .3l.9 .3l.9 .3l.9 .3l.9 .3l.9 .3l.9 .3l.9 .3l1 .3l.9 .2l.9 .3l.9 .3l.9 .2l.9 .3l.9 .3l.9 .3l.9 .3l.9 .2l1 .3l.9 .3l.9 .3l.9 .3l.9 .3l.9 .3l.9 .3l.9 .4l.9 .3l.9 .3l1 .3l.9 .3l.9 .4l.9 .3l.9 .3l.9 .3l.9 .4l.9 .3l.9 .4l1 .3l.9 .4l.9 .3l.9 .4l.9 .3l.9 .4l.9 .4l.9 .3l.9 .4l.9 .4l1 .4l.9 .4l.9 .4l.9 .5l.9 .5l.9 .4l.9 .5l.9 .5l.9 .5l.9 .5l1 .5l.9 .6l.9 .5l.9 .5l.9 .5l.9 .6l.9 .5l.9 .5l.9 .5l.9 .5l1 .6l.9 .5l.9 .4l.9 .5l.9 .5l.9 .5l.9 .4l.9 .4l.9 .4l1 .4l.9 .4l.9 .4l.9 .3l.9 .3l.9 .3l.9 .3l.9 .2l.9 .3l.9 .2l1 .2l.9 .3l.9 .2l.9 .2l.9 .2l.9 .2l.9 .1l.9 .2l.9 .2l.9 .2l1 .1l.9 .2l.9 .1l.9 .2l.9 .1l.9 .2l.9 .2l.9 .1l.9 .2l1 .1l.9 .2l.9 .1l.9 .2l.9 .1l.9 .2l.9 .2l.9 .2l.9 .1l.9 .2l1 .2l.9 .2l.9 .2l.9 .2l.9 .2l.9 .3l.9 .2l.9 .2l.9 .3l.9 .3l1 .2l.9 .3l.9 .3l.9 .2l.9 .3l.9 .3l.9 .3l.9 .3l.9 .3l.9 .3l1 .3l.9 .3l.9 .3l.9 .3l.9 .3l.9 .3l.9 .3l.9 .3l.9 .3l1 .3l.9 .2l.9 .3l.9 .3l.9 .3l.9 .2l.9 .3l.9 .3l.9 .2l.9 .2l1 .3l.9 .2l.9 .2l.9 .2l.9 .2l.9 .2l.9 .2l.9 .2l.9 .2l.9 .2l1 .2l.9 .2l.9 .2l.9 .2l.9 .2l.9 .1l.9 .2l.9 .2l.9 .2l.9 .1l1 .2l.9 .2l.9 .2l.9 .1l.9 .2l.9 .2l.9 .1l.9 .2l.9 .2l1 .2l.9 .1l.9 .2l.9 .2l.9 .1l.9 .2l.9 .2l.9 .2l.9 .2l.9 .1l1 .2l.9 .2l.9 .2l.9 .2l.9 .2l.9 .2l.9 .2l.9 .2l.9 .2l.9 .2l1 .2l.9 .1l.9 .2l.9 .2l.9 .2l.9 .2l.9 .2l.9 .2l.9 .2l.9 .2l1 .2l.9 .2l.9 .2l.9 .2l.9 .1l.9 .2l.9 .2l.9 .2l.9 .1l1 .2l.9 .2l.9 .1l.9 .2l.9 .1l.9 .2l.9 .1l.9 .1l.9 .2l.9 .1l1 .1l.9 .2l.9 .1l.9 .1l.9 .2l.9 .1l.9 .1l.9 .1l.9 .2l.9 .1l1 .1l.9 .1l.9 .1l.9 .2l.9 .1l.9 .1l.9 .1l.9 .1l.9 .1l.9 .2l1 .1l.9 .1l.9 .1l.9 .1l.9 .1l.9 .1l.9 .1l.9 .1l.9 .1l1 .1l.9 .1l.9 .1l.9 .1l.9 .1l.9 .1l.9 .1l.9 .1l.9 .1l.9 .1l1 .1l.9 .1l.9 .1l.9 .1l.9 .1l.9 .1l.9 .1l.9 0l.9 .1l.9 .1l1 .1l.9 .1l.9 .1l.9 .1l.9 0l.9 .1l.9 .1l.9 .1l.9 0l.9 .1l1 .1l.9 .1l.9 0l.9 .1l.9 .1" fill="none" stroke="#ff0000" stroke-width="6.00" stroke-linejoin="round" stroke-linecap="round" />
<path d="M1112.7 930.3l.9 -.1l.9 -.1l.9 -.2l.9 -.1l1 -.1l.9 -.1l.9 -.2l.9 -.1l.9 -.1l.9 -.2l.9 -.1l.9 -.1l.9 -.2l.9 -.1l1 -.1l.9 -.1l.9 -.1l.9 0l.9 -.1l.9 0l.9 0l.9 .1l.9 .1l.9 .2l1 .1l.9 .1l.9 .2l.9 .1l.9 .1l.9 .2l.9 -.1l.9 0l.9 0l.9 -.1l1 0l.9 0l.9 0l.9 .1l.9 .2l.9 .1l.9 .1l.9 .2l.9 .1l1 0l.9 -.1l.9 0l.9 0l.9 -.1l.9 0l.9 .1l.9 0l.9 .1l.9 .1l1 0l.9 .1l.9 0l.9 .1l.9 0l.9 0l.9 0l.9 0l.9 0l.9 0l1 0l.9 0l.9 -.1l.9 -.2l.9 -.2l.9 -.1l.9 -.2l.9 -.2l.9 -.2l.9 -.2l1 -.1l.9 -.2l.9 0l.9 .1l.9 0l.9 .1l.9 .1l.9 0l.9 .1l1 .1l.9 .1l.9 .1l.9 0l.9 0l.9 0l.9 0l.9 0l.9 0l.9 .1l1 0l.9 0l.9 .1l.9 0l.9 .1l.9 .1l.9 .1l.9 .1l.9 .1l.9 .2l1 .1l.9 .2l.9 .2l.9 .2l.9 .2l.9 .3l.9 .2l.9 .3l.9 .3l.9 .3l1 .3l.9 .3l.9 .3l.9 .3l.9 .4l.9 .3l.9 .3l.9 .4l.9 .3l1 .4l.9 .3l.9 .4l.9 .3l.9 .4l.9 .3l.9 .4l.9 .3l.9 .4l.9 .3l1 .3l.9 .4l.9 .3l.9 .3l.9 .4l.9 .3l.9 .4l.9 .3l.9 .4l.9 .3l1 .4l.9 .3l.9 .4l.9 .4l.9 .3l.9 .4l.9 .4l.9 .4l.9 .4l.9 .4l1 .4l.9 .4l.9 .4l.9 .4l.9 .4l.9 .4l.9 .4l.9 .4l.9 .4l1 .4l.9 .4l.9 .5l.9 .4l.9 .4l.9 .4l.9 .5l.9 .4l.9 .5l.9 .4l1 .5l.9 .5l.9 .4l.9 .6l.9 .5l.9 .5l.9 .6l.9 .6l.9 .5l.9 .6l1 .6l.9 .6l.9 .5l.9 .6l.9 .6l.9 .6l.9 .6l.9 .6l.9 .6l.9 .5l1 .6l.9 .6l.9 .5l.9 .6l.9 .5l.9 .5l.9 .5l.9 .5l.9 .5l1 .4l.9 .4l.9 .4l.9 .4l.9 .4l.9 .3l.9 .3l.9 .3l.9 .2l.9 .3l1 .3l.9 .2l.9 .2l.9 .3l.9 .2l.9 .2l.9 .2l.9 .2l.9 .2l.9 .2l1 .2l.9 .1l.9 .2l.9 .2l.9 .2l.9 .2l.9 .1l.9 .2l.9 .2l1 .1l.9 .2l.9 .2l.9 .2l.9 .1l.9 .2l.9 .2l.9 .2l.9 .2l.9 .2l1 .2l.9 .2l.9 .2l.9 .2l.9 .2l.9 .3l.9 .2l.9 .3l.9 .2l.9 .3l1 .3l.9 .2l.9 .3l.9 .3l.9 .3l.9 .3l.9 .3l.9 .3l.9 .3l.9 .3l1 .3l.9 .3l.9 .3l.9 .3l.9 .3l.9 .3l.9 .3l.9 .3l.9 .3l1 .3l.9 .3l.9 .2l.9 .3l.9 .3l.9 .3l.9 .2l.9 .3l.9 .2l.9 .3l1 .2l.9 .2l.9 .2l.9 .3l.9 .2l.9 .2l.9 .2l.9 .2l.9 .2l.9 .2l1 .2l.9 .2l.9 .2l.9 .1l.9 .2l.9 .2l.9 .2l.9 .2l.9 .1l.9 .2l1 .2l.9 .2l.9 .1l.9 .2l.9 .2l.9 .2l.9 .1l.9 .2l.9 .2l1 .1l.9 .2l.9 .2l.9 .2l.9 .1l.9 .2l.9 .2l.9 .2l.9 .2l.9 .1l1 .2l.9 .2l.9 .2l.9 .2l.9 .2l.9 .2l.9 .2l.9 .2l.9 .2l.9 .2l1 .2l.9 .2l.9 .2l.9 .2l.9 .2l.9 .2l.9 .2l.9 .2l.9 .2l.9 .2l1 .1l.9 .2l.9 .2l.9 .2l.9 .2l.9 .2l.9 .1l.9 .2l.9 .2l1 .2l.9 .1l.9 .2l.9 .1l.9 .2l.9 .1l.9 .2l.9 .1l.9 .1l.9 .2l1 .1l.9 .1l.9 .2l.9 .1l.9 .1l.9 .2l.9 .1l.9 .1l.9 .1l.9 .2l1 .1l.9 .1l.9 .1l.9 .1l.9 .2l.9 .1l.9 .1l.9 .1l.9 .1l.9 .1l1 .2l.9 .1l.9 .1l.9 .1l.9 .1l.9 .1l.9 .1l.9 .1l.9 .1l1 .1l.9 .1l.9 .1l.9 .1l.9 .1l.9 .1l.9 .1l.9 .1l.9 .1l.9 .1l1 .1l.9 .1l.9 .1l.9 .1l.9 .1l.9 .1l.9 .1l.9 0l.9 .1l.9 .1l1 .1l.9 .1l.9 .1l.9 .1l.9 0l.9 .1l.9 .1l.9 .1l.9 0l.9 .1l1 .1l.9 .1l.9 0l.9 .1l.9 .1" fill="none" stroke="#e60019" stroke-width="4.20" stroke-linejoin="round" stroke-linecap="round" />
<path d="M1112.7 923.9l.9 -.3l.9 -.3l.9 -.3l.9 -.2l1 -.3l.9 -.2l.9 -.3l.9 -.3l.9 -.3l.9 -.3l.9 -.3l.9 -.3l.9 -.2l.9 -.3l1 -.3l.9 -.2l.9 -.2l.9 -.2l.9 -.1l.9 -.1l.9 0l.9 .1l.9 .3l.9 .2l1 .2l.9 .3l.9 .2l.9 .2l.9 .2l.9 .3l.9 -.1l.9 -.2l.9 -.1l.9 -.1l1 -.1l.9 -.1l.9 0l.9 .3l.9 .2l.9 .2l.9 .2l.9 .3l.9 .2l1 -.1l.9 -.1l.9 -.1l.9 -.1l.9 -.1l.9 -.1l.9 .1l.9 .1l.9 .2l.9 .1l1 .1l.9 .1l.9 .1l.9 0l.9 .1l.9 0l.9 0l.9 .1l.9 0l.9 0l1 0l.9 0l.9 -.2l.9 -.3l.9 -.3l.9 -.3l.9 -.3l.9 -.3l.9 -.3l.9 -.3l1 -.3l.9 -.3l.9 .1l.9 .2l.9 .2l.9 .2l.9 .2l.9 .2l.9 .2l1 .3l.9 .2l.9 .3l.9 0l.9 .1l.9 0l.9 .1l.9 .1l.9 0l.9 .1l1 .1l.9 .1l.9 .1l.9 .2l.9 .1l.9 .1l.9 .1l.9 .1l.9 .2l.9 .2l1 .2l.9 .2l.9 .2l.9 .3l.9 .2l.9 .3l.9 .3l.9 .3l.9 .3l.9 .3l1 .4l.9 .3l.9 .4l.9 .4l.9 .4l.9 .3l.9 .4l.9 .4l.9 .4l1 .4l.9 .4l.9 .4l.9 .4l.9 .4l.9 .4l.9 .4l.9 .4l.9 .4l.9 .4l1 .4l.9 .4l.9 .4l.9 .4l.9 .4l.9 .4l.9 .4l.9 .4l.9 .4l.9 .5l1 .4l.9 .4l.9 .5l.9 .4l.9 .4l.9 .5l.9 .5l.9 .4l.9 .5l.9 .5l1 .5l.9 .4l.9 .5l.9 .5l.9 .4l.9 .5l.9 .5l.9 .5l.9 .5l1 .5l.9 .4l.9 .5l.9 .5l.9 .5l.9 .5l.9 .5l.9 .5l.9 .5l.9 .5l1 .6l.9 .5l.9 .6l.9 .6l.9 .6l.9 .6l.9 .6l.9 .6l.9 .7l.9 .6l1 .7l.9 .6l.9 .7l.9 .6l.9 .7l.9 .6l.9 .7l.9 .6l.9 .7l.9 .6l1 .6l.9 .7l.9 .6l.9 .6l.9 .6l.9 .6l.9 .5l.9 .5l.9 .6l1 .5l.9 .4l.9 .5l.9 .4l.9 .4l.9 .3l.9 .4l.9 .3l.9 .3l.9 .3l1 .2l.9 .3l.9 .3l.9 .2l.9 .3l.9 .2l.9 .2l.9 .3l.9 .2l.9 .2l1 .2l.9 .2l.9 .2l.9 .2l.9 .2l.9 .2l.9 .2l.9 .2l.9 .2l1 .2l.9 .1l.9 .2l.9 .2l.9 .2l.9 .2l.9 .2l.9 .2l.9 .2l.9 .2l1 .2l.9 .3l.9 .2l.9 .2l.9 .2l.9 .3l.9 .2l.9 .3l.9 .3l.9 .2l1 .3l.9 .3l.9 .3l.9 .2l.9 .3l.9 .3l.9 .3l.9 .3l.9 .3l.9 .3l1 .3l.9 .3l.9 .4l.9 .3l.9 .3l.9 .3l.9 .3l.9 .3l.9 .3l1 .3l.9 .3l.9 .2l.9 .3l.9 .3l.9 .3l.9 .2l.9 .3l.9 .2l.9 .3l1 .2l.9 .3l.9 .2l.9 .2l.9 .2l.9 .2l.9 .2l.9 .2l.9 .2l.9 .2l1 .2l.9 .2l.9 .2l.9 .2l.9 .2l.9 .2l.9 .2l.9 .1l.9 .2l.9 .2l1 .2l.9 .1l.9 .2l.9 .2l.9 .2l.9 .1l.9 .2l.9 .2l.9 .2l1 .1l.9 .2l.9 .2l.9 .2l.9 .1l.9 .2l.9 .2l.9 .2l.9 .2l.9 .2l1 .1l.9 .2l.9 .2l.9 .2l.9 .2l.9 .2l.9 .2l.9 .2l.9 .2l.9 .2l1 .2l.9 .2l.9 .2l.9 .2l.9 .2l.9 .2l.9 .2l.9 .2l.9 .2l.9 .2l1 .2l.9 .2l.9 .2l.9 .1l.9 .2l.9 .2l.9 .2l.9 .2l.9 .1l1 .2l.9 .2l.9 .1l.9 .2l.9 .1l.9 .2l.9 .1l.9 .2l.9 .1l.9 .1l1 .2l.9 .1l.9 .1l.9 .2l.9 .1l.9 .1l.9 .2l.9 .1l.9 .1l.9 .1l1 .2l.9 .1l.9 .1l.9 .1l.9 .1l.9 .2l.9 .1l.9 .1l.9 .1l.9 .1l1 .1l.9 .1l.9 .2l.9 .1l.9 .1l.9 .1l.9 .1l.9 .1l.9 .1l1 .1l.9 .1l.9 .1l.9 .1l.9 .1l.9 .1l.9 .1l.9 .1l.9 .1l.9 .1l1 .1l.9 .1l.9 .1l.9 .1l.9 .1l.9 .1l.9 .1l.9 0l.9 .1l.9 .1l1 .1l.9 .1l.9 .1l.9 0l.9 .1l.9 .1l.9 .1l.9 .1l.9 0l.9 .1l1 .1l.9 .1l.9 0l.9 .1l.9 .1" fill="none" stroke="#cf0030" stroke-width="4.20" stroke-linejoin="round" stroke-linecap="round" />
<path d="M1112.7 916.3l.9 -.4l.9 -.5l.9 -.4l.9 -.4l1 -.4l.9 -.4l.9 -.5l.9 -.4l.9 -.5l.9 -.5l.9 -.4l.9 -.5l.9 -.5l.9 -.4l1 -.4l.9 -.4l.9 -.4l.9 -.2l.9 -.3l.9 -.1l.9 -.1l.9 .2l.9 .3l.9 .4l1 .3l.9 .4l.9 .3l.9 .3l.9 .4l.9 .3l.9 -.2l.9 -.2l.9 -.2l.9 -.2l1 -.2l.9 -.2l.9 0l.9 .4l.9 .3l.9 .3l.9 .4l.9 .3l.9 .3l1 -.1l.9 -.2l.9 -.2l.9 -.2l.9 -.2l.9 -.1l.9 .2l.9 .2l.9 .1l.9 .2l1 .2l.9 .1l.9 .1l.9 .1l.9 .1l.9 0l.9 .1l.9 0l.9 .1l.9 0l1 .1l.9 0l.9 -.4l.9 -.4l.9 -.4l.9 -.5l.9 -.4l.9 -.5l.9 -.4l.9 -.5l1 -.4l.9 -.5l.9 .3l.9 .3l.9 .3l.9 .4l.9 .4l.9 .4l.9 .4l1 .4l.9 .4l.9 .4l.9 .1l.9 .2l.9 .1l.9 .1l.9 .2l.9 .1l.9 .2l1 .1l.9 .2l.9 .2l.9 .2l.9 .1l.9 .2l.9 .1l.9 .2l.9 .2l.9 .2l1 .3l.9 .2l.9 .3l.9 .3l.9 .3l.9 .3l.9 .3l.9 .4l.9 .3l.9 .4l1 .4l.9 .4l.9 .4l.9 .4l.9 .5l.9 .4l.9 .5l.9 .4l.9 .5l1 .4l.9 .5l.9 .4l.9 .5l.9 .4l.9 .5l.9 .4l.9 .4l.9 .5l.9 .5l1 .5l.9 .5l.9 .4l.9 .5l.9 .5l.9 .5l.9 .4l.9 .5l.9 .5l.9 .5l1 .5l.9 .6l.9 .5l.9 .5l.9 .5l.9 .6l.9 .6l.9 .5l.9 .6l.9 .6l1 .5l.9 .6l.9 .5l.9 .6l.9 .5l.9 .6l.9 .5l.9 .6l.9 .6l1 .6l.9 .5l.9 .6l.9 .6l.9 .5l.9 .6l.9 .6l.9 .6l.9 .6l.9 .6l1 .6l.9 .6l.9 .6l.9 .7l.9 .7l.9 .7l.9 .7l.9 .7l.9 .7l.9 .7l1 .8l.9 .7l.9 .7l.9 .7l.9 .7l.9 .8l.9 .7l.9 .7l.9 .7l.9 .8l1 .7l.9 .7l.9 .7l.9 .6l.9 .7l.9 .6l.9 .7l.9 .6l.9 .5l1 .6l.9 .5l.9 .5l.9 .5l.9 .4l.9 .4l.9 .4l.9 .3l.9 .3l.9 .4l1 .3l.9 .3l.9 .3l.9 .2l.9 .3l.9 .3l.9 .2l.9 .3l.9 .2l.9 .3l1 .2l.9 .3l.9 .2l.9 .2l.9 .2l.9 .2l.9 .3l.9 .2l.9 .2l1 .2l.9 .2l.9 .2l.9 .2l.9 .2l.9 .2l.9 .3l.9 .2l.9 .2l.9 .2l1 .2l.9 .3l.9 .2l.9 .3l.9 .2l.9 .3l.9 .2l.9 .3l.9 .2l.9 .3l1 .3l.9 .3l.9 .3l.9 .3l.9 .2l.9 .3l.9 .3l.9 .4l.9 .3l.9 .3l1 .3l.9 .3l.9 .3l.9 .3l.9 .3l.9 .3l.9 .3l.9 .3l.9 .3l1 .3l.9 .3l.9 .3l.9 .3l.9 .3l.9 .3l.9 .2l.9 .3l.9 .2l.9 .3l1 .2l.9 .3l.9 .2l.9 .2l.9 .2l.9 .2l.9 .2l.9 .3l.9 .2l.9 .2l1 .2l.9 .1l.9 .2l.9 .2l.9 .2l.9 .2l.9 .2l.9 .2l.9 .2l.9 .1l1 .2l.9 .2l.9 .2l.9 .2l.9 .1l.9 .2l.9 .2l.9 .2l.9 .1l1 .2l.9 .2l.9 .2l.9 .1l.9 .2l.9 .2l.9 .2l.9 .2l.9 .2l.9 .1l1 .2l.9 .2l.9 .2l.9 .2l.9 .2l.9 .2l.9 .2l.9 .2l.9 .2l.9 .2l1 .2l.9 .2l.9 .2l.9 .2l.9 .2l.9 .2l.9 .2l.9 .2l.9 .2l.9 .2l1 .2l.9 .2l.9 .2l.9 .2l.9 .2l.9 .2l.9 .1l.9 .2l.9 .2l1 .2l.9 .1l.9 .2l.9 .1l.9 .2l.9 .1l.9 .2l.9 .1l.9 .2l.9 .1l1 .1l.9 .2l.9 .1l.9 .1l.9 .2l.9 .1l.9 .1l.9 .1l.9 .2l.9 .1l1 .1l.9 .1l.9 .2l.9 .1l.9 .1l.9 .1l.9 .2l.9 .1l.9 .1l.9 .1l1 .1l.9 .1l.9 .1l.9 .2l.9 .1l.9 .1l.9 .1l.9 .1l.9 .1l1 .1l.9 .1l.9 .1l.9 .1l.9 .1l.9 .1l.9 .1l.9 .1l.9 .1l.9 .1l1 .1l.9 .1l.9 .1l.9 .1l.9 .1l.9 .1l.9 0l.9 .1l.9 .1l.9 .1l1 .1l.9 .1l.9 .1l.9 0l.9 .1l.9 .1l.9 .1l.9 .1l.9 0l.9 .1l1 .1l.9 .1l.9 0l.9 .1l.9 .1" fill="none" stroke="#b60049" stroke-width="4.20" stroke-linejoin="round" stroke-linecap="round" />
<path d="M1112.7 905l.9 -.7l.9 -.6l.9 -.7l.9 -.7l1 -.6l.9 -.7l.9 -.6l.9 -.8l.9 -.7l.9 -.7l.9 -.8l.9 -.8l.9 -.7l.9 -.7l1 -.7l.9 -.6l.9 -.5l.9 -.5l.9 -.4l.9 -.2l.9 -.2l.9 .4l.9 .5l.9 .5l1 .5l.9 .5l.9 .5l.9 .5l.9 .5l.9 .5l.9 -.4l.9 -.3l.9 -.4l.9 -.3l1 -.3l.9 -.4l.9 0l.9 .5l.9 .5l.9 .5l.9 .5l.9 .5l.9 .5l1 -.2l.9 -.3l.9 -.3l.9 -.4l.9 -.3l.9 -.1l.9 .2l.9 .3l.9 .2l.9 .3l1 .2l.9 .3l.9 .1l.9 .1l.9 .1l.9 .1l.9 .1l.9 .1l.9 .1l.9 .1l1 .1l.9 0l.9 -.5l.9 -.7l.9 -.6l.9 -.7l.9 -.7l.9 -.6l.9 -.7l.9 -.7l1 -.7l.9 -.6l.9 .4l.9 .6l.9 .5l.9 .6l.9 .7l.9 .6l.9 .7l1 .7l.9 .7l.9 .7l.9 .1l.9 .2l.9 .3l.9 .2l.9 .2l.9 .3l.9 .3l1 .2l.9 .3l.9 .3l.9 .3l.9 .2l.9 .2l.9 .3l.9 .2l.9 .3l.9 .2l1 .3l.9 .3l.9 .4l.9 .3l.9 .4l.9 .3l.9 .4l.9 .4l.9 .4l.9 .5l1 .4l.9 .5l.9 .5l.9 .5l.9 .6l.9 .5l.9 .5l.9 .5l.9 .6l1 .5l.9 .5l.9 .6l.9 .5l.9 .5l.9 .5l.9 .6l.9 .5l.9 .6l.9 .6l1 .6l.9 .6l.9 .5l.9 .6l.9 .6l.9 .6l.9 .6l.9 .6l.9 .6l.9 .7l1 .6l.9 .6l.9 .7l.9 .6l.9 .7l.9 .7l.9 .7l.9 .7l.9 .7l.9 .7l1 .7l.9 .7l.9 .6l.9 .7l.9 .7l.9 .7l.9 .7l.9 .7l.9 .7l1 .7l.9 .7l.9 .6l.9 .7l.9 .7l.9 .7l.9 .7l.9 .7l.9 .7l.9 .7l1 .8l.9 .7l.9 .8l.9 .8l.9 .8l.9 .8l.9 .8l.9 .8l.9 .9l.9 .8l1 .8l.9 .9l.9 .8l.9 .8l.9 .9l.9 .8l.9 .9l.9 .8l.9 .8l.9 .9l1 .8l.9 .8l.9 .8l.9 .8l.9 .7l.9 .8l.9 .7l.9 .7l.9 .7l1 .6l.9 .6l.9 .6l.9 .5l.9 .5l.9 .5l.9 .4l.9 .4l.9 .4l.9 .3l1 .4l.9 .3l.9 .4l.9 .3l.9 .3l.9 .3l.9 .3l.9 .3l.9 .3l.9 .3l1 .3l.9 .2l.9 .3l.9 .3l.9 .2l.9 .3l.9 .2l.9 .3l.9 .2l1 .2l.9 .3l.9 .2l.9 .3l.9 .2l.9 .2l.9 .3l.9 .2l.9 .3l.9 .2l1 .3l.9 .2l.9 .3l.9 .2l.9 .3l.9 .2l.9 .3l.9 .3l.9 .3l.9 .3l1 .2l.9 .3l.9 .3l.9 .3l.9 .3l.9 .3l.9 .3l.9 .3l.9 .3l.9 .4l1 .3l.9 .3l.9 .3l.9 .3l.9 .3l.9 .3l.9 .4l.9 .3l.9 .3l1 .3l.9 .3l.9 .3l.9 .3l.9 .2l.9 .3l.9 .3l.9 .3l.9 .2l.9 .3l1 .2l.9 .3l.9 .2l.9 .2l.9 .2l.9 .2l.9 .3l.9 .2l.9 .2l.9 .2l1 .2l.9 .2l.9 .2l.9 .2l.9 .2l.9 .2l.9 .2l.9 .1l.9 .2l.9 .2l1 .2l.9 .2l.9 .2l.9 .1l.9 .2l.9 .2l.9 .2l.9 .2l.9 .1l1 .2l.9 .2l.9 .2l.9 .2l.9 .2l.9 .1l.9 .2l.9 .2l.9 .2l.9 .2l1 .2l.9 .2l.9 .2l.9 .2l.9 .2l.9 .2l.9 .2l.9 .2l.9 .2l.9 .2l1 .2l.9 .2l.9 .2l.9 .2l.9 .2l.9 .2l.9 .2l.9 .2l.9 .2l.9 .2l1 .2l.9 .2l.9 .2l.9 .2l.9 .2l.9 .2l.9 .1l.9 .2l.9 .2l1 .2l.9 .1l.9 .2l.9 .2l.9 .1l.9 .2l.9 .1l.9 .1l.9 .2l.9 .1l1 .2l.9 .1l.9 .1l.9 .2l.9 .1l.9 .1l.9 .2l.9 .1l.9 .1l.9 .2l1 .1l.9 .1l.9 .1l.9 .2l.9 .1l.9 .1l.9 .1l.9 .1l.9 .2l.9 .1l1 .1l.9 .1l.9 .1l.9 .1l.9 .1l.9 .1l.9 .2l.9 .1l.9 .1l1 .1l.9 .1l.9 .1l.9 .1l.9 .1l.9 .1l.9 .1l.9 .1l.9 .1l.9 .1l1 .1l.9 .1l.9 .1l.9 .1l.9 .1l.9 .1l.9 0l.9 .1l.9 .1l.9 .1l1 .1l.9 .1l.9 .1l.9 0l.9 .1l.9 .1l.9 .1l.9 .1l.9 0l.9 .1l1 .1l.9 .1l.9 0l.9 .1l.9 .1" fill="none" stroke="#a2005d" stroke-width="4.20" stroke-linejoin="round" stroke-linecap="round" />
<path d="M1112.7 892.2l.9 -.9l.9 -1l.9 -.9l.9 -1l1 -.9l.9 -.9l.9 -1l.9 -1l.9 -1l.9 -1.1l.9 -1l.9 -1.1l.9 -1l.9 -1.1l1 -.9l.9 -.9l.9 -.7l.9 -.7l.9 -.6l.9 -.4l.9 -.2l.9 .5l.9 .7l.9 .7l1 .6l.9 .7l.9 .7l.9 .7l.9 .7l.9 .7l.9 -.5l.9 -.5l.9 -.5l.9 -.5l1 -.5l.9 -.5l.9 0l.9 .7l.9 .7l.9 .7l.9 .6l.9 .7l.9 .7l1 -.3l.9 -.4l.9 -.5l.9 -.5l.9 -.5l.9 -.2l.9 .3l.9 .4l.9 .3l.9 .4l1 .3l.9 .3l.9 .2l.9 .2l.9 .1l.9 .2l.9 .1l.9 .2l.9 .1l.9 .1l1 .1l.9 .1l.9 -.7l.9 -.9l.9 -.9l.9 -.9l.9 -1l.9 -.9l.9 -.9l.9 -.9l1 -.9l.9 -1l.9 .7l.9 .8l.9 .8l.9 .9l.9 .9l.9 .9l.9 1l1 1l.9 1l.9 1l.9 .3l.9 .3l.9 .3l.9 .4l.9 .3l.9 .4l.9 .4l1 .4l.9 .4l.9 .4l.9 .4l.9 .3l.9 .3l.9 .3l.9 .3l.9 .3l.9 .4l1 .3l.9 .4l.9 .4l.9 .4l.9 .4l.9 .5l.9 .4l.9 .5l.9 .5l.9 .5l1 .5l.9 .6l.9 .6l.9 .6l.9 .6l.9 .6l.9 .6l.9 .7l.9 .6l1 .6l.9 .6l.9 .7l.9 .6l.9 .6l.9 .6l.9 .6l.9 .6l.9 .8l.9 .7l1 .7l.9 .7l.9 .7l.9 .7l.9 .8l.9 .7l.9 .7l.9 .8l.9 .7l.9 .8l1 .7l.9 .8l.9 .8l.9 .8l.9 .8l.9 .9l.9 .8l.9 .9l.9 .9l.9 .8l1 .8l.9 .9l.9 .8l.9 .8l.9 .8l.9 .9l.9 .8l.9 .8l.9 .9l1 .8l.9 .8l.9 .9l.9 .8l.9 .8l.9 .8l.9 .9l.9 .8l.9 .8l.9 .9l1 .8l.9 .9l.9 .9l.9 .9l.9 1l.9 1l.9 .9l.9 1l.9 .9l.9 1l1 1l.9 .9l.9 1l.9 1l.9 .9l.9 1l.9 .9l.9 1l.9 1l.9 .9l1 1l.9 .9l.9 .9l.9 .9l.9 .9l.9 .9l.9 .8l.9 .8l.9 .8l1 .7l.9 .7l.9 .7l.9 .6l.9 .6l.9 .5l.9 .5l.9 .4l.9 .4l.9 .5l1 .4l.9 .4l.9 .4l.9 .3l.9 .4l.9 .4l.9 .3l.9 .4l.9 .3l.9 .3l1 .3l.9 .4l.9 .3l.9 .3l.9 .3l.9 .3l.9 .2l.9 .3l.9 .3l1 .3l.9 .3l.9 .2l.9 .3l.9 .3l.9 .2l.9 .3l.9 .3l.9 .2l.9 .3l1 .3l.9 .3l.9 .2l.9 .3l.9 .3l.9 .3l.9 .3l.9 .3l.9 .2l.9 .3l1 .3l.9 .3l.9 .3l.9 .3l.9 .3l.9 .3l.9 .4l.9 .3l.9 .3l.9 .3l1 .3l.9 .3l.9 .4l.9 .3l.9 .3l.9 .3l.9 .3l.9 .4l.9 .3l1 .3l.9 .3l.9 .3l.9 .3l.9 .3l.9 .3l.9 .2l.9 .3l.9 .3l.9 .2l1 .3l.9 .2l.9 .2l.9 .3l.9 .2l.9 .2l.9 .2l.9 .3l.9 .2l.9 .2l1 .2l.9 .2l.9 .2l.9 .2l.9 .2l.9 .2l.9 .2l.9 .2l.9 .2l.9 .2l1 .1l.9 .2l.9 .2l.9 .2l.9 .2l.9 .2l.9 .2l.9 .1l.9 .2l1 .2l.9 .2l.9 .2l.9 .2l.9 .2l.9 .1l.9 .2l.9 .2l.9 .2l.9 .2l1 .2l.9 .2l.9 .2l.9 .2l.9 .2l.9 .2l.9 .2l.9 .2l.9 .2l.9 .2l1 .2l.9 .3l.9 .2l.9 .2l.9 .2l.9 .2l.9 .2l.9 .2l.9 .2l.9 .2l1 .2l.9 .2l.9 .2l.9 .2l.9 .2l.9 .2l.9 .1l.9 .2l.9 .2l1 .2l.9 .1l.9 .2l.9 .2l.9 .1l.9 .2l.9 .1l.9 .2l.9 .1l.9 .2l1 .1l.9 .1l.9 .2l.9 .1l.9 .1l.9 .2l.9 .1l.9 .1l.9 .2l.9 .1l1 .1l.9 .2l.9 .1l.9 .1l.9 .1l.9 .2l.9 .1l.9 .1l.9 .1l.9 .1l1 .2l.9 .1l.9 .1l.9 .1l.9 .1l.9 .1l.9 .1l.9 .1l.9 .1l1 .2l.9 .1l.9 .1l.9 .1l.9 .1l.9 .1l.9 .1l.9 .1l.9 .1l.9 .1l1 .1l.9 .1l.9 .1l.9 .1l.9 0l.9 .1l.9 .1l.9 .1l.9 .1l.9 .1l1 .1l.9 .1l.9 .1l.9 0l.9 .1l.9 .1l.9 .1l.9 .1l.9 0l.9 .1l1 .1l.9 .1l.9 0l.9 .1l.9 .1" fill="none" stroke="#90006f" stroke-width="4.20" stroke-linejoin="round" stroke-linecap="round" />
<path d="M1112.7 883.9l.9 -1.1l.9 -1.1l.9 -1.2l.9 -1.1l1 -1.1l.9 -1l.9 -1.2l.9 -1.2l.9 -1.2l.9 -1.3l.9 -1.3l.9 -1.2l.9 -1.3l.9 -1.2l1 -1.1l.9 -1l.9 -.9l.9 -.9l.9 -.6l.9 -.5l.9 -.3l.9 .6l.9 .8l.9 .8l1 .8l.9 .8l.9 .8l.9 .8l.9 .8l.9 .8l.9 -.6l.9 -.6l.9 -.5l.9 -.6l1 -.6l.9 -.6l.9 0l.9 .8l.9 .8l.9 .8l.9 .8l.9 .8l.9 .8l1 -.3l.9 -.6l.9 -.6l.9 -.6l.9 -.6l.9 -.2l.9 .4l.9 .4l.9 .4l.9 .4l1 .4l.9 .4l.9 .2l.9 .2l.9 .2l.9 .1l.9 .2l.9 .2l.9 .1l.9 .2l1 .1l.9 .2l.9 -.9l.9 -1.1l.9 -1.1l.9 -1l.9 -1.1l.9 -1.1l.9 -1.1l.9 -1l1 -1.1l.9 -1.1l.9 .8l.9 1l.9 .9l.9 1.1l.9 1.1l.9 1.1l.9 1.1l1 1.2l.9 1.3l.9 1.1l.9 .4l.9 .4l.9 .4l.9 .4l.9 .4l.9 .5l.9 .4l1 .5l.9 .5l.9 .5l.9 .4l.9 .4l.9 .3l.9 .4l.9 .4l.9 .3l.9 .4l1 .4l.9 .4l.9 .4l.9 .5l.9 .4l.9 .5l.9 .5l.9 .6l.9 .5l.9 .5l1 .6l.9 .7l.9 .6l.9 .7l.9 .7l.9 .6l.9 .7l.9 .7l.9 .7l1 .7l.9 .7l.9 .6l.9 .7l.9 .7l.9 .7l.9 .6l.9 .7l.9 .8l.9 .8l1 .8l.9 .8l.9 .8l.9 .8l.9 .8l.9 .8l.9 .8l.9 .9l.9 .8l.9 .8l1 .9l.9 .9l.9 .8l.9 .9l.9 1l.9 .9l.9 .9l.9 1l.9 1l.9 1l1 .9l.9 .9l.9 .9l.9 .9l.9 .9l.9 .9l.9 1l.9 .9l.9 .9l1 1l.9 .9l.9 .9l.9 .9l.9 .9l.9 .9l.9 .9l.9 1l.9 .9l.9 .9l1 1l.9 .9l.9 1l.9 1.1l.9 1l.9 1l.9 1.1l.9 1l.9 1.1l.9 1l1 1.1l.9 1l.9 1.1l.9 1l.9 1l.9 1.1l.9 1l.9 1.1l.9 1l.9 1.1l1 1l.9 1l.9 1l.9 1l.9 .9l.9 1l.9 .9l.9 .9l.9 .8l1 .8l.9 .8l.9 .7l.9 .7l.9 .6l.9 .5l.9 .5l.9 .5l.9 .5l.9 .5l1 .4l.9 .4l.9 .5l.9 .4l.9 .4l.9 .4l.9 .3l.9 .4l.9 .4l.9 .3l1 .4l.9 .3l.9 .4l.9 .3l.9 .3l.9 .3l.9 .4l.9 .3l.9 .3l1 .3l.9 .3l.9 .3l.9 .2l.9 .3l.9 .3l.9 .3l.9 .3l.9 .3l.9 .3l1 .3l.9 .2l.9 .3l.9 .3l.9 .3l.9 .3l.9 .3l.9 .3l.9 .3l.9 .3l1 .3l.9 .3l.9 .3l.9 .3l.9 .3l.9 .3l.9 .3l.9 .4l.9 .3l.9 .3l1 .3l.9 .4l.9 .3l.9 .3l.9 .3l.9 .3l.9 .4l.9 .3l.9 .3l1 .3l.9 .3l.9 .3l.9 .3l.9 .3l.9 .3l.9 .3l.9 .3l.9 .2l.9 .3l1 .3l.9 .2l.9 .2l.9 .3l.9 .2l.9 .2l.9 .2l.9 .3l.9 .2l.9 .2l1 .2l.9 .2l.9 .2l.9 .2l.9 .2l.9 .2l.9 .2l.9 .2l.9 .2l.9 .2l1 .2l.9 .2l.9 .2l.9 .1l.9 .2l.9 .2l.9 .2l.9 .2l.9 .2l1 .2l.9 .2l.9 .1l.9 .2l.9 .2l.9 .2l.9 .2l.9 .2l.9 .2l.9 .2l1 .2l.9 .2l.9 .2l.9 .2l.9 .2l.9 .2l.9 .2l.9 .2l.9 .2l.9 .2l1 .3l.9 .2l.9 .2l.9 .2l.9 .2l.9 .2l.9 .2l.9 .2l.9 .2l.9 .2l1 .2l.9 .2l.9 .2l.9 .2l.9 .2l.9 .2l.9 .2l.9 .2l.9 .1l1 .2l.9 .2l.9 .2l.9 .1l.9 .2l.9 .1l.9 .2l.9 .1l.9 .2l.9 .1l1 .2l.9 .1l.9 .1l.9 .2l.9 .1l.9 .1l.9 .2l.9 .1l.9 .1l.9 .2l1 .1l.9 .1l.9 .2l.9 .1l.9 .1l.9 .1l.9 .2l.9 .1l.9 .1l.9 .1l1 .1l.9 .1l.9 .2l.9 .1l.9 .1l.9 .1l.9 .1l.9 .1l.9 .1l1 .1l.9 .1l.9 .2l.9 .1l.9 .1l.9 .1l.9 .1l.9 .1l.9 .1l.9 .1l1 .1l.9 .1l.9 .1l.9 .1l.9 0l.9 .1l.9 .1l.9 .1l.9 .1l.9 .1l1 .1l.9 .1l.9 .1l.9 0l.9 .1l.9 .1l.9 .1l.9 .1l.9 0l.9 .1l1 .1l.9 .1l.9 0l.9 .1l.9 .1" fill="none" stroke="#80007f" stroke-width="4.20" stroke-linejoin="round" stroke-linecap="round" />
<path d="M1112.7 872.6l.9 -1.4l.9 -1.3l.9 -1.4l.9 -1.3l1 -1.4l.9 -1.3l.9 -1.3l.9 -1.5l.9 -1.5l.9 -1.6l.9 -1.5l.9 -1.6l.9 -1.5l.9 -1.4l1 -1.4l.9 -1.3l.9 -1.1l.9 -1l.9 -.8l.9 -.6l.9 -.4l.9 .7l.9 1l.9 1l1 .9l.9 1l.9 1l.9 1l.9 .9l.9 1l.9 -.7l.9 -.8l.9 -.7l.9 -.7l1 -.8l.9 -.7l.9 0l.9 1l.9 .9l.9 1l.9 1l.9 .9l.9 1l1 -.4l.9 -.7l.9 -.7l.9 -.7l.9 -.8l.9 -.3l.9 .5l.9 .5l.9 .5l.9 .5l1 .4l.9 .5l.9 .3l.9 .2l.9 .2l.9 .2l.9 .2l.9 .2l.9 .2l.9 .2l1 .2l.9 .2l.9 -1.1l.9 -1.3l.9 -1.3l.9 -1.2l.9 -1.3l.9 -1.3l.9 -1.3l.9 -1.3l1 -1.3l.9 -1.3l.9 1l.9 1.1l.9 1.3l.9 1.2l.9 1.3l.9 1.4l.9 1.4l1 1.5l.9 1.5l.9 1.4l.9 .5l.9 .4l.9 .5l.9 .6l.9 .5l.9 .5l.9 .6l1 .6l.9 .6l.9 .6l.9 .5l.9 .5l.9 .4l.9 .4l.9 .4l.9 .5l.9 .4l1 .4l.9 .5l.9 .5l.9 .5l.9 .5l.9 .6l.9 .5l.9 .6l.9 .6l.9 .6l1 .7l.9 .7l.9 .8l.9 .7l.9 .8l.9 .7l.9 .8l.9 .7l.9 .8l1 .8l.9 .7l.9 .8l.9 .7l.9 .8l.9 .8l.9 .7l.9 .8l.9 .9l.9 .9l1 .9l.9 .9l.9 .9l.9 .9l.9 .9l.9 1l.9 .9l.9 .9l.9 1l.9 1l1 .9l.9 1l.9 1l.9 1.1l.9 1l.9 1.1l.9 1.1l.9 1.1l.9 1.1l.9 1.2l1 1l.9 1l.9 1l.9 1.1l.9 1l.9 1.1l.9 1l.9 1.1l.9 1l1 1.1l.9 1l.9 1.1l.9 1l.9 1l.9 1l.9 1.1l.9 1l.9 1l.9 1.1l1 1.1l.9 1l.9 1.2l.9 1.1l.9 1.2l.9 1.1l.9 1.2l.9 1.2l.9 1.1l.9 1.2l1 1.2l.9 1.1l.9 1.2l.9 1.1l.9 1.2l.9 1.1l.9 1.2l.9 1.1l.9 1.2l.9 1.1l1 1.2l.9 1.1l.9 1.1l.9 1.1l.9 1.1l.9 1l.9 1l.9 1l.9 .9l1 .9l.9 .9l.9 .8l.9 .7l.9 .7l.9 .6l.9 .6l.9 .5l.9 .5l.9 .5l1 .5l.9 .5l.9 .4l.9 .5l.9 .5l.9 .4l.9 .4l.9 .4l.9 .4l.9 .4l1 .4l.9 .4l.9 .4l.9 .3l.9 .4l.9 .4l.9 .3l.9 .3l.9 .4l1 .3l.9 .3l.9 .4l.9 .3l.9 .3l.9 .3l.9 .3l.9 .3l.9 .4l.9 .3l1 .3l.9 .3l.9 .3l.9 .3l.9 .3l.9 .3l.9 .3l.9 .3l.9 .3l.9 .3l1 .3l.9 .3l.9 .4l.9 .3l.9 .3l.9 .3l.9 .3l.9 .3l.9 .4l.9 .3l1 .3l.9 .4l.9 .3l.9 .3l.9 .3l.9 .4l.9 .3l.9 .3l.9 .3l1 .4l.9 .3l.9 .3l.9 .3l.9 .3l.9 .3l.9 .3l.9 .2l.9 .3l.9 .3l1 .2l.9 .3l.9 .2l.9 .3l.9 .2l.9 .2l.9 .3l.9 .2l.9 .2l.9 .2l1 .2l.9 .3l.9 .2l.9 .2l.9 .2l.9 .2l.9 .2l.9 .2l.9 .2l.9 .2l1 .2l.9 .2l.9 .1l.9 .2l.9 .2l.9 .2l.9 .2l.9 .2l.9 .2l1 .2l.9 .2l.9 .2l.9 .2l.9 .1l.9 .2l.9 .2l.9 .2l.9 .2l.9 .2l1 .2l.9 .2l.9 .2l.9 .2l.9 .3l.9 .2l.9 .2l.9 .2l.9 .2l.9 .2l1 .2l.9 .2l.9 .3l.9 .2l.9 .2l.9 .2l.9 .2l.9 .2l.9 .2l.9 .2l1 .2l.9 .2l.9 .2l.9 .2l.9 .2l.9 .2l.9 .2l.9 .2l.9 .2l1 .1l.9 .2l.9 .2l.9 .1l.9 .2l.9 .2l.9 .1l.9 .2l.9 .1l.9 .1l1 .2l.9 .1l.9 .2l.9 .1l.9 .2l.9 .1l.9 .1l.9 .2l.9 .1l.9 .1l1 .2l.9 .1l.9 .1l.9 .1l.9 .2l.9 .1l.9 .1l.9 .1l.9 .2l.9 .1l1 .1l.9 .1l.9 .1l.9 .2l.9 .1l.9 .1l.9 .1l.9 .1l.9 .1l1 .1l.9 .1l.9 .1l.9 .1l.9 .1l.9 .2l.9 .1l.9 .1l.9 .1l.9 .1l1 .1l.9 .1l.9 0l.9 .1l.9 .1l.9 .1l.9 .1l.9 .1l.9 .1l.9 .1l1 .1l.9 .1l.9 0l.9 .1l.9 .1l.9 .1l.9 .1l.9 .1l.9 0l.9 .1l1 .1l.9 .1l.9 0l.9 .1l.9 .1" fill="none" stroke="#6f0090" stroke-width="4.20" stroke-linejoin="round" stroke-linecap="round" />
<path d="M1112.7 857.6l.9 -1.8l.9 -1.7l.9 -1.6l.9 -1.7l1 -1.6l.9 -1.7l.9 -1.6l.9 -1.8l.9 -1.9l.9 -1.9l.9 -2l.9 -1.9l.9 -1.9l.9 -1.8l1 -1.7l.9 -1.5l.9 -1.4l.9 -1.3l.9 -1l.9 -.7l.9 -.5l.9 .9l.9 1.2l.9 1.2l1 1.1l.9 1.2l.9 1.2l.9 1.2l.9 1.2l.9 1.2l.9 -.9l.9 -1l.9 -.9l.9 -.9l1 -.9l.9 -.9l.9 0l.9 1.2l.9 1.1l.9 1.2l.9 1.2l.9 1.2l.9 1.2l1 -.5l.9 -.9l.9 -.9l.9 -.9l.9 -.9l.9 -.4l.9 .6l.9 .6l.9 .6l.9 .6l1 .6l.9 .6l.9 .3l.9 .3l.9 .2l.9 .3l.9 .3l.9 .2l.9 .2l.9 .3l1 .2l.9 .2l.9 -1.3l.9 -1.6l.9 -1.5l.9 -1.6l.9 -1.6l.9 -1.6l.9 -1.6l.9 -1.6l1 -1.6l.9 -1.6l.9 1.3l.9 1.5l.9 1.5l.9 1.6l.9 1.6l.9 1.7l.9 1.8l1 1.8l.9 1.9l.9 1.8l.9 .5l.9 .6l.9 .6l.9 .7l.9 .7l.9 .7l.9 .7l1 .7l.9 .7l.9 .7l.9 .8l.9 .5l.9 .5l.9 .5l.9 .5l.9 .5l.9 .5l1 .5l.9 .6l.9 .5l.9 .6l.9 .6l.9 .7l.9 .6l.9 .7l.9 .7l.9 .6l1 .8l.9 .9l.9 .8l.9 .8l.9 .9l.9 .9l.9 .8l.9 .9l.9 .9l1 .8l.9 .9l.9 .9l.9 .9l.9 .8l.9 .9l.9 .8l.9 .9l.9 1.1l.9 1l1 1.1l.9 1.1l.9 1l.9 1.1l.9 1l.9 1.1l.9 1.1l.9 1.1l.9 1.1l.9 1.1l1 1.2l.9 1.1l.9 1.2l.9 1.2l.9 1.2l.9 1.3l.9 1.2l.9 1.4l.9 1.3l.9 1.3l1 1.2l.9 1.2l.9 1.2l.9 1.2l.9 1.2l.9 1.2l.9 1.2l.9 1.2l.9 1.3l1 1.2l.9 1.2l.9 1.2l.9 1.2l.9 1.1l.9 1.2l.9 1.2l.9 1.2l.9 1.2l.9 1.2l1 1.3l.9 1.2l.9 1.3l.9 1.3l.9 1.3l.9 1.3l.9 1.4l.9 1.3l.9 1.3l.9 1.4l1 1.3l.9 1.3l.9 1.3l.9 1.3l.9 1.2l.9 1.3l.9 1.4l.9 1.3l.9 1.3l.9 1.3l1 1.3l.9 1.2l.9 1.3l.9 1.2l.9 1.2l.9 1.2l.9 1.1l.9 1.1l.9 1.1l1 1l.9 .9l.9 .9l.9 .9l.9 .7l.9 .7l.9 .7l.9 .6l.9 .6l.9 .5l1 .6l.9 .5l.9 .5l.9 .6l.9 .5l.9 .5l.9 .4l.9 .5l.9 .5l.9 .4l1 .5l.9 .4l.9 .4l.9 .4l.9 .5l.9 .4l.9 .3l.9 .4l.9 .4l1 .4l.9 .4l.9 .3l.9 .4l.9 .3l.9 .4l.9 .3l.9 .4l.9 .3l.9 .3l1 .4l.9 .3l.9 .3l.9 .4l.9 .3l.9 .3l.9 .4l.9 .3l.9 .3l.9 .3l1 .3l.9 .3l.9 .4l.9 .3l.9 .3l.9 .3l.9 .4l.9 .3l.9 .3l.9 .4l1 .3l.9 .3l.9 .4l.9 .3l.9 .3l.9 .4l.9 .3l.9 .3l.9 .4l1 .3l.9 .3l.9 .3l.9 .3l.9 .3l.9 .3l.9 .3l.9 .3l.9 .3l.9 .3l1 .2l.9 .3l.9 .2l.9 .3l.9 .2l.9 .3l.9 .2l.9 .2l.9 .2l.9 .3l1 .2l.9 .2l.9 .2l.9 .2l.9 .2l.9 .3l.9 .2l.9 .2l.9 .2l.9 .2l1 .2l.9 .2l.9 .2l.9 .2l.9 .2l.9 .1l.9 .2l.9 .2l.9 .2l1 .2l.9 .2l.9 .2l.9 .2l.9 .2l.9 .2l.9 .2l.9 .2l.9 .2l.9 .2l1 .2l.9 .2l.9 .2l.9 .3l.9 .2l.9 .2l.9 .2l.9 .2l.9 .2l.9 .2l1 .3l.9 .2l.9 .2l.9 .2l.9 .2l.9 .2l.9 .3l.9 .2l.9 .2l.9 .2l1 .2l.9 .2l.9 .2l.9 .2l.9 .2l.9 .2l.9 .2l.9 .2l.9 .1l1 .2l.9 .2l.9 .2l.9 .1l.9 .2l.9 .2l.9 .1l.9 .2l.9 .1l.9 .2l1 .1l.9 .2l.9 .1l.9 .1l.9 .2l.9 .1l.9 .2l.9 .1l.9 .1l.9 .2l1 .1l.9 .1l.9 .2l.9 .1l.9 .1l.9 .1l.9 .2l.9 .1l.9 .1l.9 .1l1 .2l.9 .1l.9 .1l.9 .1l.9 .1l.9 .1l.9 .2l.9 .1l.9 .1l1 .1l.9 .1l.9 .1l.9 .1l.9 .1l.9 .1l.9 .1l.9 .1l.9 .1l.9 .1l1 .1l.9 .1l.9 .1l.9 .1l.9 .1l.9 .1l.9 .1l.9 .1l.9 .1l.9 .1l1 .1l.9 .1l.9 0l.9 .1l.9 .1l.9 .1l.9 .1l.9 .1l.9 0l.9 .1l1 .1l.9 .1l.9 0l.9 .1l.9 .1" fill="none" stroke="#60009f" stroke-width="4.20" stroke-linejoin="round" stroke-linecap="round" />
<path d="M1112.7 847l.9 -1.9l.9 -2l.9 -1.9l.9 -1.8l1 -1.9l.9 -1.8l.9 -2l.9 -2l.9 -2.1l.9 -2.2l.9 -2.2l.9 -2.2l.9 -2.1l.9 -2l1 -2l.9 -1.8l.9 -1.6l.9 -1.3l.9 -1.2l.9 -.9l.9 -.5l.9 1l.9 1.3l.9 1.4l1 1.3l.9 1.4l.9 1.3l.9 1.3l.9 1.4l.9 1.3l.9 -1l.9 -1.1l.9 -1l.9 -1.1l1 -1l.9 -1l.9 -.1l.9 1.4l.9 1.3l.9 1.3l.9 1.4l.9 1.3l.9 1.4l1 -.6l.9 -1l.9 -1.1l.9 -1l.9 -1l.9 -.4l.9 .7l.9 .6l.9 .7l.9 .7l1 .6l.9 .7l.9 .4l.9 .3l.9 .3l.9 .3l.9 .3l.9 .2l.9 .3l.9 .3l1 .2l.9 .3l.9 -1.5l.9 -1.8l.9 -1.7l.9 -1.8l.9 -1.8l.9 -1.8l.9 -1.8l.9 -1.8l1 -1.8l.9 -1.8l.9 1.5l.9 1.6l.9 1.7l.9 1.9l.9 1.8l.9 2l.9 2l1 2.1l.9 2.1l.9 2l.9 .7l.9 .6l.9 .7l.9 .8l.9 .8l.9 .7l.9 .8l1 .9l.9 .8l.9 .8l.9 .8l.9 .6l.9 .6l.9 .6l.9 .5l.9 .6l.9 .5l1 .6l.9 .6l.9 .6l.9 .7l.9 .6l.9 .7l.9 .7l.9 .7l.9 .8l.9 .7l1 .9l.9 .9l.9 .9l.9 .9l.9 1l.9 .9l.9 .9l.9 1l.9 .9l1 1l.9 .9l.9 1l.9 .9l.9 1l.9 .9l.9 .9l.9 .9l.9 1.2l.9 1.2l1 1.2l.9 1.1l.9 1.2l.9 1.2l.9 1.1l.9 1.2l.9 1.2l.9 1.2l.9 1.2l.9 1.3l1 1.2l.9 1.3l.9 1.3l.9 1.3l.9 1.3l.9 1.4l.9 1.4l.9 1.5l.9 1.4l.9 1.5l1 1.3l.9 1.3l.9 1.3l.9 1.3l.9 1.3l.9 1.4l.9 1.3l.9 1.4l.9 1.3l1 1.3l.9 1.4l.9 1.3l.9 1.3l.9 1.2l.9 1.3l.9 1.3l.9 1.3l.9 1.4l.9 1.3l1 1.3l.9 1.4l.9 1.3l.9 1.5l.9 1.4l.9 1.5l.9 1.4l.9 1.4l.9 1.5l.9 1.4l1 1.4l.9 1.5l.9 1.4l.9 1.3l.9 1.4l.9 1.4l.9 1.4l.9 1.5l.9 1.4l.9 1.4l1 1.4l.9 1.3l.9 1.4l.9 1.3l.9 1.3l.9 1.3l.9 1.2l.9 1.2l.9 1.2l1 1l.9 1.1l.9 .9l.9 .9l.9 .9l.9 .7l.9 .7l.9 .6l.9 .7l.9 .6l1 .6l.9 .6l.9 .5l.9 .6l.9 .5l.9 .6l.9 .5l.9 .5l.9 .5l.9 .5l1 .5l.9 .5l.9 .4l.9 .5l.9 .4l.9 .4l.9 .5l.9 .4l.9 .4l1 .4l.9 .4l.9 .4l.9 .4l.9 .4l.9 .3l.9 .4l.9 .4l.9 .3l.9 .4l1 .3l.9 .4l.9 .3l.9 .4l.9 .3l.9 .4l.9 .3l.9 .3l.9 .4l.9 .3l1 .3l.9 .3l.9 .4l.9 .3l.9 .3l.9 .3l.9 .4l.9 .3l.9 .3l.9 .4l1 .3l.9 .4l.9 .3l.9 .4l.9 .3l.9 .3l.9 .4l.9 .3l.9 .3l1 .4l.9 .3l.9 .3l.9 .3l.9 .3l.9 .3l.9 .3l.9 .3l.9 .3l.9 .3l1 .3l.9 .2l.9 .3l.9 .2l.9 .3l.9 .2l.9 .2l.9 .3l.9 .2l.9 .2l1 .2l.9 .3l.9 .2l.9 .2l.9 .2l.9 .2l.9 .2l.9 .2l.9 .2l.9 .3l1 .2l.9 .2l.9 .2l.9 .2l.9 .2l.9 .2l.9 .2l.9 .2l.9 .2l1 .1l.9 .2l.9 .2l.9 .2l.9 .2l.9 .2l.9 .3l.9 .2l.9 .2l.9 .2l1 .2l.9 .2l.9 .2l.9 .2l.9 .2l.9 .2l.9 .3l.9 .2l.9 .2l.9 .2l1 .2l.9 .3l.9 .2l.9 .2l.9 .2l.9 .2l.9 .2l.9 .3l.9 .2l.9 .2l1 .2l.9 .2l.9 .2l.9 .2l.9 .2l.9 .2l.9 .2l.9 .2l.9 .2l1 .2l.9 .1l.9 .2l.9 .2l.9 .1l.9 .2l.9 .2l.9 .1l.9 .2l.9 .1l1 .2l.9 .1l.9 .1l.9 .2l.9 .1l.9 .2l.9 .1l.9 .1l.9 .2l.9 .1l1 .2l.9 .1l.9 .1l.9 .2l.9 .1l.9 .1l.9 .1l.9 .2l.9 .1l.9 .1l1 .1l.9 .2l.9 .1l.9 .1l.9 .1l.9 .1l.9 .1l.9 .2l.9 .1l1 .1l.9 .1l.9 .1l.9 .1l.9 .1l.9 .1l.9 .1l.9 .1l.9 .1l.9 .1l1 .1l.9 .1l.9 .1l.9 .1l.9 .1l.9 .1l.9 .1l.9 .1l.9 .1l.9 .1l1 .1l.9 .1l.9 0l.9 .1l.9 .1l.9 .1l.9 .1l.9 .1l.9 0l.9 .1l1 .1l.9 .1l.9 0l.9 .1l.9 .1" fill="none" stroke="#5000af" stroke-width="4.20" stroke-linejoin="round" stroke-linecap="round" />
<path d="M1112.7 829.7l.9 -2.3l.9 -2.3l.9 -2.3l.9 -2.3l1 -2.2l.9 -2.2l.9 -2.3l.9 -2.4l.9 -2.5l.9 -2.6l.9 -2.6l.9 -2.6l.9 -2.6l.9 -2.4l1 -2.3l.9 -2.2l.9 -1.9l.9 -1.7l.9 -1.3l.9 -1.1l.9 -.6l.9 1.1l.9 1.6l.9 1.6l1 1.6l.9 1.6l.9 1.6l.9 1.6l.9 1.6l.9 1.6l.9 -1.3l.9 -1.2l.9 -1.3l.9 -1.2l1 -1.3l.9 -1.2l.9 -.1l.9 1.6l.9 1.6l.9 1.6l.9 1.6l.9 1.6l.9 1.5l1 -.7l.9 -1.2l.9 -1.2l.9 -1.2l.9 -1.2l.9 -.6l.9 .8l.9 .8l.9 .8l.9 .8l1 .8l.9 .8l.9 .5l.9 .3l.9 .4l.9 .3l.9 .4l.9 .3l.9 .3l.9 .4l1 .3l.9 .3l.9 -1.8l.9 -2.1l.9 -2.1l.9 -2.1l.9 -2.1l.9 -2.2l.9 -2.1l.9 -2.1l1 -2.2l.9 -2.1l.9 1.8l.9 1.9l.9 2.1l.9 2.2l.9 2.2l.9 2.4l.9 2.4l1 2.5l.9 2.5l.9 2.5l.9 .7l.9 .9l.9 .8l.9 .9l.9 .9l.9 1l.9 .9l1 1l.9 1l.9 1l.9 1l.9 .7l.9 .6l.9 .7l.9 .7l.9 .6l.9 .7l1 .6l.9 .7l.9 .7l.9 .7l.9 .8l.9 .8l.9 .8l.9 .8l.9 .8l.9 .9l1 .9l.9 1l.9 1.1l.9 1l.9 1.1l.9 1.1l.9 1l.9 1.1l.9 1.1l1 1l.9 1.1l.9 1.1l.9 1.1l.9 1l.9 1.1l.9 1l.9 1.1l.9 1.3l.9 1.4l1 1.3l.9 1.3l.9 1.4l.9 1.3l.9 1.4l.9 1.3l.9 1.4l.9 1.4l.9 1.4l.9 1.4l1 1.4l.9 1.5l.9 1.5l.9 1.5l.9 1.5l.9 1.6l.9 1.6l.9 1.7l.9 1.7l.9 1.7l1 1.4l.9 1.5l.9 1.5l.9 1.5l.9 1.6l.9 1.5l.9 1.5l.9 1.6l.9 1.5l1 1.5l.9 1.5l.9 1.5l.9 1.5l.9 1.5l.9 1.4l.9 1.5l.9 1.5l.9 1.5l.9 1.5l1 1.5l.9 1.6l.9 1.5l.9 1.6l.9 1.7l.9 1.6l.9 1.6l.9 1.7l.9 1.6l.9 1.6l1 1.6l.9 1.6l.9 1.5l.9 1.6l.9 1.6l.9 1.5l.9 1.6l.9 1.6l.9 1.6l.9 1.5l1 1.6l.9 1.6l.9 1.5l.9 1.5l.9 1.4l.9 1.5l.9 1.4l.9 1.3l.9 1.3l1 1.2l.9 1.1l.9 1.1l.9 1l.9 1l.9 .8l.9 .8l.9 .7l.9 .7l.9 .7l1 .6l.9 .7l.9 .6l.9 .7l.9 .6l.9 .6l.9 .6l.9 .5l.9 .6l.9 .6l1 .5l.9 .5l.9 .5l.9 .6l.9 .5l.9 .4l.9 .5l.9 .5l.9 .5l1 .4l.9 .5l.9 .4l.9 .4l.9 .4l.9 .5l.9 .4l.9 .4l.9 .4l.9 .3l1 .4l.9 .4l.9 .4l.9 .4l.9 .3l.9 .4l.9 .3l.9 .4l.9 .3l.9 .4l1 .3l.9 .3l.9 .4l.9 .3l.9 .3l.9 .4l.9 .3l.9 .4l.9 .3l.9 .4l1 .3l.9 .4l.9 .3l.9 .4l.9 .3l.9 .4l.9 .3l.9 .3l.9 .4l1 .3l.9 .4l.9 .3l.9 .3l.9 .3l.9 .3l.9 .3l.9 .3l.9 .3l.9 .3l1 .3l.9 .3l.9 .2l.9 .3l.9 .2l.9 .3l.9 .2l.9 .2l.9 .3l.9 .2l1 .2l.9 .3l.9 .2l.9 .2l.9 .2l.9 .3l.9 .2l.9 .2l.9 .2l.9 .2l1 .2l.9 .2l.9 .2l.9 .2l.9 .2l.9 .2l.9 .2l.9 .3l.9 .2l1 .2l.9 .2l.9 .2l.9 .2l.9 .2l.9 .2l.9 .2l.9 .2l.9 .2l.9 .2l1 .2l.9 .3l.9 .2l.9 .2l.9 .2l.9 .2l.9 .3l.9 .2l.9 .2l.9 .2l1 .2l.9 .3l.9 .2l.9 .2l.9 .2l.9 .3l.9 .2l.9 .2l.9 .2l.9 .2l1 .2l.9 .2l.9 .3l.9 .2l.9 .2l.9 .2l.9 .2l.9 .2l.9 .1l1 .2l.9 .2l.9 .2l.9 .2l.9 .1l.9 .2l.9 .2l.9 .1l.9 .2l.9 .1l1 .2l.9 .1l.9 .2l.9 .1l.9 .1l.9 .2l.9 .1l.9 .2l.9 .1l.9 .2l1 .1l.9 .1l.9 .2l.9 .1l.9 .1l.9 .2l.9 .1l.9 .1l.9 .1l.9 .2l1 .1l.9 .1l.9 .1l.9 .2l.9 .1l.9 .1l.9 .1l.9 .1l.9 .1l1 .1l.9 .2l.9 .1l.9 .1l.9 .1l.9 .1l.9 .1l.9 .1l.9 .1l.9 .1l1 .1l.9 .1l.9 .1l.9 .1l.9 .1l.9 .1l.9 .1l.9 .1l.9 .1l.9 .1l1 .1l.9 0l.9 .1l.9 .1l.9 .1l.9 .1l.9 .1l.9 .1l.9 0l.9 .1l1 .1l.9 .1l.9 0l.9 .1l.9 .1" fill="none" stroke="#4200bd" stroke-width="4.20" stroke-linejoin="round" stroke-linecap="round" />
<path d="M1112.7 822.9l.9 -2.5l.9 -2.4l.9 -2.4l.9 -2.4l1 -2.4l.9 -2.3l.9 -2.4l.9 -2.6l.9 -2.7l.9 -2.8l.9 -2.8l.9 -2.8l.9 -2.7l.9 -2.6l1 -2.4l.9 -2.3l.9 -2l.9 -1.8l.9 -1.5l.9 -1.1l.9 -.7l.9 1.3l.9 1.7l.9 1.6l1 1.7l.9 1.7l.9 1.7l.9 1.7l.9 1.7l.9 1.7l.9 -1.4l.9 -1.3l.9 -1.3l.9 -1.4l1 -1.3l.9 -1.3l.9 -.1l.9 1.7l.9 1.7l.9 1.7l.9 1.7l.9 1.7l.9 1.6l1 -.7l.9 -1.3l.9 -1.3l.9 -1.3l.9 -1.3l.9 -.5l.9 .8l.9 .8l.9 .9l.9 .8l1 .9l.9 .8l.9 .5l.9 .4l.9 .4l.9 .3l.9 .4l.9 .4l.9 .3l.9 .3l1 .4l.9 .3l.9 -1.8l.9 -2.3l.9 -2.2l.9 -2.3l.9 -2.2l.9 -2.3l.9 -2.3l.9 -2.2l1 -2.3l.9 -2.2l.9 1.8l.9 2.1l.9 2.2l.9 2.4l.9 2.4l.9 2.4l.9 2.6l1 2.7l.9 2.7l.9 2.6l.9 .8l.9 .9l.9 .9l.9 .9l.9 1l.9 1l.9 1.1l1 1l.9 1.1l.9 1l.9 1l.9 .8l.9 .7l.9 .7l.9 .7l.9 .7l.9 .7l1 .6l.9 .8l.9 .7l.9 .8l.9 .8l.9 .8l.9 .8l.9 .9l.9 .8l.9 .9l1 1l.9 1.1l.9 1.1l.9 1.1l.9 1.1l.9 1.1l.9 1.1l.9 1.1l.9 1.2l1 1.1l.9 1.1l.9 1.1l.9 1.1l.9 1.1l.9 1.1l.9 1.1l.9 1.1l.9 1.5l.9 1.4l1 1.4l.9 1.4l.9 1.4l.9 1.4l.9 1.4l.9 1.4l.9 1.5l.9 1.4l.9 1.5l.9 1.5l1 1.5l.9 1.5l.9 1.6l.9 1.6l.9 1.6l.9 1.7l.9 1.7l.9 1.7l.9 1.8l.9 1.8l1 1.5l.9 1.6l.9 1.5l.9 1.6l.9 1.6l.9 1.6l.9 1.7l.9 1.6l.9 1.6l1 1.6l.9 1.6l.9 1.5l.9 1.6l.9 1.5l.9 1.5l.9 1.6l.9 1.6l.9 1.5l.9 1.6l1 1.6l.9 1.6l.9 1.6l.9 1.7l.9 1.7l.9 1.7l.9 1.7l.9 1.7l.9 1.7l.9 1.7l1 1.7l.9 1.6l.9 1.7l.9 1.6l.9 1.6l.9 1.6l.9 1.7l.9 1.6l.9 1.7l.9 1.6l1 1.6l.9 1.7l.9 1.6l.9 1.5l.9 1.5l.9 1.5l.9 1.5l.9 1.4l.9 1.3l1 1.3l.9 1.2l.9 1.1l.9 1.1l.9 .9l.9 .9l.9 .8l.9 .7l.9 .8l.9 .7l1 .7l.9 .7l.9 .6l.9 .7l.9 .6l.9 .7l.9 .6l.9 .6l.9 .6l.9 .5l1 .6l.9 .6l.9 .5l.9 .5l.9 .5l.9 .6l.9 .5l.9 .4l.9 .5l1 .5l.9 .5l.9 .4l.9 .5l.9 .4l.9 .4l.9 .5l.9 .4l.9 .4l.9 .4l1 .4l.9 .4l.9 .4l.9 .3l.9 .4l.9 .4l.9 .3l.9 .4l.9 .4l.9 .3l1 .3l.9 .4l.9 .3l.9 .3l.9 .4l.9 .3l.9 .4l.9 .3l.9 .4l.9 .3l1 .4l.9 .3l.9 .4l.9 .3l.9 .4l.9 .3l.9 .4l.9 .3l.9 .4l1 .3l.9 .3l.9 .4l.9 .3l.9 .3l.9 .3l.9 .3l.9 .3l.9 .3l.9 .3l1 .3l.9 .3l.9 .2l.9 .3l.9 .2l.9 .3l.9 .2l.9 .3l.9 .2l.9 .3l1 .2l.9 .2l.9 .2l.9 .3l.9 .2l.9 .2l.9 .2l.9 .2l.9 .3l.9 .2l1 .2l.9 .2l.9 .2l.9 .2l.9 .2l.9 .2l.9 .2l.9 .2l.9 .2l1 .2l.9 .3l.9 .2l.9 .2l.9 .2l.9 .2l.9 .2l.9 .2l.9 .2l.9 .2l1 .2l.9 .3l.9 .2l.9 .2l.9 .2l.9 .2l.9 .3l.9 .2l.9 .2l.9 .2l1 .3l.9 .2l.9 .2l.9 .2l.9 .3l.9 .2l.9 .2l.9 .2l.9 .2l.9 .3l1 .2l.9 .2l.9 .2l.9 .2l.9 .2l.9 .2l.9 .2l.9 .2l.9 .2l1 .2l.9 .2l.9 .1l.9 .2l.9 .2l.9 .2l.9 .1l.9 .2l.9 .1l.9 .2l1 .1l.9 .2l.9 .1l.9 .2l.9 .1l.9 .2l.9 .1l.9 .1l.9 .2l.9 .1l1 .2l.9 .1l.9 .1l.9 .2l.9 .1l.9 .1l.9 .2l.9 .1l.9 .1l.9 .1l1 .2l.9 .1l.9 .1l.9 .1l.9 .2l.9 .1l.9 .1l.9 .1l.9 .1l1 .1l.9 .1l.9 .2l.9 .1l.9 .1l.9 .1l.9 .1l.9 .1l.9 .1l.9 .1l1 .1l.9 .1l.9 .1l.9 .1l.9 .1l.9 .1l.9 .1l.9 .1l.9 .1l.9 .1l1 .1l.9 0l.9 .1l.9 .1l.9 .1l.9 .1l.9 .1l.9 .1l.9 0l.9 .1l1 .1l.9 .1l.9 0l.9 .1l.9 .1" fill="none" stroke="#3700c8" stroke-width="4.20" stroke-linejoin="round" stroke-linecap="round" />
<path d="M1112.7 831l.9 -4.5l.9 -4.3l.9 -4.2l.9 -4l1 -3.9l.9 -3.7l.9 -3.5l.9 -3.3l.9 -3.1l.9 -3.4l.9 -3.3l.9 -3.5l.9 -3.3l.9 -3.3l1 -3.2l.9 -3l.9 -2.8l.9 -2.5l.9 -2.1l.9 -1.8l.9 -1.3l.9 -.9l.9 -.3l.9 .2l1 .7l.9 1l.9 1.3l.9 1.4l.9 1.3l.9 1.2l.9 .8l.9 .5l.9 0l.9 -.4l1 -.5l.9 -.7l.9 -.7l.9 -.5l.9 -.4l.9 -.1l.9 1.7l.9 3.4l.9 4l1 3.7l.9 2.2l.9 0l.9 -.8l.9 -1.4l.9 -1.6l.9 -1.7l.9 -1.5l.9 -1l.9 -.3l1 .2l.9 .3l.9 .4l.9 .6l.9 .5l.9 .7l.9 .6l.9 .6l.9 .7l.9 .9l1 1l.9 .8l.9 .7l.9 .4l.9 0l.9 -1.6l.9 -3.2l.9 -4.1l.9 -4.4l.9 -4.1l1 -3.1l.9 -1.4l.9 .8l.9 2.7l.9 4l.9 4.4l.9 4.2l.9 3.2l.9 2.8l1 2.6l.9 2.5l.9 2.3l.9 2l.9 1.8l.9 1.6l.9 1.4l.9 1.4l.9 1.2l.9 1.2l1 1.3l.9 1.2l.9 1.2l.9 1.2l.9 1.1l.9 1.1l.9 1.1l.9 1.1l.9 1.1l.9 1.2l1 1l.9 1.1l.9 1l.9 1.1l.9 1.2l.9 1.3l.9 1.3l.9 1.7l.9 1.8l.9 2l1 2.1l.9 2l.9 2l.9 1.9l.9 1.7l.9 1.3l.9 1.2l.9 1l.9 .9l1 .8l.9 .9l.9 .8l.9 .8l.9 .8l.9 1l.9 1l.9 1l.9 1.1l.9 1.1l1 1.1l.9 1.1l.9 1.1l.9 1.2l.9 1.1l.9 1.2l.9 1.2l.9 1.2l.9 1.3l.9 1.2l1 1.3l.9 1.3l.9 1.3l.9 1.3l.9 1.3l.9 1.4l.9 1.4l.9 1.4l.9 1.5l.9 1.5l1 1.5l.9 1.5l.9 1.5l.9 1.6l.9 1.6l.9 1.6l.9 1.6l.9 1.6l.9 1.6l1 1.7l.9 1.6l.9 1.6l.9 1.7l.9 1.6l.9 1.8l.9 1.8l.9 1.9l.9 2l.9 2l1 2l.9 2l.9 2.1l.9 2l.9 1.9l.9 1.9l.9 1.8l.9 1.7l.9 1.5l.9 1.5l1 1.3l.9 1.1l.9 1l.9 .8l.9 .7l.9 .7l.9 .6l.9 .5l.9 .6l.9 .5l1 .4l.9 .5l.9 .4l.9 .5l.9 .4l.9 .4l.9 .5l.9 .5l.9 .5l1 .6l.9 .6l.9 .7l.9 .7l.9 .8l.9 .9l.9 .9l.9 .9l.9 1l.9 1l1 1l.9 1.1l.9 1.1l.9 1.1l.9 1.2l.9 1.2l.9 1.2l.9 1.2l.9 1.2l.9 1.2l1 1.2l.9 1.3l.9 1.2l.9 1.2l.9 1.3l.9 1.2l.9 1.2l.9 1.1l.9 1.2l1 1.1l.9 1.1l.9 1.1l.9 1.1l.9 1l.9 1l.9 .9l.9 .9l.9 .8l.9 .8l1 .8l.9 .7l.9 .6l.9 .5l.9 .5l.9 .5l.9 .5l.9 .5l.9 .4l.9 .5l1 .4l.9 .4l.9 .4l.9 .4l.9 .4l.9 .4l.9 .4l.9 .3l.9 .4l.9 .3l1 .4l.9 .3l.9 .3l.9 .3l.9 .3l.9 .3l.9 .3l.9 .3l.9 .3l1 .3l.9 .3l.9 .2l.9 .3l.9 .2l.9 .3l.9 .3l.9 .2l.9 .2l.9 .3l1 .2l.9 .3l.9 .2l.9 .2l.9 .3l.9 .2l.9 .2l.9 .2l.9 .2l.9 .2l1 .2l.9 .3l.9 .2l.9 .1l.9 .2l.9 .2l.9 .2l.9 .2l.9 .2l.9 .2l1 .1l.9 .2l.9 .2l.9 .2l.9 .1l.9 .2l.9 .2l.9 .1l.9 .2l1 .1l.9 .2l.9 .2l.9 .1l.9 .2l.9 .1l.9 .2l.9 .1l.9 .1l.9 .2l1 .1l.9 .2l.9 .1l.9 .1l.9 .2l.9 .1l.9 .1l.9 .1l.9 .2l.9 .1l1 .1l.9 .1l.9 .1l.9 .2l.9 .1l.9 .1l.9 .1l.9 .1l.9 .1l.9 .1l1 .1l.9 .1l.9 .2l.9 .1l.9 .1l.9 .1l.9 .1l.9 .1l.9 .1l1 .1l.9 .1l.9 .2l.9 .1l.9 .1l.9 .1l.9 .1l.9 .2l.9 .1l.9 .1l1 .1l.9 .2l.9 .1l.9 .1l.9 .2l.9 .1l.9 .1l.9 .2l.9 .1l.9 .1l1 .2l.9 .1l.9 .1l.9 .2l.9 .1l.9 .1l.9 .2l.9 .1l.9 .1l.9 .1l1 .2l.9 .1l.9 .1l.9 .2l.9 .1l.9 .1l.9 .1l.9 .2l.9 .1l1 .1l.9 .1l.9 .1l.9 .1l.9 .1l.9 .2l.9 .1l.9 .1l.9 .1l.9 .1l1 .1l.9 .1l.9 .1l.9 .1l.9 .1l.9 .2l.9 .1l.9 .1l.9 .1l.9 .1l1 .1l.9 .1l.9 .1l.9 0l.9 .1l.9 .1l.9 .1l.9 .1l.9 .1l.9 0l1 .1l.9 .1l.9 0l.9 .1l.9 .1" fill="none" stroke="#2900d6" stroke-width="4.20" stroke-linejoin="round" stroke-linecap="round" />
<path d="M1112.7 778.9l.9 -2.5l.9 -3.2l.9 -3.7l.9 -3.8l1 -3.4l.9 -2.6l.9 -1.3l.9 .3l.9 1.2l.9 1.9l.9 2.3l.9 2.4l.9 2.2l.9 1.9l1 1.1l.9 .2l.9 -.7l.9 -1.2l.9 -1.5l.9 -1.6l.9 -1.5l.9 -1.2l.9 -1.4l.9 -1.4l1 -1.3l.9 -1.1l.9 -.7l.9 -.6l.9 -.5l.9 -.3l.9 -.4l.9 -.3l.9 -.5l.9 -.5l1 -.9l.9 -1.3l.9 -1.6l.9 -1.7l.9 -1.7l.9 -1.5l.9 -1.2l.9 -.6l.9 -.6l1 -.5l.9 -.4l.9 -.4l.9 -.2l.9 -.2l.9 -.1l.9 .5l.9 1.5l.9 2l.9 1.9l1 1.4l.9 .3l.9 -.2l.9 -.4l.9 -.5l.9 -.3l.9 -.3l.9 .2l.9 .7l.9 1.2l1 1.3l.9 1.3l.9 1.2l.9 .7l.9 .1l.9 -1.1l.9 -2.1l.9 -2.7l.9 -2.6l.9 -2.1l1 -1.1l.9 .5l.9 2.2l.9 3.1l.9 3.4l.9 2.9l.9 2.4l.9 2.4l.9 2.4l1 2.4l.9 2.4l.9 2.7l.9 3.2l.9 3.3l.9 3.2l.9 2.5l.9 1.5l.9 .8l.9 .5l1 .5l.9 .4l.9 .3l.9 .4l.9 .4l.9 .4l.9 .4l.9 .4l.9 .4l.9 .4l1 .4l.9 .6l.9 .6l.9 1l.9 1.4l.9 1.8l.9 2l.9 2.2l.9 2.3l.9 2.3l1 2.1l.9 2l.9 1.7l.9 1.4l.9 1l.9 .9l.9 .7l.9 .7l.9 .7l1 .6l.9 .6l.9 .7l.9 .7l.9 .8l.9 .9l.9 1l.9 1.2l.9 1.3l.9 1.4l1 1.5l.9 1.6l.9 1.6l.9 1.6l.9 1.7l.9 1.6l.9 1.7l.9 1.9l.9 1.8l.9 1.9l1 2l.9 1.9l.9 1.8l.9 1.8l.9 1.6l.9 1.6l.9 1.4l.9 1.4l.9 1.4l.9 1.3l1 1.4l.9 1.4l.9 1.5l.9 1.7l.9 1.8l.9 2l.9 2.1l.9 2.2l.9 2.3l1 2.3l.9 2.3l.9 2.3l.9 2.3l.9 2.1l.9 2.2l.9 2.1l.9 2.1l.9 2.1l.9 2.1l1 2.1l.9 2.1l.9 2.1l.9 2.1l.9 2.2l.9 2.2l.9 2.5l.9 2.7l.9 2.7l.9 2.6l1 2.3l.9 1.9l.9 1.4l.9 .9l.9 .8l.9 .7l.9 .6l.9 .6l.9 .4l.9 .5l1 .4l.9 .3l.9 .4l.9 .4l.9 .4l.9 .4l.9 .4l.9 .5l.9 .6l1 .6l.9 .7l.9 .9l.9 1.2l.9 1.5l.9 1.9l.9 2.1l.9 2.3l.9 2.6l.9 2.7l1 2.7l.9 2.8l.9 2.9l.9 2.8l.9 2.7l.9 2.6l.9 2.4l.9 2.2l.9 2l.9 1.7l1 1.3l.9 .9l.9 .5l.9 .2l.9 .1l.9 .1l.9 .1l.9 .1l.9 .1l1 .1l.9 0l.9 .1l.9 .1l.9 0l.9 .1l.9 0l.9 .1l.9 0l.9 .1l1 .1l.9 .1l.9 .1l.9 .1l.9 .1l.9 .2l.9 .2l.9 .2l.9 .2l.9 .3l1 .3l.9 .3l.9 .4l.9 .3l.9 .4l.9 .4l.9 .4l.9 .4l.9 .4l.9 .5l1 .4l.9 .5l.9 .4l.9 .5l.9 .4l.9 .5l.9 .4l.9 .5l.9 .4l1 .5l.9 .4l.9 .4l.9 .4l.9 .4l.9 .4l.9 .4l.9 .3l.9 .3l.9 .3l1 .3l.9 .3l.9 .2l.9 .2l.9 .3l.9 .2l.9 .2l.9 .3l.9 .2l.9 .2l1 .2l.9 .2l.9 .2l.9 .2l.9 .2l.9 .2l.9 .2l.9 .2l.9 .1l.9 .2l1 .2l.9 .2l.9 .2l.9 .1l.9 .2l.9 .2l.9 .1l.9 .2l.9 .1l1 .2l.9 .1l.9 .2l.9 .1l.9 .2l.9 .1l.9 .2l.9 .1l.9 .1l.9 .2l1 .1l.9 .1l.9 .2l.9 .1l.9 .1l.9 .1l.9 .2l.9 .1l.9 .1l.9 .1l1 .1l.9 .1l.9 .1l.9 .1l.9 .1l.9 .1l.9 .1l.9 .1l.9 .1l.9 .1l1 .1l.9 .1l.9 .1l.9 .1l.9 .1l.9 .1l.9 .1l.9 .2l.9 .1l1 .1l.9 .1l.9 .1l.9 .1l.9 .1l.9 .1l.9 .1l.9 .1l.9 .1l.9 .2l1 .1l.9 .1l.9 .1l.9 .1l.9 .1l.9 .2l.9 .1l.9 .1l.9 .1l.9 .2l1 .1l.9 .1l.9 .1l.9 .1l.9 .2l.9 .1l.9 .1l.9 .1l.9 .2l.9 .1l1 .1l.9 .1l.9 .1l.9 .2l.9 .1l.9 .1l.9 .1l.9 .1l.9 .1l1 .1l.9 .2l.9 .1l.9 .1l.9 .1l.9 .1l.9 .1l.9 .1l.9 .1l.9 .1l1 .1l.9 .1l.9 .1l.9 .2l.9 .1l.9 .1l.9 .1l.9 .1l.9 .1l.9 .1l1 .1l.9 .1l.9 .1l.9 .1l.9 .1l.9 .1l.9 0l.9 .1l.9 .1l.9 .1l1 0l.9 .1l.9 .1l.9 0l.9 .1" fill="none" stroke="#1700e8" stroke-width="4.20" stroke-linejoin="round" stroke-linecap="round" />
<path d="M1112.7 797.6l.9 -2.7l.9 -3.8l.9 -4.9l.9 -5.1l1 -5.1l.9 -5.7l.9 -5.5l.9 -4.2l.9 -2.1l.9 -1.4l.9 -2.1l.9 -8.7l.9 -14.4l.9 -12.5l1 -3l.9 6.1l.9 10.3l.9 10.7l.9 7.2l.9 1.6l.9 1l.9 .7l.9 .6l.9 .3l1 .1l.9 0l.9 -.1l.9 -.2l.9 -.2l.9 -.3l.9 -.4l.9 -.3l.9 -.6l.9 -1l1 -1.5l.9 -2l.9 -2.5l.9 -2.9l.9 -5.7l.9 -9.2l.9 -10.9l.9 -10.7l.9 -9.1l1 -9.5l.9 -8.9l.9 -6l.9 -2.3l.9 -1.4l.9 -.7l.9 5.2l.9 11.3l.9 5.5l.9 -2l1 -3.9l.9 -3.4l.9 -.1l.9 7.4l.9 9.4l.9 5.5l.9 4.3l.9 3.5l.9 2.7l.9 2.1l1 1.7l.9 1.5l.9 1.4l.9 1.2l.9 1.3l.9 1l.9 1l.9 1l.9 1.2l.9 1.5l1 1.9l.9 2.2l.9 2.5l.9 2.5l.9 2.9l.9 3.4l.9 3.6l.9 3.4l.9 2.6l1 1.6l.9 1.1l.9 .8l.9 .8l.9 .7l.9 1l.9 1.2l.9 1.6l.9 1.6l.9 1.7l1 1.5l.9 1.3l.9 1l.9 .8l.9 .8l.9 .9l.9 .9l.9 1.2l.9 1.5l.9 1.6l1 1.7l.9 1.6l.9 1.4l.9 1.2l.9 1.1l.9 1l.9 1l.9 1l.9 1.2l.9 1.3l1 1.6l.9 2.2l.9 2.6l.9 2.8l.9 2.7l.9 2.5l.9 2l.9 1.3l.9 .9l1 .7l.9 .6l.9 .5l.9 .6l.9 .6l.9 .7l.9 1l.9 1.3l.9 1.4l.9 1.5l1 1.6l.9 1.4l.9 1.4l.9 1.1l.9 1l.9 .8l.9 .7l.9 .7l.9 .9l.9 1l1 1.2l.9 2l.9 3.1l.9 3.6l.9 3.7l.9 3.1l.9 2.1l.9 1.4l.9 1.1l.9 .9l1 .9l.9 .9l.9 1.1l.9 1.4l.9 1.9l.9 2.5l.9 2.9l.9 3.1l.9 3l1 2.8l.9 2.8l.9 2.7l.9 2.8l.9 2.8l.9 2.7l.9 2.7l.9 2.7l.9 2.6l.9 2.6l1 2.6l.9 2.5l.9 2.5l.9 2.5l.9 2.4l.9 2.2l.9 2.3l.9 2.4l.9 2.3l.9 2.2l1 2l.9 1.7l.9 1.4l.9 1.3l.9 1.3l.9 1.1l.9 .9l.9 .5l.9 .1l.9 -.7l1 -1.2l.9 -1.6l.9 -1.8l.9 -1.8l.9 -1.5l.9 -1.1l.9 -.4l.9 .7l.9 2.1l1 2.7l.9 2.9l.9 2.5l.9 2.3l.9 2.4l.9 2.5l.9 2.5l.9 2.5l.9 2.5l.9 2.4l1 2.5l.9 2.3l.9 2.3l.9 2.1l.9 2.1l.9 2.4l.9 2.4l.9 2.4l.9 2.3l.9 2l1 1.6l.9 1.1l.9 .5l.9 -.1l.9 -.5l.9 -.8l.9 -1l.9 -1.1l.9 -1.1l1 -.9l.9 -.7l.9 -.4l.9 .2l.9 1l.9 1.7l.9 1.9l.9 2l.9 1.8l.9 1.1l1 .2l.9 -.5l.9 -1l.9 -1.2l.9 -1.4l.9 -1.2l.9 -.9l.9 -.4l.9 .2l.9 .8l1 1.1l.9 1.4l.9 1.6l.9 1.6l.9 1.7l.9 1.6l.9 1.4l.9 1.2l.9 .7l.9 .5l1 .5l.9 .4l.9 .5l.9 .3l.9 .4l.9 .4l.9 .3l.9 .3l.9 .3l1 .3l.9 .2l.9 .3l.9 .2l.9 .2l.9 .3l.9 .2l.9 .2l.9 .2l.9 .2l1 .3l.9 .2l.9 .2l.9 .3l.9 .2l.9 .2l.9 .2l.9 .3l.9 .2l.9 .2l1 .2l.9 .2l.9 .2l.9 .2l.9 .2l.9 .2l.9 .2l.9 .2l.9 .2l.9 .2l1 .2l.9 .1l.9 .2l.9 .2l.9 .2l.9 .1l.9 .2l.9 .2l.9 .1l1 .2l.9 .1l.9 .2l.9 .1l.9 .2l.9 .1l.9 .1l.9 .2l.9 .1l.9 .1l1 .1l.9 .1l.9 .2l.9 .1l.9 .1l.9 .1l.9 .1l.9 .1l.9 0l.9 .1l1 .1l.9 .1l.9 .1l.9 .1l.9 .1l.9 0l.9 .1l.9 .1l.9 .1l.9 .1l1 0l.9 .1l.9 .1l.9 .1l.9 .1l.9 0l.9 .1l.9 .1l.9 .1l1 .1l.9 .1l.9 .1l.9 .1l.9 .1l.9 .1l.9 .1l.9 .1l.9 .1l.9 .1l1 .1l.9 .2l.9 .1l.9 .1l.9 .1l.9 .2l.9 .1l.9 .1l.9 .2l.9 .1l1 .2l.9 .1l.9 .1l.9 .2l.9 .1l.9 .2l.9 .1l.9 .2l.9 .1l.9 .2l1 .1l.9 .2l.9 .1l.9 .1l.9 .2l.9 .1l.9 .2l.9 .1l.9 .2l1 .1l.9 .1l.9 .2l.9 .1l.9 .1l.9 .1l.9 .2l.9 .1l.9 .2l.9 .1l1 .1l.9 .2l.9 .1l.9 .2l.9 .1l.9 .2l.9 .1l.9 .1l.9 .2l.9 .1l1 .1l.9 .2l.9 .1l.9 .1l.9 .1l.9 .1l.9 .1l.9 .1l.9 .1l.9 .1l1 .1l.9 0l.9 .1l.9 0l.9 .1" fill="none" stroke="#0000ff" stroke-width="6.00" stroke-linejoin="round" stroke-linecap="round" />
</g>
<rect x="1114.7" y="608.4" width="377.4" height="408.9" fill="none" stroke="#262626" stroke-width="2.00"/>
<line x1="1134.7" y1="1017.3" x2="1134.7" y2="1013.5" stroke="#262626" stroke-width="2.0"/>
<line x1="1134.7" y1="608.4" x2="1134.7" y2="612.2" stroke="#262626" stroke-width="2.0"/>
<line x1="1219.0" y1="1017.3" x2="1219.0" y2="1013.5" stroke="#262626" stroke-width="2.0"/>
<line x1="1219.0" y1="608.4" x2="1219.0" y2="612.2" stroke="#262626" stroke-width="2.0"/>
<line x1="1303.3" y1="1017.3" x2="1303.3" y2="1013.5" stroke="#262626" stroke-width="2.0"/>
<line x1="1303.3" y1="608.4" x2="1303.3" y2="612.2" stroke="#262626" stroke-width="2.0"/>
<line x1="1387.6" y1="1017.3" x2="1387.6" y2="1013.5" stroke="#262626" stroke-width="2.0"/>
<line x1="1387.6" y1="608.4" x2="1387.6" y2="612.2" stroke="#262626" stroke-width="2.0"/>
<line x1="1471.9" y1="1017.3" x2="1471.9" y2="1013.5" stroke="#262626" stroke-width="2.0"/>
<line x1="1471.9" y1="608.4" x2="1471.9" y2="612.2" stroke="#262626" stroke-width="2.0"/>
<line x1="1114.7" y1="937.3" x2="1118.5" y2="937.3" stroke="#262626" stroke-width="2.0"/>
<line x1="1492.1" y1="937.3" x2="1488.3" y2="937.3" stroke="#262626" stroke-width="2.0"/>
<line x1="1114.7" y1="840.6" x2="1118.5" y2="840.6" stroke="#262626" stroke-width="2.0"/>
<line x1="1492.1" y1="840.6" x2="1488.3" y2="840.6" stroke="#262626" stroke-width="2.0"/>
<line x1="1114.7" y1="743.9" x2="1118.5" y2="743.9" stroke="#262626" stroke-width="2.0"/>
<line x1="1492.1" y1="743.9" x2="1488.3" y2="743.9" stroke="#262626" stroke-width="2.0"/>
<line x1="1114.7" y1="647.2" x2="1118.5" y2="647.2" stroke="#262626" stroke-width="2.0"/>
<line x1="1492.1" y1="647.2" x2="1488.3" y2="647.2" stroke="#262626" stroke-width="2.0"/>
<line x1="1114.7" y1="1004.9" x2="1117.1" y2="1004.9" stroke="#262626" stroke-width="1.8"/>
<line x1="1492.1" y1="1004.9" x2="1489.7" y2="1004.9" stroke="#262626" stroke-width="1.8"/>
<line x1="1114.7" y1="987.9" x2="1117.1" y2="987.9" stroke="#262626" stroke-width="1.8"/>
<line x1="1492.1" y1="987.9" x2="1489.7" y2="987.9" stroke="#262626" stroke-width="1.8"/>
<line x1="1114.7" y1="975.8" x2="1117.1" y2="975.8" stroke="#262626" stroke-width="1.8"/>
<line x1="1492.1" y1="975.8" x2="1489.7" y2="975.8" stroke="#262626" stroke-width="1.8"/>
<line x1="1114.7" y1="966.4" x2="1117.1" y2="966.4" stroke="#262626" stroke-width="1.8"/>
<line x1="1492.1" y1="966.4" x2="1489.7" y2="966.4" stroke="#262626" stroke-width="1.8"/>
<line x1="1114.7" y1="958.8" x2="1117.1" y2="958.8" stroke="#262626" stroke-width="1.8"/>
<line x1="1492.1" y1="958.8" x2="1489.7" y2="958.8" stroke="#262626" stroke-width="1.8"/>
<line x1="1114.7" y1="952.3" x2="1117.1" y2="952.3" stroke="#262626" stroke-width="1.8"/>
<line x1="1492.1" y1="952.3" x2="1489.7" y2="952.3" stroke="#262626" stroke-width="1.8"/>
<line x1="1114.7" y1="946.7" x2="1117.1" y2="946.7" stroke="#262626" stroke-width="1.8"/>
<line x1="1492.1" y1="946.7" x2="1489.7" y2="946.7" stroke="#262626" stroke-width="1.8"/>
<line x1="1114.7" y1="941.7" x2="1117.1" y2="941.7" stroke="#262626" stroke-width="1.8"/>
<line x1="1492.1" y1="941.7" x2="1489.7" y2="941.7" stroke="#262626" stroke-width="1.8"/>
<line x1="1114.7" y1="908.2" x2="1117.1" y2="908.2" stroke="#262626" stroke-width="1.8"/>
<line x1="1492.1" y1="908.2" x2="1489.7" y2="908.2" stroke="#262626" stroke-width="1.8"/>
<line x1="1114.7" y1="891.2" x2="1117.1" y2="891.2" stroke="#262626" stroke-width="1.8"/>
<line x1="1492.1" y1="891.2" x2="1489.7" y2="891.2" stroke="#262626" stroke-width="1.8"/>
<line x1="1114.7" y1="879.1" x2="1117.1" y2="879.1" stroke="#262626" stroke-width="1.8"/>
<line x1="1492.1" y1="879.1" x2="1489.7" y2="879.1" stroke="#262626" stroke-width="1.8"/>
<line x1="1114.7" y1="869.7" x2="1117.1" y2="869.7" stroke="#262626" stroke-width="1.8"/>
<line x1="1492.1" y1="869.7" x2="1489.7" y2="869.7" stroke="#262626" stroke-width="1.8"/>
<line x1="1114.7" y1="862.1" x2="1117.1" y2="862.1" stroke="#262626" stroke-width="1.8"/>
<line x1="1492.1" y1="862.1" x2="1489.7" y2="862.1" stroke="#262626" stroke-width="1.8"/>
<line x1="1114.7" y1="855.6" x2="1117.1" y2="855.6" stroke="#262626" stroke-width="1.8"/>
<line x1="1492.1" y1="855.6" x2="1489.7" y2="855.6" stroke="#262626" stroke-width="1.8"/>
<line x1="1114.7" y1="850.0" x2="1117.1" y2="850.0" stroke="#262626" stroke-width="1.8"/>
<line x1="1492.1" y1="850.0" x2="1489.7" y2="850.0" stroke="#262626" stroke-width="1.8"/>
<line x1="1114.7" y1="845.0" x2="1117.1" y2="845.0" stroke="#262626" stroke-width="1.8"/>
<line x1="1492.1" y1="845.0" x2="1489.7" y2="845.0" stroke="#262626" stroke-width="1.8"/>
<line x1="1114.7" y1="811.5" x2="1117.1" y2="811.5" stroke="#262626" stroke-width="1.8"/>
<line x1="1492.1" y1="811.5" x2="1489.7" y2="811.5" stroke="#262626" stroke-width="1.8"/>
<line x1="1114.7" y1="794.5" x2="1117.1" y2="794.5" stroke="#262626" stroke-width="1.8"/>
<line x1="1492.1" y1="794.5" x2="1489.7" y2="794.5" stroke="#262626" stroke-width="1.8"/>
<line x1="1114.7" y1="782.4" x2="1117.1" y2="782.4" stroke="#262626" stroke-width="1.8"/>
<line x1="1492.1" y1="782.4" x2="1489.7" y2="782.4" stroke="#262626" stroke-width="1.8"/>
<line x1="1114.7" y1="773.0" x2="1117.1" y2="773.0" stroke="#262626" stroke-width="1.8"/>
<line x1="1492.1" y1="773.0" x2="1489.7" y2="773.0" stroke="#262626" stroke-width="1.8"/>
<line x1="1114.7" y1="765.4" x2="1117.1" y2="765.4" stroke="#262626" stroke-width="1.8"/>
<line x1="1492.1" y1="765.4" x2="1489.7" y2="765.4" stroke="#262626" stroke-width="1.8"/>
<line x1="1114.7" y1="758.9" x2="1117.1" y2="758.9" stroke="#262626" stroke-width="1.8"/>
<line x1="1492.1" y1="758.9" x2="1489.7" y2="758.9" stroke="#262626" stroke-width="1.8"/>
<line x1="1114.7" y1="753.3" x2="1117.1" y2="753.3" stroke="#262626" stroke-width="1.8"/>
<line x1="1492.1" y1="753.3" x2="1489.7" y2="753.3" stroke="#262626" stroke-width="1.8"/>
<line x1="1114.7" y1="748.3" x2="1117.1" y2="748.3" stroke="#262626" stroke-width="1.8"/>
<line x1="1492.1" y1="748.3" x2="1489.7" y2="748.3" stroke="#262626" stroke-width="1.8"/>
<line x1="1114.7" y1="714.8" x2="1117.1" y2="714.8" stroke="#262626" stroke-width="1.8"/>
<line x1="1492.1" y1="714.8" x2="1489.7" y2="714.8" stroke="#262626" stroke-width="1.8"/>
<line x1="1114.7" y1="697.8" x2="1117.1" y2="697.8" stroke="#262626" stroke-width="1.8"/>
<line x1="1492.1" y1="697.8" x2="1489.7" y2="697.8" stroke="#262626" stroke-width="1.8"/>
<line x1="1114.7" y1="685.7" x2="1117.1" y2="685.7" stroke="#262626" stroke-width="1.8"/>
<line x1="1492.1" y1="685.7" x2="1489.7" y2="685.7" stroke="#262626" stroke-width="1.8"/>
<line x1="1114.7" y1="676.3" x2="1117.1" y2="676.3" stroke="#262626" stroke-width="1.8"/>
<line x1="1492.1" y1="676.3" x2="1489.7" y2="676.3" stroke="#262626" stroke-width="1.8"/>
<line x1="1114.7" y1="668.7" x2="1117.1" y2="668.7" stroke="#262626" stroke-width="1.8"/>
<line x1="1492.1" y1="668.7" x2="1489.7" y2="668.7" stroke="#262626" stroke-width="1.8"/>
<line x1="1114.7" y1="662.2" x2="1117.1" y2="662.2" stroke="#262626" stroke-width="1.8"/>
<line x1="1492.1" y1="662.2" x2="1489.7" y2="662.2" stroke="#262626" stroke-width="1.8"/>
<line x1="1114.7" y1="656.6" x2="1117.1" y2="656.6" stroke="#262626" stroke-width="1.8"/>
<line x1="1492.1" y1="656.6" x2="1489.7" y2="656.6" stroke="#262626" stroke-width="1.8"/>
<line x1="1114.7" y1="651.6" x2="1117.1" y2="651.6" stroke="#262626" stroke-width="1.8"/>
<line x1="1492.1" y1="651.6" x2="1489.7" y2="651.6" stroke="#262626" stroke-width="1.8"/>
<line x1="1114.7" y1="618.1" x2="1117.1" y2="618.1" stroke="#262626" stroke-width="1.8"/>
<line x1="1492.1" y1="618.1" x2="1489.7" y2="618.1" stroke="#262626" stroke-width="1.8"/>
<text transform="translate(1108.2,957.3) scale(1,1.050)" font-size="33.5" text-anchor="end" fill="#262626">10<tspan font-size="21.8" dy="-10.2">1</tspan></text>
<text transform="translate(1108.2,860.6) scale(1,1.050)" font-size="33.5" text-anchor="end" fill="#262626">10<tspan font-size="21.8" dy="-10.2">2</tspan></text>
<text transform="translate(1108.2,763.9) scale(1,1.050)" font-size="33.5" text-anchor="end" fill="#262626">10<tspan font-size="21.8" dy="-10.2">3</tspan></text>
<text transform="translate(1108.2,667.2) scale(1,1.050)" font-size="33.5" text-anchor="end" fill="#262626">10<tspan font-size="21.8" dy="-10.2">4</tspan></text>
<text transform="translate(1139.2,1056.0) scale(1,1.050)" font-size="33.5" text-anchor="middle" fill="#262626" font-weight="normal" font-style="normal" >-6</text>
<text transform="translate(1223.5,1056.0) scale(1,1.050)" font-size="33.5" text-anchor="middle" fill="#262626" font-weight="normal" font-style="normal" >-3</text>
<text transform="translate(1305.3,1056.0) scale(1,1.050)" font-size="33.5" text-anchor="middle" fill="#262626" font-weight="normal" font-style="normal" >0</text>
<text transform="translate(1389.6,1056.0) scale(1,1.050)" font-size="33.5" text-anchor="middle" fill="#262626" font-weight="normal" font-style="normal" >3</text>
<text transform="translate(1473.9,1056.0) scale(1,1.050)" font-size="33.5" text-anchor="middle" fill="#262626" font-weight="normal" font-style="normal" >6</text>
<text transform="translate(1310.0,1096.3) scale(1,1.050)" font-size="32.5" text-anchor="middle" fill="#262626"><tspan font-style="italic">V</tspan><tspan font-size="22.5" dy="8.2">bg</tspan><tspan dy="-8.2"> (V)</tspan></text>
<text transform="translate(1042,815) rotate(-90) scale(1,1.050)" font-size="34" text-anchor="middle" fill="#262626" font-style="italic">&#946;</text>
<text transform="translate(1308,655.5) scale(1,1.050)" font-size="34" text-anchor="middle" fill="#000"><tspan font-style="italic">R</tspan><tspan font-size="22.5" dy="8.2">hard</tspan><tspan dy="-8.2">/</tspan><tspan font-style="italic">R</tspan><tspan font-size="22.5" dy="8.2">easy</tspan></text>
<text transform="translate(1470.0,652.5) scale(1,1.050)" font-size="38.0" text-anchor="end" fill="#000" font-weight="bold" font-style="normal" >e</text>
<path d="M1149.5 617.0 h12 v17 h4.5 l-10.5 25 l-10.5 -25 h4.5 z" fill="#d95319"/>
<path d="M1427.0 952.0 h12 v17 h4.5 l-10.5 25 l-10.5 -25 h4.5 z" fill="#0072bd"/>
<defs><linearGradient id="tbar" x1="0" x2="0" y1="0" y2="1"><stop offset="0" stop-color="#ff0000"/><stop offset="0.5" stop-color="#800080"/><stop offset="1" stop-color="#0000ff"/></linearGradient></defs>
<rect x="1326" y="736" width="23" height="132" fill="url(#tbar)"/>
<text transform="translate(1359.0,743.0) scale(1,1.050)" font-size="29.5" text-anchor="start" fill="#000" font-weight="normal" font-style="normal" >2 K</text>
<text transform="translate(1359.0,811.0) scale(1,1.050)" font-size="29.5" text-anchor="start" fill="#000" font-weight="normal" font-style="normal" >320 mK</text>
<text transform="translate(1359.0,876.0) scale(1,1.050)" font-size="29.5" text-anchor="start" fill="#000" font-weight="normal" font-style="normal" >50 mK</text>
<clipPath id="clg"><rect x="103.1" y="1128.4" width="377.7" height="549.2"/></clipPath>
<g clip-path="url(#clg)">
<path d="M98.1 1647.2l.9 .3l1 -.2l1 .4l1 -.3l.9 0l1 -.1l1 .2l.9 .1l1 .3l1 .1l.9 0l1 -.5l1 -.1l.9 -.1l1 -.1l1 .1l.9 .6l1 -.1l1 0l.9 .1l1 -.4l1 -.4l.9 0l1 -.1l1 -.3l.9 .3l1 -.1l1 0l.9 0l1 .3l1 .2l.9 .2l1 0l1 0l.9 -.1l1 .1l1 -.5l.9 0l1 0l1 .2l1 -.5l.9 .5l1 .2l1 -.2l.9 -.5l1 .1l1 -.3l.9 0l1 -.1l1 .7l.9 .1l1 0l1 -.2l.9 0l1 -.3l1 .2l.9 .1l1 .3l1 0l.9 0l1 .1l1 -.2l.9 .1l1 .3l1 -.4l.9 -.6l1 0l1 0l.9 -.3l1 .3l1 .4l.9 .2l1 -.2l1 0l1 .3l.9 -.3l1 .3l1 -.1l.9 -.1l1 -.1l1 .2l.9 -.7l1 .1l1 -.1l.9 -.3l1 .1l1 .2l.9 0l1 .2l1 .5l.9 -.2l1 -.1l1 -.3l.9 -.1l1 -.3l1 0l.9 .4l1 .2l1 .2l.9 0l1 0l1 -.1l.9 .1l1 .1l1 -.2l.9 -.3l1 -.2l1 -.1l.9 -.6l1 0l1 .4l1 0l.9 -.2l1 .7l1 .3l.9 -.1l1 .3l1 .4l.9 -.5l1 .2l1 -.1l.9 -.3l1 -.4l1 .2l.9 -.8l1 .2l1 .2l.9 .3l1 -.1l1 .5l.9 -.2l1 0l1 -.1l.9 0l1 -.2l1 .1l.9 -.2l1 -.1l1 -.1l.9 0l1 0l1 -.2l.9 0l1 -.1l1 -.1l.9 .1l1 .2l1 0l1 .1l.9 -.2l1 -.6l1 0l.9 -.2l1 -.2l1 0l.9 .6l1 -.2l1 .3l.9 .1l1 0l1 -.4l.9 .3l1 0l1 .2l.9 .5l1 .3l1 0l.9 -.1l1 -.1l1 -.4l.9 -.3l1 .3l1 -.3l.9 0l1 .2l1 .1l.9 -.5l1 .3l1 -.1l.9 -.3l1 -.1l1 .1l1 -.1l.9 .2l1 0l.3 .1l.5 0l.2 .2l.3 -.2l.5 .3l.1 -.3l.3 0l.5 -.2l.2 0l.3 .1l.4 .3l.3 .1l.2 .1l.5 -.3l.2 -.5l.3 -.4l.4 0l.3 -.3l.2 0l.5 .5l.3 0l.1 -.2l.5 .7l.3 .3l.2 -.1l.5 .2l.3 .2l.1 -.1l.5 -.3l.4 -.2l.1 -.2l.5 0l.3 0l.1 0l.5 .1l.4 .1l.1 .2l.4 -.1l.5 .4l0 .5l0 -.1l.5 -.1l.4 0l.1 -.1l.4 -.5l.5 0l.5 -.1l.4 -.4l.1 0l.4 -.3l.5 .2l0 -.2l.5 .6l.4 .4l.1 .5l.4 -.1l.5 .1l.1 -.1l.3 -.3l.5 -.1l.1 -.1l.4 .3l.5 -.3l.1 -.1l.3 -.4l.5 0l.2 -.1l.3 .1l.5 -.1l.1 .5l.3 .1l.5 .1l.2 -.4l.3 .2l.4 0l.3 -.3l.2 -.4l.5 .6l.2 -.3l.3 -.2l.4 .3l.3 .2l.2 -.1l.5 .1l.3 .2l.1 0l.5 .2l.3 -.5l.2 .3l.5 -.1l.3 -.3l1 .2l.9 0l1 .3l1 -.1l1 .4l.9 -.2l1 0l1 -.3l.9 .2l1 -.2l1 .2l.9 .1l1 .1l1 .1l.9 -.1l1 -.4l1 0l.9 .1l1 0l1 -.1l.9 -.1l1 .4l1 -.4l.9 -.1l1 .1l1 -.1l.9 -.2l1 .3l1 .2l.9 .6l1 .3l1 .1l.9 .3l1 -.4l1 -.5l.9 .3l1 -.2l1 -.2l1 0l.9 .2l1 -.4l1 .2l.9 .3l1 0l1 -.3l.9 .2l1 -.4l1 -.3l.9 .3l1 .6l1 .1l.9 .1l1 .3l1 -.7l.9 -.5l1 .2l1 .4l.9 -.4l1 .1l1 .3l.9 -.3l1 -.2l1 .3l.9 .2l1 -.5l1 .2l.9 0l1 -.2l1 -.2l.9 .4l1 -.2l1 .2l.9 .1l1 .5l1 -.1l1 0l.9 -.4l1 -.2l1 0l.9 .6l1 -.1l1 .2l.9 .2l1 0l1 -.7l.9 .3l1 -.1l1 -.1l.9 .1l1 .4l1 0l.9 .2l1 .1l1 .1l.9 -.2l1 -.1l1 .1l.9 .1l1 -.3l1 -.3l.9 .2l1 0l1 0l.9 .2l1 .1l1 -.2l.9 -.2l1 -.3l1 -.1l1 0l.9 .3l1 -.1l1 .2l.9 0l1 .4l1 -.2l.9 .2l1 .2l1 .1l.9 -.4l1 .3l1 .2l.9 .1l1 .2l1 .3l.9 -.3l1 -.3l1 -.2l.9 -.2l1 0l1 0l.9 .1l1 -.3l1 .1l.9 .1l1 0l1 .2l.9 .4l1 -.3l1 -.3l.9 -.1l1 .1l1 -.2l.9 .1l1 -.2l1 .2l1 -.1l.9 -.1l1 0l1 .5l.9 -.2l1 -.2l1 .2l.9 -.1l1 -.2l1 .2l.9 0l1 -.1l1 .1l.9 .2l1 -.2l1 -.1l.9 .2l1 .1l1 .2l.9 0l1 .4l1 0l.9 -.2l1 -.1l1 .3l.9 .1l1 -.3l1 .1l.9 -.1l1 -.2l1 -.1l.9 .3l1 -.3l1 0l.9 .1l1 -.4l1 0l1 .1l.9 .1" fill="none" stroke="#ff0000" stroke-width="5.00" stroke-linejoin="round" stroke-linecap="round" />
<path d="M98.1 1633.9l.9 -.2l1 -.4l1 -.3l1 .2l.9 -.3l1 .1l1 .1l.9 .2l1 -.3l1 -.3l.9 0l1 0l1 .2l.9 0l1 0l1 -.3l.9 .2l1 -.5l1 .2l.9 .3l1 .2l1 -.2l.9 -.2l1 -.2l1 -.6l.9 0l1 -.2l1 .3l.9 .2l1 .3l1 -.2l.9 -.1l1 -.2l1 -.2l.9 .3l1 -.1l1 .1l.9 .2l1 .1l1 -.3l1 0l.9 -.4l1 0l1 0l.9 -.2l1 .2l1 .2l.9 -.3l1 -.2l1 .1l.9 -.3l1 0l1 .3l.9 -.2l1 0l1 0l.9 -.4l1 -.1l1 0l.9 -.3l1 .1l1 .3l.9 0l1 .3l1 .1l.9 -.4l1 -.1l1 .1l.9 -.3l1 -.2l1 .2l.9 .1l1 -.1l1 .1l1 -.1l.9 0l1 -.2l1 -.1l.9 -.6l1 .1l1 -.3l.9 .3l1 .2l1 .6l.9 .1l1 .1l1 -.1l.9 -.4l1 -.2l1 -.4l.9 -.1l1 -.1l1 .3l.9 -.2l1 .5l1 .6l.9 -.4l1 -.4l1 -.2l.9 -.5l1 -.7l1 .2l.9 .1l1 .3l1 0l.9 0l1 0l1 -.3l.9 -.1l1 -.1l1 0l1 -.3l.9 0l1 .2l1 -.1l.9 -.4l1 .4l1 -.3l.9 -.9l1 -.1l1 .2l.9 -.2l1 .2l1 .5l.9 0l1 -.5l1 -.4l.9 -.3l1 0l1 -.3l.9 .1l1 .2l1 -.4l.9 -.6l1 .1l1 0l.9 -.2l1 -.2l1 .2l.9 -.2l1 -.1l1 0l.9 .4l1 0l1 0l.9 0l1 .1l1 -.1l1 0l.9 -.1l1 0l1 -.3l.9 -.4l1 -.3l1 -.1l.9 -.4l1 -.1l1 .3l.9 -.2l1 .1l1 -.3l.9 -.1l1 -.1l1 .1l.9 0l1 .1l1 -.3l.9 -.3l1 -.5l1 -.4l.9 .2l1 -.1l1 .3l.9 -.1l1 .2l1 -.4l.9 .1l1 -.6l1 .2l.9 -.2l1 .1l1 0l1 .4l.9 -.2l1 .2l.3 0l.5 -.1l.2 .1l.3 -.3l.5 -.3l.1 -.3l.3 -.1l.5 -.4l.2 1l.3 .2l.4 .6l.3 .3l.2 0l.5 -.6l.2 .2l.3 -.3l.4 -.2l.3 .1l.2 -.3l.5 -.5l.3 0l.1 .1l.5 -.3l.3 .2l.2 .1l.5 -.1l.3 .1l.1 .1l.5 .1l.4 -.2l.1 -.2l.5 -.1l.3 -.3l.1 .1l.5 .1l.4 0l.1 .1l.4 .1l.5 -.2l0 .2l.5 .4l.4 -.3l.1 .1l.4 .1l.5 .2l.5 -.6l.4 0l.1 .2l.4 -.1l.5 -.2l0 -.2l.5 .2l.4 -.3l.1 .4l.4 .1l.5 .2l.1 .3l.3 0l.5 -.1l.1 -.2l.4 .3l.5 -.2l.1 0l.3 .1l.5 0l.2 -.3l.3 .4l.5 0l.1 .1l.3 0l.5 .4l.2 -.7l.3 .5l.4 -.2l.3 -.3l.2 -.1l.5 .8l.2 -.3l.3 -.2l.4 .2l.3 .2l.2 -.6l.5 -.1l.3 .1l.1 .5l.5 -.2l.3 .5l.2 -.1l.5 -.1l.3 -.2l1 .2l.9 -.5l1 .3l1 .4l1 -.3l.9 0l1 .5l1 -.2l.9 -.1l1 0l1 0l.9 -.2l1 .2l1 -.1l.9 .2l1 .1l1 .2l.9 .2l1 .7l1 .3l.9 -.1l1 .5l1 0l.9 -.3l1 -.2l1 .3l.9 .1l1 .2l1 0l.9 .1l1 0l1 0l.9 .3l1 0l1 .2l.9 .1l1 -.1l1 -.2l1 .4l.9 -.1l1 -.1l1 .5l.9 .1l1 0l1 .3l.9 .2l1 0l1 -.1l.9 -.2l1 .2l1 .3l.9 -.1l1 .3l1 .4l.9 0l1 -.1l1 .3l.9 0l1 .1l1 0l.9 -.2l1 .3l1 0l.9 0l1 .4l1 .6l.9 -.4l1 .3l1 -.1l.9 .1l1 0l1 .1l.9 -.1l1 .2l1 -.1l1 -.2l.9 .2l1 -.2l1 .2l.9 .3l1 -.1l1 0l.9 .7l1 .1l1 0l.9 0l1 .2l1 -.3l.9 -.3l1 .3l1 .3l.9 .2l1 -.2l1 .1l.9 -.4l1 .1l1 0l.9 .1l1 .3l1 .3l.9 .2l1 .1l1 -.1l.9 0l1 .3l1 -.3l.9 .1l1 .1l1 .2l1 -.2l.9 0l1 0l1 .3l.9 .2l1 .1l1 .4l.9 0l1 -.2l1 0l.9 -.3l1 -.1l1 -.2l.9 0l1 -.2l1 0l.9 .1l1 .3l1 0l.9 .1l1 .2l1 .2l.9 0l1 .2l1 -.2l.9 .1l1 -.3l1 .1l.9 -.1l1 .3l1 .4l.9 .1l1 0l1 .1l.9 .5l1 0l1 .2l1 .2l.9 -.1l1 -.4l1 -.2l.9 -.1l1 -.2l1 0l.9 .2l1 0l1 -.3l.9 .2l1 .4l1 -.2l.9 0l1 .2l1 .1l.9 -.4l1 0l1 -.1l.9 .7l1 -.2l1 0l.9 .3l1 .2l1 -.1l.9 -.1l1 0l1 -.1l.9 0l1 -.2l1 .5l.9 0l1 0l1 -.1l.9 .1l1 0l1 .2l1 0l.9 .2" fill="none" stroke="#e60019" stroke-width="4.00" stroke-linejoin="round" stroke-linecap="round" />
<path d="M98.1 1631.2l.9 -.3l1 -.6l1 -.2l1 -.5l.9 .1l1 0l1 0l.9 .1l1 .1l1 0l.9 .2l1 .1l1 -.2l.9 -.1l1 0l1 -.3l.9 -.2l1 .1l1 .2l.9 .1l1 -.3l1 -.2l.9 -.3l1 -.4l1 -.1l.9 0l1 .1l1 .3l.9 -.3l1 0l1 .1l.9 -.2l1 -.4l1 0l.9 -.5l1 -.5l1 -.2l.9 0l1 -.1l1 .1l1 .1l.9 .1l1 -.2l1 -.3l.9 -.4l1 .1l1 0l.9 -.2l1 .2l1 .3l.9 .1l1 -.2l1 .1l.9 .3l1 -.2l1 -.2l.9 -.4l1 .1l1 -.5l.9 -.5l1 -.2l1 .5l.9 -.2l1 .1l1 .2l.9 -.4l1 -.4l1 -.3l.9 -.3l1 -.2l1 0l.9 .1l1 -.1l1 .2l1 .3l.9 -.3l1 -.4l1 -.5l.9 -.7l1 -.5l1 -.1l.9 -.3l1 0l1 .2l.9 -.4l1 0l1 .1l.9 0l1 -.3l1 0l.9 -.3l1 -.3l1 -.4l.9 -.1l1 -.2l1 -.2l.9 0l1 -.3l1 -.2l.9 -.3l1 -.2l1 -.6l.9 -.1l1 -.4l1 -.4l.9 0l1 -.3l1 -.1l.9 -.3l1 -.4l1 -.3l1 -.2l.9 -.7l1 -.3l1 0l.9 -.1l1 -.1l1 .4l.9 .1l1 0l1 -.2l.9 -.1l1 -.6l1 -.4l.9 -.3l1 -.5l1 -.4l.9 -.4l1 -.3l1 -.4l.9 -.6l1 -.2l1 .1l.9 -.5l1 -.2l1 0l.9 -.6l1 -.4l1 -.3l.9 -.3l1 -.2l1 -.4l.9 -.3l1 -.2l1 -.3l.9 -.3l1 -.2l1 -.4l1 -.6l.9 -.4l1 -.9l1 0l.9 -.1l1 0l1 -.9l.9 -.2l1 -.5l1 -.7l.9 -.5l1 0l1 0l.9 -.4l1 -.1l1 -.4l.9 -.3l1 -.5l1 -.2l.9 -.4l1 -.1l1 -.6l.9 -.1l1 -.4l1 -.1l.9 -.4l1 .1l1 -.2l.9 -.3l1 -.5l1 -.3l.9 -.3l1 -.8l1 -.2l1 -.3l.9 -.3l1 -.2l.3 -.1l.5 .2l.2 .1l.3 .4l.5 -.2l.1 0l.3 -.2l.5 -.5l.2 -.3l.3 0l.4 .1l.3 -.1l.2 .3l.5 .2l.2 .2l.3 -.2l.4 .1l.3 -.3l.2 -.3l.5 -.4l.3 0l.1 .1l.5 .1l.3 -.2l.2 .1l.5 0l.3 0l.1 -.1l.5 -.1l.4 .2l.1 -.3l.5 -.3l.3 .4l.1 .2l.5 -.2l.4 .1l.1 -.1l.4 -.3l.5 0l0 .3l0 .3l.5 0l.4 0l.1 .1l.4 -.6l.5 -.2l.5 0l.4 0l.1 -.3l.4 .4l.5 -.2l0 -.1l.5 .1l.4 .2l.1 -.3l.4 .5l.5 .1l.1 .1l.3 -.1l.5 .2l.1 -.4l.4 .3l.5 .1l.1 .1l.3 .3l.5 .1l.2 -.1l.3 0l.5 -.1l.1 0l.3 -.1l.5 0l.2 -.1l.3 .3l.4 .1l.3 .4l.2 -.2l.5 .3l.2 -.1l.3 -.5l.4 -.2l.3 .2l.2 .1l.5 -.2l.3 .3l.1 .3l.5 .1l.3 -.2l.2 .5l.5 -.1l.3 .1l1 .4l.9 .1l1 0l1 .5l1 .2l.9 -.2l1 .6l1 -.1l.9 .3l1 .3l1 .3l.9 .2l1 .5l1 .2l.9 .2l1 .5l1 .5l.9 .1l1 -.1l1 .4l.9 .6l1 .1l1 .4l.9 .9l1 .4l1 .2l.9 .8l1 .5l1 .3l.9 .3l1 .1l1 .3l.9 .5l1 .4l1 .2l.9 .6l1 0l1 .3l1 -.3l.9 .2l1 .3l1 .4l.9 .3l1 .5l1 .8l.9 .3l1 .4l1 .3l.9 .7l1 .3l1 .2l.9 .1l1 .1l1 .5l.9 .2l1 .1l1 .7l.9 .4l1 .1l1 -.1l.9 .2l1 .3l1 .2l.9 .2l1 .9l1 .4l.9 .1l1 .2l1 .1l.9 -.1l1 0l1 -.1l.9 .5l1 .4l1 .4l1 .5l.9 .6l1 .2l1 .3l.9 -.2l1 .4l1 .1l.9 .1l1 .5l1 .5l.9 .3l1 .3l1 .3l.9 -.3l1 .3l1 -.3l.9 .1l1 .2l1 -.1l.9 0l1 .4l1 .3l.9 0l1 .2l1 .4l.9 0l1 .3l1 .3l.9 .7l1 .1l1 -.1l.9 .1l1 .2l1 -.1l1 -.1l.9 .7l1 .1l1 .1l.9 -.1l1 .5l1 -.1l.9 .4l1 0l1 .2l.9 .1l1 0l1 -.1l.9 0l1 .3l1 .1l.9 .3l1 -.1l1 .2l.9 .1l1 0l1 .2l.9 .1l1 -.1l1 .1l.9 .4l1 .1l1 .3l.9 .6l1 0l1 -.4l.9 .2l1 .1l1 .2l.9 .2l1 .4l1 -.1l1 0l.9 0l1 .1l1 -.2l.9 0l1 .1l1 0l.9 -.3l1 .2l1 -.2l.9 .3l1 .3l1 .6l.9 0l1 .2l1 -.2l.9 -.1l1 -.2l1 .3l.9 .3l1 .3l1 -.1l.9 -.2l1 0l1 -.1l.9 0l1 .6l1 .7l.9 .1l1 .4l1 .3l.9 -.2l1 -.2l1 .2l.9 -.2l1 -.3l1 0l1 0l.9 -.2" fill="none" stroke="#cf0030" stroke-width="4.00" stroke-linejoin="round" stroke-linecap="round" />
<path d="M98.1 1629.3l.9 0l1 -.1l1 -.1l1 -.2l.9 .1l1 -.2l1 -.1l.9 -.2l1 -.2l1 -.1l.9 -.1l1 -.2l1 0l.9 -.4l1 0l1 -.1l.9 .2l1 -.2l1 .6l.9 -.3l1 -.1l1 -.4l.9 .3l1 -.7l1 .1l.9 -.3l1 0l1 -.4l.9 .2l1 -.4l1 -.1l.9 -.1l1 -.2l1 -.4l.9 0l1 -.3l1 0l.9 0l1 -.1l1 -.2l1 .3l.9 -.4l1 -.1l1 .2l.9 0l1 -.3l1 -.1l.9 -.3l1 -.3l1 -.2l.9 0l1 0l1 .3l.9 -.1l1 -.3l1 -.3l.9 .1l1 -.7l1 -.1l.9 0l1 -.1l1 0l.9 .3l1 0l1 -.4l.9 -.1l1 -.7l1 -.3l.9 -.3l1 -.1l1 -.2l.9 .2l1 -.1l1 -.2l1 -.4l.9 -.1l1 -.3l1 -.5l.9 -.3l1 .2l1 -.6l.9 -.4l1 -.4l1 -.4l.9 -.4l1 -.4l1 -.4l.9 -.1l1 -.4l1 -.2l.9 -.1l1 -.3l1 -.4l.9 -.2l1 -.5l1 -.6l.9 -.6l1 -.5l1 0l.9 -.1l1 -.3l1 -.2l.9 -.2l1 -.7l1 -.5l.9 0l1 -.7l1 -.5l.9 -.3l1 -.6l1 -.5l1 -.4l.9 -.4l1 -.6l1 -.2l.9 -.3l1 -.3l1 -.5l.9 -.1l1 -.5l1 -.5l.9 -.3l1 -.5l1 -.6l.9 -.6l1 -.8l1 -.4l.9 -.2l1 -.8l1 -.5l.9 -.5l1 -.7l1 -.8l.9 -.4l1 -.6l1 -.5l.9 -.8l1 -.7l1 -.7l.9 -.6l1 -.9l1 -.6l.9 -.7l1 -.7l1 -.6l.9 -.7l1 -.8l1 -.8l1 -.5l.9 -.8l1 -.5l1 -.5l.9 -.8l1 -.7l1 -.7l.9 -.7l1 -.8l1 -.3l.9 -.6l1 -.2l1 -.6l.9 -.8l1 -.8l1 -.7l.9 -.7l1 -.6l1 -.7l.9 -.5l1 -.7l1 -.9l.9 -.8l1 -.9l1 -.7l.9 -.5l1 -.5l1 -.8l.9 -.2l1 -.7l1 -.4l.9 -.5l1 -.3l1 -.3l1 -.3l.9 -.7l1 -.4l.3 -.1l.5 -.3l.2 -.1l.3 0l.5 -.2l.1 0l.3 -.5l.5 .3l.2 0l.3 -.4l.4 .3l.3 .3l.2 -.4l.5 -.4l.2 .1l.3 -.1l.4 -.1l.3 -.4l.2 .4l.5 0l.3 -.5l.1 -.1l.5 .1l.3 -.4l.2 -.2l.5 .2l.3 -.1l.1 0l.5 0l.4 -.1l.1 .3l.5 -.1l.3 .2l.1 -.1l.5 -.2l.4 -.2l.1 .2l.4 -.3l.5 -.1l0 .3l0 -.5l.5 .2l.4 .3l.1 0l.4 0l.5 .5l.5 -.1l.4 -.1l.1 .4l.4 0l.5 -.4l0 -.1l.5 -.1l.4 -.3l.1 -.5l.4 .3l.5 .1l.1 .1l.3 .3l.5 .3l.1 -.2l.4 .1l.5 0l.1 -.2l.3 .3l.5 .1l.2 .2l.3 0l.5 .1l.1 -.3l.3 .1l.5 -.3l.2 .4l.3 .2l.4 .5l.3 .3l.2 .5l.5 0l.2 -.2l.3 -.2l.4 -.2l.3 -.2l.2 -.2l.5 .3l.3 0l.1 .4l.5 0l.3 .1l.2 .2l.5 .2l.3 .1l1 .7l.9 .5l1 .2l1 .6l1 .1l.9 .5l1 .6l1 .6l.9 .5l1 .9l1 .6l.9 .4l1 .6l1 .5l.9 .6l1 .4l1 1.2l.9 .8l1 .8l1 .4l.9 .8l1 0l1 .8l.9 .8l1 .7l1 .4l.9 1.1l1 .9l1 .5l.9 .9l1 1.1l1 .4l.9 .3l1 .5l1 .6l.9 .3l1 .8l1 .5l1 .6l.9 .5l1 .5l1 .9l.9 .7l1 .8l1 1l.9 .9l1 .4l1 .6l.9 .9l1 .6l1 .4l.9 .8l1 .7l1 .7l.9 .4l1 .8l1 .6l.9 .4l1 .5l1 .9l.9 .1l1 .7l1 .5l.9 .1l1 .2l1 .8l.9 .2l1 .6l1 .8l.9 .5l1 .5l1 .8l.9 .5l1 -.3l1 .3l1 0l.9 -.1l1 .4l1 .6l.9 .3l1 .5l1 .4l.9 -.1l1 .7l1 .6l.9 .4l1 .5l1 .6l.9 .2l1 .5l1 .6l.9 .3l1 .5l1 .2l.9 .4l1 .2l1 .2l.9 0l1 .3l1 -.3l.9 .5l1 .4l1 .5l.9 .4l1 1l1 .3l.9 0l1 .3l1 0l1 -.5l.9 0l1 .9l1 .5l.9 .4l1 .4l1 .2l.9 -.1l1 -.3l1 -.2l.9 .6l1 .2l1 .2l.9 .5l1 .7l1 -.2l.9 .1l1 .2l1 .3l.9 -.2l1 .4l1 -.1l.9 -.4l1 .1l1 .4l.9 .2l1 0l1 .5l.9 .2l1 -.2l1 -.5l.9 .5l1 .2l1 0l.9 -.1l1 .3l1 .2l1 .1l.9 .1l1 .4l1 .4l.9 -.1l1 -.1l1 -.2l.9 .2l1 0l1 .4l.9 .3l1 .1l1 .4l.9 0l1 0l1 .2l.9 .4l1 -.6l1 .5l.9 .2l1 .2l1 -.5l.9 .3l1 -.1l1 -.2l.9 .1l1 .4l1 .4l.9 .2l1 0l1 -.4l.9 .2l1 -.2l1 .2l.9 .3l1 .5l1 -.2l1 -.4l.9 -.2" fill="none" stroke="#b60049" stroke-width="4.00" stroke-linejoin="round" stroke-linecap="round" />
<path d="M98.1 1629l.9 -.2l1 -.1l1 -.1l1 .2l.9 -.5l1 .1l1 .2l.9 .3l1 -.7l1 .1l.9 0l1 -.3l1 -.1l.9 0l1 -.3l1 -.4l.9 0l1 -.5l1 .1l.9 -.3l1 0l1 -.3l.9 -.1l1 -.1l1 0l.9 -.1l1 -.4l1 .1l.9 -.3l1 -.1l1 -.3l.9 .5l1 -.5l1 0l.9 .2l1 .3l1 -.1l.9 .1l1 -.4l1 -.1l1 -.2l.9 -.2l1 -.1l1 .1l.9 -.5l1 -.2l1 0l.9 -.5l1 0l1 0l.9 -.2l1 -.3l1 .3l.9 -.2l1 0l1 -.6l.9 0l1 -.4l1 -.5l.9 -.2l1 -.2l1 -.1l.9 .1l1 -.1l1 -.1l.9 .1l1 -.2l1 -.7l.9 0l1 -.4l1 -.1l.9 -.3l1 .2l1 -.3l1 -.1l.9 -.1l1 -.2l1 -.3l.9 -.2l1 -.3l1 -.7l.9 -.2l1 -.3l1 -.3l.9 -.3l1 -.2l1 -.7l.9 -.6l1 -.1l1 -.6l.9 -.8l1 -.1l1 -.6l.9 -.3l1 -.3l1 -.1l.9 -.5l1 -.3l1 -.9l.9 -.6l1 -.4l1 -.5l.9 -.3l1 -.6l1 -.3l.9 -.6l1 -.5l1 -.5l.9 -.6l1 -.2l1 -.6l1 -.2l.9 -.3l1 -.5l1 -.9l.9 0l1 -.4l1 -1l.9 0l1 -.4l1 -.7l.9 -.2l1 -.5l1 -.5l.9 -.2l1 -.2l1 -1l.9 -.5l1 -.8l1 -1.1l.9 -1.2l1 -.8l1 -1.1l.9 -1.1l1 -.9l1 -.8l.9 -.6l1 -.7l1 -.6l.9 -.7l1 -.9l1 -1.2l.9 -1l1 -.7l1 -1.3l.9 -1.4l1 -1.4l1 -1.1l1 -1.5l.9 -.8l1 -1.1l1 -.7l.9 -1.1l1 -.8l1 -1.7l.9 -.8l1 -1.4l1 -1.4l.9 -1.7l1 -1.2l1 -1.7l.9 -1.9l1 -1.4l1 -1.4l.9 -1.7l1 -1.4l1 -.6l.9 -1.5l1 -1.3l1 -.8l.9 -1.3l1 -1.5l1 -1.2l.9 -.9l1 -1.1l1 -.7l.9 -1l1 -.8l1 -.8l.9 -1l1 -.9l1 -.8l1 -.8l.9 -.8l1 -.7l.3 -.2l.5 -.2l.2 -.1l.3 -.4l.5 -.2l.1 -.2l.3 -.1l.5 -.2l.2 -.1l.3 .2l.4 -.1l.3 -.1l.2 .1l.5 -.1l.2 -.4l.3 -.2l.4 .2l.3 -.1l.2 0l.5 -.2l.3 0l.1 -.2l.5 -.2l.3 -.1l.2 .2l.5 -.1l.3 -.3l.1 0l.5 -.3l.4 -.4l.1 .3l.5 -.3l.3 -.1l.1 .1l.5 0l.4 -.6l.1 -.2l.4 0l.5 -.4l0 .2l.5 -.1l.4 0l.1 0l.4 -.2l.5 .2l.5 .2l.4 .1l.1 -.2l.4 .2l.5 -.3l0 -.1l.5 0l.4 .2l.1 -.2l.4 .1l.5 .5l.1 -.1l.3 .2l.5 .4l.1 .2l.4 -.1l.5 0l.1 -.1l.3 .5l.5 .1l.2 -.2l.3 .3l.5 .6l.1 -.7l.3 .1l.5 .3l.2 .1l.3 0l.4 .4l.3 -.1l.2 -.3l.5 .2l.2 -.1l.3 .1l.4 .7l.3 .5l.2 .1l.5 .5l.3 .3l.1 -.1l.5 .2l.3 .4l.2 .1l.5 -.1l.3 .2l1 .8l.9 .3l1 1l1 1.1l1 1.2l.9 .6l1 1.2l1 .4l.9 .7l1 .6l1 1.1l.9 .9l1 1.3l1 1l.9 1.1l1 1.2l1 1.4l.9 1.5l1 1.7l1 1.8l.9 1.2l1 1.3l1 1.3l.9 1.2l1 1.4l1 1.8l.9 1.4l1 1.3l1 1.5l.9 1l1 1l1 1.3l.9 1.2l1 1.1l1 1.3l.9 1.4l1 .9l1 .9l1 .9l.9 .6l1 1.1l1 1.3l.9 1.3l1 .9l1 1.6l.9 .9l1 .9l1 1.3l.9 1.1l1 .9l1 .9l.9 .7l1 .5l1 .7l.9 .8l1 .3l1 .6l.9 .8l1 .4l1 .4l.9 .7l1 .7l1 .5l.9 .9l1 .5l1 .5l.9 .4l1 .4l1 .4l.9 0l1 .6l1 .1l.9 .5l1 .3l1 .9l1 .6l.9 .8l1 .3l1 .4l.9 .6l1 .3l1 .4l.9 .4l1 .6l1 .1l.9 .4l1 .3l1 .5l.9 .2l1 .7l1 .7l.9 .7l1 .8l1 .2l.9 .3l1 .5l1 .5l.9 -.1l1 .3l1 .3l.9 0l1 -.2l1 .6l.9 .5l1 -.2l1 .3l.9 .5l1 .2l1 .6l1 .6l.9 .2l1 .1l1 -.2l.9 0l1 .3l1 .4l.9 .6l1 .5l1 -.1l.9 .2l1 .2l1 -.4l.9 0l1 .5l1 .1l.9 -.2l1 .3l1 .3l.9 -.1l1 -.2l1 .4l.9 .1l1 .2l1 -.1l.9 .7l1 -.1l1 .2l.9 .1l1 .6l1 -.4l.9 .3l1 .1l1 .5l.9 -.1l1 .3l1 .1l1 .5l.9 -.3l1 .4l1 .1l.9 .2l1 -.1l1 .4l.9 .1l1 .3l1 0l.9 0l1 -.2l1 0l.9 -.1l1 .2l1 .3l.9 .4l1 .3l1 .4l.9 -.2l1 0l1 .1l.9 0l1 -.3l1 .6l.9 .2l1 .3l1 .1l.9 .5l1 .1l1 .2l.9 .2l1 .1l1 0l.9 0l1 -.2l1 -.2l1 .2l.9 0" fill="none" stroke="#a2005d" stroke-width="4.00" stroke-linejoin="round" stroke-linecap="round" />
<path d="M98.1 1628l.9 .2l1 -.2l1 0l1 0l.9 .3l1 -.3l1 .2l.9 -.2l1 0l1 .2l.9 -.1l1 -.4l1 -.2l.9 -.1l1 -.5l1 -.2l.9 .1l1 .2l1 -.5l.9 .2l1 .1l1 .1l.9 0l1 -.1l1 -.3l.9 -.4l1 -.5l1 -.4l.9 .1l1 -.1l1 -.3l.9 -.2l1 .1l1 -.1l.9 -.2l1 .1l1 0l.9 -.4l1 -.6l1 0l1 -.2l.9 -.1l1 -.6l1 .2l.9 0l1 -.5l1 .1l.9 .4l1 -.3l1 -.6l.9 .4l1 -.4l1 -.1l.9 -.1l1 0l1 -.2l.9 -.4l1 -.1l1 -.4l.9 -.2l1 -.5l1 .2l.9 -.6l1 -.1l1 .1l.9 .1l1 -.1l1 .5l.9 .1l1 -.2l1 -.6l.9 -.7l1 -.6l1 -.3l1 -.6l.9 -.1l1 -.2l1 0l.9 -.2l1 -.1l1 -.1l.9 -.2l1 -.6l1 -.5l.9 -.5l1 -.3l1 -.2l.9 -.2l1 -.3l1 0l.9 -.2l1 -.5l1 -.7l.9 -.6l1 -.4l1 -.6l.9 -.3l1 0l1 -.3l.9 -.8l1 -.8l1 -.9l.9 -.7l1 -.7l1 -.2l.9 -.4l1 -.5l1 -.3l.9 -.1l1 -.7l1 -.4l1 0l.9 -.6l1 -.4l1 -.2l.9 -.2l1 -.6l1 -.3l.9 -.5l1 -.4l1 -.6l.9 -.5l1 -.6l1 -.7l.9 -.8l1 -.5l1 -.5l.9 -.6l1 -.6l1 -.6l.9 -.5l1 -.6l1 -.9l.9 -.8l1 -1l1 -1.2l.9 -1.1l1 -1l1 -1.2l.9 -1.4l1 -.9l1 -.8l.9 -1.1l1 -.8l1 -.8l.9 -1.2l1 -1.5l1 -1.1l1 -1.3l.9 -1.6l1 -1.2l1 -1.1l.9 -1.5l1 -1.1l1 -.8l.9 -1.2l1 -1.2l1 -1l.9 -1.8l1 -1.5l1 -1.8l.9 -1.4l1 -1.4l1 -1.9l.9 -2.1l1 -2.2l1 -2.7l.9 -3l1 -2.9l1 -2.6l.9 -3.2l1 -4l1 -4.2l.9 -3.9l1 -3.9l1 -2.9l.9 -1.9l1 -1.5l1 -1.2l.9 -1.2l1 -1.3l1 -1.2l1 -.7l.9 -1.1l1 -1.3l.3 -.3l.5 -.6l.2 -.1l.3 -.2l.5 -.4l.1 -.1l.3 .1l.5 -.9l.2 -.3l.3 .2l.4 -.7l.3 -.4l.2 -.1l.5 -.3l.2 -.9l.3 -.2l.4 -.3l.3 .1l.2 -.1l.5 .2l.3 .3l.1 .1l.5 -.1l.3 -.4l.2 -.2l.5 .1l.3 .1l.1 0l.5 .1l.4 .1l.1 -.7l.5 -.2l.3 -.4l.1 -.1l.5 .1l.4 -.4l.1 -.3l.4 -.4l.5 -.1l0 -.4l0 .3l.5 -.1l.4 .1l.1 .1l.4 -.2l.5 0l.5 -.3l.4 .3l.1 -.2l.4 .3l.5 .1l0 .2l.5 .1l.4 .4l.1 -.5l.4 .3l.5 -.3l.1 -.2l.3 .1l.5 .2l.1 0l.4 .6l.5 .5l.1 0l.3 .8l.5 .5l.2 0l.3 -.4l.5 .6l.1 -.2l.3 -.1l.5 .4l.2 0l.3 -.1l.4 .2l.3 -.2l.2 .2l.5 .9l.2 .5l.3 .4l.4 .7l.3 .3l.2 .1l.5 .2l.3 .2l.1 0l.5 .6l.3 .5l.2 0l.5 .2l.3 .5l1 .8l.9 .6l1 1.5l1 1.5l1 .8l.9 .9l1 1.3l1 1.2l.9 2.1l1 2.9l1 3.8l.9 3.7l1 4.1l1 3.6l.9 3.6l1 3.3l1 3l.9 2.6l1 2.8l1 2.3l.9 2l1 2.1l1 2.2l.9 1.6l1 1.7l1 1.5l.9 1.2l1 1l1 1.1l.9 1.1l1 1.1l1 1.4l.9 1.2l1 1.2l1 .9l.9 1.3l1 1.3l1 1l1 1.4l.9 1.6l1 1l1 .7l.9 1l1 .8l1 1.2l.9 .8l1 1.2l1 1l.9 .9l1 .7l1 .6l.9 .4l1 1.2l1 .9l.9 .6l1 1.2l1 1.4l.9 .2l1 .5l1 .9l.9 .3l1 .2l1 1.1l.9 .4l1 0l1 .5l.9 .2l1 .4l1 .1l.9 .8l1 .3l1 .6l.9 .1l1 .7l1 .5l1 1l.9 .7l1 .7l1 .5l.9 .4l1 .4l1 .1l.9 .7l1 .5l1 .6l.9 .5l1 .6l1 .1l.9 .3l1 0l1 .2l.9 .3l1 .7l1 .2l.9 1.2l1 .4l1 .7l.9 .4l1 .1l1 -.2l.9 .6l1 -.3l1 .3l.9 .6l1 .2l1 .1l.9 .4l1 .1l1 .3l1 .1l.9 .4l1 1.1l1 .3l.9 .4l1 .3l1 0l.9 -.4l1 .4l1 .1l.9 .3l1 .3l1 .6l.9 -.4l1 .2l1 .1l.9 .3l1 -.5l1 .3l.9 0l1 0l1 -.1l.9 .2l1 .4l1 .4l.9 0l1 .3l1 .2l.9 .5l1 0l1 .2l.9 .5l1 .7l1 -.1l.9 -.2l1 .1l1 -.1l1 -.3l.9 -.3l1 .3l1 -.1l.9 .3l1 .2l1 .1l.9 -.1l1 .2l1 .2l.9 .2l1 .4l1 -.2l.9 .2l1 -.2l1 0l.9 -.1l1 .7l1 .1l.9 .7l1 .3l1 .3l.9 .2l1 .2l1 -.3l.9 -.1l1 .1l1 .3l.9 .3l1 .1l1 .5l.9 .1l1 -.2l1 -.4l.9 -.1l1 -.1l1 .1l1 .5l.9 .3" fill="none" stroke="#90006f" stroke-width="4.00" stroke-linejoin="round" stroke-linecap="round" />
<path d="M98.1 1628.8l.9 .3l1 -.2l1 -.4l1 -.4l.9 .1l1 -.2l1 -.2l.9 -.2l1 .1l1 -.4l.9 -.2l1 0l1 -.2l.9 .3l1 -.1l1 .2l.9 -.5l1 .1l1 -.1l.9 -.2l1 -.6l1 0l.9 -.1l1 -.6l1 -.4l.9 .2l1 -.2l1 -.2l.9 0l1 -.2l1 -.4l.9 .3l1 -.4l1 .1l.9 .2l1 -.1l1 -.3l.9 .1l1 -.1l1 -.5l1 -.2l.9 -.9l1 -.2l1 -.2l.9 .2l1 .5l1 .3l.9 -.2l1 0l1 0l.9 -.6l1 0l1 -.1l.9 -.3l1 -.3l1 -.1l.9 -.5l1 0l1 -.1l.9 -.3l1 -.1l1 .1l.9 -.3l1 -.1l1 0l.9 .1l1 -.1l1 .1l.9 -.4l1 -.2l1 -.6l.9 .1l1 -.4l1 -.1l1 0l.9 -.4l1 -.9l1 -.2l.9 -.6l1 -.7l1 -.2l.9 .1l1 -.1l1 -.2l.9 -.1l1 -.6l1 -.5l.9 -.4l1 -.6l1 -.3l.9 -.2l1 -.6l1 -.6l.9 -.4l1 -.6l1 -.3l.9 -.2l1 -.2l1 -.4l.9 -.3l1 -.2l1 -.9l.9 -.3l1 -.4l1 -.3l.9 -1l1 -.1l1 -.9l.9 -.8l1 -.5l1 -.7l1 -.3l.9 0l1 -.8l1 -.6l.9 -.1l1 -.5l1 -.6l.9 .3l1 -.1l1 -.3l.9 -.2l1 -.5l1 -.4l.9 -.9l1 -.8l1 -1.1l.9 -.4l1 -.5l1 -.3l.9 -1l1 -.6l1 -1l.9 -1.3l1 -.7l1 -.5l.9 -1.4l1 -.7l1 -1.1l.9 -1.2l1 -.9l1 -.6l.9 -1.6l1 -1.2l1 -1.1l.9 -1.3l1 -.8l1 -1l1 -1.1l.9 -1l1 -1.4l1 -1.2l.9 -1.1l1 -1l1 -1.6l.9 -1.1l1 -1.6l1 -1.5l.9 -1.5l1 -1.6l1 -1.6l.9 -1.7l1 -1.7l1 -2l.9 -2.1l1 -2l1 -2.5l.9 -2.7l1 -2.8l1 -2.8l.9 -3.8l1 -3.8l1 -4.3l.9 -4.6l1 -5l1 -5l.9 -5.6l1 -5.6l1 -6l.9 -5.3l1 -4.3l1 -2.3l1 -1.8l.9 -.8l1 -1.5l.3 -.7l.5 -1.2l.2 -.3l.3 -.8l.5 -.4l.1 .1l.3 -.1l.5 -.4l.2 -.1l.3 -.6l.4 -1.1l.3 -.3l.2 -.6l.5 -.6l.2 -.1l.3 .1l.4 -.4l.3 .1l.2 -.3l.5 -.2l.3 -.5l.1 -.1l.5 -.4l.3 -.2l.2 -.5l.5 .1l.3 -.4l.1 0l.5 0l.4 .1l.1 -.1l.5 0l.3 -.2l.1 -.3l.5 -.2l.4 0l.1 -.2l.4 -.1l.5 0l0 -.1l0 -.2l.5 -.4l.4 .1l.1 -.1l.4 0l.5 -.1l.5 .3l.4 -.3l.1 .7l.4 -.2l.5 .2l0 .1l.5 .5l.4 -.8l.1 .2l.4 .5l.5 -.2l.1 0l.3 .4l.5 0l.1 -.2l.4 .4l.5 -.1l.1 .5l.3 .3l.5 .3l.2 .3l.3 .5l.5 .2l.1 .2l.3 .4l.5 .3l.2 .2l.3 -.1l.4 .5l.3 .5l.2 .1l.5 .3l.2 .3l.3 .3l.4 .3l.3 .6l.2 .1l.5 .7l.3 .2l.1 .1l.5 .4l.3 .3l.2 .2l.5 .7l.3 .3l1 1.3l.9 2.2l1 1.8l1 3l1 4.6l.9 5.2l1 5.1l1 5.4l.9 5.5l1 5.3l1 5l.9 5l1 4.4l1 3.5l.9 3.3l1 2.9l1 2.4l.9 2.9l1 2.2l1 2.3l.9 2l1 2.3l1 1.6l.9 2l1 1.1l1 1.8l.9 1.4l1 1.2l1 1.4l.9 1.8l1 1.1l1 1.2l.9 1.1l1 1.3l1 1.1l.9 1.8l1 1.4l1 1.5l1 1.3l.9 .9l1 .9l1 .9l.9 .9l1 1l1 1.2l.9 1l1 .8l1 1l.9 .7l1 .8l1 .3l.9 1.3l1 .8l1 .7l.9 .5l1 1l1 .7l.9 .6l1 .7l1 .9l.9 .7l1 .3l1 .6l.9 .6l1 .5l1 .2l.9 .4l1 .2l1 .4l.9 .3l1 .5l1 .3l.9 .7l1 .3l1 .3l1 .7l.9 .7l1 .2l1 .6l.9 .6l1 .3l1 .5l.9 .6l1 .5l1 .6l.9 .2l1 .3l1 .3l.9 .6l1 .8l1 .8l.9 .5l1 .1l1 .4l.9 .2l1 .6l1 .3l.9 .7l1 .4l1 .1l.9 .2l1 .5l1 .1l.9 -.2l1 .5l1 .2l.9 .2l1 .5l1 .3l1 .2l.9 .4l1 0l1 .1l.9 .1l1 .3l1 .3l.9 0l1 .4l1 .6l.9 -.1l1 -.2l1 .2l.9 -.1l1 0l1 .4l.9 .3l1 .5l1 .3l.9 -.1l1 .3l1 .4l.9 -.2l1 .5l1 .4l.9 -.1l1 .3l1 -.2l.9 -.4l1 .2l1 .1l.9 -.4l1 .8l1 .5l.9 -.2l1 .1l1 .5l1 .2l.9 -.3l1 .4l1 .2l.9 -.4l1 -.2l1 .2l.9 0l1 .5l1 .6l.9 .3l1 .5l1 .3l.9 0l1 -.2l1 0l.9 .1l1 0l1 -.2l.9 .6l1 .4l1 -.1l.9 .1l1 .3l1 0l.9 -.3l1 .3l1 .4l.9 0l1 .6l1 .5l.9 .1l1 .2l1 .6l.9 -.2l1 -.2l1 0l1 -.1l.9 -.5" fill="none" stroke="#80007f" stroke-width="4.00" stroke-linejoin="round" stroke-linecap="round" />
<path d="M98.1 1628.8l.9 -.4l1 0l1 -.1l1 0l.9 -.7l1 .5l1 -.6l.9 -.2l1 -.1l1 .2l.9 -.5l1 -.2l1 0l.9 -.2l1 .1l1 -.1l.9 .3l1 0l1 -.3l.9 -.4l1 .3l1 -.3l.9 0l1 0l1 .3l.9 -.6l1 .1l1 -.3l.9 -.2l1 -.3l1 -.2l.9 -.3l1 -.2l1 0l.9 -.2l1 -.3l1 -.1l.9 -.1l1 -.5l1 .1l1 .2l.9 .1l1 -.3l1 0l.9 -.2l1 -.5l1 -.2l.9 0l1 -.2l1 -.3l.9 -.1l1 -.2l1 -.4l.9 -.2l1 0l1 -.1l.9 -.5l1 .2l1 -.1l.9 -1l1 -.1l1 .4l.9 -.3l1 .3l1 .4l.9 0l1 -.6l1 -.2l.9 -.2l1 -.1l1 -.3l.9 -.3l1 -.3l1 -.8l1 -.1l.9 -.4l1 .2l1 -.4l.9 .3l1 -.6l1 -.1l.9 .1l1 -.1l1 -.9l.9 0l1 -.2l1 -.7l.9 -.8l1 -.2l1 -.9l.9 -.2l1 -.5l1 -.1l.9 -.4l1 .1l1 -1l.9 -.1l1 -.4l1 -.9l.9 -.3l1 .1l1 -.6l.9 -.3l1 -.3l1 -.5l.9 -.5l1 -.5l1 -.3l.9 -.4l1 -.5l1 -.6l1 -.9l.9 -1l1 -.4l1 -.6l.9 -.4l1 -.2l1 -.2l.9 -.3l1 -.4l1 -.4l.9 -.3l1 -.5l1 -.4l.9 -.7l1 -.5l1 -.8l.9 -.3l1 -.8l1 -.6l.9 -1l1 -.8l1 -1l.9 -.9l1 -1l1 -1l.9 -.8l1 -1l1 -.8l.9 -.6l1 -.9l1 -1.4l.9 -1.1l1 -1.5l1 -1.6l.9 -1l1 -.7l1 -1.3l1 -1l.9 -1.1l1 -1.6l1 -1.2l.9 -1.2l1 -.7l1 -1.4l.9 -.7l1 -1.5l1 -1.1l.9 -2l1 -1.2l1 -1.8l.9 -1.8l1 -2l1 -1.8l.9 -2.1l1 -2l1 -2.1l.9 -3.1l1 -3l1 -3.4l.9 -3.7l1 -3.9l1 -4.1l.9 -4.8l1 -4.6l1 -5.2l.9 -5.1l1 -5.3l1 -5.6l.9 -6l1 -6.7l1 -7.2l1 -7.5l.9 -7.3l1 -6.7l.3 -1.6l.5 -1.9l.2 -.5l.3 -1.1l.5 -1.5l.1 -.5l.3 -.3l.5 -1.1l.2 -.6l.3 .1l.4 -1l.3 -.5l.2 -.2l.5 -.1l.2 -.4l.3 0l.4 -.5l.3 -.1l.2 -.3l.5 -.3l.3 -.1l.1 -.5l.5 -.6l.3 -.5l.2 -.5l.5 -.6l.3 -.3l.1 .2l.5 -.3l.4 -.2l.1 -.1l.5 -.1l.3 -.5l.1 .2l.5 -.2l.4 -.1l.1 0l.4 .2l.5 -.3l0 -.1l.5 -.6l.4 -.2l.1 -.2l.4 -.1l.5 .4l.5 0l.4 0l.1 .3l.4 .3l.5 -.1l0 .1l.5 0l.4 0l.1 -.1l.4 .2l.5 .5l.1 .3l.3 .2l.5 .3l.1 -.2l.4 .1l.5 .3l.1 -.1l.3 .4l.5 .1l.2 0l.3 .4l.5 .6l.1 0l.3 .5l.5 .7l.2 .5l.3 0l.4 1l.3 .2l.2 .6l.5 .2l.2 .6l.3 .2l.4 1l.3 .3l.2 .2l.5 1.2l.3 .6l.1 .2l.5 1.1l.3 1.2l.2 .1l.5 1.9l.3 1.7l1 6.6l.9 7.1l1 7.4l1 7.1l1 6.9l.9 6.4l1 6.3l1 5.2l.9 4.9l1 5.4l1 4.9l.9 4.4l1 4.6l1 4.1l.9 2.8l1 3l1 2.9l.9 2.7l1 2.4l1 2.5l.9 2.2l1 2l1 1.3l.9 1.7l1 1.6l1 1.7l.9 1.8l1 1.4l1 1.1l.9 1.2l1 .8l1 .6l.9 1.4l1 1.6l1 1.1l.9 1l1 1l1 1.5l1 1.2l.9 1.1l1 1.2l1 1.5l.9 1l1 1l1 1.3l.9 1.4l1 .9l1 .7l.9 1.1l1 .8l1 .6l.9 .7l1 .6l1 .5l.9 .9l1 .7l1 1l.9 1.3l1 .7l1 .1l.9 .6l1 .3l1 -.2l.9 .2l1 .6l1 .6l.9 .5l1 .5l1 .9l.9 .7l1 .6l1 .2l.9 .9l1 .1l1 .6l1 .5l.9 .4l1 .1l1 .8l.9 .4l1 .2l1 .7l.9 .6l1 -.1l1 .3l.9 .3l1 .4l1 .5l.9 .3l1 .6l1 .6l.9 .6l1 .4l1 .8l.9 .4l1 .5l1 .2l.9 .3l1 0l1 .2l.9 .4l1 .4l1 .3l.9 .3l1 .5l1 .1l.9 .3l1 .2l1 .6l1 -.1l.9 .1l1 -.2l1 .2l.9 -.2l1 .3l1 .7l.9 .1l1 0l1 .5l.9 .3l1 -.1l1 .7l.9 .5l1 .2l1 .2l.9 .3l1 -.2l1 0l.9 .1l1 -.3l1 0l.9 .3l1 .1l1 .2l.9 .3l1 0l1 .1l.9 .3l1 .4l1 .2l.9 .6l1 .4l1 -.3l.9 -.1l1 -.1l1 -.4l1 -.1l.9 .9l1 -.3l1 .2l.9 .6l1 .5l1 -.5l.9 .4l1 .2l1 -.2l.9 .2l1 .3l1 .1l.9 .5l1 -.1l1 -.1l.9 .3l1 0l1 -.3l.9 .2l1 .3l1 -.1l.9 .5l1 .4l1 .4l.9 0l1 .3l1 0l.9 -.3l1 .3l1 .2l.9 .2l1 -.1l1 .5l.9 .3l1 .1l1 -.3l1 .4l.9 -.1" fill="none" stroke="#6f0090" stroke-width="4.00" stroke-linejoin="round" stroke-linecap="round" />
<path d="M98.1 1629l.9 -.3l1 0l1 -.1l1 -.1l.9 0l1 -.2l1 -.2l.9 -.3l1 .2l1 -.4l.9 .3l1 -.4l1 -.1l.9 -.2l1 .2l1 -.6l.9 0l1 0l1 -.5l.9 -.2l1 0l1 .1l.9 .1l1 .4l1 -.1l.9 -.3l1 -.1l1 -.5l.9 -.5l1 0l1 -.2l.9 -.2l1 -.1l1 -.3l.9 -.1l1 0l1 -.2l.9 -.2l1 -.4l1 -.7l1 -.1l.9 0l1 0l1 .4l.9 .1l1 -.4l1 -.2l.9 -.4l1 -.1l1 .1l.9 .6l1 0l1 .1l.9 -.6l1 -.4l1 -.8l.9 -.1l1 -.5l1 0l.9 -.4l1 0l1 -.2l.9 -.1l1 -.1l1 -.2l.9 .1l1 -.3l1 .1l.9 .1l1 -.4l1 -.7l.9 -.1l1 -.2l1 -.7l1 .3l.9 -.1l1 -.1l1 -.7l.9 0l1 -.9l1 -.5l.9 -.1l1 -.1l1 -.6l.9 .6l1 .1l1 -.5l.9 -.5l1 -.1l1 -.7l.9 -.9l1 -.5l1 -.3l.9 -.3l1 -.2l1 -.2l.9 -.7l1 -.4l1 -.5l.9 -.8l1 -.3l1 -.3l.9 -.4l1 -.4l1 -.3l.9 -.6l1 -.9l1 -.4l.9 -.8l1 -.5l1 -.4l1 -.4l.9 -.6l1 -.9l1 -.4l.9 -.5l1 .2l1 -.3l.9 .1l1 -.4l1 -.1l.9 -.9l1 -.6l1 -.6l.9 -.1l1 -.6l1 -.9l.9 -.4l1 -.2l1 -1.3l.9 -.2l1 -.4l1 -.8l.9 -1.4l1 -.8l1 -1.7l.9 -1.1l1 -1.5l1 -.7l.9 -1.1l1 -.7l1 -.8l.9 -.8l1 -1.3l1 -.9l.9 -1.4l1 -1.2l1 -1.1l1 -1.4l.9 -1.5l1 -1.2l1 -1.2l.9 -.9l1 -.8l1 -.9l.9 -.9l1 -1.3l1 -1.4l.9 -1.6l1 -1.5l1 -1.9l.9 -1.7l1 -1.7l1 -2.3l.9 -2.2l1 -2.3l1 -2.3l.9 -2.6l1 -2.7l1 -3.5l.9 -3.1l1 -4l1 -4.9l.9 -4.7l1 -4.4l1 -5.8l.9 -5.3l1 -5.1l1 -5.9l.9 -6.4l1 -6.4l1 -7.3l1 -7.3l.9 -7.9l1 -7.7l.3 -3l.5 -4.5l.2 -1.1l.3 -2.9l.5 -4.8l.1 -1.7l.3 -2.8l.5 -4.8l.2 -2.2l.3 -2.5l.4 -3.2l.3 -.7l.2 -1.4l.5 -1.4l.2 -.3l.3 -.8l.4 -1l.3 -.3l.2 -.3l.5 -.8l.3 -.7l.1 -.1l.5 -1l.3 -.3l.2 -.5l.5 0l.3 -.5l.1 .2l.5 -.2l.4 -.1l.1 -.3l.5 -.9l.3 -.7l.1 -.6l.5 -.4l.4 -.3l.1 .3l.4 .2l.5 .2l0 -.1l0 -.3l.5 -.5l.4 .1l.1 .2l.4 -.1l.5 .2l.5 .5l.4 .1l.1 -.3l.4 .4l.5 .4l0 -.4l.5 -.2l.4 .3l.1 -.1l.4 .4l.5 .8l.1 .2l.3 .1l.5 .7l.1 -.2l.4 .1l.5 .4l.1 0l.3 .2l.5 .6l.2 .5l.3 .5l.5 1.1l.1 .1l.3 .2l.5 .7l.2 .3l.3 .2l.4 1l.3 .8l.2 .5l.5 1.7l.2 1.3l.3 1.2l.4 3.7l.3 2.3l.2 1.6l.5 4.6l.3 2.6l.1 1.3l.5 4.4l.3 3.4l.2 1.3l.5 4.7l.3 3.5l1 8.2l.9 7.3l1 7.4l1 6.8l1 6.3l.9 6.2l1 6.2l1 5.4l.9 5l1 5.1l1 5.2l.9 4.8l1 4.1l1 4.1l.9 3.7l1 2.8l1 2.6l.9 2.8l1 2.8l1 2.1l.9 2l1 2.1l1 1.7l.9 1.5l1 2l1 1.9l.9 1l1 1.4l1 1.3l.9 .7l1 .7l1 1.5l.9 1.5l1 1.2l1 1.3l.9 1.6l1 1.2l1 .9l1 1.1l.9 1.1l1 1.3l1 1l.9 1l1 1l1 1.4l.9 .7l1 .9l1 1.1l.9 1.2l1 .6l1 1l.9 .6l1 .8l1 .8l.9 .9l1 .5l1 1.2l.9 .7l1 .2l1 .5l.9 .6l1 .1l1 .4l.9 .7l1 .3l1 .2l.9 .6l1 .5l1 .6l.9 .6l1 .9l1 .3l.9 .8l1 .2l1 .1l1 .4l.9 0l1 .1l1 .6l.9 .6l1 .6l1 1.1l.9 .6l1 .3l1 .7l.9 .1l1 .3l1 .5l.9 .6l1 .6l1 .5l.9 .1l1 .4l1 .5l.9 0l1 .7l1 1.1l.9 .1l1 .1l1 .1l.9 .2l1 .1l1 .6l.9 .2l1 .4l1 -.1l.9 -.2l1 -.1l1 .1l1 .4l.9 .5l1 .6l1 .5l.9 .4l1 .2l1 .2l.9 0l1 .2l1 .3l.9 .1l1 0l1 .1l.9 .3l1 0l1 .3l.9 -.1l1 .7l1 .1l.9 .3l1 0l1 .2l.9 -.1l1 0l1 .8l.9 0l1 .6l1 0l.9 .1l1 -.1l1 .5l.9 0l1 .2l1 .1l.9 0l1 .3l1 -.2l1 .1l.9 -.1l1 -.1l1 -.2l.9 .6l1 .7l1 .6l.9 .1l1 .3l1 -.3l.9 -.2l1 .2l1 .4l.9 .3l1 .3l1 -.3l.9 -.4l1 0l1 .1l.9 .3l1 .5l1 .5l.9 .2l1 .2l1 -.1l.9 0l1 .3l1 .1l.9 0l1 -.1l1 .3l.9 -.3l1 -.4l1 0l.9 .3l1 .2l1 .7l1 .5l.9 .5" fill="none" stroke="#60009f" stroke-width="4.00" stroke-linejoin="round" stroke-linecap="round" />
<path d="M98.1 1628.9l.9 -.1l1 -.1l1 -.3l1 -.1l.9 -.2l1 -.1l1 -.1l.9 .1l1 -.2l1 -.2l.9 0l1 -.3l1 0l.9 -.3l1 .3l1 -.4l.9 .2l1 -.3l1 .2l.9 -.4l1 .2l1 -.4l.9 .2l1 -.1l1 0l.9 0l1 -.2l1 -.2l.9 -.2l1 -.6l1 -.3l.9 -.1l1 -.1l1 -.2l.9 .1l1 -.2l1 -.4l.9 -.4l1 -.3l1 .1l1 .2l.9 .2l1 -.6l1 .1l.9 -.4l1 -.3l1 -.2l.9 -.1l1 -.2l1 -.4l.9 .1l1 -.3l1 0l.9 -.2l1 -.2l1 -.6l.9 0l1 -.2l1 -.2l.9 .3l1 0l1 -.4l.9 -.1l1 0l1 -.6l.9 -.2l1 .1l1 -.1l.9 -.3l1 -.1l1 -.4l.9 -.1l1 -.5l1 .1l1 -.2l.9 -.1l1 -.1l1 -.1l.9 -.6l1 -.2l1 -.4l.9 -.7l1 -.4l1 -.2l.9 -.4l1 -.3l1 -.3l.9 -.1l1 -.3l1 -.4l.9 -.2l1 -.3l1 -.6l.9 -.7l1 -.4l1 -.4l.9 -.4l1 -.5l1 -.3l.9 0l1 -.4l1 -.8l.9 -.3l1 -.9l1 -.5l.9 -.4l1 -.6l1 -.4l.9 -.4l1 -.4l1 -.7l1 -.3l.9 -.5l1 -.6l1 -.7l.9 -.4l1 -.3l1 -.3l.9 -.5l1 .2l1 -.3l.9 -.2l1 -.8l1 -.6l.9 -1.1l1 -.8l1 -.4l.9 -.1l1 -.4l1 -.4l.9 -.5l1 -1.2l1 -.8l.9 -.7l1 -1.2l1 -1.3l.9 -1l1 -.9l1 -1.3l.9 -1.1l1 -.7l1 -1.5l.9 -.9l1 -1l1 -.7l.9 -.9l1 -1l1 -1.8l1 -.7l.9 -1.4l1 -1.6l1 -.8l.9 -.8l1 -1.4l1 -1.1l.9 -1.3l1 -1.3l1 -1.5l.9 -1.4l1 -1.5l1 -1.3l.9 -1.8l1 -1.9l1 -1.9l.9 -1.9l1 -2.5l1 -2.5l.9 -2.8l1 -3.2l1 -3.2l.9 -3.5l1 -3.9l1 -4.3l.9 -4.6l1 -4.8l1 -5.4l.9 -5.2l1 -5.7l1 -6.1l.9 -5.8l1 -6.4l1 -7l1 -7.1l.9 -7.8l1 -9.2l.3 -3.2l.5 -4.3l.2 -.9l.3 -3.2l.5 -4.1l.1 -1.3l.3 -3.3l.5 -4.9l.2 -1.9l.3 -2.9l.4 -4.8l.3 -1.9l.2 -2.8l.5 -5l.2 -2.7l.3 -2.8l.4 -5.6l.3 -3.1l.2 -2.1l.5 -4.2l.3 -2.2l.1 -.7l.5 -1.3l.3 -.5l.2 -.2l.5 -.4l.3 -.2l.1 -.2l.5 -.8l.4 -.8l.1 -.1l.5 -.7l.3 -.3l.1 -.2l.5 -.2l.4 -.4l.1 .1l.4 -.3l.5 .2l0 -.2l.5 -.4l.4 -.3l.1 0l.4 .1l.5 .3l.5 .1l.4 .1l.1 -.6l.4 -.2l.5 .1l0 -.3l.5 .5l.4 .8l.1 .2l.4 .6l.5 .9l.1 0l.3 .3l.5 .5l.1 -.4l.4 .5l.5 .8l.1 .2l.3 .2l.5 1.6l.2 .1l.3 .6l.5 1.6l.1 1l.3 1l.5 4.3l.2 2l.3 2.8l.4 5.1l.3 2.7l.2 2.7l.5 5l.2 3l.3 2.3l.4 5l.3 2.6l.2 2.3l.5 4.2l.3 3.7l.1 1.6l.5 5l.3 3.2l.2 1.5l.5 3.9l.3 2.9l1 8l.9 7.5l1 7.2l1 6.7l1 6.7l.9 6.3l1 5.8l1 5.6l.9 5.6l1 5.1l1 4.6l.9 4.7l1 4.1l1 3.9l.9 3.7l1 3l1 2.6l.9 2.8l1 2.4l1 2.1l.9 2.8l1 2.6l1 1.8l.9 2l1 1.7l1 1.2l.9 1l1 1.1l1 1.1l.9 1.5l1 1.3l1 1.2l.9 1.5l1 1.2l1 1.1l.9 .9l1 1.5l1 1l1 1.2l.9 1l1 1.2l1 .9l.9 .8l1 1.4l1 .9l.9 .6l1 .6l1 .7l.9 .5l1 1.2l1 .9l.9 1.2l1 1l1 1.1l.9 .6l1 1.1l1 1l.9 1.3l1 .6l1 .4l.9 .2l1 0l1 -.1l.9 .6l1 .5l1 .7l.9 .6l1 1.2l1 -.1l.9 .7l1 .4l1 .4l.9 -.3l1 .7l1 .1l1 .3l.9 .6l1 .8l1 .5l.9 .5l1 .6l1 .4l.9 .5l1 .4l1 .5l.9 .6l1 .3l1 .2l.9 .3l1 .6l1 .1l.9 .4l1 .6l1 .4l.9 .2l1 .5l1 .2l.9 .7l1 .5l1 .2l.9 .6l1 .7l1 .4l.9 -.1l1 .8l1 0l.9 -.2l1 .1l1 .4l1 -.3l.9 .2l1 .3l1 .1l.9 .2l1 .4l1 .5l.9 .5l1 0l1 0l.9 .3l1 .1l1 0l.9 .2l1 .5l1 .2l.9 -.1l1 .7l1 .1l.9 0l1 -.1l1 .1l.9 -.1l1 .6l1 -.2l.9 .7l1 .3l1 .1l.9 .4l1 .3l1 -.1l.9 .1l1 -.2l1 0l.9 .3l1 .3l1 .1l1 .6l.9 .3l1 -.2l1 0l.9 -.3l1 -.1l1 -.5l.9 .3l1 .4l1 .5l.9 0l1 .7l1 .1l.9 .1l1 .4l1 .1l.9 -.3l1 .7l1 0l.9 -.2l1 .3l1 .2l.9 -.5l1 0l1 .4l.9 .1l1 .4l1 0l.9 -.1l1 .3l1 .1l.9 .2l1 .5l1 .1l.9 .1l1 0l1 0l1 .2l.9 .8" fill="none" stroke="#5000af" stroke-width="4.00" stroke-linejoin="round" stroke-linecap="round" />
<path d="M98.1 1629.2l.9 -.1l1 -.2l1 -.1l1 -.4l.9 .5l1 .1l1 -.1l.9 -.3l1 0l1 -.3l.9 -.1l1 .1l1 -.2l.9 -.2l1 -.3l1 -.2l.9 -.3l1 0l1 .1l.9 .1l1 -.4l1 -.4l.9 -.3l1 -.2l1 -.1l.9 -.2l1 0l1 .2l.9 -.3l1 -.2l1 -.1l.9 -.2l1 -.7l1 -.2l.9 -.3l1 0l1 -.2l.9 .1l1 0l1 0l1 -.2l.9 .2l1 -.4l1 -.3l.9 -.4l1 0l1 -.3l.9 .2l1 .3l1 -.1l.9 -.4l1 0l1 -.3l.9 -.3l1 .1l1 0l.9 -.2l1 -.2l1 -.5l.9 -.4l1 -.6l1 -.2l.9 .1l1 -.1l1 -.2l.9 .1l1 -.2l1 -.3l.9 .1l1 -.2l1 -.2l.9 -.1l1 -.3l1 -.5l1 -.3l.9 -.4l1 -.2l1 0l.9 -.3l1 0l1 -.1l.9 -.3l1 -.5l1 -.2l.9 -.3l1 -.6l1 -.6l.9 -.7l1 -.9l1 -.7l.9 -.4l1 -.3l1 .1l.9 -.1l1 -.3l1 -.2l.9 -.5l1 -.6l1 -.3l.9 -.6l1 -.5l1 -.5l.9 -.4l1 -.6l1 -.1l.9 -.4l1 -.1l1 -.8l.9 -.5l1 -.7l1 -.3l1 -.7l.9 .1l1 -.2l1 -.5l.9 -.6l1 -.1l1 -.6l.9 -.3l1 -.8l1 -.3l.9 -.8l1 -.6l1 -.4l.9 -.4l1 -.5l1 -.4l.9 -.7l1 -.9l1 -.8l.9 -.9l1 -1.2l1 -.7l.9 -.7l1 -.9l1 -.8l.9 -.9l1 -1.7l1 -.8l.9 -.5l1 -1.2l1 -1l.9 -.4l1 -1.4l1 -1.5l.9 -1.1l1 -1.1l1 -1.3l1 -1.1l.9 -1.2l1 -1.2l1 -1.1l.9 -1.4l1 -1l1 -1.4l.9 -1.2l1 -1.2l1 -1l.9 -1.6l1 -1l1 -1.8l.9 -1.8l1 -1.9l1 -2.1l.9 -2.5l1 -1.8l1 -2.6l.9 -2.7l1 -2.8l1 -2.9l.9 -3.6l1 -3.8l1 -4.1l.9 -4.6l1 -4.8l1 -5l.9 -5.5l1 -5.3l1 -6l.9 -6.3l1 -6.9l1 -6.9l1 -7.9l.9 -7.3l1 -8.5l.3 -3.3l.5 -4.1l.2 -.9l.3 -3.1l.5 -4l.1 -1.4l.3 -3.1l.5 -4.6l.2 -2.5l.3 -3.2l.4 -4.9l.3 -2.4l.2 -2.8l.5 -5.3l.2 -2.5l.3 -2.6l.4 -5.9l.3 -3.4l.2 -2.2l.5 -6.8l.3 -4.8l.1 -3l.5 -7.7l.3 -5l.2 -2.7l.5 -4.7l.3 -1.4l.1 -.6l.5 -1.1l.4 -.3l.1 -.3l.5 -.1l.3 -.4l.1 -.2l.5 -.3l.4 -.2l.1 -.5l.4 -.1l.5 -.5l0 -.1l0 .2l.5 0l.4 -.4l.1 .2l.4 -.6l.5 -.2l.5 0l.4 .3l.1 0l.4 .4l.5 .1l0 -.1l.5 .2l.4 .5l.1 .1l.4 .5l.5 .4l.1 0l.3 .2l.5 .2l.1 0l.4 .3l.5 1l.1 .4l.3 1.9l.5 5.4l.2 2.5l.3 5.1l.5 7.9l.1 2.9l.3 4.4l.5 6.6l.2 2.5l.3 3.2l.4 6l.3 2.4l.2 2.6l.5 5.3l.2 2.8l.3 2.6l.4 5.2l.3 3.3l.2 1.7l.5 4.8l.3 2.4l.1 1.4l.5 4.5l.3 3.2l.2 1.3l.5 4.5l.3 3l1 8.4l.9 7.8l1 7.3l1 6.9l1 6.8l.9 6.1l1 6l1 5.8l.9 5.6l1 5l1 5.2l.9 4.7l1 4.2l1 4l.9 3.3l1 2.6l1 2.5l.9 2.7l1 2l1 2.5l.9 2.5l1 2.1l1 1.6l.9 2.3l1 1.4l1 1.4l.9 1.2l1 1.5l1 .9l.9 1.4l1 1.1l1 1l.9 1.2l1 1.2l1 1.5l.9 1.1l1 1.3l1 1.2l1 1.5l.9 .6l1 1.3l1 1.3l.9 .8l1 .7l1 1.4l.9 .8l1 .7l1 1.5l.9 .9l1 .6l1 .7l.9 .7l1 .3l1 1.3l.9 1.1l1 .9l1 1.3l.9 1l1 .2l1 .5l.9 .8l1 .1l1 0l.9 .3l1 .3l1 .3l.9 .4l1 .9l1 .4l.9 .6l1 .3l1 .6l.9 .1l1 .6l1 .2l1 .2l.9 .4l1 .7l1 .6l.9 .7l1 .6l1 .3l.9 .1l1 .1l1 .6l.9 .9l1 .7l1 .9l.9 .7l1 .3l1 -.2l.9 .1l1 .6l1 .5l.9 .3l1 .7l1 .5l.9 0l1 0l1 0l.9 .4l1 .4l1 .4l.9 .7l1 .8l1 .1l.9 .5l1 0l1 .1l1 .1l.9 .4l1 .2l1 .7l.9 -.1l1 0l1 .6l.9 .1l1 .2l1 .2l.9 .4l1 -.3l1 .3l.9 -.2l1 .2l1 .4l.9 .3l1 -.3l1 .2l.9 .1l1 -.3l1 0l.9 .4l1 .3l1 .1l.9 .1l1 .1l1 .4l.9 0l1 .4l1 .5l.9 .2l1 .1l1 .2l.9 0l1 -.1l1 .3l1 .4l.9 .1l1 .5l1 -.1l.9 -.1l1 -.2l1 .5l.9 -.1l1 .6l1 0l.9 .3l1 0l1 .2l.9 -.5l1 .6l1 .2l.9 .3l1 .2l1 .4l.9 0l1 .2l1 -.2l.9 .1l1 .4l1 .2l.9 .1l1 .1l1 .6l.9 .2l1 .2l1 -.2l.9 .3l1 -.4l1 -.2l.9 -.2l1 .3l1 .1l1 -.3l.9 -.1" fill="none" stroke="#4200bd" stroke-width="4.00" stroke-linejoin="round" stroke-linecap="round" />
<path d="M98.1 1629.6l.9 -.2l1 -.2l1 -.2l1 .2l.9 -.1l1 .1l1 -.2l.9 -.1l1 -.5l1 -.4l.9 -.3l1 -.1l1 0l.9 .2l1 .1l1 -.1l.9 .2l1 -.3l1 0l.9 -.2l1 -.1l1 -.3l.9 -.4l1 -.6l1 .1l.9 -.2l1 0l1 0l.9 0l1 0l1 -.4l.9 -.2l1 -.2l1 -.3l.9 -.9l1 0l1 -.3l.9 -.2l1 .2l1 -.2l1 .1l.9 .2l1 0l1 -.5l.9 -.5l1 0l1 -.4l.9 -.4l1 .3l1 .3l.9 -.3l1 -.5l1 0l.9 -.4l1 -.2l1 0l.9 0l1 -.5l1 .1l.9 0l1 -.5l1 -.3l.9 .1l1 -.3l1 -.3l.9 .1l1 -.3l1 .2l.9 -.3l1 -.3l1 .1l.9 .3l1 -.6l1 -.1l1 -.3l.9 -.4l1 -.6l1 -.4l.9 -.2l1 .2l1 -.4l.9 0l1 .1l1 -.4l.9 -.6l1 -.4l1 -.5l.9 -.5l1 -.2l1 -.4l.9 -.3l1 -.4l1 -.6l.9 -.8l1 -.1l1 -.5l.9 -.7l1 -.4l1 -.2l.9 -1.1l1 -.6l1 -.6l.9 -.5l1 -.4l1 0l.9 -.4l1 -.2l1 -.5l.9 -.6l1 -.9l1 -.2l1 -.5l.9 -.5l1 -.3l1 -.2l.9 -.8l1 -.3l1 -.1l.9 -.5l1 -.6l1 -.5l.9 -.1l1 -.9l1 -.2l.9 -.3l1 -.4l1 -.9l.9 -.8l1 -1l1 -.3l.9 -.9l1 -.6l1 -.6l.9 -.8l1 -1.2l1 -.8l.9 -.6l1 -.9l1 -1l.9 -1.1l1 -1.3l1 -1.7l.9 -1l1 -1.4l1 -.8l.9 -.8l1 -.9l1 -1.6l1 -.9l.9 -1.4l1 -1.2l1 -1.2l.9 -1.1l1 -1.2l1 -1.2l.9 -1.6l1 -1.5l1 -1.5l.9 -1.6l1 -1.5l1 -1.3l.9 -1l1 -1.2l1 -1.8l.9 -1.8l1 -2.5l1 -2.9l.9 -2.5l1 -3.1l1 -3.5l.9 -3.3l1 -3.5l1 -4.9l.9 -4.3l1 -5l1 -5.3l.9 -5.6l1 -5.4l1 -6.2l.9 -6.4l1 -6.6l1 -6.9l1 -7.3l.9 -7.4l1 -8l.3 -3l.5 -4.4l.2 -1.5l.3 -3.4l.5 -4.7l.1 -1.5l.3 -3.1l.5 -4.4l.2 -2l.3 -2.8l.4 -4.8l.3 -2.4l.2 -2.9l.5 -5l.2 -2.8l.3 -2.7l.4 -5.8l.3 -3.2l.2 -2.9l.5 -6.6l.3 -4.8l.1 -2.9l.5 -8.3l.3 -5.4l.2 -3.2l.5 -8.6l.3 -6.3l.1 -2.5l.5 -10.1l.4 -6l.1 -1.7l.5 -2.5l.3 -.9l.1 0l.5 -.2l.4 -.3l.1 -.3l.4 -.2l.5 -.4l0 .2l.5 -.1l.4 -.6l.1 .5l.4 -.2l.5 0l.5 .2l.4 .2l.1 -.2l.4 .2l.5 0l0 .2l.5 .3l.4 .4l.1 -.1l.4 .5l.5 .6l.1 .3l.3 .6l.5 2.5l.1 1.2l.4 5.8l.5 10l.1 2.8l.3 6.9l.5 9l.2 3.2l.3 5.1l.5 8l.1 2.6l.3 4.6l.5 6.6l.2 2.8l.3 3.2l.4 5.9l.3 2.3l.2 2.5l.5 5.2l.2 3l.3 2.6l.4 5l.3 3l.2 2.1l.5 4.5l.3 2.7l.1 1.8l.5 4.7l.3 3l.2 1.3l.5 4.6l.3 2.9l1 8.2l.9 7.5l1 7.3l1 6.8l1 6.7l.9 6.3l1 6.1l1 5.4l.9 4.9l1 5.5l1 4.8l.9 4.9l1 4.5l1 4.2l.9 3.2l1 3.1l1 2.6l.9 2.4l1 2.7l1 2.4l.9 2.1l1 2.3l1 1.9l.9 1.7l1 1.1l1 1.2l.9 1.5l1 1.7l1 1.5l.9 1.2l1 1.6l1 .9l.9 .9l1 1.1l1 1.3l.9 1.1l1 1l1 1.1l1 1.2l.9 1.2l1 1.2l1 1.2l.9 1.2l1 1.1l1 1.2l.9 1l1 .8l1 .9l.9 .9l1 .7l1 .7l.9 .9l1 1.1l1 .6l.9 .8l1 .9l1 1.1l.9 .5l1 .8l1 .8l.9 .3l1 .3l1 .3l.9 .1l1 .5l1 .4l.9 .5l1 .7l1 .5l.9 .1l1 .2l1 .2l.9 0l1 .5l1 .5l1 .4l.9 .4l1 1l1 .4l.9 .8l1 .7l1 .6l.9 .4l1 .6l1 .3l.9 .3l1 .4l1 .2l.9 .2l1 .4l1 .9l.9 .7l1 .7l1 .7l.9 .4l1 .6l1 .4l.9 .7l1 .3l1 .4l.9 .1l1 .1l1 -.1l.9 0l1 .4l1 .1l.9 .4l1 .2l1 0l1 .2l.9 .4l1 -.2l1 .1l.9 .5l1 0l1 -.3l.9 .8l1 .5l1 .2l.9 -.1l1 .5l1 .2l.9 .2l1 .5l1 .3l.9 .2l1 -.5l1 .4l.9 0l1 0l1 -.2l.9 .5l1 -.1l1 0l.9 .6l1 .9l1 .1l.9 -.2l1 .2l1 -.2l.9 -.3l1 .1l1 .5l.9 0l1 .4l1 .1l1 .2l.9 .2l1 .4l1 .1l.9 .5l1 0l1 .2l.9 0l1 .2l1 -.3l.9 .7l1 0l1 .3l.9 0l1 .4l1 -.3l.9 .2l1 .1l1 -.1l.9 .1l1 -.1l1 .5l.9 0l1 .2l1 .3l.9 .6l1 -.5l1 .1l.9 .4l1 .1l1 -.3l.9 .1l1 .2l1 .2l.9 .1l1 .5l1 .4l1 .3l.9 .1" fill="none" stroke="#3700c8" stroke-width="4.00" stroke-linejoin="round" stroke-linecap="round" />
<path d="M98.1 1629.9l.9 -.2l1 -.3l1 .2l1 .1l.9 -.2l1 -.3l1 .2l.9 .2l1 -.4l1 -.4l.9 -.1l1 -.5l1 -.8l.9 -.2l1 .2l1 .2l.9 .3l1 .2l1 0l.9 -.1l1 -.5l1 -.4l.9 -.5l1 .1l1 -.2l.9 -.1l1 -.1l1 0l.9 -.3l1 -.2l1 -.1l.9 0l1 -.5l1 -.2l.9 -.7l1 .2l1 0l.9 .2l1 .1l1 .5l1 -.3l.9 -.7l1 -.4l1 -.7l.9 -.7l1 -.6l1 .1l.9 0l1 .1l1 -.1l.9 .1l1 -.2l1 -.3l.9 -.4l1 -.2l1 -.1l.9 -.1l1 -.4l1 .2l.9 -.1l1 -.5l1 -.1l.9 0l1 -.2l1 -.3l.9 .4l1 -.4l1 -.1l.9 0l1 -.3l1 -.6l.9 -.5l1 -.1l1 -.3l1 -.4l.9 0l1 .1l1 -.3l.9 -.5l1 -.3l1 -.7l.9 -.5l1 -.2l1 0l.9 -.2l1 -.5l1 -.2l.9 -.7l1 -.5l1 -.2l.9 -.2l1 -.3l1 0l.9 -.1l1 -.6l1 -.2l.9 -.4l1 -.8l1 -.6l.9 -.2l1 -.6l1 -.4l.9 -.3l1 -.8l1 -.3l.9 -.3l1 -.5l1 -.2l.9 -.1l1 -.8l1 -.5l1 -.6l.9 -.5l1 -.7l1 .1l.9 -.6l1 -.2l1 -.5l.9 -.4l1 -.7l1 -.4l.9 -.6l1 -.6l1 -.5l.9 -.5l1 -.5l1 -.3l.9 -.9l1 -.5l1 -1.1l.9 -.8l1 -.8l1 -.5l.9 -.9l1 -.6l1 -.7l.9 -.8l1 -1.3l1 -.9l.9 -1.2l1 -1.3l1 -1.4l.9 -.9l1 -1.6l1 -1.2l.9 -1.1l1 -.9l1 -1.1l1 -1.1l.9 -1.4l1 -1.2l1 -1.6l.9 -1l1 -1.2l1 -1l.9 -1.6l1 -1.2l1 -1.7l.9 -1.6l1 -1.2l1 -1.1l.9 -1.7l1 -1.5l1 -1.7l.9 -2.1l1 -2.6l1 -2.1l.9 -2.7l1 -3l1 -3l.9 -2.8l1 -4.3l1 -4.1l.9 -4.4l1 -5.2l1 -6l.9 -5.1l1 -5.8l1 -5.8l.9 -6.4l1 -6.4l1 -7l1 -7.3l.9 -7.8l1 -8.3l.3 -2.9l.5 -4.4l.2 -1.3l.3 -3l.5 -4.6l.1 -1.3l.3 -3.3l.5 -4.7l.2 -1.6l.3 -2.6l.4 -5.4l.3 -2.3l.2 -2.8l.5 -5.2l.2 -2.6l.3 -2.5l.4 -5.5l.3 -3l.2 -3.3l.5 -6.5l.3 -4.2l.1 -3.1l.5 -8.7l.3 -5.3l.2 -3l.5 -9.2l.3 -6.3l.1 -2.5l.5 -10.5l.4 -8.2l.1 -2.7l.5 -11.5l.3 -9.3l.1 -1.8l.5 -11.2l.4 -5.7l.1 -.8l.4 -1.3l.5 -.6l0 -.1l0 -.1l.5 -.1l.4 -.1l.1 .1l.4 .2l.5 .2l.5 .1l.4 0l.1 -.4l.4 0l.5 0l0 -.3l.5 .8l.4 1.2l.1 .5l.4 5.9l.5 11.3l.1 2.4l.3 9.5l.5 11.1l.1 3l.4 8l.5 9.6l.1 2.7l.3 6.6l.5 8.7l.2 3.2l.3 5.5l.5 8.3l.1 3.5l.3 4.3l.5 6.6l.2 3.2l.3 3.5l.4 5.3l.3 2.7l.2 2.5l.5 5.3l.2 2.7l.3 1.9l.4 4.7l.3 2.8l.2 1.5l.5 4.6l.3 3.4l.1 2.4l.5 4.9l.3 3.4l.2 1.4l.5 4.1l.3 2.5l1 8.1l.9 7.8l1 6.8l1 7.4l1 7.1l.9 6.2l1 5.7l1 5.8l.9 5.2l1 5.2l1 4.9l.9 4.8l1 4.5l1 4l.9 2.9l1 2.8l1 2.8l.9 2.3l1 2.2l1 2.5l.9 2.2l1 1.8l1 1.8l.9 1.8l1 1.8l1 1.6l.9 1.6l1 1.1l1 1.9l.9 .9l1 1.5l1 1.2l.9 1.6l1 .8l1 1.4l.9 .8l1 1.1l1 1.5l1 .9l.9 .9l1 1.4l1 1.1l.9 .9l1 1.4l1 1.4l.9 1.1l1 .5l1 1.3l.9 .7l1 1l1 .7l.9 1.2l1 .4l1 1.1l.9 .9l1 .9l1 1.1l.9 .5l1 .4l1 .2l.9 .7l1 .1l1 .8l.9 .6l1 .2l1 .6l.9 .4l1 .2l1 -.3l.9 .8l1 -.4l1 .3l.9 .5l1 1.1l1 .5l1 1.1l.9 .6l1 .9l1 .1l.9 .7l1 -.1l1 .1l.9 0l1 .5l1 .1l.9 .7l1 .7l1 .4l.9 .4l1 .5l1 .7l.9 .6l1 .5l1 .4l.9 .9l1 .2l1 0l.9 .1l1 .3l1 .4l.9 .2l1 1l1 .6l.9 .3l1 .2l1 .3l.9 -.2l1 .1l1 0l1 -.1l.9 .3l1 0l1 0l.9 .6l1 .3l1 .1l.9 .2l1 .1l1 .4l.9 .2l1 .3l1 .5l.9 .9l1 -.1l1 .2l.9 .2l1 .1l1 0l.9 .1l1 .3l1 .1l.9 .2l1 .1l1 .5l.9 .1l1 .3l1 0l.9 0l1 -.2l1 .1l.9 .1l1 .4l1 .2l.9 .3l1 .1l1 .3l1 0l.9 .1l1 .4l1 0l.9 -.1l1 .2l1 .2l.9 -.2l1 .6l1 .4l.9 0l1 .2l1 .5l.9 .4l1 -.3l1 .3l.9 .1l1 .4l1 -.3l.9 .3l1 .7l1 -.3l.9 -.6l1 .3l1 .2l.9 -.4l1 .6l1 .6l.9 0l1 -.2l1 .3l.9 -.1l1 .2l1 0l.9 .6l1 .3l1 0l1 .2l.9 .5" fill="none" stroke="#2900d6" stroke-width="4.00" stroke-linejoin="round" stroke-linecap="round" />
<path d="M98.1 1630.6l.9 0l1 -.6l1 .1l1 -.5l.9 -.4l1 -.2l1 .1l.9 -.3l1 .2l1 .2l.9 -.4l1 0l1 -.1l.9 -.2l1 .3l1 -.2l.9 -.1l1 -.1l1 -.4l.9 -.7l1 -.1l1 0l.9 -.3l1 0l1 0l.9 0l1 -.5l1 -.3l.9 -.2l1 0l1 0l.9 -.4l1 .1l1 .1l.9 .1l1 -.5l1 0l.9 -.4l1 -.4l1 -.4l1 0l.9 .1l1 -.3l1 -.5l.9 -.4l1 -.5l1 -.3l.9 .1l1 .5l1 .1l.9 .1l1 .1l1 -.3l.9 -.6l1 -.1l1 -.1l.9 -.3l1 -.1l1 -.5l.9 -.4l1 -.5l1 -.1l.9 -.1l1 .1l1 -.5l.9 .1l1 -.4l1 -.5l.9 -.6l1 0l1 -.2l.9 .1l1 -.1l1 0l1 -.1l.9 -.8l1 -.5l1 -.4l.9 -.4l1 -.8l1 -.2l.9 -.3l1 -.1l1 -.3l.9 .3l1 -.2l1 -.2l.9 -.1l1 -.1l1 -.5l.9 -.4l1 -.6l1 -.7l.9 -.7l1 -.5l1 -.3l.9 0l1 -.3l1 -.1l.9 -.2l1 -.5l1 -.5l.9 -1l1 -.6l1 -.5l.9 -.4l1 -.9l1 .5l.9 -.7l1 -.6l1 -.3l1 -.2l.9 -1l1 -.3l1 -.6l.9 -.4l1 -.4l1 0l.9 -.8l1 0l1 -.5l.9 -.1l1 -.8l1 0l.9 -.6l1 -.5l1 -1.1l.9 -.4l1 -.9l1 -1l.9 -1.1l1 -.8l1 -.7l.9 -.9l1 -.6l1 -.6l.9 -.8l1 -1.1l1 -1.1l.9 -.9l1 -1l1 -1l.9 -1.4l1 -.9l1 -1.5l.9 -1.4l1 -1l1 -1.2l1 -1.3l.9 -1l1 -.9l1 -1.4l.9 -.9l1 -1.1l1 -1.6l.9 -1.8l1 -1.6l1 -1.3l.9 -1.4l1 -1.6l1 -1.3l.9 -1.5l1 -2l1 -2l.9 -1.5l1 -2.3l1 -2.3l.9 -2.7l1 -2.9l1 -3.6l.9 -3.3l1 -4l1 -4.1l.9 -4.5l1 -4.9l1 -4.8l.9 -5.5l1 -5.5l1 -5.6l.9 -6.3l1 -6.7l1 -6.6l1 -7.3l.9 -8.4l1 -7.8l.3 -3.4l.5 -4.6l.2 -1.2l.3 -2.9l.5 -4.5l.1 -1.8l.3 -2.8l.5 -5.1l.2 -1.9l.3 -3.2l.4 -4.9l.3 -2.3l.2 -2.6l.5 -5.1l.2 -2.3l.3 -2.6l.4 -6.2l.3 -3.4l.2 -2.8l.5 -6.7l.3 -4.2l.1 -2.5l.5 -8l.3 -5.4l.2 -3.5l.5 -9l.3 -6.6l.1 -2.8l.5 -10.5l.4 -7.9l.1 -3.1l.5 -11.3l.3 -9.5l.1 -2l.5 -11.8l.4 -10.1l.1 -2l.4 -12.3l.5 -9.9l0 -.8l0 -.4l.5 -3.7l.4 -.7l.1 -.1l.4 -.3l.5 -.2l.5 0l.4 .3l.1 .3l.4 .5l.5 3.8l0 1.2l.5 9.9l.4 12.4l.1 1.8l.4 10.1l.5 11.6l.1 2.2l.3 9.1l.5 11.6l.1 3.4l.4 8.1l.5 10.4l.1 2.9l.3 6.1l.5 8.7l.2 3.1l.3 5.3l.5 8.1l.1 3.6l.3 4.5l.5 6.7l.2 3l.3 3.6l.4 5.3l.3 2.6l.2 2.4l.5 5.3l.2 2.6l.3 1.9l.4 4.9l.3 2.8l.2 2l.5 5l.3 3.6l.1 2l.5 4.9l.3 2.9l.2 1.1l.5 4l.3 2.7l1 8.1l.9 7.5l1 7.7l1 7.1l1 6.8l.9 6l1 6.2l1 5.4l.9 5.2l1 5l1 5.3l.9 4.8l1 3.8l1 3.9l.9 3.3l1 3l1 2.9l.9 3l1 2.4l1 2.6l.9 2.1l1 2.1l1 2.1l.9 1.5l1 1.6l1 1.6l.9 1.4l1 1.1l1 1.6l.9 1.2l1 1l1 1l.9 1.1l1 .9l1 1.1l.9 1.3l1 .9l1 .9l1 1.6l.9 1.4l1 1.4l1 1.2l.9 1.4l1 .9l1 1.1l.9 .9l1 1.1l1 .7l.9 .7l1 .5l1 .6l.9 .7l1 .7l1 1.4l.9 .9l1 .5l1 .6l.9 .6l1 .3l1 .8l.9 .7l1 .8l1 .7l.9 .6l1 .5l1 .6l.9 .5l1 .4l1 .2l.9 -.1l1 .4l1 .3l.9 .4l1 .5l1 .6l1 .2l.9 .4l1 .7l1 .5l.9 .7l1 .5l1 .3l.9 .3l1 .6l1 .1l.9 .8l1 .8l1 .6l.9 .3l1 .5l1 0l.9 .2l1 .3l1 .6l.9 .2l1 .6l1 .2l.9 .5l1 -.4l1 .4l.9 .9l1 .6l1 0l.9 .7l1 .7l1 0l.9 .1l1 .4l1 .3l1 .1l.9 .3l1 .3l1 .3l.9 .3l1 .1l1 .2l.9 0l1 .2l1 -.1l.9 .2l1 .2l1 .5l.9 .6l1 .5l1 .2l.9 .4l1 .1l1 .1l.9 -.3l1 .5l1 -.2l.9 .3l1 -.2l1 .6l.9 -.2l1 0l1 -.2l.9 .2l1 0l1 -.2l.9 .3l1 .2l1 .2l.9 .2l1 .4l1 .1l1 .4l.9 .2l1 .3l1 .2l.9 .5l1 0l1 .3l.9 0l1 .3l1 -.1l.9 .3l1 0l1 .1l.9 .2l1 .8l1 .2l.9 .5l1 .2l1 .2l.9 -.3l1 .4l1 0l.9 .6l1 .2l1 -.3l.9 .1l1 0l1 -.7l.9 -.2l1 .3l1 0l.9 .1l1 .2l1 .5l.9 .3l1 .3l1 .1l1 .4l.9 -.1" fill="none" stroke="#1700e8" stroke-width="4.00" stroke-linejoin="round" stroke-linecap="round" />
<path d="M98.1 1629.4l.9 -.4l1 -.2l1 -.6l1 .1l.9 -.4l1 .1l1 .2l.9 .1l1 -.1l1 .1l.9 -.2l1 -.5l1 0l.9 -.1l1 -.1l1 .1l.9 -.2l1 0l1 0l.9 -.3l1 -.2l1 -.1l.9 -.2l1 0l1 0l.9 -.3l1 0l1 -.1l.9 -.2l1 -.4l1 -.1l.9 -.2l1 -.4l1 -.2l.9 -.2l1 -.1l1 -.4l.9 .1l1 -.2l1 .3l1 .2l.9 .3l1 -.4l1 -.2l.9 -.6l1 -.3l1 -.4l.9 .2l1 -.1l1 .1l.9 .2l1 .1l1 .2l.9 -.1l1 .2l1 -.5l.9 .1l1 -.5l1 -.2l.9 -.3l1 -.2l1 -.4l.9 -.1l1 0l1 0l.9 -.1l1 -.1l1 -.2l.9 -.6l1 -.4l1 -.2l.9 .2l1 0l1 .3l1 .1l.9 .3l1 -.6l1 -.1l.9 -.4l1 -.5l1 -.7l.9 -.4l1 0l1 -.2l.9 0l1 -.1l1 -.2l.9 -.5l1 -.3l1 -.1l.9 -.1l1 -.5l1 -.3l.9 -.1l1 -.7l1 -.6l.9 -.1l1 -.2l1 -.6l.9 -.3l1 -.3l1 -.3l.9 -.5l1 -.2l1 -.3l.9 -.8l1 -.8l1 -.5l.9 -.9l1 -.5l1 -.2l1 -.1l.9 -.3l1 -.2l1 -.8l.9 -.6l1 -.7l1 -.7l.9 -.6l1 -.3l1 -.5l.9 -.3l1 -.3l1 -.8l.9 -.6l1 -.3l1 -.7l.9 -.7l1 -.4l1 -.3l.9 -.6l1 -.5l1 -.6l.9 -.2l1 -.7l1 -.6l.9 -1.2l1 -.7l1 -1l.9 -1.3l1 -1.2l1 -1l.9 -1.1l1 -.9l1 -1.1l.9 -.8l1 -1.1l1 -1.4l1 -1.2l.9 -1.2l1 -1.7l1 -1.2l.9 -1l1 -1.6l1 -1l.9 -.9l1 -1.5l1 -1.1l.9 -1.2l1 -1.5l1 -2.1l.9 -1.2l1 -2.1l1 -1.6l.9 -2.2l1 -1.3l1 -2l.9 -1.9l1 -3.1l1 -2.2l.9 -3.1l1 -3.9l1 -3.9l.9 -3.3l1 -4.4l1 -5.1l.9 -4.8l1 -5.5l1 -5.8l.9 -6.4l1 -6.2l1 -6.9l1 -7.6l.9 -7.8l1 -8.2l.3 -3.4l.5 -4.2l.2 -1.1l.3 -3.2l.5 -4.4l.1 -1.5l.3 -3.4l.5 -5.1l.2 -1.9l.3 -3.1l.4 -5.2l.3 -2.3l.2 -2.5l.5 -5.5l.2 -3.1l.3 -2.8l.4 -5.6l.3 -3.3l.2 -2.9l.5 -6.3l.3 -4.1l.1 -3.1l.5 -7.8l.3 -5.2l.2 -2.8l.5 -9l.3 -6.6l.1 -2.7l.5 -10.3l.4 -8l.1 -3.2l.5 -12.1l.3 -10l.1 -2.8l.5 -13.3l.4 -11.2l.1 -1.9l.4 -14.3l.5 -12.5l0 -1.4l.5 -14l.4 -13.1l.1 -.6l.4 -14l.5 -14.3l.5 14.3l.4 14.4l.1 .6l.4 13.5l.5 13.9l0 1.4l.5 12.8l.4 13.7l.1 2.1l.4 11.4l.5 12.7l.1 1.9l.3 10l.5 11.6l.1 2.6l.4 8.2l.5 10.8l.1 2.9l.3 6.9l.5 9.4l.2 3.4l.3 5.3l.5 7.8l.1 2.8l.3 3.6l.5 6.5l.2 2.8l.3 3.2l.4 6.1l.3 3l.2 2l.5 5.6l.2 2.9l.3 1.8l.4 5.3l.3 3.7l.2 1.5l.5 4.9l.3 3.8l.1 2l.5 4.5l.3 3.4l.2 1.1l.5 3.9l.3 2.8l1 8.1l.9 7.5l1 8l1 6.9l1 6.4l.9 6.2l1 6.4l1 5.6l.9 5.2l1 5.2l1 4.7l.9 3.6l1 2.8l1 3.1l.9 2.9l1 2.4l1 2.3l.9 2.4l1 2.5l1 2.1l.9 1.9l1 2.3l1 1.5l.9 1.3l1 1.1l1 1.5l.9 1l1 1.1l1 1.2l.9 1.8l1 1.4l1 1.3l.9 1.8l1 1.2l1 .9l.9 .9l1 1l1 1l1 1.5l.9 1.4l1 1.4l1 1.7l.9 1l1 .9l1 .8l.9 .6l1 .4l1 1l.9 .7l1 .8l1 1.1l.9 .5l1 .1l1 .8l.9 .3l1 .3l1 .6l.9 1l1 .6l1 .8l.9 .4l1 .3l1 -.1l.9 -.1l1 .2l1 .6l.9 .5l1 .9l1 .6l.9 .4l1 .1l1 .8l.9 .2l1 1l1 .6l1 .9l.9 .4l1 1l1 .5l.9 .5l1 .2l1 .3l.9 .1l1 .3l1 .6l.9 .6l1 .6l1 .4l.9 .5l1 .1l1 .4l.9 .4l1 .2l1 0l.9 .8l1 .2l1 -.2l.9 .1l1 .6l1 -.1l.9 .5l1 .8l1 .4l.9 .1l1 .2l1 -.1l.9 -.2l1 .3l1 -.1l1 .2l.9 .3l1 .4l1 -.4l.9 .1l1 0l1 .1l.9 .1l1 .6l1 .8l.9 .4l1 .3l1 0l.9 .2l1 -.1l1 .2l.9 0l1 .3l1 .3l.9 -.2l1 -.4l1 .3l.9 .2l1 -.2l1 .2l.9 1l1 -.1l1 -.2l.9 .1l1 .3l1 -.5l.9 .1l1 .4l1 .2l.9 0l1 .2l1 0l1 .1l.9 0l1 .3l1 -.1l.9 .3l1 -.2l1 .2l.9 -.3l1 .6l1 .1l.9 .6l1 -.2l1 .1l.9 -.1l1 -.2l1 .3l.9 .3l1 .4l1 .2l.9 .3l1 0l1 .1l.9 .1l1 .3l1 .1l.9 0l1 .2l1 0l.9 0l1 0l1 -.2l.9 .2l1 0l1 .1l.9 .1l1 .6l1 -.1l1 -.1l.9 .1" fill="none" stroke="#0000ff" stroke-width="5.00" stroke-linejoin="round" stroke-linecap="round" />
</g>
<rect x="103.1" y="1128.4" width="377.7" height="549.2" fill="none" stroke="#262626" stroke-width="2.00"/>
<line x1="102.8" y1="1677.6" x2="102.8" y2="1673.8" stroke="#262626" stroke-width="2.0"/>
<line x1="102.8" y1="1128.4" x2="102.8" y2="1132.2" stroke="#262626" stroke-width="2.0"/>
<line x1="197.2" y1="1677.6" x2="197.2" y2="1673.8" stroke="#262626" stroke-width="2.0"/>
<line x1="197.2" y1="1128.4" x2="197.2" y2="1132.2" stroke="#262626" stroke-width="2.0"/>
<line x1="291.6" y1="1677.6" x2="291.6" y2="1673.8" stroke="#262626" stroke-width="2.0"/>
<line x1="291.6" y1="1128.4" x2="291.6" y2="1132.2" stroke="#262626" stroke-width="2.0"/>
<line x1="386.0" y1="1677.6" x2="386.0" y2="1673.8" stroke="#262626" stroke-width="2.0"/>
<line x1="386.0" y1="1128.4" x2="386.0" y2="1132.2" stroke="#262626" stroke-width="2.0"/>
<line x1="480.4" y1="1677.6" x2="480.4" y2="1673.8" stroke="#262626" stroke-width="2.0"/>
<line x1="480.4" y1="1128.4" x2="480.4" y2="1132.2" stroke="#262626" stroke-width="2.0"/>
<line x1="103.1" y1="1677.6" x2="106.9" y2="1677.6" stroke="#262626" stroke-width="2.0"/>
<line x1="480.8" y1="1677.6" x2="477.0" y2="1677.6" stroke="#262626" stroke-width="2.0"/>
<line x1="103.1" y1="1474.2" x2="106.9" y2="1474.2" stroke="#262626" stroke-width="2.0"/>
<line x1="480.8" y1="1474.2" x2="477.0" y2="1474.2" stroke="#262626" stroke-width="2.0"/>
<line x1="103.1" y1="1270.8" x2="106.9" y2="1270.8" stroke="#262626" stroke-width="2.0"/>
<line x1="480.8" y1="1270.8" x2="477.0" y2="1270.8" stroke="#262626" stroke-width="2.0"/>
<line x1="103.1" y1="1616.4" x2="105.5" y2="1616.4" stroke="#262626" stroke-width="1.8"/>
<line x1="480.8" y1="1616.4" x2="478.4" y2="1616.4" stroke="#262626" stroke-width="1.8"/>
<line x1="103.1" y1="1580.6" x2="105.5" y2="1580.6" stroke="#262626" stroke-width="1.8"/>
<line x1="480.8" y1="1580.6" x2="478.4" y2="1580.6" stroke="#262626" stroke-width="1.8"/>
<line x1="103.1" y1="1555.1" x2="105.5" y2="1555.1" stroke="#262626" stroke-width="1.8"/>
<line x1="480.8" y1="1555.1" x2="478.4" y2="1555.1" stroke="#262626" stroke-width="1.8"/>
<line x1="103.1" y1="1535.4" x2="105.5" y2="1535.4" stroke="#262626" stroke-width="1.8"/>
<line x1="480.8" y1="1535.4" x2="478.4" y2="1535.4" stroke="#262626" stroke-width="1.8"/>
<line x1="103.1" y1="1519.3" x2="105.5" y2="1519.3" stroke="#262626" stroke-width="1.8"/>
<line x1="480.8" y1="1519.3" x2="478.4" y2="1519.3" stroke="#262626" stroke-width="1.8"/>
<line x1="103.1" y1="1505.7" x2="105.5" y2="1505.7" stroke="#262626" stroke-width="1.8"/>
<line x1="480.8" y1="1505.7" x2="478.4" y2="1505.7" stroke="#262626" stroke-width="1.8"/>
<line x1="103.1" y1="1493.9" x2="105.5" y2="1493.9" stroke="#262626" stroke-width="1.8"/>
<line x1="480.8" y1="1493.9" x2="478.4" y2="1493.9" stroke="#262626" stroke-width="1.8"/>
<line x1="103.1" y1="1483.5" x2="105.5" y2="1483.5" stroke="#262626" stroke-width="1.8"/>
<line x1="480.8" y1="1483.5" x2="478.4" y2="1483.5" stroke="#262626" stroke-width="1.8"/>
<line x1="103.1" y1="1413.0" x2="105.5" y2="1413.0" stroke="#262626" stroke-width="1.8"/>
<line x1="480.8" y1="1413.0" x2="478.4" y2="1413.0" stroke="#262626" stroke-width="1.8"/>
<line x1="103.1" y1="1377.2" x2="105.5" y2="1377.2" stroke="#262626" stroke-width="1.8"/>
<line x1="480.8" y1="1377.2" x2="478.4" y2="1377.2" stroke="#262626" stroke-width="1.8"/>
<line x1="103.1" y1="1351.7" x2="105.5" y2="1351.7" stroke="#262626" stroke-width="1.8"/>
<line x1="480.8" y1="1351.7" x2="478.4" y2="1351.7" stroke="#262626" stroke-width="1.8"/>
<line x1="103.1" y1="1332.0" x2="105.5" y2="1332.0" stroke="#262626" stroke-width="1.8"/>
<line x1="480.8" y1="1332.0" x2="478.4" y2="1332.0" stroke="#262626" stroke-width="1.8"/>
<line x1="103.1" y1="1315.9" x2="105.5" y2="1315.9" stroke="#262626" stroke-width="1.8"/>
<line x1="480.8" y1="1315.9" x2="478.4" y2="1315.9" stroke="#262626" stroke-width="1.8"/>
<line x1="103.1" y1="1302.3" x2="105.5" y2="1302.3" stroke="#262626" stroke-width="1.8"/>
<line x1="480.8" y1="1302.3" x2="478.4" y2="1302.3" stroke="#262626" stroke-width="1.8"/>
<line x1="103.1" y1="1290.5" x2="105.5" y2="1290.5" stroke="#262626" stroke-width="1.8"/>
<line x1="480.8" y1="1290.5" x2="478.4" y2="1290.5" stroke="#262626" stroke-width="1.8"/>
<line x1="103.1" y1="1280.1" x2="105.5" y2="1280.1" stroke="#262626" stroke-width="1.8"/>
<line x1="480.8" y1="1280.1" x2="478.4" y2="1280.1" stroke="#262626" stroke-width="1.8"/>
<line x1="103.1" y1="1209.6" x2="105.5" y2="1209.6" stroke="#262626" stroke-width="1.8"/>
<line x1="480.8" y1="1209.6" x2="478.4" y2="1209.6" stroke="#262626" stroke-width="1.8"/>
<line x1="103.1" y1="1173.8" x2="105.5" y2="1173.8" stroke="#262626" stroke-width="1.8"/>
<line x1="480.8" y1="1173.8" x2="478.4" y2="1173.8" stroke="#262626" stroke-width="1.8"/>
<line x1="103.1" y1="1148.3" x2="105.5" y2="1148.3" stroke="#262626" stroke-width="1.8"/>
<line x1="480.8" y1="1148.3" x2="478.4" y2="1148.3" stroke="#262626" stroke-width="1.8"/>
<line x1="103.1" y1="1128.6" x2="105.5" y2="1128.6" stroke="#262626" stroke-width="1.8"/>
<line x1="480.8" y1="1128.6" x2="478.4" y2="1128.6" stroke="#262626" stroke-width="1.8"/>
<text transform="translate(98.1,1692.0) scale(1,1.050)" font-size="33.5" text-anchor="end" fill="#262626">10<tspan font-size="21.8" dy="-10.2">4</tspan></text>
<text transform="translate(98.1,1486.5) scale(1,1.050)" font-size="33.5" text-anchor="end" fill="#262626">10<tspan font-size="21.8" dy="-10.2">5</tspan></text>
<text transform="translate(98.1,1283.1) scale(1,1.050)" font-size="33.5" text-anchor="end" fill="#262626">10<tspan font-size="21.8" dy="-10.2">6</tspan></text>
<text transform="translate(103.8,1710.7) scale(1,1.050)" font-size="33.5" text-anchor="middle" fill="#262626" font-weight="normal" font-style="normal" >-4</text>
<text transform="translate(198.2,1710.7) scale(1,1.050)" font-size="33.5" text-anchor="middle" fill="#262626" font-weight="normal" font-style="normal" >-2</text>
<text transform="translate(292.6,1710.7) scale(1,1.050)" font-size="33.5" text-anchor="middle" fill="#262626" font-weight="normal" font-style="normal" >0</text>
<text transform="translate(387.0,1710.7) scale(1,1.050)" font-size="33.5" text-anchor="middle" fill="#262626" font-weight="normal" font-style="normal" >2</text>
<text transform="translate(481.4,1710.7) scale(1,1.050)" font-size="33.5" text-anchor="middle" fill="#262626" font-weight="normal" font-style="normal" >4</text>
<text transform="translate(294,1757.4) scale(1,1.050)" font-size="33" text-anchor="middle" fill="#262626"><tspan font-style="italic">V</tspan> (mV)</text>
<text transform="translate(29,1399) rotate(-90) scale(1,1.050)" font-size="33" text-anchor="middle" fill="#262626">(d<tspan font-style="italic">V</tspan>/d<tspan font-style="italic">I</tspan>)<tspan font-size="22" dy="8">hard</tspan><tspan dy="-8"> (&#937;)</tspan></text>
<text transform="translate(307,1171.6) scale(1,1.050)" font-size="33" text-anchor="middle" fill="#000">(d<tspan font-style="italic">V</tspan>/d<tspan font-style="italic">I</tspan>)<tspan font-size="22.5" dy="8">hard</tspan></text>
<text transform="translate(461.0,1171.6) scale(1,1.050)" font-size="38.0" text-anchor="end" fill="#000" font-weight="bold" font-style="normal" >g</text>
<line x1="121.3" y1="1188.4" x2="141.8" y2="1188.4" stroke="#0000ff" stroke-width="5"/>
<text transform="translate(149.3,1197.9) scale(1,1.050)" font-size="29.0" text-anchor="start" fill="#000" font-weight="normal" font-style="normal" >50 mK</text>
<line x1="121.3" y1="1215.8" x2="141.8" y2="1215.8" stroke="#1700e8" stroke-width="5"/>
<text transform="translate(149.3,1225.3) scale(1,1.050)" font-size="29.0" text-anchor="start" fill="#000" font-weight="normal" font-style="normal" >70</text>
<line x1="121.3" y1="1243.2" x2="141.8" y2="1243.2" stroke="#2900d6" stroke-width="5"/>
<text transform="translate(149.3,1252.7) scale(1,1.050)" font-size="29.0" text-anchor="start" fill="#000" font-weight="normal" font-style="normal" >90</text>
<line x1="121.3" y1="1270.6" x2="141.8" y2="1270.6" stroke="#3700c8" stroke-width="5"/>
<text transform="translate(149.3,1280.1) scale(1,1.050)" font-size="29.0" text-anchor="start" fill="#000" font-weight="normal" font-style="normal" >110</text>
<line x1="121.3" y1="1298.0" x2="141.8" y2="1298.0" stroke="#4200bd" stroke-width="5"/>
<text transform="translate(149.3,1307.5) scale(1,1.050)" font-size="29.0" text-anchor="start" fill="#000" font-weight="normal" font-style="normal" >130</text>
<line x1="121.3" y1="1325.4" x2="141.8" y2="1325.4" stroke="#5000af" stroke-width="5"/>
<text transform="translate(149.3,1334.9) scale(1,1.050)" font-size="29.0" text-anchor="start" fill="#000" font-weight="normal" font-style="normal" >160</text>
<line x1="121.3" y1="1352.7" x2="141.8" y2="1352.7" stroke="#60009f" stroke-width="5"/>
<text transform="translate(149.3,1362.2) scale(1,1.050)" font-size="29.0" text-anchor="start" fill="#000" font-weight="normal" font-style="normal" >200</text>
<line x1="121.3" y1="1380.1" x2="141.8" y2="1380.1" stroke="#6f0090" stroke-width="5"/>
<text transform="translate(149.3,1389.6) scale(1,1.050)" font-size="29.0" text-anchor="start" fill="#000" font-weight="normal" font-style="normal" >250</text>
<line x1="121.3" y1="1407.5" x2="141.8" y2="1407.5" stroke="#80007f" stroke-width="5"/>
<text transform="translate(149.3,1417.0) scale(1,1.050)" font-size="29.0" text-anchor="start" fill="#000" font-weight="normal" font-style="normal" >320</text>
<line x1="121.3" y1="1434.9" x2="141.8" y2="1434.9" stroke="#90006f" stroke-width="5"/>
<text transform="translate(149.3,1444.4) scale(1,1.050)" font-size="29.0" text-anchor="start" fill="#000" font-weight="normal" font-style="normal" >400</text>
<line x1="121.3" y1="1462.3" x2="141.8" y2="1462.3" stroke="#a2005d" stroke-width="5"/>
<text transform="translate(149.3,1471.8) scale(1,1.050)" font-size="29.0" text-anchor="start" fill="#000" font-weight="normal" font-style="normal" >520</text>
<line x1="121.3" y1="1489.7" x2="141.8" y2="1489.7" stroke="#b60049" stroke-width="5"/>
<text transform="translate(149.3,1499.2) scale(1,1.050)" font-size="29.0" text-anchor="start" fill="#000" font-weight="normal" font-style="normal" >700</text>
<line x1="121.3" y1="1517.1" x2="141.8" y2="1517.1" stroke="#cf0030" stroke-width="5"/>
<text transform="translate(149.3,1526.6) scale(1,1.050)" font-size="29.0" text-anchor="start" fill="#000" font-weight="normal" font-style="normal" >1.0 K</text>
<line x1="121.3" y1="1544.5" x2="141.8" y2="1544.5" stroke="#e60019" stroke-width="5"/>
<text transform="translate(149.3,1554.0) scale(1,1.050)" font-size="29.0" text-anchor="start" fill="#000" font-weight="normal" font-style="normal" >1.4</text>
<line x1="121.3" y1="1571.9" x2="141.8" y2="1571.9" stroke="#ff0000" stroke-width="5"/>
<text transform="translate(149.3,1581.4) scale(1,1.050)" font-size="29.0" text-anchor="start" fill="#000" font-weight="normal" font-style="normal" >2.0</text>
<text transform="translate(308.0,1242.5) scale(1,1.050)" font-size="28.4" text-anchor="start" fill="#000" font-weight="normal" font-style="normal" >Device 1</text>
<text transform="translate(309,1276) scale(1,1.050)" font-size="28.4" fill="#000"><tspan font-style="italic">V</tspan><tspan font-size="19" dy="7">tg</tspan><tspan dy="-7"> = 1.00 V</tspan></text>
<text transform="translate(309,1311.5) scale(1,1.050)" font-size="28.4" fill="#000"><tspan font-style="italic">V</tspan><tspan font-size="19" dy="7">bg</tspan><tspan dy="-7"> = -3.00 V</tspan></text>
<clipPath id="clh"><rect x="609.5" y="1128.1" width="377.5" height="549.7"/></clipPath>
<g clip-path="url(#clh)">
<path d="M601.8 1489.8l.8 .6l.8 -.1l.8 -.3l.8 .7l.8 -.5l.8 -.3l.9 0l.8 .2l.8 -.6l.8 .2l.8 0l.8 -.3l.8 0l.9 .6l.8 0l.8 -.1l.8 .1l.8 .2l.8 -.1l.9 -.1l.8 -.2l.8 .1l.8 -.2l.8 0l.8 .3l.8 .5l.9 .3l.8 .1l.8 0l.8 -.2l.8 -.4l.8 -.2l.8 -.2l.9 0l.8 -.1l.8 .6l.8 .2l.8 .1l.8 .2l.8 -.1l.9 -.2l.8 .1l.8 .7l.8 -.4l.8 .1l.8 -.3l.9 -.1l.8 -.5l.8 0l.8 -.1l.8 .1l.8 .1l.8 -.4l.9 -.1l.8 .4l.8 .1l.8 .1l.8 0l.8 .3l.8 -.2l.9 -.1l.8 -.3l.8 .2l.8 .3l.8 -.1l.8 -.3l.8 0l.9 -.2l.8 -.2l.8 .1l.8 0l.8 .4l.8 .2l.9 -.1l.8 .4l.8 -.1l.8 -.3l.8 -.1l.8 0l.8 -.4l.9 .1l.8 -.3l.8 -.1l.8 .2l.8 .2l.8 0l.8 .9l.9 .2l.8 -.1l.8 0l.8 -.1l.8 -.5l.8 -.2l.8 .4l.9 -.2l.8 .1l.8 0l.8 -.2l.8 -.2l.8 .4l.8 -.3l.9 .4l.8 .5l.8 -.2l.8 -.3l.8 0l.8 -.5l.9 -.1l.8 -.3l.8 -.1l.8 0l.8 -.1l.8 -.1l.8 .1l.9 .4l.8 .4l.8 .1l.8 -.4l.8 .1l.8 0l.8 -.3l.9 .1l.8 .5l.8 -.3l.8 -.7l.8 .2l.8 -.2l.8 .1l.9 .2l.8 .6l.8 .1l.8 -.1l.8 -.1l.8 -.2l.9 .1l.8 -.2l.8 .4l.8 0l.8 -.1l.8 .1l.8 .1l.9 .1l.8 .4l.8 .5l.8 -.3l.8 -.4l.8 -.2l.8 -.2l.9 -.4l.8 .4l.8 .3l.8 -.2l.8 -.1l.8 .1l.8 -.2l.9 -.3l.8 .3l.8 -.4l.8 .3l.8 -.5l.8 0l.9 -.2l.8 .6l.8 0l.8 .4l.8 -.1l.8 .1l.8 -.5l.9 .4l.8 -.5l.8 .2l.8 -.6l.8 .4l.8 -.7l.8 1l.9 -.1l.8 .8l.8 -.2l.8 .5l.8 -.4l.8 -.6l.8 -.4l.9 -.4l.8 0l.8 .1l.8 .7l.8 .2l.8 .4l.9 -.3l.8 .3l.8 .1l.8 -.2l.8 -.4l.8 0l.8 -.4l.9 -.1l.8 -.1l.8 .4l.8 -.2l.8 0l.8 -.3l.8 -.1l.9 -.1l.8 .4l.8 .1l.8 .4l.8 0l.8 0l.8 0l.9 .2l.8 -.4l.8 .2l.8 .1l.8 -.1l.8 -.3l.9 .5l.8 -.2l.8 .3l.8 -.3l.8 0l.8 0l.8 .5l.9 -.1l.8 .5l.8 .2l.8 -.1l.8 -.1l.8 .1l.8 -.3l.9 -.6l.8 -.2l.8 .1l.8 -.1l.8 .1l.8 .4l.8 .4l.9 -.1l.8 -.7l.8 -.1l.8 -.1l.8 0l.8 -.3l.9 .4l.8 .2l.8 -.5l.8 .6l.8 .2l.8 .2l.8 -.2l.9 .7l.8 -.2l.8 .2l.8 -.2l.8 -.1l.8 -.1l.8 -.5l.9 -.2l.8 -.3l.8 .2l.8 0l.8 0l.8 0l.8 .1l.9 -.3l.8 -.1l.8 .3l.8 -.3l.8 .1l.8 .5l.9 .1l.8 -.3l.8 .1l.8 .1l.8 -.1l.8 0l.8 -.1l.9 -.1l.8 0l.8 -.1l.8 .1l.8 0l.8 0l.8 .2l.9 .2l.8 -.1l.8 .7l.8 0l.8 .1l.8 -.3l.8 -.3l.9 -.4l.8 .1l.8 -.1l.8 .1l.8 .1l.8 -.2l.9 -.1l.8 0l.8 .2l.8 -.7l.8 .3l.8 .3l.8 .2l.9 -.1l.8 .9l.8 -.2l.8 -.3l.8 -.2l.8 -.3l.8 -.4l.9 .2l.8 -.3l.8 -.1l.8 -.1l.8 .2l.8 0l.8 .2l.9 -.3l.8 .3l.8 -.6l.8 -.1l.8 .2l.8 .5l.9 0l.8 .4l.8 .4l.8 .4l.8 -.4l.8 .4l.8 .3l.9 -.2l.8 -.6l.8 -.1l.8 -.1l.8 .2l.8 -.1l.8 .5l.9 .7l.8 -.4l.8 -.7l.8 .4l.8 -.1l.8 -.4l.8 .3l.9 .3l.8 -.5l.8 .4l.8 -.4l.8 -.4l.8 -.1l.9 .4l.8 -.6l.8 .2l.8 .2l.8 -.1l.8 -.5l.8 -.2l.9 -.3l.8 .1l.8 .5l.8 .2l.8 .3l.8 .8l.8 0l.9 -.7l.8 .2l.8 -.3l.8 -.5l.8 .4l.8 0l.8 -.2l.9 .6l.8 -.3l.8 -.4l.8 .3l.8 0l.8 -.5l.9 .6l.8 0l.8 0l.8 0l.8 .1l.8 -.6l.8 .3l.9 -.2l.8 .4l.8 -.2l.8 .2l.8 -.1l.8 .1l.8 -.4l.9 .2l.8 -.2l.8 -.1l.8 -.6l.8 .2l.8 .3l.8 .5l.9 .2l.8 .5l.8 .1l.8 -.4l.8 -.2l.8 -.2l.8 -.7l.9 .1l.8 .2l.8 .2l.8 -.2l.8 .9l.8 -.1l.9 -.6l.8 -.6l.8 .2l.8 -.3l.8 -.1l.8 .4l.8 .7l.9 -.4l.8 -.2l.8 -.2l.8 -.2l.8 -.5l.8 .5l.8 0l.9 .3l.8 .6l.8 .4l.8 .5l.8 .5l.8 0l.8 .1l.9 -.1l.8 -.1l.8 -.3l.8 -.4l.8 -.7l.8 -.1l.9 -.4l.8 0l.8 .8l.8 0l.8 -.2l.8 .1l.8 0l.9 -.2l.8 .6l.8 .4l.8 -.4l.8 .1l.8 -.5l.8 -.3l.9 -.2l.8 -.2l.8 .3l.8 .9l.8 .1l.8 .1l.8 .8l.9 -.4l.8 -.2l.8 -.1l.8 -.5l.8 -.6l.8 -.1l.9 0l.8 0l.8 .6l.8 .1l.8 -.2l.8 .2l.8 .6l.9 -.1l.8 .1l.8 .5l.8 -.7l.8 -.7l.8 -.4l.8 .2" fill="none" stroke="#ff0000" stroke-width="5.50" stroke-linejoin="round" stroke-linecap="round" />
<path d="M601.8 1482.7l.8 .2l.8 0l.8 .4l.8 .1l.8 .2l.8 -.4l.9 0l.8 -.1l.8 -.3l.8 .2l.8 .2l.8 0l.8 -.1l.9 .4l.8 -.1l.8 -.1l.8 -.2l.8 0l.8 .2l.9 -.1l.8 0l.8 .2l.8 -.2l.8 -.3l.8 -.6l.8 0l.9 .1l.8 0l.8 -.1l.8 .6l.8 .1l.8 -.2l.8 .1l.9 .4l.8 -.3l.8 -.2l.8 .3l.8 -.1l.8 -.4l.8 .1l.9 .4l.8 -.8l.8 .3l.8 .1l.8 .4l.8 -.1l.9 .2l.8 0l.8 .3l.8 -.6l.8 -.1l.8 -.1l.8 -.1l.9 -.7l.8 0l.8 -.5l.8 .2l.8 -.8l.8 .1l.8 0l.9 .4l.8 -.2l.8 .2l.8 .1l.8 -.5l.8 .2l.8 .2l.9 .4l.8 .1l.8 .6l.8 0l.8 0l.8 -.1l.9 0l.8 -.5l.8 -.7l.8 -.1l.8 -.1l.8 .4l.8 -.3l.9 .8l.8 -.4l.8 0l.8 -.7l.8 .5l.8 -.2l.8 .4l.9 0l.8 .3l.8 .2l.8 .1l.8 -.2l.8 .2l.8 -.1l.9 -.2l.8 -.2l.8 -.2l.8 -.9l.8 .1l.8 -.3l.8 .2l.9 .6l.8 .3l.8 .1l.8 .2l.8 0l.8 -.7l.9 .3l.8 -.2l.8 .4l.8 .3l.8 .4l.8 -.1l.8 .5l.9 -.4l.8 -.5l.8 0l.8 .2l.8 -.3l.8 -.1l.8 0l.9 .4l.8 .3l.8 -.1l.8 .2l.8 0l.8 -.2l.8 -.4l.9 -.1l.8 -.1l.8 -.1l.8 -.2l.8 .1l.8 -.1l.9 .1l.8 .2l.8 -.1l.8 -.2l.8 .2l.8 .2l.8 .2l.9 .2l.8 .1l.8 .1l.8 .3l.8 -.1l.8 -.2l.8 .1l.9 -.1l.8 -.5l.8 -.6l.8 .3l.8 -.3l.8 0l.8 .5l.9 .6l.8 -.1l.8 .1l.8 -.1l.8 -.7l.8 -.4l.9 .1l.8 0l.8 .5l.8 .4l.8 .1l.8 .5l.8 .5l.9 -.2l.8 .5l.8 .4l.8 -.5l.8 -.1l.8 0l.8 -.8l.9 .2l.8 .5l.8 -.3l.8 .2l.8 0l.8 -.2l.8 -.3l.9 .3l.8 .2l.8 .4l.8 -.3l.8 .2l.8 .1l.9 -.1l.8 0l.8 .3l.8 -.1l.8 .3l.8 -.4l.8 .5l.9 -.2l.8 .2l.8 -.3l.8 .2l.8 -.4l.8 .3l.8 -.5l.9 .2l.8 -.2l.8 -.1l.8 -.2l.8 .1l.8 -.5l.8 .5l.9 -.1l.8 .4l.8 0l.8 1l.8 0l.8 .4l.9 -.6l.8 .1l.8 -.4l.8 -.6l.8 .1l.8 -.1l.8 -.1l.9 -.7l.8 .6l.8 -.1l.8 .4l.8 .1l.8 .6l.8 -.1l.9 .1l.8 -.1l.8 0l.8 .3l.8 -.1l.8 -.2l.8 .2l.9 -.3l.8 .4l.8 0l.8 .3l.8 .2l.8 -.3l.9 -.6l.8 .4l.8 -.2l.8 -.5l.8 .5l.8 -.3l.8 -.5l.9 -.3l.8 .3l.8 .3l.8 .3l.8 .5l.8 -.2l.8 -.3l.9 -.5l.8 .3l.8 -.6l.8 -.1l.8 .2l.8 .4l.8 -.8l.9 .3l.8 0l.8 .3l.8 -.1l.8 .4l.8 .1l.9 .2l.8 -.3l.8 -.3l.8 -.3l.8 -.3l.8 0l.8 -.2l.9 .3l.8 -.3l.8 .4l.8 .1l.8 .5l.8 -.3l.8 .1l.9 -.4l.8 .1l.8 -.3l.8 -.1l.8 .2l.8 .2l.8 -.4l.9 -.3l.8 -.1l.8 .4l.8 .3l.8 0l.8 .2l.9 .5l.8 -.3l.8 -.7l.8 0l.8 .3l.8 0l.8 -.1l.9 .3l.8 0l.8 0l.8 -.3l.8 .2l.8 -.4l.8 0l.9 -.4l.8 -.9l.8 .1l.8 .2l.8 0l.8 -.1l.8 .8l.9 -.1l.8 -.4l.8 .1l.8 .1l.8 -.1l.8 -.4l.9 .2l.8 -.3l.8 0l.8 .3l.8 .5l.8 -.1l.8 .2l.9 -.3l.8 -.2l.8 -.4l.8 -.1l.8 -.5l.8 0l.8 -.3l.9 0l.8 .4l.8 .2l.8 -.1l.8 .3l.8 -.2l.8 -.3l.9 .3l.8 .3l.8 -.3l.8 .4l.8 .4l.8 -.3l.9 -.1l.8 .4l.8 -.3l.8 -.6l.8 .1l.8 .3l.8 -.5l.9 .1l.8 .3l.8 0l.8 -.1l.8 .4l.8 .1l.8 .2l.9 -.2l.8 0l.8 0l.8 0l.8 -.4l.8 .5l.8 -.1l.9 -.4l.8 .1l.8 0l.8 -.4l.8 0l.8 .1l.9 -.2l.8 .1l.8 .3l.8 .1l.8 .2l.8 .1l.8 .3l.9 -.3l.8 .1l.8 .1l.8 -.1l.8 0l.8 .6l.8 0l.9 -.4l.8 .1l.8 -.3l.8 -.4l.8 -.1l.8 .3l.8 .3l.9 .1l.8 .1l.8 .1l.8 .3l.8 -.1l.8 .1l.8 0l.9 -.1l.8 -.7l.8 -.6l.8 .2l.8 -.1l.8 .4l.9 1l.8 .1l.8 -.2l.8 .8l.8 -.6l.8 -.3l.8 .3l.9 -.1l.8 -.7l.8 .2l.8 .1l.8 -.1l.8 .2l.8 -.1l.9 .2l.8 -.1l.8 0l.8 0l.8 0l.8 -.3l.8 .2l.9 -.2l.8 .2l.8 .3l.8 .1l.8 0l.8 .7l.9 -.4l.8 0l.8 .2l.8 -.4l.8 0l.8 .5l.8 -.3l.9 -.5l.8 .3l.8 -.3l.8 -.6l.8 .1l.8 0l.8 -.2l.9 .6l.8 -.3l.8 .2l.8 .4l.8 0l.8 -.5l.8 .8l.9 -.1l.8 .1l.8 -.2l.8 .1l.8 .2l.8 -.3l.9 .3l.8 .4l.8 -.4l.8 0l.8 .3l.8 .5l.8 .3l.9 .4l.8 -.2l.8 -.2l.8 -.9l.8 -.2l.8 0l.8 0" fill="none" stroke="#e60019" stroke-width="4.20" stroke-linejoin="round" stroke-linecap="round" />
<path d="M601.8 1478.1l.8 .1l.8 .3l.8 -.8l.8 -.3l.8 .1l.8 0l.9 -.2l.8 .8l.8 .7l.8 -.4l.8 .1l.8 -.4l.8 -.1l.9 -.5l.8 .4l.8 -.4l.8 .1l.8 -.4l.8 -.1l.9 -.4l.8 -.1l.8 .2l.8 .1l.8 .3l.8 -.2l.8 -.2l.9 -.5l.8 -.1l.8 -.2l.8 .5l.8 .7l.8 .4l.8 .2l.9 -.2l.8 -.5l.8 -.2l.8 -.5l.8 -.4l.8 0l.8 .2l.9 0l.8 -.1l.8 .4l.8 -.1l.8 -.2l.8 -.4l.9 -.1l.8 -.7l.8 .2l.8 -.4l.8 .3l.8 .1l.8 .2l.9 -.5l.8 .2l.8 0l.8 .2l.8 0l.8 -.2l.8 -.5l.9 .2l.8 -.4l.8 -.5l.8 .6l.8 0l.8 -.3l.8 .4l.9 .3l.8 -.1l.8 0l.8 -.5l.8 -.3l.8 -.1l.9 -.3l.8 .4l.8 0l.8 -.5l.8 .1l.8 -.1l.8 0l.9 .7l.8 .4l.8 0l.8 -.2l.8 0l.8 -.4l.8 0l.9 0l.8 -.1l.8 -.1l.8 0l.8 .3l.8 -.6l.8 .2l.9 .3l.8 -.2l.8 -.5l.8 .8l.8 .6l.8 -.5l.8 -.1l.9 0l.8 -.5l.8 -.8l.8 -.2l.8 .2l.8 .1l.9 .2l.8 .2l.8 -.1l.8 .2l.8 0l.8 -.2l.8 -.1l.9 .4l.8 -.2l.8 0l.8 .3l.8 .3l.8 -.1l.8 0l.9 -.2l.8 -.2l.8 -.1l.8 .3l.8 .1l.8 .2l.8 -.1l.9 0l.8 -.4l.8 0l.8 .1l.8 0l.8 0l.9 .3l.8 .1l.8 0l.8 .3l.8 .4l.8 .1l.8 .1l.9 0l.8 -.1l.8 -.8l.8 0l.8 -.4l.8 .2l.8 -.4l.9 .3l.8 .2l.8 .4l.8 -.4l.8 .4l.8 .9l.8 .2l.9 0l.8 -.2l.8 0l.8 -.5l.8 0l.8 .1l.9 .9l.8 .3l.8 .2l.8 -.4l.8 .5l.8 -.2l.8 -.2l.9 .2l.8 .7l.8 -.3l.8 0l.8 .2l.8 -.1l.8 -.3l.9 -.3l.8 .2l.8 -.1l.8 -.3l.8 .1l.8 .2l.8 .1l.9 .5l.8 .2l.8 .2l.8 -.4l.8 0l.8 -.3l.9 .6l.8 .7l.8 .8l.8 -.1l.8 -.2l.8 -.5l.8 -.7l.9 .1l.8 .3l.8 .3l.8 .2l.8 .5l.8 -.4l.8 .1l.9 -.1l.8 .1l.8 -.4l.8 .4l.8 0l.8 .7l.8 .3l.9 .1l.8 -.2l.8 -.2l.8 -.2l.8 -.1l.8 0l.9 .7l.8 .5l.8 .1l.8 .1l.8 .2l.8 -.2l.8 -.1l.9 -.2l.8 .1l.8 -.3l.8 .1l.8 .2l.8 .2l.8 .2l.9 .4l.8 -.1l.8 .3l.8 .5l.8 .1l.8 .1l.8 .3l.9 -.5l.8 -.1l.8 -.3l.8 0l.8 -.2l.8 -.3l.9 .2l.8 .4l.8 -.3l.8 -.3l.8 .1l.8 -.7l.8 -.4l.9 -.2l.8 0l.8 .1l.8 .2l.8 -.4l.8 .2l.8 -.1l.9 -.4l.8 -.2l.8 .2l.8 0l.8 .3l.8 .1l.8 -.2l.9 .5l.8 .2l.8 -.2l.8 0l.8 .3l.8 -.2l.9 -.7l.8 .3l.8 -.1l.8 -.1l.8 -.5l.8 .1l.8 -.6l.9 -.1l.8 -.1l.8 -.1l.8 -.2l.8 .2l.8 -.2l.8 .2l.9 -.2l.8 .6l.8 -.3l.8 .2l.8 -.1l.8 .4l.8 -1l.9 0l.8 -.2l.8 -.3l.8 0l.8 .6l.8 .3l.9 -.3l.8 .1l.8 -.7l.8 -.3l.8 -.7l.8 -.2l.8 -.1l.9 .3l.8 .2l.8 -.2l.8 .1l.8 -.3l.8 -.2l.8 -.3l.9 .2l.8 .1l.8 -.3l.8 .4l.8 -.1l.8 -.2l.8 .2l.9 .3l.8 -.3l.8 0l.8 .2l.8 -.3l.8 -.7l.9 -.5l.8 -.4l.8 .2l.8 .2l.8 .4l.8 .3l.8 .5l.9 -.2l.8 -.2l.8 .1l.8 -.3l.8 -.2l.8 0l.8 -.4l.9 -.4l.8 -.1l.8 .2l.8 .4l.8 .4l.8 .6l.8 0l.9 -.1l.8 0l.8 .1l.8 -.6l.8 .5l.8 -.4l.9 -.2l.8 -.6l.8 .2l.8 -.4l.8 .1l.8 -.3l.8 .4l.9 .2l.8 .2l.8 -.2l.8 0l.8 -.3l.8 0l.8 -.1l.9 0l.8 .1l.8 0l.8 -.4l.8 -.5l.8 .1l.8 .2l.9 -.3l.8 .7l.8 .1l.8 .1l.8 0l.8 .3l.9 -.2l.8 .5l.8 -.2l.8 -.3l.8 -.3l.8 -.2l.8 .1l.9 .3l.8 .2l.8 .4l.8 .2l.8 .1l.8 -.4l.8 .2l.9 0l.8 -.3l.8 -.6l.8 .5l.8 0l.8 -.1l.8 .2l.9 .6l.8 -.3l.8 .4l.8 0l.8 -.2l.8 -.2l.8 -.2l.9 -.4l.8 .4l.8 .7l.8 .2l.8 .3l.8 -.1l.9 -.4l.8 -.3l.8 -.1l.8 -.1l.8 .2l.8 .6l.8 .2l.9 .1l.8 .2l.8 .5l.8 -.2l.8 -.2l.8 -.3l.8 -.4l.9 -.7l.8 -.6l.8 0l.8 .6l.8 .2l.8 .6l.8 .7l.9 .1l.8 -.4l.8 .6l.8 .3l.8 -.2l.8 .5l.9 .5l.8 -.5l.8 -.4l.8 -.3l.8 -.4l.8 -.4l.8 .5l.9 .2l.8 .2l.8 .3l.8 0l.8 -.2l.8 .1l.8 .4l.9 -.4l.8 .5l.8 -.1l.8 0l.8 .4l.8 .7l.8 .4l.9 0l.8 -.2l.8 -.3l.8 -.3l.8 -.8l.8 0l.9 .7l.8 -.3l.8 -.2l.8 .3l.8 .3l.8 -.4l.8 .3l.9 -.2l.8 .4l.8 -.1l.8 -.1l.8 .1l.8 .6l.8 -.5" fill="none" stroke="#cf0030" stroke-width="4.20" stroke-linejoin="round" stroke-linecap="round" />
<path d="M601.8 1467.7l.8 .6l.8 .1l.8 .4l.8 0l.8 .1l.8 0l.9 .4l.8 -.4l.8 .4l.8 .1l.8 -.7l.8 -.6l.8 -.3l.9 .2l.8 -.2l.8 .6l.8 .1l.8 .2l.8 -.1l.9 -.4l.8 -.5l.8 -.2l.8 .2l.8 .2l.8 -.3l.8 0l.9 .2l.8 -.5l.8 .1l.8 .3l.8 .4l.8 -.1l.8 .4l.9 -.4l.8 .3l.8 -.9l.8 -.5l.8 -.8l.8 -.1l.8 -.5l.9 .4l.8 .2l.8 .1l.8 -.1l.8 .1l.8 -.2l.9 -.1l.8 .2l.8 -.3l.8 .1l.8 -.4l.8 -.5l.8 -.3l.9 .2l.8 -.4l.8 .6l.8 -.6l.8 -.1l.8 -.4l.8 0l.9 -.2l.8 .6l.8 -.2l.8 .2l.8 .2l.8 -1l.8 .1l.9 .2l.8 -.5l.8 -.6l.8 .6l.8 -.2l.8 -.2l.9 -.2l.8 .1l.8 -.3l.8 -.1l.8 -.2l.8 .3l.8 0l.9 .2l.8 0l.8 -.2l.8 0l.8 -.2l.8 -.3l.8 -.2l.9 -.4l.8 -.2l.8 -.2l.8 -.5l.8 .2l.8 .4l.8 0l.9 0l.8 .7l.8 -.2l.8 .1l.8 0l.8 .2l.8 -.7l.9 0l.8 -.1l.8 -.4l.8 .1l.8 .8l.8 -.3l.9 -.1l.8 .5l.8 -.5l.8 -.3l.8 -.2l.8 .2l.8 .1l.9 .1l.8 .1l.8 .9l.8 .2l.8 .1l.8 .3l.8 .4l.9 -.8l.8 -.3l.8 -.7l.8 .4l.8 -.2l.8 .4l.8 .1l.9 .2l.8 -1.1l.8 .5l.8 .1l.8 .3l.8 -.1l.9 .8l.8 -.4l.8 .1l.8 .2l.8 .2l.8 .2l.8 .2l.9 .2l.8 0l.8 .3l.8 -.2l.8 0l.8 -.2l.8 -.2l.9 .3l.8 0l.8 -.2l.8 .4l.8 .5l.8 -.1l.8 .5l.9 .3l.8 -.1l.8 -.3l.8 .3l.8 .1l.8 0l.9 .4l.8 .4l.8 -.1l.8 .1l.8 .5l.8 -.3l.8 -.1l.9 .1l.8 .1l.8 -.7l.8 .4l.8 .4l.8 .1l.8 -.2l.9 .1l.8 0l.8 -.4l.8 .2l.8 .2l.8 .3l.8 .3l.9 .8l.8 -.3l.8 0l.8 .4l.8 -.3l.8 -.4l.9 .7l.8 .6l.8 .4l.8 .3l.8 .3l.8 0l.8 -.2l.9 -.4l.8 -.2l.8 0l.8 .5l.8 .4l.8 .1l.8 .5l.9 .2l.8 0l.8 -.2l.8 .9l.8 .2l.8 .5l.8 .4l.9 0l.8 -.1l.8 .7l.8 .1l.8 .3l.8 .8l.9 .2l.8 -.1l.8 .5l.8 .3l.8 .5l.8 .1l.8 .3l.9 -.3l.8 -.2l.8 -.2l.8 .6l.8 .1l.8 .8l.8 0l.9 .4l.8 .1l.8 0l.8 -.5l.8 .4l.8 -.1l.8 .1l.9 .1l.8 .2l.8 -.1l.8 0l.8 -.1l.8 .4l.9 -.2l.8 .2l.8 -.9l.8 -.1l.8 -.9l.8 .5l.8 -.9l.9 .8l.8 -.7l.8 -.3l.8 -.5l.8 .2l.8 -.7l.8 .6l.9 -.1l.8 0l.8 -.7l.8 -.3l.8 -.8l.8 -.4l.8 -.5l.9 -.5l.8 .1l.8 -.4l.8 -.2l.8 -.3l.8 .3l.9 -.3l.8 .1l.8 .1l.8 -.1l.8 .2l.8 -.1l.8 -.1l.9 -.4l.8 -.1l.8 -.3l.8 -.2l.8 -.7l.8 -.4l.8 -.5l.9 -.1l.8 0l.8 .2l.8 .3l.8 .3l.8 0l.8 -.2l.9 .1l.8 0l.8 -.5l.8 -.4l.8 -.2l.8 -.3l.9 -.2l.8 -.3l.8 -.3l.8 -.1l.8 0l.8 -.4l.8 .4l.9 -.1l.8 0l.8 0l.8 .2l.8 -.2l.8 .1l.8 .3l.9 0l.8 -.2l.8 -.3l.8 -.4l.8 .1l.8 -.6l.8 -.4l.9 .2l.8 .4l.8 -.9l.8 .1l.8 -.1l.8 -.3l.9 0l.8 .2l.8 -.1l.8 .3l.8 .1l.8 -.5l.8 -.4l.9 -.3l.8 .3l.8 -.3l.8 .2l.8 0l.8 .5l.8 -.4l.9 .1l.8 .1l.8 -.1l.8 -.5l.8 -.4l.8 -.2l.8 -.7l.9 0l.8 -.1l.8 .5l.8 -.3l.8 -.3l.8 -.1l.9 0l.8 -.2l.8 .5l.8 .4l.8 .2l.8 .6l.8 -.5l.9 -.5l.8 -.2l.8 0l.8 -.7l.8 .1l.8 -.1l.8 -.1l.9 -.2l.8 -.1l.8 -.1l.8 .7l.8 .1l.8 .6l.8 0l.9 .3l.8 -.4l.8 -.1l.8 -.5l.8 .1l.8 -.4l.9 0l.8 .2l.8 -.4l.8 0l.8 .6l.8 .4l.8 -.1l.9 .6l.8 .5l.8 .3l.8 -.4l.8 -.1l.8 .2l.8 -.3l.9 -.4l.8 .1l.8 .3l.8 -.2l.8 -.1l.8 .2l.8 -.2l.9 .4l.8 .4l.8 .5l.8 .1l.8 .5l.8 -.2l.8 0l.9 -.7l.8 .2l.8 -.2l.8 -.1l.8 -.2l.8 .9l.9 .1l.8 .4l.8 .4l.8 .2l.8 -.4l.8 -.1l.8 0l.9 -.2l.8 .3l.8 .2l.8 .2l.8 .4l.8 .2l.8 .1l.9 .2l.8 -.2l.8 -.4l.8 -.4l.8 .1l.8 .2l.8 .3l.9 .1l.8 .6l.8 -.2l.8 .1l.8 0l.8 .1l.9 .3l.8 -.1l.8 .1l.8 .6l.8 -.1l.8 -.1l.8 .3l.9 .1l.8 -.2l.8 .3l.8 -.7l.8 .6l.8 0l.8 .2l.9 .7l.8 .6l.8 -.2l.8 .3l.8 .2l.8 0l.8 .3l.9 -.1l.8 -.2l.8 -.3l.8 0l.8 -.1l.8 .6l.9 .4l.8 .1l.8 .4l.8 0l.8 -.3l.8 0l.8 -.1l.9 -.7l.8 .1l.8 -.2l.8 -.2l.8 .1l.8 .3l.8 -.1" fill="none" stroke="#b60049" stroke-width="4.20" stroke-linejoin="round" stroke-linecap="round" />
<path d="M601.8 1461.5l.8 .3l.8 .2l.8 -.6l.8 -.4l.8 -.2l.8 -.4l.9 -.4l.8 .2l.8 .4l.8 -.4l.8 .4l.8 -.3l.8 -.3l.9 -1.1l.8 -.1l.8 0l.8 .2l.8 .1l.8 1.1l.9 .2l.8 -.6l.8 -.3l.8 -.2l.8 -.3l.8 -.4l.8 .2l.9 .2l.8 -.3l.8 -.5l.8 -.4l.8 -.2l.8 -.8l.8 -.1l.9 .3l.8 .4l.8 -.1l.8 .4l.8 .5l.8 -.4l.8 0l.9 -.3l.8 -.2l.8 -.9l.8 -.3l.8 -.6l.8 .2l.9 .1l.8 .1l.8 -.2l.8 -.7l.8 -.5l.8 -.3l.8 .1l.9 -.8l.8 0l.8 0l.8 -.4l.8 -.4l.8 .5l.8 .6l.9 -.7l.8 0l.8 .1l.8 .1l.8 -.5l.8 .4l.8 .1l.9 -.6l.8 0l.8 .2l.8 -.3l.8 .1l.8 -.2l.9 -.1l.8 -.4l.8 -.3l.8 -.5l.8 .5l.8 -.4l.8 -.2l.9 0l.8 -.2l.8 -.1l.8 .5l.8 .3l.8 .2l.8 .3l.9 -.4l.8 -.7l.8 -.7l.8 .2l.8 -.4l.8 -.1l.8 -.1l.9 .2l.8 -.5l.8 .1l.8 .1l.8 .4l.8 -.3l.8 .1l.9 -.2l.8 -.1l.8 0l.8 .4l.8 -.1l.8 .2l.9 .1l.8 -.1l.8 -.2l.8 .2l.8 -.2l.8 .1l.8 -.3l.9 0l.8 -.1l.8 .3l.8 -.1l.8 0l.8 .3l.8 -.1l.9 0l.8 .4l.8 -.4l.8 -.2l.8 0l.8 .1l.8 .1l.9 .3l.8 .1l.8 .3l.8 -.2l.8 .1l.8 .6l.9 .4l.8 .4l.8 .4l.8 -.1l.8 -.2l.8 -.2l.8 .1l.9 .1l.8 .4l.8 .1l.8 .2l.8 .1l.8 .2l.8 0l.9 .3l.8 0l.8 .2l.8 0l.8 -.2l.8 .6l.8 .1l.9 .3l.8 0l.8 .4l.8 -.4l.8 .3l.8 .1l.9 .1l.8 0l.8 .6l.8 .4l.8 0l.8 .2l.8 .6l.9 -.2l.8 0l.8 .2l.8 -.2l.8 -.7l.8 .2l.8 .3l.9 .1l.8 .3l.8 .5l.8 .3l.8 -.1l.8 -.3l.8 .5l.9 .4l.8 .1l.8 .5l.8 .9l.8 .1l.8 .1l.9 -.3l.8 0l.8 -.1l.8 .4l.8 .6l.8 .8l.8 .5l.9 .3l.8 0l.8 -.2l.8 .1l.8 .1l.8 .6l.8 .1l.9 .8l.8 1l.8 0l.8 .1l.8 .6l.8 .4l.8 .4l.9 1l.8 .5l.8 .3l.8 .2l.8 -.1l.8 .3l.9 .2l.8 1.1l.8 .3l.8 .6l.8 .4l.8 .4l.8 .1l.9 .6l.8 .2l.8 .5l.8 .5l.8 1.3l.8 1.4l.8 1l.9 .4l.8 1.7l.8 .7l.8 .7l.8 .8l.8 .7l.8 -.7l.9 .5l.8 .2l.8 -.1l.8 .5l.8 -.5l.8 -1l.9 -.9l.8 -.7l.8 -1.2l.8 -.4l.8 -.8l.8 -.6l.8 -.2l.9 -.5l.8 -.3l.8 -1.2l.8 -.6l.8 -1l.8 -1.2l.8 -1.2l.9 -.6l.8 -1.2l.8 -.4l.8 -.7l.8 0l.8 .1l.8 -.7l.9 -.1l.8 .4l.8 -.4l.8 -.5l.8 -.4l.8 -.6l.9 -.9l.8 0l.8 -.9l.8 -.3l.8 -.2l.8 .1l.8 -.9l.9 0l.8 .2l.8 -.1l.8 -.6l.8 -.3l.8 -.4l.8 -.4l.9 -.6l.8 -.3l.8 0l.8 -.4l.8 -.2l.8 -.2l.8 0l.9 .1l.8 .6l.8 .2l.8 .2l.8 -.1l.8 -.2l.9 -.6l.8 -.3l.8 -.5l.8 -.4l.8 -.6l.8 -.2l.8 -.1l.9 -.2l.8 -.1l.8 -.2l.8 -.1l.8 -.6l.8 -.4l.8 .1l.9 .1l.8 -.3l.8 -.3l.8 .2l.8 .1l.8 -.3l.8 0l.9 -.3l.8 0l.8 -.6l.8 .1l.8 -.2l.8 .4l.9 -.4l.8 -.3l.8 .3l.8 -.3l.8 -.1l.8 -.3l.8 .2l.9 -.4l.8 -.2l.8 -.2l.8 .2l.8 0l.8 -.4l.8 .2l.9 -.5l.8 -.6l.8 -.2l.8 0l.8 0l.8 .7l.8 .2l.9 .1l.8 -.2l.8 -.6l.8 -.3l.8 -.4l.8 -.2l.9 .4l.8 0l.8 -.1l.8 .2l.8 .1l.8 -.7l.8 .1l.9 .4l.8 -.6l.8 -.3l.8 .3l.8 .2l.8 -.7l.8 .3l.9 .1l.8 .3l.8 -.1l.8 0l.8 .2l.8 -.1l.8 -.2l.9 -.1l.8 .6l.8 0l.8 .6l.8 -.2l.8 0l.9 -.5l.8 -.1l.8 -.4l.8 -.2l.8 .6l.8 .3l.8 0l.9 .2l.8 0l.8 -.4l.8 0l.8 .1l.8 .2l.8 .2l.9 .2l.8 .1l.8 -.1l.8 -.5l.8 -.1l.8 -.2l.8 .2l.9 .6l.8 .1l.8 .3l.8 -.2l.8 0l.8 .6l.8 .7l.9 0l.8 .9l.8 .6l.8 -.3l.8 .2l.8 .2l.9 -.4l.8 -.4l.8 .1l.8 -.5l.8 0l.8 .3l.8 .3l.9 0l.8 .9l.8 .1l.8 .3l.8 .1l.8 -.1l.8 -.3l.9 .7l.8 -.4l.8 .1l.8 .3l.8 -.1l.8 -.1l.8 .2l.9 .2l.8 .4l.8 .2l.8 .4l.8 .1l.8 0l.9 .6l.8 .6l.8 -.2l.8 .5l.8 .4l.8 -.4l.8 -.1l.9 .2l.8 .2l.8 -.4l.8 .4l.8 0l.8 -.1l.8 -.3l.9 .5l.8 -.4l.8 -.1l.8 .5l.8 -.1l.8 .1l.8 -.2l.9 .1l.8 0l.8 .5l.8 .2l.8 .4l.8 .4l.9 -.3l.8 .4l.8 .1l.8 .3l.8 .3l.8 .2l.8 .1l.9 0l.8 .2l.8 0l.8 .2l.8 -.1l.8 0l.8 .1" fill="none" stroke="#a2005d" stroke-width="4.20" stroke-linejoin="round" stroke-linecap="round" />
<path d="M601.8 1451.7l.8 -.2l.8 .3l.8 .3l.8 .8l.8 .3l.8 -.1l.9 -.6l.8 0l.8 -.5l.8 -.6l.8 .3l.8 .2l.8 -.1l.9 -.3l.8 0l.8 -.2l.8 -.6l.8 -.4l.8 .3l.9 -.7l.8 0l.8 0l.8 -.2l.8 .1l.8 0l.8 -.4l.9 -.1l.8 -.1l.8 -.8l.8 .6l.8 -.5l.8 0l.8 0l.9 0l.8 -.6l.8 .1l.8 -.1l.8 -.1l.8 -.2l.8 -.4l.9 -.1l.8 -.3l.8 -.3l.8 .2l.8 -.4l.8 .4l.9 -.4l.8 -.4l.8 -1l.8 .5l.8 -.6l.8 -.2l.8 0l.9 .3l.8 -.5l.8 0l.8 0l.8 -.2l.8 -.6l.8 .2l.9 -.6l.8 -.6l.8 .2l.8 .3l.8 -1l.8 -.4l.8 -.1l.9 -.7l.8 -.4l.8 1l.8 .9l.8 -.1l.8 .4l.9 0l.8 -.8l.8 -1.2l.8 .1l.8 -.4l.8 -.2l.8 0l.9 .1l.8 0l.8 -.1l.8 -.2l.8 -.4l.8 .3l.8 -.3l.9 -.3l.8 0l.8 -.1l.8 -.5l.8 -.5l.8 .2l.8 -.1l.9 .3l.8 .1l.8 -.1l.8 -.2l.8 0l.8 -.3l.8 -.1l.9 -.4l.8 .3l.8 0l.8 -.1l.8 .6l.8 .3l.9 -.2l.8 .1l.8 0l.8 -.5l.8 -.4l.8 0l.8 -.2l.9 .4l.8 .4l.8 .5l.8 .2l.8 -.3l.8 0l.8 0l.9 0l.8 .3l.8 .4l.8 .3l.8 .2l.8 .1l.8 .1l.9 .3l.8 -.2l.8 -.1l.8 -.1l.8 -.4l.8 -.2l.9 .2l.8 .1l.8 .5l.8 .2l.8 -.2l.8 0l.8 0l.9 -.3l.8 .2l.8 .7l.8 .1l.8 -.1l.8 .5l.8 1l.9 -.2l.8 .5l.8 .6l.8 .5l.8 -.1l.8 .3l.8 .5l.9 .1l.8 0l.8 -.4l.8 .3l.8 -.2l.8 .6l.9 -.2l.8 .6l.8 .2l.8 .1l.8 -.1l.8 .1l.8 -.1l.9 .2l.8 .2l.8 .3l.8 .7l.8 .2l.8 .2l.8 .4l.9 .2l.8 -.1l.8 .3l.8 .5l.8 0l.8 -.1l.8 .2l.9 .5l.8 .1l.8 .1l.8 .5l.8 .2l.8 -.3l.9 0l.8 .4l.8 0l.8 .5l.8 .1l.8 .4l.8 .6l.9 .7l.8 -.1l.8 .4l.8 -.5l.8 -.1l.8 .4l.8 -.1l.9 .1l.8 1l.8 .5l.8 -.5l.8 .9l.8 1l.8 0l.9 .7l.8 .8l.8 1l.8 .7l.8 .9l.8 .1l.9 1.1l.8 .6l.8 .8l.8 .9l.8 1.3l.8 1.3l.8 .7l.9 1l.8 1.2l.8 .9l.8 1l.8 2l.8 2.1l.8 2.2l.9 1.6l.8 2.1l.8 2.1l.8 1.6l.8 2l.8 1.1l.8 .4l.9 -.5l.8 -.3l.8 -.9l.8 -.1l.8 -1.4l.8 -1.3l.9 -1l.8 -.8l.8 -1l.8 -.6l.8 -.9l.8 -1.1l.8 -1.5l.9 -1.3l.8 -1.5l.8 -.8l.8 -1l.8 -1.3l.8 -1.1l.8 -1.7l.9 -2.2l.8 -1.3l.8 -.9l.8 -1.2l.8 -.5l.8 -.6l.8 -1l.9 -.8l.8 -.6l.8 -.7l.8 -.6l.8 -.6l.8 -1.3l.9 -.5l.8 -1.2l.8 -.5l.8 0l.8 0l.8 -1.1l.8 .4l.9 -.6l.8 -1l.8 -.3l.8 .3l.8 -.5l.8 -.2l.8 .1l.9 -.4l.8 -.3l.8 -.5l.8 0l.8 -.6l.8 0l.8 0l.9 -.3l.8 -.5l.8 .1l.8 -.1l.8 -.5l.8 .1l.9 .6l.8 -.5l.8 -.1l.8 0l.8 -.3l.8 -.6l.8 .2l.9 -.3l.8 .1l.8 -.2l.8 -.2l.8 -.1l.8 .8l.8 -.8l.9 .1l.8 .5l.8 -.4l.8 -.6l.8 .3l.8 -.6l.8 -.7l.9 -.2l.8 -.4l.8 -.6l.8 .3l.8 -.8l.8 0l.9 .1l.8 .3l.8 -.4l.8 .3l.8 -.2l.8 .2l.8 -.3l.9 -.1l.8 -.3l.8 -.1l.8 -.7l.8 -.3l.8 -.3l.8 -.1l.9 -.2l.8 -.2l.8 -.1l.8 0l.8 -.2l.8 .2l.8 -.1l.9 -.1l.8 0l.8 0l.8 -.8l.8 -.2l.8 .4l.9 -.1l.8 .2l.8 .1l.8 -.4l.8 -.6l.8 .1l.8 -.6l.9 -.1l.8 .5l.8 0l.8 -.4l.8 .3l.8 .2l.8 -.4l.9 .1l.8 -.2l.8 -.1l.8 .1l.8 -.2l.8 -.1l.8 -.1l.9 .2l.8 0l.8 .5l.8 .3l.8 .5l.8 0l.9 -.3l.8 .1l.8 -.4l.8 .3l.8 0l.8 .4l.8 -.5l.9 .6l.8 -.2l.8 -.4l.8 -.2l.8 .3l.8 -.3l.8 .1l.9 1l.8 0l.8 .5l.8 .2l.8 .1l.8 -1l.8 .3l.9 .2l.8 0l.8 .1l.8 .6l.8 .5l.8 0l.8 .3l.9 -.3l.8 .2l.8 .2l.8 0l.8 .1l.8 1.2l.9 -.2l.8 -.1l.8 .3l.8 .1l.8 -.7l.8 .5l.8 -.1l.9 .2l.8 .1l.8 0l.8 .6l.8 .3l.8 .2l.8 .8l.9 .6l.8 0l.8 .4l.8 -.3l.8 -.1l.8 .1l.8 -.1l.9 0l.8 .8l.8 -.1l.8 .2l.8 .1l.8 .1l.9 .3l.8 .6l.8 .2l.8 -.1l.8 .6l.8 -.2l.8 -.1l.9 .4l.8 0l.8 .4l.8 -.4l.8 0l.8 -.6l.8 .8l.9 -.2l.8 .5l.8 .3l.8 .1l.8 -.2l.8 0l.8 .2l.9 .3l.8 -.1l.8 .2l.8 .7l.8 0l.8 .2l.9 .6l.8 .1l.8 -.2l.8 -.1l.8 .1l.8 -.2l.8 .4l.9 -.3l.8 .6l.8 .4l.8 .1l.8 .2l.8 .3l.8 .3" fill="none" stroke="#90006f" stroke-width="4.20" stroke-linejoin="round" stroke-linecap="round" />
<path d="M601.8 1443.8l.8 .1l.8 0l.8 -.2l.8 -.4l.8 .5l.8 -.1l.9 .3l.8 -.2l.8 -.6l.8 -.5l.8 -.3l.8 -.7l.8 .3l.9 .9l.8 0l.8 -.5l.8 .2l.8 -.6l.8 -.7l.9 -.1l.8 .4l.8 -.5l.8 .1l.8 0l.8 -.3l.8 .3l.9 -.9l.8 -.5l.8 -.5l.8 -.2l.8 -.6l.8 .7l.8 -.3l.9 -.2l.8 -.2l.8 -.3l.8 -.5l.8 .2l.8 .2l.8 -.9l.9 .2l.8 0l.8 -.5l.8 -.5l.8 .3l.8 -.3l.9 -.5l.8 .2l.8 -.6l.8 -.2l.8 -.3l.8 -.1l.8 -.3l.9 -.2l.8 0l.8 -.5l.8 -.4l.8 -.4l.8 -.1l.8 -.7l.9 0l.8 0l.8 -.1l.8 -.6l.8 -.3l.8 -.5l.8 -.4l.9 -.4l.8 .3l.8 .4l.8 .2l.8 .2l.8 -.4l.9 -.2l.8 -.5l.8 -.5l.8 -.6l.8 .3l.8 -.2l.8 -.1l.9 -.6l.8 .1l.8 -.6l.8 -.2l.8 -.2l.8 0l.8 -.1l.9 .4l.8 -.5l.8 0l.8 .1l.8 -.3l.8 -.6l.8 .8l.9 -.3l.8 -.1l.8 -.2l.8 .1l.8 -1.2l.8 .4l.8 -.2l.9 -.2l.8 .4l.8 .5l.8 -.4l.8 -.2l.8 .5l.9 -.4l.8 0l.8 -.2l.8 0l.8 -.1l.8 0l.8 -.4l.9 .2l.8 .3l.8 .6l.8 -.1l.8 0l.8 .5l.8 -.1l.9 -.9l.8 .4l.8 .6l.8 -.3l.8 -.1l.8 .4l.8 .1l.9 -.3l.8 .6l.8 .2l.8 .5l.8 .2l.8 .5l.9 .1l.8 .3l.8 -.2l.8 .5l.8 .1l.8 .3l.8 .2l.9 .2l.8 0l.8 .1l.8 .1l.8 0l.8 0l.8 -.1l.9 .8l.8 .3l.8 .6l.8 .5l.8 .5l.8 -.3l.8 .3l.9 .8l.8 .7l.8 .1l.8 .6l.8 -.1l.8 -.1l.9 -.1l.8 .5l.8 .3l.8 .2l.8 .4l.8 .4l.8 -.2l.9 -.1l.8 .3l.8 -.5l.8 0l.8 .4l.8 .7l.8 .3l.9 .5l.8 0l.8 .2l.8 -.2l.8 -.1l.8 .2l.8 .4l.9 -.5l.8 .3l.8 .2l.8 .4l.8 -.1l.8 .6l.9 -.2l.8 .2l.8 .2l.8 .1l.8 0l.8 .1l.8 -.1l.9 .2l.8 .1l.8 .9l.8 .4l.8 .6l.8 .5l.8 .6l.9 -.1l.8 .6l.8 .7l.8 0l.8 1.2l.8 1l.8 .3l.9 .6l.8 1.4l.8 .3l.8 1l.8 1.9l.8 1.3l.9 1.5l.8 1.5l.8 .9l.8 1.2l.8 1l.8 1.2l.8 1.5l.9 1.5l.8 1l.8 1.6l.8 1.3l.8 2.6l.8 3.6l.8 4.1l.9 4l.8 3.7l.8 3.2l.8 2.9l.8 2.2l.8 1.1l.8 .4l.9 -.1l.8 -.4l.8 -.7l.8 -1.1l.8 -1.8l.8 -2.2l.9 -2.1l.8 -1.6l.8 -1.6l.8 -1.4l.8 -.8l.8 -1.9l.8 -1.9l.9 -1.9l.8 -2.1l.8 -2.2l.8 -1.7l.8 -1.7l.8 -2.3l.8 -1.4l.9 -2l.8 -2.2l.8 -1.6l.8 -1.2l.8 -1.6l.8 -2.2l.8 -.9l.9 -.9l.8 -1.3l.8 -1.7l.8 -.9l.8 -1.2l.8 -.9l.9 -.8l.8 -.5l.8 -.4l.8 -.5l.8 -.7l.8 -.4l.8 -.1l.9 -.5l.8 -1l.8 -.6l.8 -.2l.8 -.5l.8 -.1l.8 0l.9 -.1l.8 -.7l.8 -.3l.8 -.6l.8 -.3l.8 -.6l.8 .2l.9 0l.8 -.2l.8 -.1l.8 0l.8 0l.8 -.5l.9 .3l.8 -.2l.8 .2l.8 -.1l.8 .5l.8 -.5l.8 .1l.9 -.5l.8 -.1l.8 -.5l.8 -.1l.8 -.1l.8 .3l.8 -.4l.9 .2l.8 -.6l.8 .1l.8 -.3l.8 -.2l.8 -.6l.8 .3l.9 -.2l.8 0l.8 -.6l.8 -.1l.8 -.2l.8 -.3l.9 -.2l.8 .1l.8 .1l.8 -.5l.8 .2l.8 -.3l.8 -.4l.9 -.2l.8 .3l.8 -.4l.8 .3l.8 .2l.8 -.4l.8 -.3l.9 -.5l.8 -.7l.8 .1l.8 .3l.8 -.3l.8 -.2l.8 -.2l.9 -.9l.8 -.8l.8 -.3l.8 -.1l.8 -.2l.8 -.2l.9 .1l.8 .4l.8 -.6l.8 .1l.8 .5l.8 -.5l.8 -.9l.9 .5l.8 -.2l.8 -.4l.8 .6l.8 .6l.8 .1l.8 0l.9 0l.8 -.2l.8 -.4l.8 .2l.8 .3l.8 -.1l.8 0l.9 .4l.8 -.2l.8 -.5l.8 .1l.8 -.2l.8 -.3l.9 -.1l.8 .2l.8 .3l.8 .4l.8 0l.8 -.3l.8 .2l.9 -.1l.8 -.1l.8 0l.8 .6l.8 -.2l.8 .3l.8 .5l.9 0l.8 -.5l.8 .2l.8 -.2l.8 -.2l.8 .4l.8 .9l.9 .9l.8 .2l.8 0l.8 .3l.8 -.4l.8 -.3l.8 .2l.9 -.1l.8 -.1l.8 .8l.8 .2l.8 .7l.8 .7l.9 .2l.8 .2l.8 0l.8 .5l.8 -.4l.8 .8l.8 .3l.9 .4l.8 -.4l.8 .6l.8 -.4l.8 -.3l.8 .6l.8 .5l.9 .6l.8 .5l.8 .2l.8 -.4l.8 .1l.8 .3l.8 -.1l.9 .8l.8 .2l.8 .2l.8 -.2l.8 .5l.8 .2l.9 -.1l.8 .5l.8 .9l.8 -.1l.8 .5l.8 .4l.8 -.2l.9 .1l.8 .5l.8 .2l.8 .6l.8 .5l.8 -.2l.8 .4l.9 .3l.8 .3l.8 -.2l.8 .1l.8 -.4l.8 -.1l.8 .1l.9 .2l.8 .5l.8 .2l.8 .5l.8 .2l.8 .7l.9 -.3l.8 .1l.8 -.7l.8 .1l.8 -.5l.8 .6l.8 .4l.9 .7l.8 -.3l.8 .3l.8 -.2l.8 .3l.8 -.4l.8 .5" fill="none" stroke="#80007f" stroke-width="4.20" stroke-linejoin="round" stroke-linecap="round" />
<path d="M601.8 1436.3l.8 .3l.8 -.4l.8 .2l.8 -.3l.8 -.2l.8 -.7l.9 0l.8 -.7l.8 .1l.8 -.1l.8 -.1l.8 -.6l.8 0l.9 -.1l.8 -.2l.8 -.2l.8 .4l.8 -.2l.8 -.1l.9 -.5l.8 .2l.8 -.1l.8 -.3l.8 -.5l.8 .2l.8 -.2l.9 -.4l.8 -.1l.8 -.5l.8 -.4l.8 -.7l.8 -.3l.8 -.7l.9 .4l.8 .3l.8 .1l.8 -.4l.8 .2l.8 -.4l.8 -.5l.9 -.5l.8 .2l.8 0l.8 -.3l.8 -.5l.8 -.1l.9 -.7l.8 -.4l.8 -.6l.8 .1l.8 -.2l.8 -.1l.8 -.2l.9 0l.8 -.9l.8 0l.8 -.3l.8 -.4l.8 -.6l.8 -.1l.9 -.7l.8 -.3l.8 -.3l.8 0l.8 -.1l.8 -.2l.8 .2l.9 0l.8 -.2l.8 -.3l.8 -.1l.8 -.6l.8 .2l.9 -.4l.8 -.4l.8 -.1l.8 -.8l.8 -.5l.8 -.3l.8 .1l.9 -.7l.8 .2l.8 -.4l.8 -.3l.8 -.1l.8 .1l.8 -.2l.9 .4l.8 0l.8 -.8l.8 -.3l.8 .1l.8 -.3l.8 -.1l.9 .5l.8 -.1l.8 -.2l.8 -.5l.8 -.3l.8 -.4l.8 0l.9 -.2l.8 .2l.8 0l.8 .4l.8 .1l.8 .4l.9 .3l.8 -.1l.8 0l.8 -.2l.8 0l.8 -.2l.8 .1l.9 -.7l.8 .3l.8 -.6l.8 .3l.8 0l.8 .6l.8 .3l.9 .4l.8 -.1l.8 .3l.8 .4l.8 -.2l.8 .2l.8 -.2l.9 .3l.8 -.3l.8 .3l.8 .2l.8 .8l.8 -.3l.9 .3l.8 0l.8 .3l.8 -.2l.8 .8l.8 .3l.8 .1l.9 0l.8 .2l.8 .2l.8 .6l.8 1l.8 0l.8 1l.9 .4l.8 -.3l.8 .5l.8 1l.8 -.2l.8 .2l.8 .5l.9 -.1l.8 0l.8 .8l.8 .1l.8 .7l.8 .1l.9 .4l.8 .2l.8 .5l.8 .4l.8 .5l.8 0l.8 .1l.9 -.3l.8 -.3l.8 -.7l.8 .1l.8 -.3l.8 .7l.8 0l.9 .3l.8 .1l.8 .1l.8 0l.8 -.1l.8 -.2l.8 -.3l.9 .3l.8 -.4l.8 .1l.8 .1l.8 .6l.8 -.4l.9 .5l.8 0l.8 .3l.8 0l.8 .4l.8 -.6l.8 .2l.9 -.1l.8 -.5l.8 0l.8 .5l.8 .4l.8 0l.8 .8l.9 .2l.8 .5l.8 .1l.8 1l.8 1l.8 .6l.8 .7l.9 1.1l.8 .5l.8 .6l.8 1.7l.8 1.1l.8 1.6l.9 2.4l.8 2.2l.8 1.7l.8 2.1l.8 2.2l.8 2l.8 2.4l.9 2.4l.8 2.7l.8 2l.8 2.6l.8 3.5l.8 5.2l.8 5l.9 6.4l.8 5.9l.8 6l.8 4.5l.8 4.4l.8 2.3l.8 .2l.9 -.8l.8 -.7l.8 -1.2l.8 -1.7l.8 -2.2l.8 -2.1l.9 -2.6l.8 -2.4l.8 -2.1l.8 -2.9l.8 -2.7l.8 -2.8l.8 -3.3l.9 -3.4l.8 -2.6l.8 -2.5l.8 -2.8l.8 -2.6l.8 -2.8l.8 -3.2l.9 -3.5l.8 -3l.8 -2.4l.8 -2.1l.8 -1.1l.8 -1.8l.8 -1.8l.9 -1.1l.8 -1.7l.8 -2.4l.8 -1.4l.8 -1.8l.8 -1.6l.9 -1l.8 -1.1l.8 -1.3l.8 -.4l.8 -.5l.8 -.6l.8 -.4l.9 -.3l.8 -.7l.8 -.7l.8 -.6l.8 -.4l.8 -.6l.8 -.2l.9 .2l.8 -.2l.8 -.7l.8 0l.8 .1l.8 -.6l.8 .1l.9 .6l.8 -.2l.8 -.1l.8 0l.8 .1l.8 -.3l.9 -.1l.8 .1l.8 .6l.8 -.5l.8 -.3l.8 .3l.8 -.3l.9 0l.8 0l.8 0l.8 -.3l.8 .5l.8 -.4l.8 .4l.9 .3l.8 .3l.8 -.8l.8 -.3l.8 0l.8 -.5l.8 -.4l.9 .5l.8 0l.8 -.5l.8 .5l.8 -.2l.8 -.2l.9 -.8l.8 -.3l.8 -.8l.8 .1l.8 -1.1l.8 -.3l.8 .1l.9 .1l.8 -1.3l.8 .2l.8 .2l.8 -.1l.8 -.7l.8 .4l.9 .1l.8 .1l.8 -.7l.8 .2l.8 -.4l.8 -.2l.8 -.4l.9 .3l.8 .1l.8 -.1l.8 -.5l.8 .1l.8 -.4l.9 .1l.8 .3l.8 -.1l.8 -.1l.8 -.4l.8 -.6l.8 -.3l.9 -.1l.8 -.5l.8 0l.8 -.1l.8 -.3l.8 .1l.8 0l.9 -.2l.8 .3l.8 .1l.8 -.3l.8 -.1l.8 .1l.8 -.2l.9 -.2l.8 -.2l.8 .3l.8 .3l.8 .5l.8 .3l.9 .5l.8 .1l.8 -.5l.8 -.3l.8 .3l.8 .1l.8 -.2l.9 1l.8 -.1l.8 -.3l.8 -.4l.8 .7l.8 -.3l.8 .5l.9 -.2l.8 .2l.8 -.2l.8 .2l.8 -.1l.8 .9l.8 .1l.9 -.1l.8 -.4l.8 .6l.8 .1l.8 .2l.8 .8l.8 .5l.9 -.1l.8 -.3l.8 .3l.8 0l.8 .3l.8 .2l.9 .8l.8 .7l.8 0l.8 .3l.8 .1l.8 .1l.8 -.3l.9 .4l.8 .2l.8 .6l.8 .4l.8 .3l.8 .2l.8 .3l.9 .3l.8 .1l.8 .4l.8 .2l.8 .3l.8 .3l.8 .4l.9 .7l.8 .3l.8 -.1l.8 .2l.8 -.1l.8 -.6l.9 .8l.8 .5l.8 .9l.8 .2l.8 .9l.8 -.1l.8 .1l.9 -.1l.8 .4l.8 .1l.8 .2l.8 -.3l.8 -.2l.8 0l.9 .7l.8 .3l.8 .9l.8 .5l.8 .3l.8 .2l.8 0l.9 -.3l.8 .2l.8 .5l.8 -.2l.8 .3l.8 .7l.9 .4l.8 0l.8 .6l.8 .1l.8 .4l.8 -.5l.8 .2l.9 -.1l.8 .1l.8 -.7l.8 .8l.8 -.2l.8 -.1l.8 -.1" fill="none" stroke="#6f0090" stroke-width="4.20" stroke-linejoin="round" stroke-linecap="round" />
<path d="M601.8 1433.1l.8 -.1l.8 .3l.8 -.1l.8 .3l.8 .1l.8 -.2l.9 -.4l.8 0l.8 -.3l.8 -.2l.8 -.4l.8 -.5l.8 -.7l.9 -.2l.8 -.3l.8 -.1l.8 .2l.8 0l.8 .1l.9 -.4l.8 -.3l.8 0l.8 -.1l.8 -.3l.8 -.2l.8 .1l.9 -.6l.8 -.5l.8 -.3l.8 -.2l.8 -.3l.8 -.3l.8 .5l.9 -.5l.8 -.3l.8 -.3l.8 -.5l.8 -.9l.8 0l.8 -.1l.9 -.3l.8 -.4l.8 0l.8 -.4l.8 -.3l.8 0l.9 .2l.8 0l.8 0l.8 -.9l.8 -.4l.8 -.4l.8 -.4l.9 -.7l.8 .1l.8 -.8l.8 0l.8 -.5l.8 -.1l.8 -.2l.9 .5l.8 -.5l.8 .3l.8 -.6l.8 -.1l.8 -.5l.8 -.5l.9 -.9l.8 0l.8 -.1l.8 -.2l.8 .2l.8 .2l.9 -.6l.8 -.6l.8 -.2l.8 -.5l.8 -.5l.8 -.4l.8 -.1l.9 -.9l.8 0l.8 .2l.8 .3l.8 -.1l.8 .1l.8 -.2l.9 -.7l.8 -.4l.8 .3l.8 -.3l.8 -.4l.8 -.2l.8 .2l.9 -.6l.8 -.1l.8 -.3l.8 .5l.8 -.2l.8 .1l.8 .3l.9 .4l.8 0l.8 -.1l.8 -.5l.8 -.5l.8 -.6l.9 -.2l.8 -.5l.8 .1l.8 .5l.8 .2l.8 -.4l.8 .7l.9 .4l.8 .2l.8 .5l.8 .7l.8 -.2l.8 0l.8 -.5l.9 -.2l.8 -.3l.8 .3l.8 .4l.8 .8l.8 .5l.8 .6l.9 0l.8 0l.8 -.2l.8 -.1l.8 -.3l.8 .2l.9 .1l.8 -.1l.8 -.4l.8 .3l.8 0l.8 .2l.8 1.1l.9 .7l.8 .2l.8 .5l.8 .6l.8 .4l.8 .3l.8 .6l.9 .2l.8 .5l.8 .2l.8 .7l.8 .7l.8 .5l.8 .1l.9 .3l.8 .4l.8 .3l.8 .6l.8 .5l.8 .7l.9 .7l.8 .3l.8 -.4l.8 -.3l.8 -.5l.8 -.3l.8 -.4l.9 .2l.8 .1l.8 -.2l.8 .1l.8 .3l.8 0l.8 -.3l.9 .1l.8 0l.8 -.4l.8 -.5l.8 -.2l.8 -.1l.8 -.7l.9 .2l.8 .1l.8 0l.8 -.5l.8 .1l.8 -.5l.9 -.2l.8 -.8l.8 0l.8 -.9l.8 -.4l.8 -.3l.8 .1l.9 -.5l.8 .1l.8 -.2l.8 -.5l.8 .1l.8 0l.8 -.1l.9 -.3l.8 .2l.8 -.4l.8 0l.8 .7l.8 1.1l.8 1.4l.9 1.5l.8 1l.8 .9l.8 1.4l.8 1.6l.8 1.8l.9 2.5l.8 3.3l.8 2.7l.8 2.7l.8 3.4l.8 3.5l.8 3.3l.9 3.6l.8 3.7l.8 3.6l.8 3.9l.8 6l.8 7.6l.8 8l.9 8.6l.8 9.6l.8 8.2l.8 7.5l.8 6.2l.8 3.5l.8 -.3l.9 -.6l.8 -1.4l.8 -1.3l.8 -2.3l.8 -2.8l.8 -3.8l.9 -3.7l.8 -4.3l.8 -3.5l.8 -3.7l.8 -3.1l.8 -3.9l.8 -3.9l.9 -4.3l.8 -4l.8 -4l.8 -4.1l.8 -3.8l.8 -3.8l.8 -4.4l.9 -4.7l.8 -4l.8 -3.1l.8 -3.2l.8 -2.6l.8 -2.6l.8 -2.7l.9 -1.6l.8 -2.2l.8 -2.4l.8 -2.5l.8 -2l.8 -2.2l.9 -2.3l.8 -1.3l.8 -1.3l.8 -.9l.8 -1.2l.8 -.6l.8 -1.1l.9 -.1l.8 -.7l.8 -.5l.8 -.1l.8 .1l.8 -.2l.8 .3l.9 0l.8 .1l.8 -.4l.8 .1l.8 -.2l.8 -.1l.8 0l.9 .4l.8 0l.8 .6l.8 .8l.8 .2l.8 .3l.9 .1l.8 -.2l.8 -.2l.8 .8l.8 .2l.8 .1l.8 .6l.9 .4l.8 -.2l.8 .1l.8 -.1l.8 .2l.8 -.2l.8 -.1l.9 .2l.8 -.2l.8 -.4l.8 -.1l.8 .1l.8 -.3l.8 -.2l.9 .1l.8 -.6l.8 -.4l.8 -.2l.8 .2l.8 -.4l.9 .6l.8 -.2l.8 -.2l.8 .1l.8 0l.8 -.3l.8 .1l.9 -.1l.8 -.4l.8 -.4l.8 -.1l.8 0l.8 .3l.8 -.3l.9 -.1l.8 -.4l.8 -.6l.8 -.9l.8 .5l.8 .2l.8 -.2l.9 -.3l.8 .1l.8 -1l.8 -.6l.8 0l.8 .3l.9 .1l.8 .4l.8 -.3l.8 -1.1l.8 -.2l.8 -.3l.8 -.5l.9 .5l.8 .4l.8 -.6l.8 -.3l.8 .3l.8 -.3l.8 -.2l.9 .5l.8 .1l.8 -.3l.8 -.4l.8 .8l.8 -.2l.8 .3l.9 -.4l.8 .4l.8 -.4l.8 -.1l.8 -.5l.8 .1l.9 -.4l.8 -.1l.8 .1l.8 .4l.8 -.1l.8 .1l.8 .1l.9 -.3l.8 -.1l.8 .4l.8 .3l.8 .3l.8 .7l.8 .4l.9 .3l.8 .3l.8 -.1l.8 -.3l.8 .1l.8 .3l.8 .5l.9 .3l.8 .2l.8 .1l.8 0l.8 -.5l.8 .6l.8 .8l.9 .3l.8 .2l.8 .5l.8 -.1l.8 -.5l.8 .3l.9 .5l.8 .5l.8 .2l.8 .6l.8 0l.8 -.2l.8 .6l.9 -.1l.8 0l.8 .3l.8 .3l.8 -.2l.8 .7l.8 .5l.9 .5l.8 .6l.8 .2l.8 .4l.8 .4l.8 .4l.8 .2l.9 .1l.8 .2l.8 .3l.8 0l.8 .2l.8 0l.9 .8l.8 -.1l.8 .8l.8 .5l.8 .8l.8 -.1l.8 .6l.9 0l.8 .2l.8 .2l.8 .5l.8 -.1l.8 .3l.8 .4l.9 .4l.8 -.4l.8 .5l.8 .2l.8 -.1l.8 -.6l.8 .6l.9 -.2l.8 .6l.8 .3l.8 .7l.8 .1l.8 .6l.9 -.4l.8 0l.8 .3l.8 -.2l.8 .3l.8 .6l.8 .4l.9 .3l.8 .7l.8 .1l.8 .2l.8 0l.8 -.1l.8 .2" fill="none" stroke="#60009f" stroke-width="4.20" stroke-linejoin="round" stroke-linecap="round" />
<path d="M601.8 1432.8l.8 -.2l.8 .1l.8 .2l.8 -.8l.8 -.6l.8 -.3l.9 -.2l.8 -.1l.8 -.3l.8 -.1l.8 -.7l.8 -.5l.8 -.9l.9 .1l.8 .3l.8 -.2l.8 -.1l.8 .5l.8 -.5l.9 -.5l.8 -.3l.8 -.3l.8 -.2l.8 -.1l.8 -.3l.8 -.2l.9 0l.8 -.5l.8 -.1l.8 -.4l.8 -.3l.8 -.4l.8 -.3l.9 -.6l.8 -.2l.8 .2l.8 0l.8 .1l.8 -.3l.8 -.5l.9 -.6l.8 -.5l.8 -.4l.8 -.4l.8 0l.8 -.1l.9 -.5l.8 -.3l.8 .1l.8 -.3l.8 -.7l.8 -.1l.8 -.4l.9 -.5l.8 .2l.8 -.1l.8 -.1l.8 -.4l.8 -.4l.8 -.6l.9 -.4l.8 -.2l.8 -.2l.8 -.2l.8 -.6l.8 -.2l.8 -.8l.9 -.3l.8 -.7l.8 0l.8 .3l.8 -.5l.8 .3l.9 .1l.8 0l.8 -.9l.8 .7l.8 -.9l.8 -.2l.8 -.1l.9 -.3l.8 -1.2l.8 0l.8 -.4l.8 -.8l.8 -.1l.8 .1l.9 .1l.8 .3l.8 -.2l.8 0l.8 .1l.8 -.2l.8 -.7l.9 .6l.8 -.1l.8 -.2l.8 -.4l.8 0l.8 .1l.8 -.1l.9 0l.8 0l.8 .5l.8 -.8l.8 -.5l.8 .4l.9 .1l.8 -.4l.8 .2l.8 .7l.8 -.9l.8 .2l.8 .1l.9 .2l.8 -.2l.8 1.5l.8 -.4l.8 .4l.8 -.7l.8 .1l.9 -.4l.8 -.1l.8 -.6l.8 .8l.8 .3l.8 .3l.8 .3l.9 .8l.8 -.2l.8 .3l.8 -.2l.8 .7l.8 0l.9 .5l.8 .3l.8 .2l.8 .2l.8 .3l.8 .2l.8 -.3l.9 .8l.8 0l.8 .4l.8 .2l.8 .9l.8 .4l.8 .6l.9 .7l.8 0l.8 .1l.8 .3l.8 .5l.8 .3l.8 1.4l.9 .6l.8 .4l.8 .2l.8 .7l.8 .3l.8 .5l.9 .8l.8 .6l.8 .1l.8 -.1l.8 -.1l.8 -.3l.8 -.2l.9 -.3l.8 -.1l.8 -.3l.8 -.3l.8 -.3l.8 -.8l.8 .2l.9 -.1l.8 -.6l.8 -.1l.8 -.3l.8 -.8l.8 -.9l.8 -.4l.9 -1.2l.8 -.3l.8 -1l.8 -.6l.8 -1l.8 -.8l.9 -1.2l.8 -.8l.8 -1.2l.8 -1.2l.8 -1.2l.8 -1.3l.8 -1.7l.9 -1.6l.8 -1l.8 -1.1l.8 -.6l.8 -1.1l.8 -.5l.8 -.9l.9 -.5l.8 -1.2l.8 -.8l.8 0l.8 .3l.8 0l.8 1.8l.9 2l.8 1.4l.8 1l.8 2l.8 1.2l.8 2.4l.9 2.9l.8 5l.8 4.1l.8 4.7l.8 5.1l.8 6l.8 5.5l.9 6l.8 6l.8 5.8l.8 5.5l.8 8.5l.8 10.7l.8 10.8l.9 12l.8 13.2l.8 11.5l.8 9.4l.8 9.4l.8 4.7l.8 0l.9 -1.2l.8 -1.2l.8 -2.5l.8 -3.3l.8 -4.5l.8 -4.6l.9 -5.4l.8 -5.4l.8 -4.7l.8 -4.4l.8 -5l.8 -5.2l.8 -4.7l.9 -5l.8 -4.9l.8 -5.3l.8 -5l.8 -5.4l.8 -5.5l.8 -6l.9 -5.7l.8 -5.5l.8 -4.6l.8 -4.1l.8 -4.2l.8 -4.2l.8 -3.9l.9 -3.8l.8 -3.4l.8 -3.4l.8 -2.8l.8 -3l.8 -1.9l.9 -2.2l.8 -1.4l.8 -1.5l.8 -1.9l.8 -1.1l.8 -1.1l.8 -1.5l.9 -.6l.8 -.6l.8 -.8l.8 -.3l.8 .1l.8 -.1l.8 .1l.9 .8l.8 .5l.8 .4l.8 .5l.8 .3l.8 .5l.8 .3l.9 .8l.8 .4l.8 1.6l.8 .4l.8 .9l.8 .9l.9 1.2l.8 .1l.8 .7l.8 .7l.8 .3l.8 .5l.8 .8l.9 .2l.8 .1l.8 .4l.8 .2l.8 .7l.8 1l.8 .5l.9 .2l.8 .2l.8 0l.8 -.4l.8 -.1l.8 .2l.8 .2l.9 .2l.8 -.3l.8 .3l.8 -.6l.8 -.5l.8 -.2l.9 -.1l.8 -.7l.8 0l.8 .4l.8 -.1l.8 0l.8 .2l.9 .1l.8 -.5l.8 -.6l.8 .4l.8 -.3l.8 0l.8 -.7l.9 .1l.8 -.6l.8 .3l.8 -1.1l.8 .4l.8 -.1l.8 -.3l.9 -.3l.8 1l.8 -.2l.8 -.2l.8 .2l.8 -.4l.9 -.4l.8 -.2l.8 -.5l.8 -.8l.8 0l.8 -.3l.8 -.4l.9 0l.8 .5l.8 -.8l.8 -.5l.8 .2l.8 .1l.8 -.7l.9 .1l.8 .2l.8 .2l.8 -.2l.8 -.3l.8 .4l.8 0l.9 -.4l.8 -.3l.8 .9l.8 -.2l.8 .1l.8 .3l.9 .4l.8 -.1l.8 .5l.8 -.3l.8 -.1l.8 -.1l.8 .3l.9 -.4l.8 -.1l.8 .1l.8 .1l.8 -.5l.8 .1l.8 .2l.9 -.4l.8 .8l.8 .3l.8 .1l.8 .6l.8 .9l.8 -.7l.9 .1l.8 .5l.8 -.2l.8 0l.8 .4l.8 .1l.8 .1l.9 .6l.8 .1l.8 .4l.8 .3l.8 -.2l.8 .7l.9 .1l.8 .4l.8 .4l.8 1l.8 -.2l.8 .3l.8 -.1l.9 .2l.8 0l.8 .1l.8 .5l.8 .8l.8 .6l.8 .5l.9 0l.8 .5l.8 .4l.8 -.4l.8 .5l.8 .8l.8 0l.9 .1l.8 .8l.8 .3l.8 .5l.8 .4l.8 .3l.9 .7l.8 -.1l.8 -.1l.8 .2l.8 .5l.8 -.1l.8 .2l.9 .6l.8 .1l.8 .7l.8 -.2l.8 .8l.8 -.1l.8 .7l.9 -.6l.8 .5l.8 -.1l.8 .3l.8 .3l.8 .3l.8 .1l.9 -.1l.8 .1l.8 -.1l.8 .6l.8 .4l.8 .3l.9 .4l.8 .6l.8 -.1l.8 -.2l.8 .9l.8 .2l.8 .1l.9 .8l.8 .2l.8 -.3l.8 -.4l.8 .1l.8 -.4l.8 .2" fill="none" stroke="#5000af" stroke-width="4.20" stroke-linejoin="round" stroke-linecap="round" />
<path d="M601.8 1432.1l.8 0l.8 -.2l.8 -.5l.8 -.7l.8 -.5l.8 -.1l.9 -.7l.8 0l.8 -.1l.8 -.3l.8 -.6l.8 .5l.8 -.2l.9 -.3l.8 .4l.8 -.1l.8 -.8l.8 .4l.8 -.3l.9 -.2l.8 -.1l.8 .2l.8 -.9l.8 -.4l.8 -.6l.8 -.2l.9 -.5l.8 0l.8 .1l.8 -.1l.8 .1l.8 -.2l.8 -.1l.9 0l.8 .3l.8 -1l.8 .3l.8 -.8l.8 -.3l.8 -.7l.9 .3l.8 -.9l.8 .3l.8 -.5l.8 -.4l.8 -.5l.9 .1l.8 -.3l.8 -.2l.8 -.3l.8 -.1l.8 -.3l.8 -.4l.9 -.2l.8 -.2l.8 -.5l.8 -.4l.8 -.4l.8 -.7l.8 -.2l.9 -.4l.8 -.3l.8 -.5l.8 .3l.8 -.1l.8 0l.8 -.7l.9 -.4l.8 -.6l.8 -.6l.8 -.2l.8 -.3l.8 -.4l.9 -.3l.8 -.3l.8 -.6l.8 -.1l.8 .3l.8 -.3l.8 -.1l.9 .5l.8 .1l.8 -.4l.8 -.2l.8 -.1l.8 -.9l.8 -.6l.9 -.2l.8 -.4l.8 -.2l.8 0l.8 .3l.8 -.2l.8 .1l.9 -.4l.8 -.4l.8 -.5l.8 -.2l.8 .5l.8 .1l.8 .6l.9 -.1l.8 .3l.8 -.3l.8 0l.8 .4l.8 -.1l.9 -.5l.8 -.3l.8 -.4l.8 -.6l.8 .5l.8 .3l.8 .1l.9 .4l.8 .2l.8 -.2l.8 -.1l.8 .4l.8 -.1l.8 -.3l.9 .4l.8 .2l.8 -.2l.8 .2l.8 .5l.8 .3l.8 .1l.9 -.2l.8 .6l.8 -.1l.8 -.4l.8 -.1l.8 .5l.9 -.3l.8 0l.8 .5l.8 .5l.8 .5l.8 .6l.8 .8l.9 .3l.8 .5l.8 .3l.8 .5l.8 .7l.8 .8l.8 .7l.9 .5l.8 .3l.8 .6l.8 .7l.8 .7l.8 .4l.8 .6l.9 .4l.8 .4l.8 .6l.8 1l.8 1.1l.8 .7l.9 .3l.8 .3l.8 -.1l.8 -.5l.8 -.4l.8 -.1l.8 -.5l.9 .2l.8 -.4l.8 -.3l.8 -.5l.8 -.5l.8 -1.2l.8 -.7l.9 -.7l.8 -.7l.8 -.9l.8 -1l.8 -.6l.8 -1.5l.8 -1.5l.9 -1.3l.8 -.9l.8 -1.5l.8 -1.1l.8 -1.6l.8 -1.7l.9 -1.5l.8 -1.4l.8 -2.3l.8 -1.5l.8 -2.1l.8 -2.4l.8 -2.7l.9 -1.9l.8 -2.2l.8 -1.4l.8 -1.7l.8 -1.5l.8 -1.3l.8 -1.2l.9 -2.1l.8 -1.6l.8 -.9l.8 -1.3l.8 -.3l.8 .6l.8 1.1l.9 .9l.8 .9l.8 1.2l.8 1.6l.8 2l.8 3.6l.9 5.8l.8 5.8l.8 6l.8 6l.8 6.5l.8 6.5l.8 7.6l.9 8.1l.8 8l.8 7.5l.8 8.9l.8 11l.8 14.6l.8 14.9l.9 16.2l.8 17.6l.8 16.7l.8 12.8l.8 12.4l.8 7l.8 -.6l.9 -2l.8 -2.8l.8 -3.7l.8 -4.3l.8 -5.1l.8 -6.3l.9 -6.8l.8 -6.7l.8 -6.3l.8 -6.4l.8 -6.4l.8 -6.3l.8 -6.4l.9 -6.7l.8 -6.3l.8 -6.5l.8 -6.9l.8 -6.8l.8 -7.1l.8 -7.5l.9 -7.6l.8 -6.7l.8 -6.2l.8 -5.8l.8 -6.3l.8 -5.8l.8 -5.5l.9 -4.6l.8 -3.9l.8 -4l.8 -3.3l.8 -4.1l.8 -2.7l.9 -2.6l.8 -1.9l.8 -2.1l.8 -.7l.8 -1.7l.8 -1.2l.8 -1.2l.9 -.9l.8 -1l.8 -.1l.8 -.4l.8 .2l.8 .1l.8 .6l.9 .1l.8 .6l.8 1l.8 1.2l.8 1.1l.8 1.3l.8 1.5l.9 1.1l.8 1l.8 1.2l.8 1.2l.8 .9l.8 1.2l.9 1.2l.8 .9l.8 1.5l.8 1.6l.8 1l.8 1.4l.8 1.3l.9 .4l.8 .1l.8 .6l.8 .2l.8 .4l.8 .7l.8 .4l.9 .8l.8 .2l.8 .1l.8 .5l.8 .6l.8 .3l.8 .3l.9 .2l.8 .1l.8 -.2l.8 -.4l.8 -.2l.8 .2l.9 -.8l.8 .1l.8 -.5l.8 .3l.8 -.5l.8 .6l.8 .4l.9 .4l.8 -.6l.8 .7l.8 -.4l.8 -1l.8 .1l.8 -.5l.9 -1l.8 -.4l.8 -.1l.8 -1l.8 .7l.8 .4l.8 .1l.9 -.2l.8 -.1l.8 -.3l.8 -.6l.8 0l.8 .1l.9 .2l.8 -.8l.8 -.2l.8 0l.8 -.4l.8 .2l.8 -.2l.9 .1l.8 -.5l.8 -.6l.8 -.6l.8 .6l.8 .1l.8 -.2l.9 .4l.8 .4l.8 -.5l.8 -.1l.8 .4l.8 -.3l.8 .1l.9 .2l.8 .2l.8 0l.8 .2l.8 -.3l.8 -.1l.9 -.2l.8 -.1l.8 .3l.8 .1l.8 .3l.8 .4l.8 .1l.9 -.1l.8 .5l.8 0l.8 -.2l.8 .2l.8 -.1l.8 -.5l.9 -.3l.8 0l.8 .2l.8 .4l.8 .8l.8 .8l.8 0l.9 -.4l.8 -.2l.8 -.3l.8 -.2l.8 .5l.8 .4l.8 .5l.9 .4l.8 0l.8 -.1l.8 .8l.8 .3l.8 .1l.9 .4l.8 .2l.8 .1l.8 .3l.8 .4l.8 .6l.8 .5l.9 .5l.8 -.4l.8 0l.8 .3l.8 .6l.8 .4l.8 .5l.9 .6l.8 .1l.8 -.1l.8 .1l.8 .4l.8 .2l.8 .2l.9 0l.8 .3l.8 .4l.8 .6l.8 .3l.8 .5l.9 .6l.8 .3l.8 .4l.8 .3l.8 .3l.8 -.3l.8 .4l.9 -.3l.8 0l.8 .2l.8 .9l.8 0l.8 .6l.8 .6l.9 .5l.8 -.2l.8 -.1l.8 .6l.8 .2l.8 .5l.8 -.1l.9 .7l.8 -.5l.8 -.1l.8 0l.8 .8l.8 .4l.9 .8l.8 .5l.8 .3l.8 -.2l.8 -.3l.8 -.1l.8 .3l.9 .2l.8 -.2l.8 .6l.8 0l.8 .5l.8 .3l.8 .3" fill="none" stroke="#4200bd" stroke-width="4.20" stroke-linejoin="round" stroke-linecap="round" />
<path d="M601.8 1433.1l.8 0l.8 -.1l.8 -.1l.8 .2l.8 .2l.8 -.1l.9 -.6l.8 -.3l.8 -.4l.8 -.3l.8 -.3l.8 -.2l.8 -.2l.9 0l.8 -.4l.8 .1l.8 -.4l.8 -.1l.8 -.7l.9 .3l.8 -.4l.8 -.1l.8 -.6l.8 .2l.8 -.7l.8 -.8l.9 -.5l.8 .3l.8 -.5l.8 -.3l.8 .1l.8 0l.8 -.4l.9 -.1l.8 -.3l.8 -.4l.8 -.1l.8 -.6l.8 -.2l.8 -.1l.9 -.4l.8 -.5l.8 .4l.8 -.4l.8 -.8l.8 -.4l.9 -.2l.8 -.2l.8 -.3l.8 .1l.8 .1l.8 -.4l.8 -.8l.9 -.4l.8 -.8l.8 -.2l.8 -.2l.8 -.3l.8 -.6l.8 -.1l.9 -.5l.8 -.4l.8 -.1l.8 .3l.8 -.6l.8 -.5l.8 -.5l.9 -.1l.8 -.7l.8 0l.8 0l.8 0l.8 -.1l.9 -.1l.8 -.1l.8 -.4l.8 -.6l.8 -.5l.8 -.1l.8 -.1l.9 -.2l.8 .3l.8 -.3l.8 -.3l.8 -.4l.8 -.3l.8 -1.1l.9 -.5l.8 -.2l.8 .3l.8 0l.8 0l.8 .2l.8 0l.9 -.4l.8 .1l.8 .1l.8 -.4l.8 -.6l.8 -.1l.8 .2l.9 .1l.8 .2l.8 .2l.8 .1l.8 -.7l.8 -.2l.9 0l.8 .1l.8 .4l.8 .4l.8 0l.8 .2l.8 -.3l.9 -.6l.8 -.2l.8 .3l.8 -.1l.8 .5l.8 .6l.8 .2l.9 0l.8 -.2l.8 .3l.8 -.1l.8 .1l.8 .3l.8 .4l.9 .2l.8 .4l.8 0l.8 0l.8 .1l.8 -.5l.9 .2l.8 .2l.8 .3l.8 .8l.8 .6l.8 .4l.8 .4l.9 .4l.8 .5l.8 .4l.8 .5l.8 .9l.8 .6l.8 0l.9 .4l.8 .1l.8 .2l.8 1l.8 .9l.8 .9l.8 1l.9 1.1l.8 .2l.8 1.2l.8 1.1l.8 .7l.8 .7l.9 .4l.8 0l.8 -.1l.8 0l.8 -.3l.8 -.3l.8 -.8l.9 -.8l.8 -1l.8 -1.2l.8 -.8l.8 -.5l.8 -1.1l.8 -.9l.9 -1.6l.8 -1.6l.8 -1.5l.8 -1.9l.8 -2.1l.8 -1.9l.8 -2.1l.9 -2.3l.8 -2.2l.8 -2.2l.8 -3.1l.8 -3.1l.8 -3.2l.9 -2.7l.8 -3l.8 -3.1l.8 -3l.8 -3.4l.8 -4.3l.8 -3.9l.9 -3.7l.8 -3.4l.8 -3.6l.8 -3.3l.8 -3.7l.8 -3.2l.8 -3.1l.9 -3.5l.8 -2.7l.8 -2.9l.8 -2.8l.8 -1.7l.8 0l.8 .4l.9 1.1l.8 1.5l.8 1.5l.8 1.3l.8 2l.8 4.6l.9 6.5l.8 8.2l.8 8.6l.8 8.4l.8 9.5l.8 11.3l.8 11.1l.9 12.2l.8 13.1l.8 12.8l.8 12.5l.8 15.9l.8 17.8l.8 18.5l.9 19.9l.8 22.2l.8 20.4l.8 16.3l.8 14.2l.8 7.5l.8 -.6l.9 -2.3l.8 -2.8l.8 -2.9l.8 -4.3l.8 -7l.8 -7.7l.9 -8.7l.8 -8.8l.8 -8.1l.8 -7.1l.8 -7.9l.8 -7.5l.8 -7.4l.9 -7.9l.8 -7.7l.8 -8.1l.8 -8.2l.8 -8.6l.8 -8.2l.8 -8.5l.9 -8.9l.8 -9.5l.8 -8.5l.8 -8.7l.8 -9.1l.8 -7.8l.8 -7.1l.9 -6l.8 -6.1l.8 -5.7l.8 -5.8l.8 -4.8l.8 -4.5l.9 -3.1l.8 -2.8l.8 -2.2l.8 -2.1l.8 -2.1l.8 -1.9l.8 -1.1l.9 -.8l.8 -.6l.8 .6l.8 .3l.8 .8l.8 .9l.8 1.2l.9 1.1l.8 1.4l.8 2.2l.8 1.7l.8 1.9l.8 1.9l.8 2.1l.9 2.3l.8 2.5l.8 1.7l.8 2.6l.8 1.7l.8 1.7l.9 2.2l.8 2.7l.8 1.9l.8 2.7l.8 2.2l.8 1.3l.8 1.8l.9 1.2l.8 .6l.8 1.1l.8 1.6l.8 1l.8 1.2l.8 2l.9 1.1l.8 .9l.8 .7l.8 1l.8 -.1l.8 .6l.8 .5l.9 0l.8 .1l.8 0l.8 0l.8 0l.8 0l.9 -.5l.8 .5l.8 -.1l.8 0l.8 .3l.8 .6l.8 .4l.9 .1l.8 -.4l.8 0l.8 -.2l.8 -.5l.8 .1l.8 .3l.9 -.4l.8 -.2l.8 -.6l.8 -.3l.8 -.2l.8 .2l.8 -.1l.9 .3l.8 -.4l.8 -.5l.8 -.7l.8 -.3l.8 0l.9 -.2l.8 .3l.8 0l.8 -.4l.8 -.3l.8 -.4l.8 -.6l.9 -.7l.8 .2l.8 .1l.8 .3l.8 0l.8 .6l.8 .1l.9 -.6l.8 -.3l.8 .6l.8 -.3l.8 -.1l.8 0l.8 -.2l.9 -.2l.8 0l.8 -.3l.8 .2l.8 -.1l.8 .1l.9 .1l.8 -.1l.8 -.1l.8 .3l.8 -.5l.8 .3l.8 0l.9 .4l.8 -.2l.8 .1l.8 -.4l.8 .3l.8 -.5l.8 .5l.9 .3l.8 .5l.8 0l.8 .6l.8 -.3l.8 -.1l.8 .1l.9 .1l.8 .2l.8 .2l.8 .5l.8 -.1l.8 -.1l.8 .2l.9 .3l.8 .4l.8 .4l.8 .3l.8 0l.8 .6l.9 .3l.8 .7l.8 .7l.8 .2l.8 .1l.8 -.3l.8 .2l.9 .4l.8 .4l.8 .1l.8 .8l.8 0l.8 .5l.8 .1l.9 .4l.8 .1l.8 .3l.8 -.2l.8 .4l.8 -.1l.8 .8l.9 .7l.8 .6l.8 .1l.8 .9l.8 -.2l.8 .2l.9 -.1l.8 .4l.8 -.2l.8 .2l.8 .1l.8 .4l.8 .3l.9 .9l.8 .6l.8 .4l.8 .2l.8 .6l.8 -.2l.8 -.2l.9 .2l.8 .3l.8 .2l.8 .6l.8 .6l.8 .3l.8 .6l.9 -.2l.8 .1l.8 0l.8 .4l.8 .1l.8 .2l.9 -.1l.8 .1l.8 -.6l.8 0l.8 .1l.8 .7l.8 -.4l.9 1.3l.8 .2l.8 0l.8 .1l.8 .9l.8 -.2l.8 .8" fill="none" stroke="#3700c8" stroke-width="4.20" stroke-linejoin="round" stroke-linecap="round" />
<path d="M601.8 1436l.8 .3l.8 -.5l.8 -.1l.8 .2l.8 -.1l.8 -.9l.9 0l.8 -.4l.8 -.2l.8 -.4l.8 .7l.8 -.6l.8 0l.9 -.7l.8 .2l.8 -.3l.8 -.2l.8 -.2l.8 0l.9 -1l.8 -.9l.8 0l.8 -.3l.8 -.3l.8 .2l.8 0l.9 -.2l.8 -.6l.8 -.2l.8 -.2l.8 -.7l.8 .1l.8 .3l.9 -.2l.8 .1l.8 -.2l.8 -.8l.8 -.8l.8 -.5l.8 -.3l.9 -.1l.8 -.1l.8 -.1l.8 .3l.8 -.7l.8 -.5l.9 -.2l.8 -.1l.8 -.7l.8 -.1l.8 -.1l.8 -.5l.8 -.5l.9 .2l.8 -.7l.8 -.1l.8 -.1l.8 -.4l.8 -.8l.8 0l.9 -.5l.8 -.4l.8 -.2l.8 -.5l.8 -.6l.8 -.7l.8 -.5l.9 -.5l.8 -.1l.8 0l.8 -.2l.8 -.3l.8 0l.9 .3l.8 -.4l.8 .3l.8 .1l.8 -.6l.8 -.6l.8 -.5l.9 -.6l.8 -.5l.8 -.3l.8 -.1l.8 0l.8 -.2l.8 -.2l.9 -.1l.8 -.7l.8 -.2l.8 -.3l.8 -.3l.8 -.3l.8 .1l.9 -.4l.8 -.3l.8 -.3l.8 -.1l.8 .1l.8 .9l.8 .1l.9 -.3l.8 .3l.8 -.4l.8 -1l.8 0l.8 .4l.9 -.1l.8 .3l.8 .2l.8 .4l.8 .2l.8 -.1l.8 0l.9 -.3l.8 0l.8 -.2l.8 .7l.8 0l.8 .7l.8 -.2l.9 -.3l.8 -.5l.8 .4l.8 0l.8 .2l.8 .7l.8 .3l.9 -.1l.8 -.1l.8 .8l.8 0l.8 .4l.8 0l.9 .4l.8 0l.8 .7l.8 .2l.8 .6l.8 .2l.8 .3l.9 .3l.8 .5l.8 1.1l.8 .8l.8 .5l.8 .3l.8 .5l.9 0l.8 .9l.8 1.1l.8 .8l.8 1.1l.8 1.7l.8 .5l.9 .8l.8 1.3l.8 1l.8 .3l.8 .9l.8 .5l.9 0l.8 .3l.8 .1l.8 -.5l.8 -.5l.8 -.6l.8 -1.6l.9 -1.7l.8 -.9l.8 -1.3l.8 -1.2l.8 -1l.8 -.9l.8 -1.4l.9 -2.1l.8 -2.5l.8 -2l.8 -2.8l.8 -3.2l.8 -3l.8 -2.7l.9 -3.5l.8 -3.5l.8 -3.4l.8 -3.8l.8 -4l.8 -4.7l.9 -4.3l.8 -4.9l.8 -4.7l.8 -5.3l.8 -5.2l.8 -4.8l.8 -5.3l.9 -5.9l.8 -5.8l.8 -5.1l.8 -6l.8 -5l.8 -4.5l.8 -4.2l.9 -4.7l.8 -5.1l.8 -4.7l.8 -4.1l.8 -2.7l.8 -.9l.8 .8l.9 1.3l.8 1.6l.8 1.5l.8 2.2l.8 3l.8 4.9l.9 7.5l.8 9.9l.8 10.5l.8 10.8l.8 13.1l.8 15l.8 16.1l.9 16.5l.8 16.2l.8 16.8l.8 17.8l.8 19.3l.8 21.5l.8 22.3l.9 25l.8 26.8l.8 25.4l.8 20.2l.8 19.3l.8 9l.8 -1.2l.9 -2.7l.8 -3.9l.8 -4.8l.8 -5.5l.8 -7.6l.8 -9.6l.9 -10.8l.8 -10.2l.8 -9.8l.8 -9.3l.8 -9.7l.8 -8.4l.8 -8.9l.9 -9.2l.8 -9.2l.8 -9.1l.8 -10.2l.8 -10.2l.8 -9.7l.8 -10.4l.9 -10.9l.8 -10.8l.8 -10.9l.8 -11.7l.8 -11.1l.8 -10.2l.8 -10.2l.9 -8.1l.8 -6.8l.8 -7.5l.8 -6.7l.8 -5.6l.8 -5.2l.9 -4.7l.8 -2.9l.8 -3.4l.8 -1.7l.8 -2.6l.8 -1.9l.8 -.8l.9 -.5l.8 -1l.8 .1l.8 .8l.8 .7l.8 1.1l.8 1.9l.9 2.6l.8 1.8l.8 2.4l.8 3.1l.8 3.1l.8 2.6l.8 3.8l.9 3.7l.8 3.3l.8 2.8l.8 3.5l.8 2.9l.8 3l.9 2.9l.8 3.6l.8 2.8l.8 2.9l.8 2.4l.8 2.8l.8 2.5l.9 2.2l.8 2.1l.8 1.7l.8 1.7l.8 1.1l.8 1.8l.8 .8l.9 1.4l.8 1.5l.8 1.4l.8 .5l.8 1l.8 .5l.8 .7l.9 .2l.8 .8l.8 .6l.8 .6l.8 -.3l.8 .5l.9 .4l.8 .6l.8 0l.8 .6l.8 .6l.8 .2l.8 0l.9 -.3l.8 .1l.8 -.1l.8 0l.8 -.1l.8 .6l.8 .3l.9 -.8l.8 -.5l.8 0l.8 -.4l.8 -1.4l.8 .1l.8 -.1l.9 -.6l.8 -.2l.8 .3l.8 -.7l.8 -.1l.8 .5l.9 .1l.8 -.5l.8 -.1l.8 -.3l.8 -.7l.8 -.9l.8 -.1l.9 .5l.8 -.1l.8 0l.8 .2l.8 .3l.8 -.5l.8 -.3l.9 -.5l.8 -.5l.8 -.4l.8 -.2l.8 0l.8 .2l.8 .5l.9 .2l.8 .3l.8 .1l.8 .2l.8 0l.8 -.1l.9 -.5l.8 -.2l.8 0l.8 -.1l.8 -.2l.8 .8l.8 .1l.9 0l.8 .2l.8 .2l.8 -.7l.8 .7l.8 -.6l.8 -.2l.9 .4l.8 .3l.8 -.1l.8 .5l.8 .3l.8 -.3l.8 .2l.9 .1l.8 -.2l.8 .4l.8 .4l.8 .4l.8 .1l.8 .6l.9 .1l.8 .3l.8 .2l.8 .3l.8 -.1l.8 -.3l.9 .1l.8 .5l.8 0l.8 .1l.8 .6l.8 .4l.8 .4l.9 .4l.8 .5l.8 .5l.8 .4l.8 .1l.8 .7l.8 .5l.9 .6l.8 .6l.8 .1l.8 -.1l.8 .7l.8 .8l.8 .1l.9 .6l.8 .8l.8 .1l.8 -.8l.8 -.1l.8 .6l.9 -.4l.8 -.1l.8 .9l.8 .5l.8 .3l.8 .4l.8 .4l.9 0l.8 -.1l.8 -.1l.8 .5l.8 .6l.8 .3l.8 .5l.9 .4l.8 .5l.8 .3l.8 .3l.8 .3l.8 -.1l.8 -.3l.9 0l.8 .1l.8 .7l.8 .4l.8 .7l.8 .5l.9 -.2l.8 -.3l.8 .1l.8 0l.8 -.4l.8 .9l.8 .5l.9 .4l.8 .3l.8 .2l.8 .3l.8 -.2l.8 -.4l.8 0" fill="none" stroke="#2900d6" stroke-width="4.20" stroke-linejoin="round" stroke-linecap="round" />
<path d="M601.8 1439.6l.8 -.9l.8 .2l.8 .4l.8 0l.8 .1l.8 .4l.9 -.8l.8 -.3l.8 0l.8 -.7l.8 -.5l.8 -.2l.8 -.1l.9 -.4l.8 .6l.8 0l.8 .1l.8 -.4l.8 -.2l.9 -.7l.8 -.3l.8 -.4l.8 -.6l.8 -.7l.8 -.4l.8 -.4l.9 -.5l.8 .2l.8 .2l.8 -.2l.8 .4l.8 .1l.8 -.3l.9 -.5l.8 -.1l.8 -.5l.8 -.6l.8 -.2l.8 .1l.8 -.5l.9 -.5l.8 .6l.8 -.6l.8 -.5l.8 -.2l.8 -.4l.9 -1.3l.8 0l.8 0l.8 0l.8 -.4l.8 -.1l.8 -.4l.9 -.7l.8 -.8l.8 -.3l.8 .1l.8 -.6l.8 .1l.8 -.5l.9 .3l.8 -.1l.8 -.4l.8 -.7l.8 -.1l.8 -.9l.8 -.7l.9 .2l.8 .2l.8 -.4l.8 0l.8 -.1l.8 -.4l.9 -.6l.8 .6l.8 -.4l.8 .3l.8 -.6l.8 .3l.8 -.8l.9 .2l.8 -.8l.8 -.3l.8 -.8l.8 -.4l.8 -.4l.8 -.1l.9 .1l.8 .3l.8 .3l.8 -.6l.8 0l.8 .4l.8 -.6l.9 -.7l.8 .2l.8 -.3l.8 -.9l.8 .1l.8 .4l.8 0l.9 -.3l.8 -.4l.8 -.3l.8 -.4l.8 -.4l.8 -.1l.9 .6l.8 .2l.8 -.1l.8 .3l.8 .5l.8 0l.8 .3l.9 .1l.8 .4l.8 -.5l.8 -.3l.8 -.2l.8 .6l.8 .1l.9 .1l.8 .3l.8 .4l.8 -.4l.8 0l.8 .3l.8 -.1l.9 .1l.8 .5l.8 -.4l.8 -.2l.8 .5l.8 -.3l.9 .1l.8 .4l.8 1.1l.8 .5l.8 .9l.8 .6l.8 .8l.9 .1l.8 .9l.8 .3l.8 .8l.8 .6l.8 .8l.8 .5l.9 1.2l.8 .4l.8 .7l.8 .8l.8 1l.8 1.1l.8 1l.9 1.8l.8 1.2l.8 1.2l.8 1.1l.8 .9l.8 .2l.9 .7l.8 .1l.8 -.1l.8 -.7l.8 -.6l.8 -.9l.8 -1.4l.9 -1.7l.8 -1.5l.8 -1.6l.8 -2.6l.8 -1.3l.8 -1.7l.8 -2.1l.9 -2.7l.8 -2.2l.8 -3.6l.8 -3.5l.8 -3.5l.8 -4.1l.8 -4.2l.9 -4.1l.8 -4.3l.8 -5l.8 -4.9l.8 -5.1l.8 -6.1l.9 -6l.8 -5.9l.8 -6.2l.8 -6.9l.8 -6.3l.8 -6.3l.8 -7l.9 -7.7l.8 -7.1l.8 -7.4l.8 -7.3l.8 -7.4l.8 -6.3l.8 -6.1l.9 -7.2l.8 -7.6l.8 -6.1l.8 -5.7l.8 -4.3l.8 -1.5l.8 .1l.9 .6l.8 1.6l.8 1.4l.8 1.8l.8 2.9l.8 6.8l.9 9.4l.8 12.1l.8 13.2l.8 13.3l.8 14.6l.8 17.4l.8 19.5l.9 20.2l.8 20.1l.8 20.8l.8 21.7l.8 24.2l.8 26.3l.8 27.5l.9 30l.8 32.5l.8 29.8l.8 24l.8 23l.8 11l.8 -.8l.9 -3.3l.8 -4.7l.8 -5.6l.8 -6.1l.8 -9.5l.8 -11.8l.9 -12.7l.8 -13.2l.8 -11.9l.8 -10.7l.8 -10.2l.8 -9.8l.8 -9.7l.9 -10.4l.8 -10.9l.8 -11.5l.8 -11.7l.8 -11.6l.8 -11.5l.8 -11.9l.9 -12l.8 -13.1l.8 -13.5l.8 -13.5l.8 -13.7l.8 -12.9l.8 -11.5l.9 -9l.8 -9.1l.8 -8.4l.8 -8.3l.8 -7l.8 -6.6l.9 -4.9l.8 -3.1l.8 -2.3l.8 -2.4l.8 -2.1l.8 -2l.8 -1.6l.9 -1.4l.8 -1l.8 .6l.8 1.2l.8 2l.8 2l.8 3l.9 2.4l.8 3l.8 2.7l.8 3.6l.8 4.1l.8 3.8l.8 4.2l.9 4.8l.8 4l.8 4.1l.8 4.4l.8 4.2l.8 3.7l.9 4.3l.8 4.1l.8 4l.8 3.3l.8 3.3l.8 3.6l.8 3l.9 2l.8 2.3l.8 2.1l.8 2.2l.8 2.4l.8 2.4l.8 2.6l.9 2.4l.8 2.5l.8 1.6l.8 1.1l.8 1.3l.8 .4l.8 .1l.9 .7l.8 1.1l.8 .1l.8 .3l.8 .5l.8 .5l.9 .8l.8 .9l.8 .6l.8 .1l.8 0l.8 -.6l.8 -.2l.9 .1l.8 .2l.8 0l.8 .3l.8 .1l.8 0l.8 -.2l.9 .1l.8 -.1l.8 -.7l.8 0l.8 -.1l.8 -.4l.8 -.1l.9 .2l.8 -.2l.8 -.4l.8 .1l.8 -.2l.8 -.4l.9 -.4l.8 .2l.8 -.3l.8 -.3l.8 -.1l.8 -.2l.8 -.3l.9 -.2l.8 -.2l.8 0l.8 -.1l.8 -.3l.8 -.4l.8 -.3l.9 -.1l.8 -.4l.8 .2l.8 .5l.8 .4l.8 0l.8 .2l.9 0l.8 -.3l.8 -.3l.8 .1l.8 -.1l.8 .2l.9 -.2l.8 -.3l.8 .3l.8 .1l.8 0l.8 .5l.8 .4l.9 -.2l.8 -.1l.8 -.5l.8 0l.8 0l.8 -.2l.8 .1l.9 .1l.8 0l.8 .2l.8 .6l.8 .2l.8 .6l.8 .3l.9 .3l.8 -.4l.8 .3l.8 0l.8 -.5l.8 0l.8 .4l.9 .3l.8 -.1l.8 .9l.8 -.1l.8 0l.8 .2l.9 .4l.8 -.3l.8 .7l.8 .7l.8 .4l.8 0l.8 .9l.9 .2l.8 .3l.8 .1l.8 .5l.8 -.1l.8 .1l.8 .3l.9 .2l.8 .4l.8 .6l.8 .4l.8 -.4l.8 .4l.8 .4l.9 .6l.8 .5l.8 .6l.8 .2l.8 .2l.8 0l.9 -.1l.8 .6l.8 .1l.8 .5l.8 .5l.8 -.2l.8 .1l.9 .6l.8 .3l.8 0l.8 .8l.8 .4l.8 .2l.8 .1l.9 .6l.8 .5l.8 .4l.8 0l.8 .1l.8 .1l.8 -.3l.9 .3l.8 0l.8 .8l.8 .3l.8 .3l.8 -.1l.9 0l.8 -.3l.8 .2l.8 .5l.8 .2l.8 1.2l.8 .3l.9 0l.8 0l.8 .4l.8 .3l.8 .1l.8 -.3l.8 .3" fill="none" stroke="#1700e8" stroke-width="4.20" stroke-linejoin="round" stroke-linecap="round" />
<path d="M601.8 1444.9l.8 -.5l.8 -.7l.8 -.2l.8 -.4l.8 -.1l.8 .1l.9 .3l.8 -.2l.8 0l.8 .3l.8 -.7l.8 -.6l.8 -.4l.9 .1l.8 -.6l.8 -.1l.8 -.2l.8 -.3l.8 -.4l.9 -.4l.8 -.4l.8 -.5l.8 -.3l.8 -.6l.8 -.1l.8 -.5l.9 0l.8 0l.8 -.8l.8 0l.8 .1l.8 -.4l.8 -.3l.9 .4l.8 -.4l.8 -.1l.8 0l.8 0l.8 -.7l.8 -.4l.9 -.2l.8 -.3l.8 -.7l.8 0l.8 -.3l.8 -.4l.9 -.7l.8 -.4l.8 -.6l.8 -.2l.8 .3l.8 .3l.8 .3l.9 0l.8 .1l.8 -.8l.8 -.5l.8 -.4l.8 -.5l.8 -1.2l.9 -.7l.8 0l.8 -.3l.8 0l.8 .2l.8 0l.8 -.5l.9 -.7l.8 -.1l.8 -.4l.8 .1l.8 -.4l.8 -.2l.9 -.5l.8 -.2l.8 -.5l.8 -.6l.8 -.1l.8 -.2l.8 .1l.9 -.3l.8 .5l.8 -.5l.8 -.3l.8 -.4l.8 -.1l.8 -.6l.9 .5l.8 -.1l.8 -.3l.8 .4l.8 -.1l.8 -.6l.8 0l.9 0l.8 -.8l.8 0l.8 -.4l.8 -.4l.8 .2l.8 .4l.9 -.3l.8 .2l.8 .3l.8 -.6l.8 -.7l.8 -.2l.9 -.4l.8 -.9l.8 .2l.8 .4l.8 .4l.8 .8l.8 .1l.9 .1l.8 .2l.8 -.3l.8 -.5l.8 .8l.8 .1l.8 0l.9 .3l.8 .7l.8 .2l.8 .2l.8 -.1l.8 .3l.8 -.3l.9 .2l.8 .3l.8 .5l.8 -.3l.8 .5l.8 .1l.9 .3l.8 -.2l.8 .6l.8 .3l.8 .8l.8 .2l.8 1.2l.9 .8l.8 1.2l.8 .4l.8 .5l.8 .4l.8 .7l.8 .6l.9 .7l.8 1.1l.8 .6l.8 .9l.8 .8l.8 1.3l.8 1.4l.9 1.2l.8 .6l.8 1l.8 .7l.8 .4l.8 .8l.9 1.3l.8 .5l.8 -.6l.8 -.2l.8 -.7l.8 -1.5l.8 -1.5l.9 -1.1l.8 -1.4l.8 -2l.8 -2.3l.8 -2.4l.8 -2.2l.8 -2.9l.9 -3.1l.8 -3.4l.8 -3.9l.8 -4.8l.8 -5.2l.8 -5.4l.8 -5.2l.9 -5.3l.8 -5.3l.8 -5.9l.8 -6.1l.8 -7l.8 -7.2l.9 -7.5l.8 -7.4l.8 -7.6l.8 -7.4l.8 -8.3l.8 -8.4l.8 -9.2l.9 -9.1l.8 -9.8l.8 -8.7l.8 -9.2l.8 -8.2l.8 -8.6l.8 -7.7l.9 -9l.8 -8.9l.8 -8.7l.8 -7.1l.8 -5l.8 -2.6l.8 -.2l.9 .2l.8 .8l.8 .4l.8 1.7l.8 2.8l.8 7.4l.9 11.5l.8 14.5l.8 15.6l.8 15.2l.8 18.1l.8 20.8l.8 23.2l.9 23.6l.8 25l.8 25l.8 26.7l.8 27.1l.8 28.5l.8 28.5l.9 32.3l.8 35l.8 33.3l.8 26.6l.8 25.2l.8 12l.8 -1.7l.9 -4.6l.8 -5.3l.8 -6.4l.8 -7.1l.8 -9.9l.8 -12l.9 -13.8l.8 -12.7l.8 -11.6l.8 -10.8l.8 -10.8l.8 -10.6l.8 -10.8l.9 -11.5l.8 -11.8l.8 -11.7l.8 -11.8l.8 -12.4l.8 -12.1l.8 -12.7l.9 -13.4l.8 -14.4l.8 -16l.8 -16l.8 -15.8l.8 -14.9l.8 -13.7l.9 -10.9l.8 -10.6l.8 -10.7l.8 -9.6l.8 -8.1l.8 -7.2l.9 -6l.8 -3.9l.8 -3l.8 -3.5l.8 -2.4l.8 -1.8l.8 -.6l.9 -1l.8 .5l.8 .7l.8 1.6l.8 2.1l.8 3.1l.8 3.6l.9 3.6l.8 3.4l.8 4.4l.8 4.4l.8 4.3l.8 5.1l.8 5.3l.9 5.1l.8 5.9l.8 5.1l.8 5l.8 4.9l.8 4.2l.9 4.2l.8 5.1l.8 4.7l.8 4.9l.8 5.1l.8 4.7l.8 4.2l.9 3.7l.8 3.1l.8 2.8l.8 2.9l.8 2.7l.8 2.9l.8 2.6l.9 1.9l.8 2.1l.8 1.7l.8 1.1l.8 1.6l.8 1.4l.8 1l.9 .9l.8 1.6l.8 .8l.8 .9l.8 .5l.8 .7l.9 .6l.8 .5l.8 .4l.8 1l.8 .7l.8 .1l.8 .8l.9 -.2l.8 -.2l.8 -.3l.8 .2l.8 -.1l.8 .2l.8 0l.9 .2l.8 -.3l.8 -.4l.8 .2l.8 .2l.8 -.3l.8 -.6l.9 -.2l.8 -.5l.8 -.7l.8 -.1l.8 .3l.8 0l.9 -.1l.8 -.1l.8 -.6l.8 -.4l.8 -.6l.8 -.2l.8 -.3l.9 0l.8 .1l.8 0l.8 0l.8 .1l.8 -.3l.8 .1l.9 -.1l.8 -.4l.8 -.4l.8 0l.8 -.3l.8 .4l.8 -.2l.9 .2l.8 .4l.8 .1l.8 -.1l.8 .4l.8 -.2l.9 .1l.8 0l.8 0l.8 0l.8 0l.8 -.2l.8 .1l.9 .1l.8 -.5l.8 -.2l.8 -.4l.8 -.2l.8 -.4l.8 .5l.9 .3l.8 .7l.8 0l.8 0l.8 -.2l.8 0l.8 -.2l.9 0l.8 0l.8 -.1l.8 .2l.8 -.2l.8 0l.8 .2l.9 .6l.8 .5l.8 .7l.8 .2l.8 .2l.8 -.3l.9 -.6l.8 -.6l.8 .7l.8 .4l.8 .5l.8 .6l.8 .6l.9 0l.8 .7l.8 .3l.8 .4l.8 .6l.8 .6l.8 -.5l.9 .9l.8 .2l.8 .1l.8 -.1l.8 1l.8 1.1l.8 .8l.9 .4l.8 .2l.8 .4l.8 -.2l.8 -.2l.8 .5l.9 .2l.8 -.2l.8 0l.8 .2l.8 .2l.8 .9l.8 .6l.9 .3l.8 .9l.8 .2l.8 .2l.8 .5l.8 -.1l.8 .4l.9 .3l.8 0l.8 .1l.8 .5l.8 -.2l.8 -.3l.8 .1l.9 -.1l.8 .4l.8 .3l.8 .5l.8 .3l.8 .6l.9 -.6l.8 -.2l.8 .4l.8 .1l.8 0l.8 1.1l.8 .6l.9 -.3l.8 .2l.8 -.2l.8 -.1l.8 .2l.8 .5l.8 .3" fill="none" stroke="#0000ff" stroke-width="5.50" stroke-linejoin="round" stroke-linecap="round" />
</g>
<rect x="609.5" y="1128.1" width="377.5" height="549.7" fill="none" stroke="#262626" stroke-width="2.00"/>
<line x1="671.0" y1="1677.8" x2="671.0" y2="1674.0" stroke="#262626" stroke-width="2.0"/>
<line x1="671.0" y1="1128.1" x2="671.0" y2="1131.9" stroke="#262626" stroke-width="2.0"/>
<line x1="796.9" y1="1677.8" x2="796.9" y2="1674.0" stroke="#262626" stroke-width="2.0"/>
<line x1="796.9" y1="1128.1" x2="796.9" y2="1131.9" stroke="#262626" stroke-width="2.0"/>
<line x1="922.8" y1="1677.8" x2="922.8" y2="1674.0" stroke="#262626" stroke-width="2.0"/>
<line x1="922.8" y1="1128.1" x2="922.8" y2="1131.9" stroke="#262626" stroke-width="2.0"/>
<line x1="609.5" y1="1546.5" x2="613.3" y2="1546.5" stroke="#262626" stroke-width="2.0"/>
<line x1="987.0" y1="1546.5" x2="983.2" y2="1546.5" stroke="#262626" stroke-width="2.0"/>
<line x1="609.5" y1="1415.8" x2="613.3" y2="1415.8" stroke="#262626" stroke-width="2.0"/>
<line x1="987.0" y1="1415.8" x2="983.2" y2="1415.8" stroke="#262626" stroke-width="2.0"/>
<line x1="609.5" y1="1285.1" x2="613.3" y2="1285.1" stroke="#262626" stroke-width="2.0"/>
<line x1="987.0" y1="1285.1" x2="983.2" y2="1285.1" stroke="#262626" stroke-width="2.0"/>
<line x1="609.5" y1="1154.4" x2="613.3" y2="1154.4" stroke="#262626" stroke-width="2.0"/>
<line x1="987.0" y1="1154.4" x2="983.2" y2="1154.4" stroke="#262626" stroke-width="2.0"/>
<text transform="translate(580.5,1700.2) scale(1,1.050)" font-size="33.5" text-anchor="middle" fill="#262626" font-weight="normal" font-style="normal" >0</text>
<text transform="translate(580.5,1558.5) scale(1,1.050)" font-size="33.5" text-anchor="middle" fill="#262626" font-weight="normal" font-style="normal" >1</text>
<text transform="translate(580.5,1427.8) scale(1,1.050)" font-size="33.5" text-anchor="middle" fill="#262626" font-weight="normal" font-style="normal" >2</text>
<text transform="translate(580.5,1297.1) scale(1,1.050)" font-size="33.5" text-anchor="middle" fill="#262626" font-weight="normal" font-style="normal" >3</text>
<text transform="translate(580.5,1166.4) scale(1,1.050)" font-size="33.5" text-anchor="middle" fill="#262626" font-weight="normal" font-style="normal" >4</text>
<text transform="translate(677.0,1714.0) scale(1,1.050)" font-size="33.5" text-anchor="middle" fill="#262626" font-weight="normal" font-style="normal" >-1</text>
<text transform="translate(799.9,1714.0) scale(1,1.050)" font-size="33.5" text-anchor="middle" fill="#262626" font-weight="normal" font-style="normal" >0</text>
<text transform="translate(925.8,1714.0) scale(1,1.050)" font-size="33.5" text-anchor="middle" fill="#262626" font-weight="normal" font-style="normal" >1</text>
<text transform="translate(807,1759.5) scale(1,1.050)" font-size="33" text-anchor="middle" fill="#262626"><tspan font-style="italic">V</tspan> (mV)</text>
<text transform="translate(539,1402) rotate(-90) scale(1,1.050)" font-size="33" text-anchor="middle" fill="#262626">(d<tspan font-style="italic">V</tspan>/d<tspan font-style="italic">I</tspan>)<tspan font-size="22" dy="8">easy</tspan><tspan dy="-8"> (k&#937;)</tspan></text>
<text transform="translate(814.5,1171.6) scale(1,1.050)" font-size="33" text-anchor="middle" fill="#000">(d<tspan font-style="italic">V</tspan>/d<tspan font-style="italic">I</tspan>)<tspan font-size="22.5" dy="8">easy</tspan></text>
<text transform="translate(966.0,1171.6) scale(1,1.050)" font-size="38.0" text-anchor="end" fill="#000" font-weight="bold" font-style="normal" >h</text>
<clipPath id="cli"><rect x="1113.5" y="1127.6" width="377.5" height="550.0"/></clipPath>
<g clip-path="url(#cli)">
<path d="M1108.4 1636.8l.9 .3l1 -.3l1 0l1 0l.9 0l1 -.1l1 -.2l.9 -.1l1 0l1 0l.9 -.2l1 -.1l1 0l.9 0l1 0l1 0l.9 .1l1 .4l1 .1l.9 -.2l1 .3l1 0l.9 -.5l1 .1l1 -.1l.9 -.2l1 .1l1 .3l.9 -.2l1 .1l1 0l.9 .1l1 -.4l1 .2l.9 .2l1 .2l1 -.4l.9 .5l1 -.3l1 0l1 -.3l.9 -.2l1 -.2l1 .2l.9 .1l1 0l1 .2l.9 .1l1 -.1l1 0l.9 .4l1 .1l1 -.1l.9 -.1l1 -.5l1 -.2l.9 .1l1 .2l1 .2l.9 .6l1 -.1l1 -.1l.9 -.3l1 0l1 -.4l.9 0l1 -.1l1 .1l.9 .1l1 -.1l1 .2l.9 -.1l1 .1l1 0l1 -.2l.9 -.3l1 .4l1 -.2l.9 -.2l1 .3l1 .2l.9 -.1l1 .1l1 .4l.9 0l1 -.1l1 -.2l.9 .1l1 0l1 .5l.9 0l1 0l1 .1l.9 -.3l1 -.2l1 -.2l.9 .2l1 -.5l1 .1l.9 0l1 .6l1 -.3l.9 .5l1 0l1 -.3l.9 -.3l1 0l1 -.3l.9 -.4l1 .1l1 -.2l1 -.2l.9 .2l1 0l1 .1l.9 .3l1 .2l1 -.3l.9 .1l1 -.4l1 -.1l.9 .1l1 .7l1 -.2l.9 .1l1 .2l1 .2l.9 -.2l1 .2l1 .3l.9 -.6l1 -.2l1 -.1l.9 .3l1 -.4l1 .3l.9 -.3l1 -.3l1 -.3l.9 .3l1 0l1 .4l.9 .2l1 .1l1 .3l.9 .3l1 -.3l1 .3l1 .1l.9 0l1 -.2l1 0l.9 -.3l1 -.6l1 -.5l.9 -.2l1 .6l1 0l.9 .5l1 .4l1 -.1l.9 0l1 0l1 -.2l.9 -.2l1 .1l1 -.1l.9 .2l1 .1l1 .1l.9 .4l1 .4l1 .1l.9 .1l1 0l1 -.2l.9 -.6l1 -.4l1 .2l.9 .5l1 -.3l1 -.2l1 .1l.9 -.5l1 -.3l.3 -.1l.5 .3l.2 .1l.3 .4l.5 -.4l.1 .3l.3 -.1l.5 .1l.2 -.1l.3 .2l.4 .2l.3 .2l.2 0l.5 -.2l.2 .2l.3 -.3l.4 -.3l.3 -.1l.2 -.1l.5 .4l.3 .3l.1 -.1l.5 -.2l.3 .2l.2 -.5l.5 -.4l.3 .1l.1 -.2l.5 -.1l.4 .4l.1 .2l.5 -.1l.3 .6l.1 .2l.5 -.2l.4 -.1l.1 .2l.4 -.3l.5 .1l0 .4l.5 0l.4 0l.1 -.3l.4 -.2l.5 -.4l.5 .1l.4 -.1l.1 -.2l.4 .1l.5 .3l0 -.4l.5 .2l.4 .1l.1 0l.4 -.2l.5 .3l.1 -.1l.3 .1l.5 .1l.1 0l.4 -.1l.5 .2l.1 0l.3 -.2l.5 .4l.2 .2l.3 -.4l.5 .1l.1 .1l.3 -.4l.5 -.2l.2 -.2l.3 .3l.4 -.4l.3 .1l.2 .1l.5 .1l.2 -.3l.3 0l.4 -.4l.3 .2l.2 -.2l.5 .1l.3 .2l.1 .4l.5 -.1l.3 .5l.2 .4l.5 -.1l.3 -.1l1 -.2l.9 -.1l1 0l1 .1l1 -.2l.9 -.1l1 -.3l1 -.2l.9 -.3l1 .5l1 .3l.9 .4l1 0l1 .2l.9 -.1l1 -.2l1 -.5l.9 .3l1 -.4l1 -.1l.9 -.3l1 .3l1 -.4l.9 .1l1 .1l1 .2l.9 -.1l1 .2l1 .5l.9 -.2l1 0l1 .1l.9 .1l1 -.3l1 .2l.9 .3l1 0l1 .2l1 -.3l.9 .1l1 -.2l1 0l.9 -.4l1 .3l1 -.2l.9 .2l1 0l1 -.2l.9 0l1 -.2l1 0l.9 -.4l1 .3l1 -.1l.9 0l1 -.4l1 .4l.9 -.1l1 .3l1 .2l.9 .9l1 -.1l1 .4l.9 -.1l1 0l1 -.4l.9 -.1l1 -.5l1 .3l.9 -.1l1 -.3l1 .2l.9 0l1 -.3l1 .3l1 .4l.9 .2l1 .4l1 .1l.9 -.1l1 -.2l1 -.3l.9 .2l1 -.1l1 .2l.9 -.1l1 .2l1 -.9l.9 0l1 -.4l1 .3l.9 .1l1 .4l1 -.1l.9 .3l1 -.2l1 -.3l.9 .3l1 -.2l1 .1l.9 .1l1 -.6l1 -.3l.9 .2l1 .1l1 0l.9 .2l1 .4l1 .1l1 -.4l.9 .2l1 .2l1 -.3l.9 .2l1 0l1 0l.9 0l1 .4l1 -.5l.9 -.3l1 -.1l1 0l.9 -.2l1 .2l1 .2l.9 -.2l1 .1l1 .2l.9 -.2l1 .4l1 .5l.9 -.2l1 -.1l1 -.1l.9 -.3l1 -.5l1 0l.9 -.4l1 .1l1 -.1l.9 0l1 -.3l1 .4l.9 .4l1 .1l1 .1l1 .2l.9 -.1l1 -.5l1 -.2l.9 -.2l1 .1l1 .2l.9 .1l1 .3l1 .4l.9 .2l1 -.1l1 -.2l.9 -.1l1 -.3l1 .1l.9 .1l1 .8l1 0l.9 .1l1 -.4l1 -.2l.9 -.6l1 .1l1 0l.9 -.4l1 .4l1 .3l.9 .3l1 0l1 .5l.9 -.1l1 0l1 -.4l.9 -.1l1 .1l1 -.1l1 .1l.9 .1" fill="none" stroke="#ff0000" stroke-width="5.00" stroke-linejoin="round" stroke-linecap="round" />
<path d="M1108.4 1636.8l.9 -.1l1 0l1 .2l1 -.5l.9 .5l1 -.2l1 .1l.9 -.3l1 .1l1 0l.9 .3l1 -.4l1 .2l.9 .4l1 -.4l1 -.1l.9 .1l1 -.3l1 -.6l.9 -.1l1 .2l1 -.2l.9 .3l1 .3l1 .3l.9 -.4l1 0l1 -.3l.9 -.2l1 -.3l1 .3l.9 -.1l1 0l1 -.5l.9 .1l1 -.1l1 .1l.9 .2l1 .4l1 .1l1 -.1l.9 .1l1 -.4l1 -.2l.9 -.6l1 -.1l1 .1l.9 .2l1 .1l1 .1l.9 0l1 -.3l1 -.2l.9 -.1l1 -.2l1 0l.9 -.3l1 0l1 .1l.9 .1l1 -.2l1 .1l.9 .1l1 -.2l1 0l.9 0l1 -.1l1 -.4l.9 -.1l1 -.2l1 -.1l.9 .4l1 .2l1 -.1l1 .3l.9 .3l1 -.4l1 -.3l.9 .1l1 -.2l1 -.4l.9 .2l1 .1l1 .1l.9 -.2l1 .3l1 -.1l.9 .2l1 -.3l1 .3l.9 -.4l1 -.1l1 -.2l.9 .1l1 -.3l1 -.1l.9 -.1l1 0l1 -.1l.9 -.4l1 .2l1 0l.9 -.5l1 .2l1 0l.9 -.3l1 -.1l1 0l.9 -.3l1 0l1 .1l1 0l.9 0l1 .2l1 -.3l.9 0l1 -.2l1 -.1l.9 -.6l1 -.1l1 -.1l.9 0l1 -.2l1 .3l.9 .3l1 -.2l1 -.4l.9 .2l1 0l1 -.4l.9 -.2l1 .4l1 -.5l.9 -.3l1 .1l1 -.3l.9 -.4l1 .1l1 -.1l.9 -.4l1 .2l1 -.3l.9 -.3l1 .1l1 -.2l.9 0l1 .1l1 -.1l1 -.4l.9 .2l1 -.5l1 0l.9 .1l1 .2l1 -.5l.9 .2l1 -.3l1 -.3l.9 -.3l1 .2l1 -.5l.9 .1l1 0l1 -.3l.9 -.2l1 .2l1 -.1l.9 -.2l1 0l1 0l.9 -.3l1 -.3l1 -.2l.9 -.2l1 -.6l1 -.4l.9 -.1l1 .1l1 0l.9 .4l1 .2l1 -.1l1 -.3l.9 -.1l1 .1l.3 -.2l.5 -.2l.2 0l.3 -.4l.5 -.5l.1 .4l.3 .2l.5 0l.2 .6l.3 0l.4 .1l.3 -.1l.2 -.1l.5 -.1l.2 .3l.3 -.3l.4 -.1l.3 -.2l.2 -.6l.5 -.1l.3 .1l.1 -.1l.5 .3l.3 .1l.2 -.3l.5 -.2l.3 .3l.1 .1l.5 .5l.4 .1l.1 0l.5 0l.3 -.4l.1 -.2l.5 .1l.4 0l.1 0l.4 .3l.5 0l0 -.5l0 .2l.5 0l.4 0l.1 .2l.4 .4l.5 .1l.5 -.3l.4 -.1l.1 -.2l.4 -.1l.5 -.4l.5 -.4l.4 .2l.1 .2l.4 -.3l.5 .3l.1 .4l.3 -.1l.5 -.1l.1 .5l.4 -.3l.5 .3l.1 .2l.3 0l.5 0l.2 0l.3 -.4l.5 -.1l.1 -.2l.3 .3l.5 0l.2 .3l.3 .3l.4 .3l.3 -.3l.2 .4l.5 -.5l.2 .1l.3 -.7l.4 0l.3 -.3l.2 .3l.5 -.6l.3 .2l.1 .2l.5 -.3l.3 .3l.2 .6l.5 .5l.3 0l1 .4l.9 -.1l1 .4l1 0l1 .2l.9 .1l1 .4l1 -.7l.9 0l1 -.1l1 -.4l.9 .2l1 .3l1 0l.9 .1l1 .5l1 .2l.9 .3l1 .1l1 0l.9 .3l1 -.2l1 .1l.9 -.1l1 .5l1 0l.9 0l1 .1l1 .2l.9 .2l1 .1l1 .4l.9 .6l1 .5l1 -.2l.9 .2l1 .2l1 -.2l1 -.2l.9 .6l1 -.1l1 0l.9 -.3l1 .3l1 .1l.9 .2l1 0l1 .2l.9 .2l1 0l1 0l.9 .3l1 .7l1 .1l.9 -.1l1 0l1 .2l.9 -.5l1 .5l1 .3l.9 .4l1 -.1l1 .1l.9 -.3l1 -.1l1 -.1l.9 .1l1 .2l1 .1l.9 0l1 .3l1 .4l.9 0l1 .4l1 .3l1 .1l.9 .2l1 0l1 -.3l.9 .2l1 .1l1 -.1l.9 .5l1 -.3l1 -.3l.9 0l1 -.4l1 -.3l.9 .3l1 .4l1 .1l.9 .4l1 .1l1 -.1l.9 0l1 .1l1 0l.9 .3l1 .2l1 -.2l.9 -.1l1 .1l1 -.1l.9 .1l1 .4l1 .5l.9 -.1l1 .2l1 -.3l1 -.2l.9 -.7l1 -.2l1 .2l.9 .2l1 .3l1 .1l.9 0l1 -.4l1 .4l.9 .1l1 .1l1 .5l.9 .4l1 -.5l1 -.2l.9 .4l1 .2l1 .2l.9 .2l1 .2l1 0l.9 -.1l1 .2l1 0l.9 .1l1 -.1l1 0l.9 -.3l1 0l1 -.2l.9 .2l1 .5l1 .1l.9 .1l1 .1l1 -.4l1 -.2l.9 .1l1 -.1l1 .2l.9 .1l1 .2l1 0l.9 .3l1 .3l1 -.2l.9 -.1l1 0l1 -.1l.9 -.2l1 .6l1 -.1l.9 -.1l1 .4l1 .2l.9 -.1l1 .3l1 .2l.9 -.3l1 -.2l1 0l.9 -.2l1 -.2l1 .1l.9 .1l1 -.1l1 .3l.9 .4l1 .2l1 0l.9 .1l1 0l1 .2l1 -.2l.9 -.2" fill="none" stroke="#e60019" stroke-width="4.00" stroke-linejoin="round" stroke-linecap="round" />
<path d="M1108.4 1636.4l.9 0l1 .3l1 -.4l1 -.2l.9 -.7l1 -.2l1 -.1l.9 .2l1 .2l1 .6l.9 -.3l1 -.2l1 .1l.9 .2l1 -.1l1 .1l.9 -.3l1 -.4l1 0l.9 0l1 .1l1 -.1l.9 .2l1 -.5l1 -.2l.9 0l1 0l1 -.1l.9 -.4l1 -.1l1 -.5l.9 -.4l1 .3l1 .3l.9 -.1l1 .2l1 .1l.9 -.2l1 -.3l1 0l1 -.1l.9 .3l1 -.2l1 .3l.9 -.5l1 .2l1 -.1l.9 -.1l1 -.2l1 .3l.9 -.3l1 -.2l1 -.2l.9 0l1 -.4l1 0l.9 -.2l1 -.4l1 .2l.9 0l1 -.1l1 0l.9 .2l1 -.3l1 -.2l.9 0l1 .1l1 -.4l.9 -.2l1 .3l1 -.2l.9 .1l1 .2l1 .1l1 -.4l.9 .2l1 -.4l1 -.3l.9 -.2l1 -.1l1 -.5l.9 0l1 -.2l1 .1l.9 0l1 .1l1 -.2l.9 .3l1 .1l1 -.1l.9 -.3l1 .1l1 -.4l.9 -.5l1 .1l1 -.3l.9 -.1l1 -.2l1 -.4l.9 -.3l1 .3l1 -.3l.9 .1l1 -.1l1 0l.9 -.3l1 .2l1 -.2l.9 0l1 -.6l1 -.2l1 -.2l.9 -.2l1 -.1l1 .2l.9 0l1 -.5l1 -.3l.9 -.1l1 -.3l1 -.5l.9 -.4l1 -.1l1 -.2l.9 .1l1 0l1 0l.9 -.2l1 -.4l1 -.6l.9 -.6l1 -.4l1 -.5l.9 -.2l1 -.2l1 .1l.9 .1l1 .2l1 -.2l.9 0l1 -.4l1 -.4l.9 -.7l1 -.6l1 -.2l.9 -.1l1 0l1 .1l1 .1l.9 -.3l1 -.7l1 -.2l.9 -.5l1 -.5l1 -.3l.9 .1l1 -.6l1 -.7l.9 .1l1 -.9l1 -.3l.9 .1l1 .2l1 -.7l.9 .1l1 -.4l1 -.5l.9 -.4l1 -.4l1 -.5l.9 .1l1 -.6l1 -.4l.9 .4l1 -.2l1 -.6l.9 -.2l1 .1l1 -.8l.9 -.1l1 -.4l1 -.1l1 -.3l.9 -.1l1 .1l.3 .5l.5 -.5l.2 -.3l.3 -.3l.5 -.4l.1 -.1l.3 .6l.5 -.1l.2 -.2l.3 .1l.4 -.2l.3 -.6l.2 .1l.5 .2l.2 -.4l.3 0l.4 .5l.3 0l.2 .1l.5 .2l.3 .1l.1 .2l.5 -.1l.3 .4l.2 -.2l.5 0l.3 -.4l.1 .4l.5 -.4l.4 .1l.1 0l.5 .1l.3 .1l.1 -.2l.5 .2l.4 .2l.1 -.2l.4 -.5l.5 -.1l0 -.2l0 -.6l.5 -.1l.4 .2l.1 0l.4 .2l.5 .8l.5 -.1l.4 -.1l.1 .3l.4 -.4l.5 -.4l0 .3l.5 .3l.4 .1l.1 .1l.4 .1l.5 -.2l.1 -.1l.3 -.1l.5 -.2l.1 .1l.4 -.2l.5 -.1l.1 0l.3 .2l.5 -.4l.2 .2l.3 .1l.5 .2l.1 0l.3 .3l.5 .1l.2 0l.3 -.6l.4 .2l.3 .3l.2 .2l.5 -.2l.2 .8l.3 -.2l.4 .1l.3 0l.2 .1l.5 -.2l.3 0l.1 -.2l.5 .2l.3 .2l.2 -.1l.5 .2l.3 .2l1 .1l.9 .3l1 .4l1 .3l1 .2l.9 .2l1 .4l1 .2l.9 .3l1 .1l1 0l.9 0l1 .1l1 .2l.9 .3l1 .8l1 .1l.9 0l1 .2l1 .1l.9 0l1 .7l1 1.1l.9 0l1 .2l1 .3l.9 -.1l1 -.3l1 .7l.9 .5l1 .3l1 .7l.9 .1l1 .1l1 .3l.9 .3l1 -.1l1 .5l1 .2l.9 .4l1 .1l1 .6l.9 -.1l1 .4l1 .3l.9 .2l1 .1l1 .6l.9 .2l1 .3l1 .5l.9 .2l1 .2l1 .3l.9 .1l1 .3l1 .1l.9 .2l1 .1l1 -.1l.9 .1l1 .2l1 .4l.9 .1l1 .4l1 0l.9 .5l1 .1l1 .6l.9 .3l1 .2l1 0l.9 0l1 -.2l1 -.1l1 .3l.9 .2l1 .3l1 .6l.9 .3l1 .3l1 .1l.9 0l1 -.3l1 .1l.9 .1l1 .3l1 .2l.9 .1l1 .1l1 .2l.9 -.1l1 0l1 .3l.9 .2l1 .1l1 0l.9 .2l1 .3l1 -.1l.9 .1l1 .2l1 .7l.9 0l1 .3l1 0l.9 -.2l1 -.6l1 .3l1 .2l.9 0l1 .4l1 .2l.9 -.4l1 0l1 .2l.9 -.1l1 0l1 -.2l.9 -.2l1 .1l1 .5l.9 .5l1 .3l1 .4l.9 -.1l1 0l1 -.2l.9 .3l1 .2l1 .1l.9 0l1 0l1 .3l.9 0l1 .1l1 -.2l.9 -.2l1 -.4l1 .2l.9 -.4l1 .5l1 .3l.9 .1l1 .1l1 .2l1 -.2l.9 .1l1 .5l1 .2l.9 .4l1 0l1 .3l.9 -.1l1 -.1l1 0l.9 .2l1 -.4l1 .2l.9 -.2l1 0l1 0l.9 .3l1 -.2l1 .5l.9 0l1 .2l1 -.1l.9 .1l1 -.1l1 .3l.9 -.3l1 .1l1 .1l.9 0l1 -.2l1 .5l.9 .2l1 .2l1 .2l.9 .4l1 -.3l1 -.1l1 .1l.9 .3" fill="none" stroke="#cf0030" stroke-width="4.00" stroke-linejoin="round" stroke-linecap="round" />
<path d="M1108.4 1635.2l.9 .3l1 -.1l1 -.3l1 .1l.9 -.4l1 0l1 .2l.9 0l1 -.1l1 0l.9 -.1l1 -.3l1 .2l.9 -.2l1 .2l1 .2l.9 .4l1 -.3l1 0l.9 -.3l1 -.4l1 -.5l.9 -.4l1 0l1 -.1l.9 .1l1 .4l1 0l.9 -.3l1 .1l1 -.2l.9 -.4l1 .2l1 -.2l.9 .1l1 -.4l1 0l.9 0l1 0l1 -.3l1 .3l.9 -.2l1 -.1l1 .1l.9 0l1 -.2l1 -.3l.9 -.3l1 -.3l1 -.7l.9 -.5l1 0l1 0l.9 -.2l1 .5l1 .2l.9 .1l1 0l1 -.1l.9 -.4l1 -.1l1 -.5l.9 -.3l1 .1l1 .2l.9 -.2l1 0l1 .1l.9 -.3l1 -.3l1 -.3l.9 .4l1 0l1 -.1l1 -.3l.9 0l1 -.3l1 -.2l.9 0l1 -.1l1 -.1l.9 -.2l1 -.6l1 -.2l.9 0l1 -.3l1 -.2l.9 .3l1 .1l1 -.2l.9 -.1l1 -.1l1 -.4l.9 -.4l1 .4l1 -.5l.9 -.4l1 -.3l1 -.1l.9 -.2l1 .2l1 -.1l.9 0l1 -.3l1 -.4l.9 .3l1 -.3l1 -.3l.9 -.1l1 -.7l1 -.5l1 -.2l.9 -.5l1 -.3l1 .2l.9 -.5l1 -.1l1 0l.9 -.5l1 -.2l1 -.1l.9 -.5l1 -.5l1 -.3l.9 -.6l1 -.4l1 -.4l.9 .2l1 .1l1 -.1l.9 -.4l1 0l1 -.6l.9 -.5l1 -.5l1 -.4l.9 -.8l1 -.5l1 -.6l.9 -.4l1 -.5l1 -.3l.9 0l1 -.8l1 -.3l.9 -.3l1 -.6l1 -.7l1 0l.9 -.4l1 -.7l1 -.5l.9 -.6l1 -.8l1 -.5l.9 -.6l1 -.6l1 -.7l.9 -.1l1 -.6l1 -.5l.9 -.2l1 -.3l1 -.6l.9 -.5l1 -.2l1 -.6l.9 -.8l1 -.3l1 -.2l.9 -.8l1 -.4l1 -.1l.9 -.7l1 -.4l1 0l.9 -.4l1 0l1 -.3l.9 -.7l1 -.8l1 -.3l1 -1l.9 -.6l1 -.3l.3 0l.5 -.1l.2 .3l.3 -.1l.5 .1l.1 0l.3 -.1l.5 .2l.2 -.1l.3 -.2l.4 .1l.3 -.6l.2 -.6l.5 -.3l.2 -.3l.3 -.2l.4 .3l.3 .1l.2 .1l.5 .4l.3 .1l.1 .1l.5 -.1l.3 0l.2 .1l.5 -.2l.3 -.1l.1 0l.5 -.1l.4 -.4l.1 -.1l.5 -.2l.3 -.1l.1 .4l.5 -.2l.4 .1l.1 -.2l.4 0l.5 -.4l0 .2l0 -.1l.5 0l.4 -.3l.1 .1l.4 -.1l.5 .2l.5 .4l.4 -.1l.1 .2l.4 -.1l.5 -.1l0 -.2l.5 .4l.4 .1l.1 0l.4 .3l.5 .1l.1 -.2l.3 .2l.5 -.1l.1 -.4l.4 .2l.5 0l.1 -.4l.3 .3l.5 .5l.2 -.4l.3 -.1l.5 .4l.1 -.1l.3 -.2l.5 0l.2 .4l.3 .1l.4 -.2l.3 0l.2 .1l.5 0l.2 0l.3 .4l.4 .6l.3 .2l.2 .3l.5 -.2l.3 -.1l.1 -.1l.5 -.1l.3 .1l.2 .4l.5 .3l.3 -.1l1 .4l.9 -.1l1 .2l1 .3l1 .6l.9 .4l1 .5l1 .2l.9 .5l1 .3l1 .8l.9 .8l1 .9l1 .3l.9 .5l1 .3l1 .2l.9 .2l1 .7l1 .2l.9 .4l1 .5l1 .2l.9 .5l1 1.1l1 .4l.9 .5l1 1.1l1 .1l.9 .1l1 .6l1 .5l.9 .3l1 .6l1 .3l.9 .6l1 .4l1 .4l1 .5l.9 .6l1 .3l1 .5l.9 .5l1 .3l1 0l.9 .5l1 .9l1 .3l.9 .8l1 .5l1 .3l.9 .1l1 .6l1 .2l.9 .9l1 .2l1 .6l.9 .1l1 .6l1 .2l.9 .9l1 0l1 .2l.9 .3l1 0l1 -.3l.9 .2l1 .4l1 .3l.9 .4l1 .5l1 .5l.9 .3l1 .2l1 .4l1 .4l.9 .1l1 .2l1 0l.9 -.1l1 -.1l1 .2l.9 0l1 .3l1 .2l.9 0l1 .1l1 .4l.9 .1l1 .3l1 .1l.9 .3l1 -.1l1 .5l.9 .2l1 .5l1 0l.9 .1l1 -.3l1 0l.9 .1l1 .4l1 .5l.9 .1l1 .4l1 .1l.9 -.1l1 -.4l1 .2l1 -.1l.9 .2l1 .3l1 .5l.9 .6l1 .4l1 -.1l.9 .2l1 .3l1 -.3l.9 0l1 -.1l1 -.1l.9 0l1 .4l1 .3l.9 .3l1 .5l1 0l.9 -.3l1 -.4l1 .1l.9 -.2l1 .4l1 .6l.9 .2l1 .3l1 .3l.9 .1l1 -.2l1 .3l.9 -.2l1 -.1l1 0l.9 .5l1 0l1 .2l1 -.1l.9 -.2l1 -.1l1 -.2l.9 0l1 .1l1 .1l.9 .2l1 .3l1 .1l.9 .1l1 -.2l1 -.1l.9 .3l1 .1l1 .2l.9 .3l1 -.1l1 0l.9 .2l1 -.1l1 -.1l.9 .5l1 -.2l1 -.1l.9 .2l1 .3l1 -.3l.9 .1l1 -.1l1 .6l.9 .5l1 .2l1 .3l.9 .4l1 -.3l1 -.4l1 0l.9 .1" fill="none" stroke="#b60049" stroke-width="4.00" stroke-linejoin="round" stroke-linecap="round" />
<path d="M1108.4 1634.9l.9 .1l1 .1l1 0l1 .2l.9 -.4l1 -.1l1 0l.9 -.2l1 -.2l1 0l.9 .1l1 -.1l1 -.3l.9 .2l1 .1l1 -.4l.9 -.4l1 -.1l1 -.3l.9 -.1l1 .2l1 .4l.9 -.1l1 0l1 -.3l.9 -.5l1 -.5l1 .2l.9 -.5l1 .1l1 .5l.9 .2l1 -.4l1 .1l.9 -.5l1 -.4l1 .1l.9 -.1l1 -.1l1 -.1l1 0l.9 -.1l1 -.1l1 -.1l.9 0l1 -.6l1 -.4l.9 .1l1 -.3l1 -.1l.9 .2l1 -.2l1 .1l.9 -.1l1 -.1l1 -.1l.9 .1l1 -.4l1 .1l.9 -.1l1 .1l1 0l.9 -.3l1 -.2l1 -.4l.9 -.2l1 -.2l1 .1l.9 -.1l1 .3l1 -.3l.9 -.4l1 -.4l1 -.3l1 -.2l.9 -.5l1 0l1 .1l.9 0l1 -.2l1 0l.9 0l1 -.3l1 0l.9 -.4l1 .1l1 -.5l.9 .2l1 -.5l1 -.2l.9 0l1 0l1 -.4l.9 -.1l1 -.3l1 -.5l.9 -.3l1 .1l1 0l.9 .3l1 -.1l1 -.4l.9 -.5l1 -.1l1 -.5l.9 0l1 -.4l1 -.3l.9 -.6l1 -.2l1 -.6l1 -.2l.9 -.2l1 -.6l1 -.4l.9 -.1l1 -.2l1 -.3l.9 -.1l1 -.3l1 -.4l.9 -.1l1 -.3l1 -.4l.9 0l1 -.5l1 -.6l.9 -.3l1 -.4l1 -.4l.9 -.4l1 -.4l1 -.8l.9 -.6l1 -1l1 -.7l.9 -.3l1 -.4l1 -.5l.9 -.3l1 -.7l1 -1l.9 -1l1 -.4l1 -.8l.9 -.3l1 -.2l1 -.4l1 -.8l.9 -.8l1 -1l1 -1.1l.9 -.8l1 -.7l1 -.7l.9 -.6l1 -.7l1 -.7l.9 -.7l1 -1.1l1 -.7l.9 -.9l1 -.9l1 -1.1l.9 -.6l1 -1.3l1 -1.1l.9 -.4l1 -.6l1 -.7l.9 -.8l1 -.2l1 -.8l.9 -.8l1 -.9l1 -.5l.9 -.7l1 -.9l1 -.5l.9 -.5l1 -.6l1 -1.1l1 -.4l.9 -.6l1 -.4l.3 -.4l.5 .4l.2 -.5l.3 -.5l.5 -.5l.1 0l.3 -.5l.5 -.2l.2 .4l.3 .3l.4 .1l.3 0l.2 .1l.5 -.7l.2 -.1l.3 -.3l.4 -.1l.3 0l.2 0l.5 -.5l.3 .3l.1 -.3l.5 -.4l.3 -.2l.2 .1l.5 -.3l.3 -.4l.1 .1l.5 .4l.4 .3l.1 .1l.5 .5l.3 .1l.1 -.4l.5 -.6l.4 -.1l.1 .2l.4 -.1l.5 .1l0 .5l.5 -.1l.4 -.1l.1 -.3l.4 -.1l.5 .1l.5 -.4l.4 .2l.1 .4l.4 -.5l.5 .3l0 .3l.5 -.1l.4 -.3l.1 .2l.4 .3l.5 -.2l.1 .2l.3 .2l.5 .3l.1 -.5l.4 0l.5 -.1l.1 .1l.3 .3l.5 .1l.2 .2l.3 .3l.5 .1l.1 -.1l.3 0l.5 .1l.2 0l.3 -.4l.4 -.1l.3 -.3l.2 .4l.5 .2l.2 .5l.3 .5l.4 .2l.3 -.2l.2 .2l.5 .5l.3 .5l.1 .3l.5 .5l.3 -.1l.2 0l.5 -.1l.3 .4l1 .5l.9 .6l1 .5l1 .5l1 .5l.9 .3l1 .8l1 .7l.9 .7l1 .6l1 .8l.9 .3l1 .4l1 .5l.9 .9l1 1l1 .7l.9 .8l1 1.1l1 1l.9 .8l1 1.5l1 .8l.9 .6l1 .4l1 1l.9 .5l1 1l1 .7l.9 .8l1 .3l1 .3l.9 .6l1 .5l1 1l.9 1l1 1.2l1 .7l1 .6l.9 .7l1 .4l1 .6l.9 .6l1 .9l1 .5l.9 .8l1 .4l1 .8l.9 .2l1 .5l1 .4l.9 .7l1 .6l1 .6l.9 .7l1 .5l1 .7l.9 .3l1 .5l1 .1l.9 .5l1 .3l1 .4l.9 .4l1 .6l1 .3l.9 .1l1 .6l1 .6l.9 .3l1 .2l1 .5l.9 0l1 .6l1 0l1 0l.9 .3l1 0l1 0l.9 0l1 .3l1 .2l.9 .4l1 .2l1 .5l.9 .4l1 .3l1 0l.9 -.4l1 0l1 -.2l.9 .2l1 .2l1 .4l.9 .3l1 .4l1 .2l.9 0l1 .2l1 .4l.9 .2l1 .2l1 .1l.9 .3l1 -.2l1 .1l.9 .1l1 0l1 .3l1 -.2l.9 .5l1 0l1 .6l.9 .4l1 .4l1 .1l.9 -.1l1 -.2l1 -.2l.9 .3l1 .2l1 .5l.9 .4l1 0l1 .1l.9 -.2l1 0l1 -.5l.9 .2l1 .1l1 .3l.9 0l1 .3l1 .1l.9 0l1 .2l1 .3l.9 .3l1 .2l1 .3l.9 -.1l1 .2l1 .6l.9 .2l1 0l1 .3l1 .1l.9 0l1 -.2l1 .2l.9 -.1l1 -.2l1 0l.9 .4l1 0l1 .1l.9 .1l1 -.1l1 .3l.9 -.2l1 .4l1 .1l.9 .3l1 -.4l1 .3l.9 -.1l1 0l1 0l.9 .3l1 .1l1 .2l.9 .3l1 .1l1 .2l.9 .1l1 -.1l1 .1l.9 .4l1 -.1l1 -.3l.9 .3l1 .2l1 -.3l1 .1l.9 .5" fill="none" stroke="#a2005d" stroke-width="4.00" stroke-linejoin="round" stroke-linecap="round" />
<path d="M1108.4 1635.1l.9 .2l1 -.1l1 .2l1 -.6l.9 -.5l1 .2l1 -.3l.9 -.9l1 .4l1 0l.9 -.4l1 .1l1 .4l.9 .1l1 -.1l1 -.2l.9 -.2l1 -.7l1 -.4l.9 -.2l1 .2l1 0l.9 .3l1 -.3l1 -.3l.9 -.4l1 -.2l1 -.3l.9 .7l1 .3l1 -.1l.9 -.1l1 -.1l1 -.6l.9 -.4l1 -.3l1 .2l.9 .1l1 .1l1 0l1 .3l.9 -.4l1 -.6l1 -.2l.9 -.2l1 -.4l1 -.5l.9 .5l1 -.4l1 -.2l.9 0l1 .6l1 -.6l.9 .2l1 -.6l1 .2l.9 -.5l1 -.3l1 -.4l.9 .3l1 -.6l1 0l.9 .3l1 -.1l1 -.4l.9 0l1 -.4l1 -.1l.9 -.4l1 -.1l1 .3l.9 -.1l1 0l1 .1l1 -.2l.9 -.7l1 0l1 -.3l.9 -.1l1 0l1 .3l.9 -.4l1 -.4l1 .2l.9 0l1 -.5l1 -.1l.9 .1l1 -1.1l1 -.5l.9 .2l1 .1l1 0l.9 .1l1 -.2l1 -.4l.9 -.5l1 -.3l1 -.3l.9 -.2l1 -.3l1 -.3l.9 -.5l1 .3l1 .1l.9 .2l1 -.4l1 -.1l.9 -.1l1 -.5l1 -.6l1 .1l.9 -.3l1 -.8l1 -.3l.9 -.1l1 -.4l1 -.3l.9 -.4l1 -.4l1 -.3l.9 -.4l1 -.4l1 -.5l.9 -.2l1 -.8l1 -.4l.9 -.5l1 -.1l1 -.5l.9 -.4l1 -1.2l1 -.9l.9 -.8l1 -1l1 -.5l.9 .4l1 -.1l1 -.5l.9 -.2l1 -.8l1 -.9l.9 -.8l1 -1.1l1 -.9l.9 -.4l1 -1.1l1 -.8l1 -.5l.9 -1.1l1 -1.4l1 -.7l.9 -1.2l1 -1.2l1 -.9l.9 -.7l1 -1l1 -1l.9 -1.2l1 -1.1l1 -1.6l.9 -1.5l1 -1.1l1 -.7l.9 -1.5l1 -1.3l1 -1.4l.9 -1.1l1 -2.1l1 -1.8l.9 -1.2l1 -1.5l1 -1.9l.9 -1.2l1 -1l1 -1.7l.9 -1.2l1 -.6l1 -.9l.9 -.8l1 -.7l1 -.8l1 -1.1l.9 -1l1 -.9l.3 -.3l.5 -.3l.2 -.2l.3 -.2l.5 -.2l.1 -.3l.3 -.1l.5 -.5l.2 .2l.3 -.5l.4 0l.3 -.1l.2 .2l.5 -.4l.2 0l.3 -.1l.4 -.5l.3 -.2l.2 -.2l.5 -.4l.3 -.3l.1 .2l.5 -.4l.3 .2l.2 0l.5 0l.3 -.3l.1 .2l.5 -.4l.4 .3l.1 -.2l.5 -.1l.3 -.1l.1 .2l.5 -.2l.4 .1l.1 0l.4 -.3l.5 -.3l0 -.5l0 -.4l.5 .2l.4 .2l.1 -.2l.4 -.1l.5 .2l.5 -.1l.4 .1l.1 .1l.4 .2l.5 -.3l.5 .3l.4 0l.1 .1l.4 .1l.5 .3l.1 -.3l.3 .2l.5 .4l.1 0l.4 -.1l.5 0l.1 -.1l.3 0l.5 .4l.2 .3l.3 .4l.5 .4l.1 0l.3 -.1l.5 -.2l.2 .2l.3 .1l.4 .1l.3 .8l.2 .2l.5 .4l.2 .2l.3 .7l.4 -.6l.3 .1l.2 .1l.5 .5l.3 -.3l.1 .4l.5 .7l.3 .3l.2 -.2l.5 .3l.3 .4l1 .5l.9 .4l1 .9l1 .8l1 1l.9 1l1 1.1l1 1.3l.9 1.4l1 .9l1 1.1l.9 1.5l1 1.3l1 1.7l.9 1.5l1 1.6l1 1.7l.9 1.4l1 1.2l1 1.4l.9 1.4l1 1.5l1 1.4l.9 1.1l1 1.4l1 1.5l.9 .8l1 1l1 1l.9 .8l1 .7l1 1.2l.9 .7l1 .8l1 .8l.9 1l1 .3l1 1l1 1l.9 .7l1 .8l1 1.3l.9 .6l1 .9l1 .8l.9 .7l1 .4l1 .8l.9 .7l1 .7l1 .3l.9 .2l1 .5l1 .4l.9 .6l1 .6l1 .8l.9 .3l1 .3l1 .4l.9 .4l1 .5l1 .5l.9 .3l1 .4l1 .2l.9 .3l1 .7l1 .4l.9 .1l1 .4l1 .1l.9 -.1l1 .1l1 .3l1 .3l.9 .3l1 .3l1 .6l.9 .4l1 .3l1 .4l.9 0l1 0l1 .2l.9 .4l1 .4l1 .1l.9 .6l1 .1l1 .3l.9 0l1 .7l1 -.1l.9 -.1l1 0l1 0l.9 0l1 .3l1 .5l.9 .2l1 .5l1 -.1l.9 .3l1 -.2l1 .1l.9 -.1l1 .3l1 .1l1 .2l.9 0l1 .5l1 0l.9 -.3l1 .5l1 .2l.9 0l1 .6l1 .4l.9 .1l1 .1l1 -.1l.9 .2l1 0l1 -.2l.9 0l1 .4l1 .4l.9 .6l1 .3l1 .3l.9 -.2l1 -.2l1 .1l.9 .3l1 .2l1 -.3l.9 .2l1 -.3l1 .1l.9 .2l1 .7l1 .3l.9 .6l1 -.3l1 -.2l1 .4l.9 .1l1 -.3l1 .5l.9 .4l1 0l1 -.1l.9 .3l1 -.1l1 .4l.9 0l1 0l1 -.1l.9 .3l1 0l1 .5l.9 .5l1 .3l1 0l.9 -.2l1 -.3l1 -.3l.9 .2l1 .3l1 .3l.9 -.1l1 .4l1 -.1l.9 -.1l1 0l1 .3l.9 -.1l1 .3l1 .5l.9 .5l1 0l1 .3l1 -.5l.9 .2" fill="none" stroke="#90006f" stroke-width="4.00" stroke-linejoin="round" stroke-linecap="round" />
<path d="M1108.4 1635.2l.9 -.2l1 -.4l1 -.6l1 0l.9 -.3l1 0l1 .2l.9 .5l1 -.1l1 -.5l.9 0l1 -.4l1 .1l.9 -.3l1 0l1 -.1l.9 .3l1 -.5l1 .2l.9 .1l1 -.4l1 -.3l.9 .4l1 -.2l1 -.3l.9 .2l1 -.4l1 0l.9 -.1l1 -.3l1 0l.9 .2l1 -.9l1 -.3l.9 .3l1 0l1 -.3l.9 -.1l1 .2l1 -.2l1 -.7l.9 0l1 .1l1 -.3l.9 -.1l1 .3l1 .2l.9 -.6l1 -.4l1 -.2l.9 -.5l1 -.4l1 .2l.9 0l1 .1l1 -.3l.9 -.6l1 -.1l1 0l.9 -.2l1 0l1 .4l.9 -.3l1 -.7l1 -.2l.9 0l1 -.2l1 0l.9 0l1 0l1 -.1l.9 -.3l1 -.4l1 .1l1 -.2l.9 -.7l1 -.2l1 .1l.9 -.3l1 .1l1 .2l.9 -.1l1 -.2l1 -.4l.9 -.3l1 -.3l1 -.3l.9 -.3l1 -.2l1 -.6l.9 -.3l1 0l1 -.3l.9 0l1 .1l1 -.2l.9 -.4l1 .1l1 -.4l.9 -.1l1 -.1l1 0l.9 -.4l1 -.1l1 -.4l.9 0l1 -.5l1 -.4l.9 0l1 -.3l1 -.4l1 -.2l.9 -.1l1 -.7l1 -.2l.9 -.4l1 -.4l1 -.4l.9 .1l1 0l1 -.4l.9 .1l1 -.4l1 -.4l.9 -.7l1 -.3l1 -.6l.9 -.5l1 -.9l1 -.3l.9 -.9l1 -.7l1 -.1l.9 -.3l1 -.7l1 -.3l.9 -.4l1 -1l1 -.6l.9 -.7l1 -.7l1 -.7l.9 -.5l1 -.8l1 -.6l.9 -.5l1 -.6l1 -1l1 -1.2l.9 -.9l1 -1.3l1 -1.2l.9 -1l1 -.7l1 -1.5l.9 -1l1 -1.5l1 -.6l.9 -1.3l1 -1.3l1 -1l.9 -.8l1 -1.4l1 -1.5l.9 -.9l1 -1.5l1 -1.8l.9 -1.8l1 -1.6l1 -2.1l.9 -2.1l1 -2.4l1 -2.5l.9 -2.4l1 -2.6l1 -2.9l.9 -3l1 -2.7l1 -3.1l.9 -2.8l1 -2.7l1 -1.8l1 -2l.9 -1.3l1 -1.1l.3 0l.5 -.7l.2 -.2l.3 -.4l.5 -.8l.1 -.7l.3 -.3l.5 -.2l.2 -.2l.3 -.1l.4 -.3l.3 -.2l.2 .1l.5 0l.2 0l.3 -.5l.4 -.3l.3 -.8l.2 -.6l.5 -.7l.3 0l.1 -.1l.5 -.3l.3 -.2l.2 .3l.5 -.3l.3 -.5l.1 -.1l.5 .2l.4 0l.1 -.1l.5 .1l.3 .2l.1 0l.5 -.5l.4 .2l.1 -.1l.4 -.5l.5 -.1l0 .1l.5 0l.4 .1l.1 -.3l.4 .1l.5 -.3l.5 .3l.4 .6l.1 -.3l.4 .1l.5 .2l0 -.1l.5 -.3l.4 .5l.1 0l.4 .2l.5 .3l.1 0l.3 -.1l.5 0l.1 .1l.4 -.2l.5 -.1l.1 .7l.3 .2l.5 .2l.2 -.1l.3 .5l.5 -.1l.1 .4l.3 .4l.5 .5l.2 0l.3 .4l.4 .3l.3 0l.2 .4l.5 .5l.2 0l.3 0l.4 -.1l.3 .3l.2 .4l.5 .3l.3 .2l.1 .6l.5 .4l.3 .2l.2 .3l.5 .6l.3 .4l1 .9l.9 1.4l1 1.8l1 2.2l1 2.3l.9 2.8l1 2.8l1 2.9l.9 3.2l1 3l1 3l.9 2.7l1 2.7l1 2.1l.9 2.3l1 1.6l1 1.5l.9 1.7l1 1.7l1 1.6l.9 2l1 1.5l1 .9l.9 .8l1 1l1 .9l.9 1.1l1 1.1l1 1.3l.9 .9l1 .9l1 1l.9 1.3l1 .8l1 1l.9 .9l1 1l1 .7l1 .5l.9 .5l1 .9l1 .4l.9 .8l1 .8l1 1l.9 .6l1 .9l1 .4l.9 .6l1 .7l1 .8l.9 .2l1 .8l1 .7l.9 .6l1 .1l1 .6l.9 .4l1 .5l1 .2l.9 .8l1 0l1 .4l.9 .6l1 .5l1 .4l.9 .8l1 .5l1 -.1l.9 0l1 0l1 .1l.9 0l1 .5l1 .3l1 .3l.9 .5l1 .4l1 -.1l.9 .5l1 .3l1 0l.9 0l1 .2l1 -.3l.9 0l1 .1l1 .3l.9 .4l1 .7l1 .3l.9 .3l1 -.1l1 -.1l.9 .2l1 .3l1 .5l.9 .6l1 .3l1 -.1l.9 -.2l1 .1l1 .2l.9 1l1 .6l1 .6l.9 -.2l1 -.3l1 -.5l1 -.2l.9 -.1l1 .5l1 .6l.9 .1l1 .1l1 .2l.9 .3l1 -.2l1 .2l.9 -.2l1 .3l1 -.4l.9 .6l1 .4l1 .3l.9 .2l1 .5l1 0l.9 -.2l1 .7l1 .4l.9 .5l1 -.4l1 .1l.9 0l1 .1l1 -.3l.9 .5l1 .5l1 -.1l.9 .4l1 .4l1 .5l.9 -.3l1 .3l1 .2l1 .2l.9 .2l1 .7l1 -.1l.9 .1l1 .1l1 0l.9 0l1 .2l1 -.1l.9 -.3l1 .2l1 0l.9 -.2l1 0l1 .2l.9 .1l1 .4l1 .5l.9 .5l1 0l1 .3l.9 -.3l1 -.2l1 0l.9 .2l1 -.3l1 .4l.9 .5l1 .1l1 .3l.9 .4l1 .1l1 -.3l.9 -.4l1 -.2l1 -.7l1 -.2l.9 .1" fill="none" stroke="#80007f" stroke-width="4.00" stroke-linejoin="round" stroke-linecap="round" />
<path d="M1108.4 1634.6l.9 .1l1 -.1l1 -.4l1 .3l.9 .1l1 -.4l1 0l.9 .3l1 -.5l1 0l.9 -.2l1 -.1l1 -.1l.9 -.2l1 -.2l1 -.2l.9 -.1l1 -.2l1 -.1l.9 0l1 .1l1 0l.9 -.5l1 .1l1 -.3l.9 -.5l1 -.1l1 .3l.9 -.3l1 -.4l1 0l.9 -.2l1 -.1l1 -.1l.9 .4l1 .2l1 -.2l.9 -.4l1 0l1 -.4l1 -.3l.9 .2l1 .1l1 -.2l.9 -.4l1 -.1l1 -1l.9 .1l1 -.6l1 .1l.9 -.3l1 .3l1 .1l.9 .1l1 -.4l1 -.2l.9 -.1l1 -.6l1 .3l.9 -.6l1 0l1 0l.9 -.1l1 -.6l1 .3l.9 .1l1 -.2l1 0l.9 -.2l1 -.4l1 -.5l.9 -.4l1 -.5l1 -.2l1 0l.9 -.5l1 -.1l1 -.3l.9 .1l1 -.4l1 -.2l.9 .1l1 -.4l1 -.3l.9 .3l1 .2l1 -.6l.9 .2l1 0l1 -.5l.9 -.4l1 .3l1 -.3l.9 -.3l1 .1l1 0l.9 .1l1 0l1 -.2l.9 -.4l1 -.3l1 -.5l.9 -.6l1 -.1l1 -.3l.9 -.5l1 -.2l1 .1l.9 -.3l1 -.2l1 .2l1 -.5l.9 -.1l1 0l1 -.2l.9 -.2l1 -.1l1 -.4l.9 -.5l1 -.4l1 -.4l.9 -.4l1 -.6l1 -.5l.9 -.1l1 -.3l1 -.4l.9 -.6l1 -.2l1 -.8l.9 -.6l1 -.8l1 -.5l.9 -.8l1 -.6l1 -.5l.9 -.1l1 -.4l1 -.4l.9 -.7l1 -.8l1 -1.2l.9 -.8l1 -1.1l1 -.5l.9 -.4l1 -1l1 -.7l1 -.5l.9 -1l1 -1.1l1 -.4l.9 -1.4l1 -1.3l1 -1.2l.9 -1.1l1 -1.6l1 -.8l.9 -.9l1 -1.2l1 -1.2l.9 -.7l1 -1.8l1 -1.7l.9 -1.5l1 -1.6l1 -1.9l.9 -1.5l1 -1.7l1 -1.5l.9 -2.3l1 -1.8l1 -2l.9 -2.5l1 -2.8l1 -2.8l.9 -3.1l1 -3.6l1 -3.7l.9 -3.7l1 -3.6l1 -4.7l1 -4.7l.9 -5l1 -5.7l.3 -2.3l.5 -2.7l.2 -.7l.3 -1.7l.5 -1.8l.1 -.6l.3 -.4l.5 -.7l.2 -.2l.3 -.6l.4 -1.2l.3 -.9l.2 -.8l.5 -.9l.2 0l.3 -.1l.4 -.1l.3 .2l.2 0l.5 -.6l.3 -.2l.1 -.2l.5 -.3l.3 -.3l.2 .2l.5 -.3l.3 0l.1 -.1l.5 -.4l.4 -.5l.1 -.2l.5 -.5l.3 -.3l.1 0l.5 -.4l.4 -.2l.1 .1l.4 0l.5 -.1l0 .3l0 .3l.5 -.1l.4 0l.1 -.3l.4 0l.5 -.4l.5 -.3l.4 -.1l.1 .2l.4 0l.5 .6l0 .3l.5 .2l.4 .1l.1 -.2l.4 -.2l.5 .1l.1 .3l.3 0l.5 .5l.1 -.1l.4 .3l.5 -.3l.1 .2l.3 .3l.5 .5l.2 .6l.3 .6l.5 .4l.1 .2l.3 .4l.5 .4l.2 .5l.3 .3l.4 .2l.3 .2l.2 -.4l.5 0l.2 .2l.3 .3l.4 .5l.3 .7l.2 .3l.5 1.1l.3 .9l.1 .8l.5 2.1l.3 1.8l.2 .8l.5 3l.3 1.9l1 5.8l.9 5l1 4.6l1 4.7l1 3.6l.9 3.8l1 3.2l1 2.7l.9 2.3l1 3.1l1 2.2l.9 2.6l1 2.9l1 2.8l.9 2.2l1 2.1l1 2.2l.9 2l1 1.4l1 1.8l.9 1.5l1 1.2l1 .9l.9 1.3l1 1.1l1 .8l.9 1.1l1 1.2l1 1l.9 1l1 1.6l1 1.3l.9 .7l1 1.2l1 .8l.9 .5l1 .9l1 1.1l1 .2l.9 1.1l1 1.1l1 .6l.9 .6l1 1.1l1 .5l.9 .7l1 .3l1 .6l.9 .1l1 .6l1 .5l.9 .9l1 .6l1 1.1l.9 .7l1 .5l1 .5l.9 .5l1 .3l1 .5l.9 .5l1 .4l1 .6l.9 .1l1 -.1l1 .2l.9 .2l1 .3l1 .2l.9 .6l1 0l1 .2l.9 .2l1 .3l1 .3l1 .3l.9 .2l1 .3l1 .5l.9 .2l1 .4l1 .3l.9 .4l1 .3l1 0l.9 .1l1 .2l1 .1l.9 -.6l1 .1l1 -.2l.9 .3l1 0l1 .7l.9 .4l1 .6l1 0l.9 0l1 -.3l1 .2l.9 .1l1 0l1 .2l.9 .8l1 0l1 0l.9 .4l1 .6l1 -.3l1 .1l.9 .2l1 .2l1 0l.9 .7l1 .4l1 .3l.9 0l1 .3l1 -.2l.9 .1l1 .2l1 .2l.9 .1l1 .2l1 .6l.9 .6l1 0l1 .1l.9 .1l1 -.2l1 -.4l.9 .3l1 .2l1 .4l.9 -.1l1 0l1 -.1l.9 .3l1 .1l1 .5l.9 .7l1 .3l1 0l.9 .1l1 .2l1 -.5l1 .2l.9 .1l1 .3l1 -.2l.9 .4l1 .4l1 .1l.9 .3l1 .5l1 .2l.9 -.1l1 .2l1 -.2l.9 .1l1 .1l1 .4l.9 .5l1 .5l1 .1l.9 .1l1 0l1 0l.9 -.1l1 -.3l1 -.1l.9 .1l1 -.1l1 .3l.9 0l1 .3l1 -.4l.9 -.2l1 -.1l1 .3l.9 .5l1 .1l1 .2l1 .1l.9 .2" fill="none" stroke="#6f0090" stroke-width="4.00" stroke-linejoin="round" stroke-linecap="round" />
<path d="M1108.4 1634.6l.9 -.4l1 .2l1 0l1 -.1l.9 -.3l1 .5l1 -.2l.9 .2l1 -.2l1 -.2l.9 -.6l1 0l1 .1l.9 .1l1 -.1l1 -.3l.9 -.5l1 -.2l1 -.1l.9 .1l1 .1l1 .1l.9 -.3l1 -.1l1 -.1l.9 .1l1 -.1l1 -.2l.9 -.1l1 -.3l1 -.2l.9 -.3l1 -.1l1 -.3l.9 0l1 -.5l1 -.2l.9 -.3l1 -.2l1 0l1 0l.9 -.3l1 .1l1 0l.9 -.4l1 -.3l1 .3l.9 -.2l1 -.2l1 0l.9 -.3l1 -.3l1 -.2l.9 -.3l1 -.3l1 0l.9 .2l1 -.2l1 0l.9 -.2l1 -.1l1 -.5l.9 .1l1 -.5l1 -.1l.9 -.2l1 -.5l1 -.8l.9 -.5l1 .2l1 -.1l.9 .4l1 .4l1 -.2l1 -.7l.9 -.3l1 -.7l1 -.4l.9 -.2l1 -.1l1 -.6l.9 0l1 -.1l1 .2l.9 .3l1 .2l1 -.1l.9 .2l1 -.4l1 -.5l.9 .1l1 -.3l1 -.4l.9 -.3l1 -.1l1 -.2l.9 -.2l1 -.2l1 -.1l.9 -.2l1 -.4l1 -.3l.9 -.2l1 -.3l1 -.2l.9 0l1 -.3l1 .4l.9 -.1l1 -.1l1 -.2l1 -.2l.9 -.5l1 0l1 -.3l.9 -.2l1 .4l1 -.6l.9 -.6l1 -.2l1 -.4l.9 -1l1 -.3l1 -.5l.9 -.5l1 -.5l1 0l.9 -.3l1 -.5l1 -.4l.9 -.4l1 -1l1 -.7l.9 -.6l1 -.7l1 -.5l.9 -.4l1 -.3l1 -.5l.9 -.7l1 -.9l1 -.6l.9 -.6l1 -.9l1 -.7l.9 -.8l1 -.7l1 -1.4l1 -.9l.9 -.8l1 -.7l1 -1l.9 -.8l1 -.6l1 -1.4l.9 -1.5l1 -1.2l1 -1.1l.9 -1.5l1 -1.3l1 -1.1l.9 -1.1l1 -1l1 -1l.9 -1.1l1 -1.5l1 -1.6l.9 -1.7l1 -1.9l1 -2.3l.9 -2.5l1 -2.3l1 -2.8l.9 -2.5l1 -2.8l1 -2.3l.9 -3.2l1 -3.2l1 -3.6l.9 -3.3l1 -3.8l1 -4l1 -4.3l.9 -5l1 -6.1l.3 -2.9l.5 -3.8l.2 -1.5l.3 -3.3l.5 -4.6l.1 -1.3l.3 -3l.5 -4.2l.2 -1.6l.3 -2.2l.4 -4.5l.3 -1.8l.2 -2.3l.5 -2.4l.2 -.9l.3 -.8l.4 -1.1l.3 -.4l.2 -.5l.5 -.7l.3 -.4l.1 -.3l.5 -.5l.3 -.7l.2 -.1l.5 -.4l.3 -.7l.1 -.4l.5 -.1l.4 -.7l.1 -.1l.5 .4l.3 0l.1 .1l.5 .1l.4 -.1l.1 -.1l.4 -.3l.5 -.3l0 -.3l0 -.4l.5 -.1l.4 .1l.1 -.1l.4 -.1l.5 -.1l.5 0l.4 0l.1 .5l.4 .6l.5 .8l.5 0l.4 -.2l.1 0l.4 -.5l.5 .3l.1 .1l.3 .5l.5 .1l.1 .2l.4 .3l.5 0l.1 0l.3 .5l.5 .5l.2 .2l.3 .8l.5 .5l.1 .2l.3 .6l.5 .3l.2 .3l.3 .6l.4 1l.3 .5l.2 .9l.5 2.7l.2 1.7l.3 1.5l.4 4.4l.3 2.9l.2 1.6l.5 4.6l.3 3.3l.1 1.5l.5 4.3l.3 3.3l.2 1.1l.5 3.2l.3 2.7l1 6l.9 5.1l1 5.1l1 4.5l1 3.8l.9 3.4l1 3.8l1 3l.9 2.7l1 3.2l1 2.8l.9 2.2l1 2.5l1 2.7l.9 1.9l1 2l1 2l.9 1.5l1 1.5l1 1.5l.9 1.7l1 1.4l1 1.2l.9 .9l1 1.2l1 1.1l.9 .8l1 1.2l1 1.4l.9 .9l1 .8l1 1l.9 .9l1 1.1l1 1.1l.9 .9l1 1l1 1.1l1 .8l.9 1l1 1l1 .7l.9 .4l1 .9l1 1l.9 .6l1 .5l1 .9l.9 .6l1 .1l1 .4l.9 .5l1 .5l1 .2l.9 .9l1 .4l1 .6l.9 .2l1 .8l1 .4l.9 .7l1 .1l1 .4l.9 .3l1 .5l1 .1l.9 .5l1 .2l1 .2l.9 0l1 .1l1 .6l.9 .6l1 .3l1 .2l1 .8l.9 -.2l1 -.2l1 .4l.9 -.1l1 -.2l1 .3l.9 .1l1 -.4l1 .4l.9 .1l1 .3l1 .4l.9 .4l1 .2l1 .2l.9 0l1 -.2l1 .3l.9 -.2l1 .2l1 .5l.9 .2l1 -.4l1 .4l.9 .2l1 -.3l1 .6l.9 .7l1 .2l1 .3l.9 .1l1 -.1l1 .1l1 .7l.9 .2l1 .7l1 0l.9 .8l1 -.3l1 .2l.9 .2l1 .5l1 -.2l.9 .2l1 -.1l1 -.2l.9 0l1 0l1 .4l.9 .2l1 .3l1 0l.9 0l1 .3l1 .2l.9 .2l1 .5l1 .6l.9 .3l1 .5l1 .3l.9 -.2l1 -.3l1 -.2l.9 -.1l1 .1l1 .2l.9 .2l1 .5l1 .2l1 -.2l.9 .3l1 .2l1 -.2l.9 .6l1 .7l1 .5l.9 .1l1 .3l1 -.2l.9 -.1l1 -.3l1 .3l.9 -.4l1 .2l1 .7l.9 .5l1 -.3l1 .5l.9 -.2l1 -.5l1 -.2l.9 .7l1 .3l1 .1l.9 .3l1 .2l1 .2l.9 -.3l1 .3l1 -.2l.9 .1l1 -.6l1 .2l.9 .1l1 .1l1 0l1 .4l.9 .2" fill="none" stroke="#60009f" stroke-width="4.00" stroke-linejoin="round" stroke-linecap="round" />
<path d="M1108.4 1634.7l.9 0l1 .2l1 -.4l1 -.1l.9 .1l1 .1l1 -.1l.9 .2l1 -.2l1 -.3l.9 -.4l1 -.5l1 -.1l.9 .2l1 .5l1 .1l.9 0l1 -.1l1 -.4l.9 -.5l1 .1l1 -.2l.9 -.1l1 -.3l1 .1l.9 -.2l1 .2l1 -.2l.9 0l1 -.2l1 -.5l.9 0l1 .2l1 0l.9 -.1l1 -.2l1 -.1l.9 -.7l1 -.5l1 .1l1 -.2l.9 -.6l1 -.2l1 .1l.9 -.3l1 0l1 -.4l.9 .1l1 -.5l1 -.2l.9 .1l1 .1l1 0l.9 .2l1 -.1l1 -.6l.9 -.2l1 -.5l1 -.6l.9 -.3l1 -.2l1 -.3l.9 .2l1 .1l1 -.7l.9 -.1l1 -.2l1 -.6l.9 .1l1 .1l1 -.2l.9 .1l1 -.1l1 -.8l1 -.2l.9 -.1l1 -.4l1 0l.9 .2l1 -.1l1 -.3l.9 -.2l1 -.1l1 -.6l.9 -.1l1 0l1 -.3l.9 -.5l1 .2l1 -.6l.9 -.2l1 0l1 -.3l.9 -.2l1 .3l1 -.1l.9 -.4l1 -.3l1 -.5l.9 -.2l1 -.3l1 0l.9 .1l1 0l1 0l.9 0l1 .1l1 -.4l.9 .1l1 -.4l1 -.5l1 -.6l.9 -.1l1 -.2l1 -.3l.9 -.1l1 0l1 -.2l.9 -.5l1 -.4l1 -.3l.9 -.4l1 -.2l1 -.8l.9 -.5l1 0l1 -1l.9 -.3l1 -.1l1 -.7l.9 -.7l1 -.4l1 -.9l.9 -.6l1 -.3l1 -.8l.9 -.5l1 -.3l1 -1l.9 -.4l1 -.5l1 -.6l.9 -.6l1 -.7l1 -.9l.9 -.7l1 -.8l1 -1.1l1 -.6l.9 -.9l1 -.7l1 -.9l.9 -1.1l1 -1.3l1 -1.1l.9 -1.2l1 -1.4l1 -.8l.9 -.9l1 -1.3l1 -1.1l.9 -1.3l1 -1.2l1 -1.5l.9 -1.3l1 -1.9l1 -1.4l.9 -1.6l1 -1.8l1 -2l.9 -1.9l1 -2.2l1 -2.7l.9 -2.4l1 -3l1 -2.8l.9 -2.9l1 -2.9l1 -3.2l.9 -3.2l1 -4.1l1 -4.3l1 -5.2l.9 -5.2l1 -6.3l.3 -2.4l.5 -4.2l.2 -1l.3 -3l.5 -4.1l.1 -1.9l.3 -2.7l.5 -4.4l.2 -2l.3 -3.1l.4 -4.6l.3 -2.7l.2 -3l.5 -5.5l.2 -2.8l.3 -3.5l.4 -6.3l.3 -3.9l.2 -3.2l.5 -6.8l.3 -3.4l.1 -1.4l.5 -2.6l.3 -.5l.2 -.5l.5 -.8l.3 -.6l.1 0l.5 -.8l.4 0l.1 -.1l.5 -.3l.3 -.7l.1 0l.5 -.5l.4 -.3l.1 -.4l.4 0l.5 .1l0 -.2l0 .1l.5 -.1l.4 -.4l.1 0l.4 -.1l.5 -.2l.5 .2l.4 .1l.1 -.4l.4 .1l.5 .3l0 .1l.5 .3l.4 .4l.1 -.2l.4 .2l.5 .2l.1 .3l.3 .2l.5 .4l.1 -.2l.4 .4l.5 .5l.1 .7l.3 .5l.5 1.1l.2 .2l.3 1l.5 2.5l.1 2.5l.3 3.5l.5 7.2l.2 2.8l.3 3.5l.4 6.3l.3 3l.2 2.3l.5 5.5l.2 2.8l.3 2.3l.4 5.3l.3 3.4l.2 2l.5 4.7l.3 2.7l.1 1.2l.5 4.6l.3 2.7l.2 1.4l.5 3.6l.3 2.6l1 5.8l.9 5.3l1 4.6l1 4.6l1 4.1l.9 3.3l1 3.1l1 3.3l.9 3.1l1 2.6l1 3.1l.9 2.6l1 2.3l1 2.4l.9 2l1 1.9l1 2l.9 1.5l1 1.4l1 1.7l.9 1.2l1 1.2l1 1.6l.9 1.1l1 1.6l1 1.2l.9 1.2l1 1.2l1 .9l.9 .9l1 1.4l1 1.3l.9 .4l1 .9l1 .7l.9 .9l1 .6l1 1.3l1 1.1l.9 1l1 .7l1 .8l.9 .8l1 .7l1 .9l.9 .5l1 .4l1 .6l.9 .3l1 .4l1 .6l.9 .8l1 .3l1 .5l.9 .3l1 .6l1 .4l.9 .8l1 .7l1 .9l.9 .3l1 .6l1 0l.9 .2l1 0l1 .4l.9 .6l1 .1l1 .3l.9 .4l1 .3l1 -.3l.9 .6l1 .3l1 -.1l1 0l.9 .1l1 .2l1 .2l.9 .5l1 .3l1 .3l.9 -.1l1 -.2l1 0l.9 .2l1 .2l1 .2l.9 .2l1 -.1l1 .2l.9 -.1l1 .2l1 .5l.9 .4l1 .3l1 .2l.9 .1l1 -.1l1 -.2l.9 .2l1 .4l1 .1l.9 .2l1 .5l1 .1l.9 0l1 .4l1 .3l1 .1l.9 .1l1 .2l1 .3l.9 .1l1 .4l1 .3l.9 .7l1 0l1 .7l.9 .1l1 .2l1 -.4l.9 .5l1 -.1l1 .4l.9 .4l1 .6l1 -.2l.9 .2l1 .1l1 .2l.9 -.4l1 .7l1 0l.9 -.1l1 .1l1 .4l.9 -.2l1 .2l1 .7l.9 -.2l1 .4l1 .4l.9 -.1l1 .1l1 .6l1 0l.9 -.4l1 .4l1 0l.9 .3l1 .2l1 .6l.9 .1l1 .3l1 -.4l.9 .1l1 0l1 .1l.9 0l1 .5l1 .3l.9 .2l1 .2l1 .2l.9 -.1l1 -.1l1 .1l.9 .3l1 .1l1 .1l.9 .6l1 0l1 -.1l.9 -.1l1 .2l1 -.2l.9 .1l1 0l1 .2l.9 .1l1 0l1 .1l1 .2l.9 .1" fill="none" stroke="#5000af" stroke-width="4.00" stroke-linejoin="round" stroke-linecap="round" />
<path d="M1108.4 1635.4l.9 .4l1 -.2l1 0l1 -.4l.9 -.2l1 -.4l1 0l.9 -.2l1 .2l1 -.8l.9 0l1 -.5l1 -.1l.9 -.2l1 .5l1 -.2l.9 0l1 .2l1 .2l.9 -.3l1 0l1 -.4l.9 -.6l1 -.3l1 -.2l.9 -.3l1 .2l1 -.1l.9 -.3l1 -.1l1 -.1l.9 -.1l1 0l1 -.3l.9 .2l1 .2l1 -.4l.9 -.4l1 .1l1 -.5l1 -.3l.9 -.1l1 .2l1 -.4l.9 -.2l1 -.3l1 -.2l.9 -.5l1 -.1l1 .2l.9 -.2l1 0l1 -.3l.9 -.1l1 -.5l1 .1l.9 -.1l1 .3l1 .2l.9 0l1 -.5l1 -.6l.9 -.3l1 -.6l1 -.4l.9 -.3l1 -.3l1 -.4l.9 -.3l1 -.3l1 0l.9 0l1 -.1l1 -.1l1 -.1l.9 -.5l1 0l1 -.7l.9 -.1l1 -.1l1 -.5l.9 -.7l1 -.1l1 -.2l.9 -.4l1 .3l1 .2l.9 .5l1 -.3l1 0l.9 -.1l1 -.1l1 -.9l.9 -.3l1 -.4l1 -.3l.9 -.3l1 .1l1 -.2l.9 -.1l1 -.2l1 -.3l.9 -.1l1 0l1 .2l.9 .6l1 0l1 -.4l.9 .2l1 0l1 -.6l1 -.2l.9 .2l1 -.4l1 -.3l.9 -.1l1 -.4l1 -.6l.9 -.4l1 -.6l1 -.2l.9 -.2l1 -.4l1 -.2l.9 -.3l1 -.4l1 -.3l.9 -.4l1 -.7l1 -.7l.9 -.4l1 -.7l1 -.7l.9 -.5l1 -.5l1 -.7l.9 -.6l1 -.5l1 -.9l.9 0l1 -.9l1 -1.1l.9 -.8l1 -.5l1 -1.2l.9 -1l1 -.3l1 -.7l1 -.9l.9 -1.1l1 -1.1l1 -1.3l.9 -1.1l1 -1.2l1 -.9l.9 -.6l1 -1.1l1 -1.1l.9 -.9l1 -.9l1 -1l.9 -1.5l1 -1.3l1 -.8l.9 -1.8l1 -1.4l1 -1.2l.9 -1.4l1 -2.3l1 -1.8l.9 -2.4l1 -2.4l1 -2.7l.9 -2.2l1 -2.8l1 -2.8l.9 -3.1l1 -3.3l1 -3.4l.9 -3.4l1 -3.9l1 -4.2l1 -4.6l.9 -5.5l1 -6.4l.3 -2.9l.5 -3.6l.2 -1.2l.3 -2.7l.5 -3.8l.1 -1.7l.3 -3.1l.5 -4.7l.2 -1.8l.3 -3.4l.4 -4.9l.3 -2.4l.2 -2.9l.5 -5.9l.2 -2.4l.3 -3l.4 -6.3l.3 -3.9l.2 -3.3l.5 -7.9l.3 -4.9l.1 -3.2l.5 -8.9l.3 -6.4l.2 -3.8l.5 -12.5l.3 -10.6l.1 -3.1l.5 -2.6l.4 -.5l.1 -.2l.5 -.1l.3 -.3l.1 -.1l.5 -.2l.4 -.4l.1 -.2l.4 -.4l.5 -.3l0 -.6l.5 -.4l.4 -.2l.1 .2l.4 .1l.5 .1l.5 0l.4 -.1l.1 -.3l.4 .2l.5 .6l0 .3l.5 .4l.4 .3l.1 0l.4 0l.5 .7l.1 .4l.3 .6l.5 .6l.1 0l.4 .2l.5 2l.1 3.1l.3 10.3l.5 13l.2 3.6l.3 7.2l.5 9.1l.1 3.5l.3 4.3l.5 7.8l.2 3.2l.3 4.2l.4 6.1l.3 3.1l.2 2.9l.5 5.3l.2 2.5l.3 2.5l.4 4.9l.3 2.6l.2 2.1l.5 4.5l.3 2.9l.1 1.8l.5 4.4l.3 2.8l.2 1.5l.5 3.7l.3 2.4l1 6.3l.9 5.4l1 4.5l1 4.2l1 4.1l.9 3.4l1 3l1 3.5l.9 3.1l1 3l1 2.8l.9 2.7l1 2.6l1 2.4l.9 2.1l1 1.9l1 1.9l.9 1.3l1 1.1l1 1.4l.9 1.5l1 1.5l1 1.4l.9 1.7l1 1l1 1.3l.9 1l1 1.2l1 .5l.9 1.7l1 1l1 .8l.9 1.1l1 1.2l1 .7l.9 .7l1 1.2l1 .4l1 .8l.9 .7l1 .5l1 .6l.9 1l1 .8l1 .6l.9 1.2l1 .7l1 .7l.9 .7l1 .5l1 .5l.9 .6l1 .3l1 .6l.9 .9l1 .3l1 .7l.9 .8l1 .1l1 .6l.9 .4l1 .1l1 .2l.9 .4l1 -.1l1 .3l.9 .1l1 .4l1 0l.9 .5l1 .4l1 .4l.9 0l1 .3l1 0l1 .4l.9 .3l1 .1l1 .6l.9 .1l1 -.2l1 .5l.9 .3l1 .1l1 .3l.9 .3l1 -.1l1 .1l.9 .4l1 -.2l1 -.4l.9 0l1 -.2l1 -.3l.9 .2l1 .6l1 .4l.9 .3l1 0l1 .5l.9 0l1 0l1 .3l.9 0l1 .3l1 .1l.9 .4l1 .2l1 .3l1 0l.9 .5l1 0l1 .6l.9 .2l1 .5l1 -.3l.9 .3l1 0l1 0l.9 .1l1 .3l1 0l.9 -.1l1 .5l1 0l.9 .3l1 .3l1 -.1l.9 .5l1 .7l1 .4l.9 .3l1 .4l1 0l.9 -.1l1 0l1 .2l.9 .5l1 .2l1 .1l.9 .3l1 .1l1 .1l.9 .1l1 .1l1 .1l1 .4l.9 .4l1 -.2l1 0l.9 .4l1 0l1 .1l.9 .3l1 .4l1 .1l.9 .1l1 -.1l1 .3l.9 .2l1 .1l1 .3l.9 -.2l1 .2l1 .3l.9 -.1l1 -.1l1 .8l.9 0l1 0l1 .7l.9 -.2l1 -.4l1 .4l.9 0l1 -.2l1 .3l.9 .7l1 -.1l1 .4l.9 .2l1 .1l1 .1l1 .2l.9 -.1" fill="none" stroke="#4200bd" stroke-width="4.00" stroke-linejoin="round" stroke-linecap="round" />
<path d="M1108.4 1635.7l.9 -.6l1 .2l1 .4l1 0l.9 -.2l1 -.2l1 -.1l.9 -.7l1 .2l1 .1l.9 0l1 -.2l1 .1l.9 -.3l1 -.3l1 -.7l.9 .1l1 -.5l1 0l.9 0l1 .3l1 .3l.9 .3l1 -.6l1 -.2l.9 -.2l1 -.6l1 -.5l.9 .4l1 -.8l1 -.4l.9 -.1l1 0l1 -.2l.9 .2l1 0l1 -.1l.9 -.2l1 -.7l1 .1l1 -.3l.9 -.2l1 -.2l1 .2l.9 -.2l1 -.1l1 -.3l.9 -.2l1 -.4l1 -.4l.9 -.1l1 -.3l1 -.2l.9 -.2l1 -.1l1 -.1l.9 -.4l1 -.2l1 0l.9 -.6l1 -.2l1 -.1l.9 -.3l1 -.3l1 .1l.9 -.3l1 -.5l1 -.3l.9 0l1 -.2l1 0l.9 .2l1 0l1 -.1l1 -.4l.9 -.6l1 0l1 -.3l.9 -.7l1 -.2l1 .1l.9 -.3l1 -.6l1 .2l.9 .2l1 -.2l1 -.2l.9 .1l1 -.3l1 -.4l.9 -.2l1 .3l1 .4l.9 -.1l1 -.3l1 -.2l.9 -.6l1 -.6l1 -.4l.9 .1l1 -.3l1 0l.9 -.4l1 .2l1 -.4l.9 -.2l1 -.3l1 .1l.9 -.3l1 -.1l1 -.1l1 -.2l.9 -.2l1 -.2l1 .2l.9 .1l1 -.2l1 -.4l.9 -.1l1 -.6l1 -.5l.9 0l1 -.5l1 -.7l.9 -.4l1 -.2l1 -.7l.9 -.1l1 -.4l1 -.5l.9 -.8l1 -.6l1 -.7l.9 -.6l1 -.4l1 -.4l.9 -.5l1 -.5l1 -.3l.9 -.6l1 -.8l1 -.7l.9 -.8l1 -.9l1 -.9l.9 -.8l1 -1l1 -.7l1 -1l.9 -1.1l1 -1.3l1 -1l.9 -1.1l1 -1.1l1 -.4l.9 -1.1l1 -.8l1 -1.1l.9 -1l1 -1.7l1 -1.1l.9 -1.1l1 -1l1 -1.7l.9 -1.3l1 -1.4l1 -2.1l.9 -1.9l1 -1.4l1 -1.9l.9 -2l1 -1.7l1 -2.5l.9 -2.5l1 -2.4l1 -3.5l.9 -3.4l1 -2.8l1 -3.5l.9 -4l1 -3.1l1 -4.1l1 -5.2l.9 -5.2l1 -6l.3 -2.8l.5 -4.1l.2 -.8l.3 -3l.5 -4.4l.1 -1.7l.3 -2.5l.5 -4.5l.2 -2.2l.3 -2.7l.4 -5l.3 -2.6l.2 -3.2l.5 -5l.2 -3l.3 -3.1l.4 -6.3l.3 -3.7l.2 -3.2l.5 -7.5l.3 -4.5l.1 -3.3l.5 -9.1l.3 -7.1l.2 -3.6l.5 -12.6l.3 -11.7l.1 -5.9l.5 -19.8l.4 -15.4l.1 -5.2l.5 -16.8l.3 -4.1l.1 -.3l.5 -1.2l.4 -.7l.1 .3l.4 -.5l.5 -1.2l0 .4l.5 -.6l.4 -.7l.1 .8l.4 .2l.5 -.1l.5 .6l.4 .6l.1 -.1l.4 -.3l.5 .6l0 -.6l.5 .2l.4 .5l.1 .3l.4 .2l.5 .8l.1 .2l.3 4.8l.5 16.5l.1 5l.4 15.7l.5 20.4l.1 5.2l.3 11.8l.5 12.8l.2 3.9l.3 6.8l.5 9.1l.1 3.1l.3 4.7l.5 7.4l.2 2.8l.3 4.1l.4 6.4l.3 2.9l.2 3.3l.5 5.5l.2 2.6l.3 2.5l.4 4.9l.3 2.5l.2 2.1l.5 4.7l.3 2.8l.1 1.6l.5 4.5l.3 3.2l.2 1.3l.5 4.1l.3 2.5l1 6.4l.9 4.9l1 4.9l1 4l1 4.1l.9 3.1l1 3.2l1 3.1l.9 2.8l1 2.9l1 2.8l.9 2.8l1 2.6l1 2.5l.9 1.8l1 1.7l1 1.4l.9 1.4l1 1.3l1 1.5l.9 1.7l1 1.4l1 1.1l.9 1.4l1 1.6l1 .9l.9 1.3l1 1.4l1 1.2l.9 .9l1 1.1l1 1.2l.9 1.1l1 .9l1 1.1l.9 .7l1 .5l1 .6l1 .5l.9 .5l1 1.3l1 1.3l.9 1.2l1 1l1 .6l.9 .7l1 .4l1 .3l.9 .6l1 .5l1 .4l.9 .5l1 .5l1 .3l.9 .6l1 .5l1 .3l.9 .8l1 .9l1 .7l.9 .7l1 .6l1 -.1l.9 -.1l1 -.3l1 .1l.9 0l1 .4l1 .5l.9 .4l1 .2l1 .5l.9 .3l1 0l1 .6l1 .1l.9 .1l1 0l1 .2l.9 -.2l1 .5l1 .1l.9 .6l1 -.2l1 .1l.9 .1l1 -.1l1 -.4l.9 .5l1 .3l1 .2l.9 .3l1 .3l1 .1l.9 -.2l1 .2l1 .3l.9 .3l1 .2l1 .3l.9 .2l1 -.4l1 .2l.9 .2l1 .1l1 -.3l.9 .3l1 .2l1 .1l1 .1l.9 .3l1 .5l1 .4l.9 .1l1 .4l1 .3l.9 .2l1 .2l1 .4l.9 .2l1 .1l1 .4l.9 .3l1 -.2l1 .3l.9 .4l1 -.2l1 .2l.9 .7l1 .5l1 .1l.9 .3l1 -.3l1 .1l.9 -.4l1 .2l1 .5l.9 .6l1 .3l1 .6l.9 .3l1 0l1 -.1l.9 .1l1 .2l1 -.1l1 0l.9 .6l1 -.2l1 0l.9 .4l1 .5l1 0l.9 .2l1 .5l1 .1l.9 -.2l1 .3l1 .4l.9 -.4l1 -.3l1 .4l.9 -.2l1 .3l1 .5l.9 .4l1 .3l1 .3l.9 -.1l1 .2l1 .3l.9 .1l1 .1l1 .2l.9 -.2l1 .1l1 0l.9 .4l1 .3l1 .4l.9 .4l1 .5l1 .3l1 -.1l.9 .3" fill="none" stroke="#3700c8" stroke-width="4.00" stroke-linejoin="round" stroke-linecap="round" />
<path d="M1108.4 1636.2l.9 0l1 .2l1 -.5l1 -.4l.9 -.4l1 -.1l1 -.4l.9 .4l1 .4l1 .1l.9 -.4l1 -.1l1 .1l.9 -.1l1 -.2l1 .2l.9 -.2l1 -.3l1 -.5l.9 -.3l1 .1l1 .1l.9 -.2l1 -.3l1 -.2l.9 -.6l1 -.6l1 -.2l.9 -.2l1 0l1 -.1l.9 -.1l1 -.2l1 -.5l.9 -.1l1 -.2l1 .2l.9 -.1l1 .2l1 -.4l1 .2l.9 -.4l1 .1l1 -.2l.9 0l1 -.7l1 -.4l.9 -.4l1 -.3l1 -.2l.9 .1l1 .1l1 -.4l.9 -.1l1 -.4l1 -.2l.9 -.7l1 -.1l1 .1l.9 -.2l1 -.4l1 -.2l.9 -.2l1 -.3l1 -.1l.9 -.5l1 .1l1 -.3l.9 -.5l1 -.1l1 .2l.9 -.5l1 -.3l1 0l1 -.8l.9 -.4l1 .1l1 -.2l.9 -.2l1 .1l1 -.3l.9 -.2l1 .2l1 -.1l.9 -.4l1 .2l1 -.3l.9 -.2l1 -.3l1 0l.9 -.6l1 .1l1 -.1l.9 -.1l1 0l1 .1l.9 -.3l1 -.2l1 -.5l.9 -.4l1 -.1l1 -.2l.9 -.3l1 .1l1 0l.9 .1l1 0l1 .1l.9 0l1 .1l1 -.1l1 -.3l.9 -.5l1 -.4l1 -.6l.9 -.3l1 -.1l1 -.1l.9 -.3l1 -.3l1 -.5l.9 -.4l1 -1l1 -.2l.9 -.3l1 -.5l1 -.3l.9 .2l1 -.4l1 -.8l.9 -.3l1 -.7l1 -.7l.9 -1l1 -.6l1 -.7l.9 -.9l1 -.4l1 -.4l.9 -.2l1 -.5l1 0l.9 -1l1 -.3l1 -1l.9 -1.1l1 -1.3l1 -.7l1 -1.2l.9 -.7l1 -.7l1 -1l.9 -1.2l1 -.9l1 -1.4l.9 -1.1l1 -1l1 -1.2l.9 -1.6l1 -.9l1 -1.3l.9 -1.2l1 -1.3l1 -.8l.9 -1.6l1 -1.4l1 -1.7l.9 -1.5l1 -2.1l1 -1.7l.9 -1.9l1 -2.2l1 -2.8l.9 -2.2l1 -3l1 -2.7l.9 -3.2l1 -2.9l1 -3.3l.9 -3.9l1 -4.3l1 -4.1l1 -5.1l.9 -5.6l1 -5.7l.3 -2.5l.5 -3.4l.2 -.6l.3 -2.9l.5 -4.3l.1 -1.5l.3 -3.2l.5 -5.1l.2 -1.4l.3 -2.7l.4 -5l.3 -2.5l.2 -2.9l.5 -6.1l.2 -3.1l.3 -3.4l.4 -6l.3 -3.6l.2 -2.9l.5 -7.4l.3 -4l.1 -3.4l.5 -9.1l.3 -6.6l.2 -3.9l.5 -13.1l.3 -11.8l.1 -5.7l.5 -20.2l.4 -15.8l.1 -4.8l.5 -18.4l.3 -13.5l.1 -3.2l.5 -12.6l.4 -3l.1 -.4l.4 -.7l.5 -.5l0 .3l.5 -.1l.4 .1l.1 -.3l.4 -.4l.5 -.2l.5 0l.4 0l.1 -.1l.4 0l.5 .3l.5 .9l.4 .9l.1 .2l.4 3l.5 13l.1 3.2l.3 13.6l.5 18.3l.1 5l.4 15.5l.5 19.9l.1 5.2l.3 11.7l.5 12.5l.2 3.9l.3 6.9l.5 9.2l.1 3.5l.3 5.2l.5 7.3l.2 3.2l.3 3.7l.4 6l.3 2.8l.2 3l.5 5.1l.2 3.3l.3 2.7l.4 4.7l.3 2.9l.2 2.2l.5 4.2l.3 2.9l.1 1.5l.5 4l.3 3.2l.2 1.3l.5 3.5l.3 2.8l1 6.3l.9 5.4l1 4.9l1 4.5l1 4.1l.9 4l1 2.5l1 3.3l.9 2.9l1 2.8l1 2.5l.9 3.1l1 2.1l1 2.3l.9 2l1 2l1 1.3l.9 2.1l1 1.5l1 1.7l.9 1.2l1 1.4l1 1.3l.9 1.1l1 1l1 1.2l.9 1.4l1 1.3l1 1.3l.9 1l1 1l1 1l.9 .7l1 .8l1 1.3l.9 .7l1 1l1 .6l1 1l.9 .4l1 .7l1 .7l.9 .8l1 .9l1 .7l.9 1.1l1 .7l1 .8l.9 .5l1 .8l1 .7l.9 .5l1 .4l1 .5l.9 .4l1 .1l1 .3l.9 .5l1 .5l1 .5l.9 .6l1 .4l1 .5l.9 .1l1 .6l1 .4l.9 .4l1 .4l1 .1l.9 -.2l1 0l1 -.1l.9 .6l1 .6l1 .7l1 0l.9 .3l1 -.5l1 -.2l.9 0l1 0l1 .2l.9 .6l1 .1l1 -.2l.9 .6l1 .7l1 -.4l.9 -.1l1 .1l1 -.1l.9 -.3l1 .3l1 .4l.9 .4l1 0l1 0l.9 .3l1 .6l1 .1l.9 .7l1 .2l1 .3l.9 -.5l1 .1l1 -.3l.9 .1l1 -.1l1 .5l1 .2l.9 .1l1 .4l1 .4l.9 .1l1 .4l1 .1l.9 .4l1 .5l1 .4l.9 .4l1 .3l1 .2l.9 -.2l1 0l1 .4l.9 .6l1 .3l1 .3l.9 .5l1 .3l1 -.3l.9 .3l1 .2l1 -.3l.9 -.1l1 .4l1 .1l.9 .2l1 .4l1 .3l.9 .1l1 .2l1 .6l.9 .4l1 .3l1 .3l1 .6l.9 -.1l1 .7l1 -.2l.9 -.2l1 -.2l1 .1l.9 -.1l1 .5l1 .5l.9 0l1 .1l1 .1l.9 -.1l1 0l1 .6l.9 .1l1 0l1 .5l.9 .2l1 -.3l1 .2l.9 .1l1 0l1 .4l.9 .6l1 .2l1 0l.9 .2l1 -.2l1 .1l.9 .2l1 .4l1 -.2l.9 .1l1 -.1l1 -.1l1 0l.9 .2" fill="none" stroke="#2900d6" stroke-width="4.00" stroke-linejoin="round" stroke-linecap="round" />
<path d="M1108.4 1636.4l.9 0l1 .1l1 .1l1 .3l.9 -.4l1 .1l1 -.3l.9 -.3l1 -.6l1 -.2l.9 -.4l1 .1l1 -.1l.9 .5l1 -.2l1 -.2l.9 -.2l1 -.4l1 -.4l.9 0l1 -.4l1 -.5l.9 0l1 -.2l1 0l.9 .1l1 0l1 -.2l.9 0l1 -.3l1 -.2l.9 -.1l1 -.3l1 -.3l.9 -.3l1 -.2l1 0l.9 0l1 .1l1 -.4l1 .2l.9 -.6l1 -.3l1 -.2l.9 .1l1 -.5l1 0l.9 0l1 -.1l1 -.5l.9 -.1l1 -.3l1 -.9l.9 -.2l1 -.2l1 -.1l.9 -.1l1 0l1 -.2l.9 -.3l1 -.5l1 -.2l.9 .1l1 -.5l1 -.2l.9 .4l1 -.2l1 -.3l.9 -.2l1 .1l1 -.6l.9 -.7l1 0l1 -.2l1 -1l.9 -.4l1 -.1l1 -.8l.9 -.3l1 .1l1 .4l.9 0l1 .1l1 -.1l.9 0l1 -.3l1 .1l.9 -.4l1 -.4l1 -.2l.9 0l1 -.4l1 .4l.9 0l1 -.2l1 -.6l.9 .2l1 -.4l1 0l.9 0l1 .1l1 -.4l.9 .1l1 .2l1 -.1l.9 -.4l1 -.2l1 -.2l.9 -.6l1 -.5l1 -.3l1 -.2l.9 -.6l1 .3l1 .2l.9 -.2l1 -.3l1 .3l.9 -1l1 -.7l1 0l.9 -.3l1 -.4l1 -.2l.9 -.2l1 -.7l1 -.4l.9 -.5l1 -.5l1 -.6l.9 -.2l1 -.6l1 -.4l.9 -.8l1 -.8l1 -.7l.9 -.7l1 -.8l1 -.3l.9 -.1l1 -.9l1 -.6l.9 -.5l1 -.8l1 -1l.9 -1.1l1 -.7l1 -1.1l1 -.6l.9 -1.1l1 -.6l1 -1.2l.9 -.8l1 -.9l1 -1l.9 -.9l1 -1.1l1 -1.1l.9 -1.4l1 -1.1l1 -1.4l.9 -1.4l1 -1.1l1 -.8l.9 -1.5l1 -1.4l1 -1.5l.9 -1.1l1 -2.6l1 -2.1l.9 -2.6l1 -2l1 -3.1l.9 -2.2l1 -2.7l1 -2.3l.9 -2.9l1 -3l1 -3.9l.9 -3.7l1 -4.1l1 -4.3l1 -5.4l.9 -4.5l1 -5.9l.3 -2.3l.5 -4.1l.2 -.8l.3 -3.4l.5 -4.5l.1 -2l.3 -3l.5 -4.4l.2 -1.6l.3 -2.9l.4 -5.2l.3 -1.9l.2 -3.5l.5 -5.9l.2 -3l.3 -2.8l.4 -6.5l.3 -3.2l.2 -2.9l.5 -7.4l.3 -4.3l.1 -3.2l.5 -9.1l.3 -6.2l.2 -3.9l.5 -13l.3 -12l.1 -5.9l.5 -20.5l.4 -15.2l.1 -5l.5 -17.9l.3 -13.4l.1 -3.6l.5 -16.4l.4 -13.6l.1 -2.5l.4 -11.4l.5 -2l0 .1l0 .4l.5 -.6l.4 .1l.1 -.2l.4 -.1l.5 -.2l.5 .2l.4 -.2l.1 .1l.4 .3l.5 .2l0 .1l.5 1.9l.4 11l.1 2.2l.4 13.6l.5 16.6l.1 3.3l.3 13.8l.5 18.4l.1 5.1l.4 15l.5 20.3l.1 5.7l.3 11.7l.5 12.7l.2 4l.3 7.2l.5 9.1l.1 3.3l.3 4.5l.5 7.5l.2 2.8l.3 3.6l.4 6.1l.3 3.1l.2 2.9l.5 5.7l.2 3l.3 2.5l.4 5.3l.3 2.7l.2 2.5l.5 4.6l.3 3.1l.1 1l.5 4.3l.3 2.7l.2 .9l.5 3.4l.3 2.9l1 6.4l.9 4.8l1 4.8l1 4.5l1 3.7l.9 3.6l1 3.7l1 3.3l.9 2.9l1 2.7l1 2.3l.9 2.2l1 2.2l1 2.6l.9 2.3l1 2.1l1 2.1l.9 1.6l1 1.6l1 1.6l.9 1.6l1 1l1 1.4l.9 1.2l1 1.3l1 .8l.9 1.1l1 1.2l1 .9l.9 1l1 1.3l1 1l.9 1.2l1 .9l1 .8l.9 .9l1 .8l1 .6l1 1.3l.9 .8l1 1.3l1 .6l.9 .4l1 .3l1 .6l.9 .4l1 1l1 .8l.9 .7l1 .7l1 .8l.9 .5l1 .8l1 .7l.9 .6l1 0l1 .3l.9 .4l1 .4l1 .2l.9 .4l1 .3l1 .1l.9 .3l1 .7l1 .5l.9 .4l1 .3l1 .1l.9 .1l1 0l1 .4l.9 .4l1 .5l1 .2l1 .2l.9 .2l1 .3l1 .1l.9 0l1 .3l1 -.1l.9 0l1 -.1l1 .4l.9 -.1l1 .1l1 .3l.9 .2l1 .1l1 .3l.9 .3l1 .1l1 0l.9 .1l1 .2l1 .4l.9 .5l1 .6l1 .3l.9 -.4l1 -.2l1 -.4l.9 .2l1 .1l1 .7l.9 .4l1 .5l1 .1l1 0l.9 .3l1 .1l1 .4l.9 .1l1 .3l1 0l.9 .3l1 -.1l1 -.1l.9 .1l1 .3l1 .1l.9 .3l1 .9l1 .4l.9 .6l1 .5l1 .4l.9 .2l1 .1l1 .1l.9 0l1 .1l1 0l.9 .4l1 0l1 .4l.9 .3l1 .5l1 0l.9 .6l1 -.3l1 0l.9 -.3l1 .3l1 -.3l1 .5l.9 0l1 .7l1 .6l.9 .5l1 .4l1 .4l.9 -.1l1 -.3l1 -.2l.9 -.1l1 .2l1 .1l.9 .2l1 .2l1 .7l.9 .3l1 .2l1 .4l.9 .4l1 -.1l1 -.1l.9 .1l1 0l1 .2l.9 .1l1 .3l1 .3l.9 -.2l1 0l1 -.3l.9 -.1l1 .4l1 .1l.9 .4l1 .4l1 -.1l1 0l.9 .1" fill="none" stroke="#1700e8" stroke-width="4.00" stroke-linejoin="round" stroke-linecap="round" />
<path d="M1108.4 1634.4l.9 0l1 -.2l1 -.2l1 .1l.9 0l1 -.1l1 -.2l.9 -.1l1 -.4l1 -.4l.9 -.5l1 -.3l1 0l.9 .1l1 -.3l1 .1l.9 .2l1 -.4l1 -.2l.9 .1l1 -.3l1 -.2l.9 0l1 -.4l1 .1l.9 .3l1 0l1 -.1l.9 0l1 -.1l1 -.5l.9 -.7l1 -.3l1 .1l.9 0l1 -.2l1 .2l.9 -.2l1 -.6l1 -.4l1 .2l.9 -.1l1 0l1 -.4l.9 .3l1 -.5l1 -.1l.9 0l1 .3l1 -.4l.9 -.4l1 -.3l1 -.5l.9 -.4l1 -.6l1 .4l.9 -.2l1 .1l1 .2l.9 .1l1 -.6l1 -.1l.9 -.5l1 -.4l1 -.3l.9 .1l1 -.1l1 -.1l.9 0l1 .2l1 .1l.9 -.1l1 -.1l1 -.2l1 -.3l.9 -.4l1 -.1l1 -.2l.9 0l1 -.2l1 -.3l.9 -.1l1 -.5l1 -.4l.9 -.2l1 -.4l1 -.5l.9 .2l1 -.3l1 -.3l.9 .5l1 .2l1 .2l.9 .5l1 -.2l1 -.5l.9 -.1l1 -.3l1 -.1l.9 .2l1 -.1l1 -.3l.9 -.2l1 -.5l1 -.1l.9 .1l1 -.2l1 0l.9 0l1 -.2l1 -.2l1 .4l.9 -.3l1 .2l1 -.2l.9 -.5l1 -.6l1 -.3l.9 -.3l1 -.4l1 -.2l.9 -.4l1 -.4l1 0l.9 -.3l1 -.4l1 0l.9 -.3l1 -1l1 -.8l.9 -.5l1 -.7l1 -.6l.9 -.6l1 -.3l1 -.6l.9 -.6l1 -.3l1 -.4l.9 -.5l1 -.6l1 -.7l.9 -.9l1 -.9l1 -.7l.9 -.6l1 -.6l1 -1.5l1 -.8l.9 -.7l1 -1l1 -1.1l.9 -.6l1 -1.3l1 -1.7l.9 -1.2l1 -1.1l1 -1l.9 -1.3l1 -.9l1 -1.2l.9 -1.2l1 -1.1l1 -1.1l.9 -1.2l1 -1.8l1 -1.4l.9 -2.4l1 -1.7l1 -1.9l.9 -2l1 -2.8l1 -2.2l.9 -3.1l1 -2.9l1 -3.7l.9 -3.1l1 -4l1 -3.6l.9 -4.2l1 -3.7l1 -5l1 -5.1l.9 -6.6l1 -7.6l.3 -3.4l.5 -4.4l.2 -1.4l.3 -3.1l.5 -4.9l.1 -1.8l.3 -3.8l.5 -5.4l.2 -2.4l.3 -4.1l.4 -6.1l.3 -2.5l.2 -3.8l.5 -6.9l.2 -3.3l.3 -4.1l.4 -8.4l.3 -4.9l.2 -4.6l.5 -10.8l.3 -7.7l.1 -5.3l.5 -18.2l.3 -14l.2 -8.1l.5 -22.3l.3 -14.6l.1 -5.3l.5 -18.2l.4 -13.4l.1 -4.3l.5 -17l.3 -13.8l.1 -3.6l.5 -16.5l.4 -13.9l.1 -2.6l.4 -16.1l.5 -14.2l0 -2.1l.5 15.9l.4 15l.1 1.1l.4 16.9l.5 16.7l.5 16.9l.4 17.3l.1 .8l.4 16.8l.5 18.4l0 2.1l.5 18l.4 22.4l.1 3.2l.4 18.6l.5 18.3l.1 2.9l.3 10.2l.5 11l.1 2.3l.4 6.6l.5 8.5l.1 2.4l.3 5.4l.5 7.5l.2 2.4l.3 4l.5 6.4l.1 2.5l.3 2.9l.5 5.5l.2 2.4l.3 2.5l.4 4.9l.3 2.5l.2 2.3l.5 5l.2 2.5l.3 1.8l.4 4.3l.3 2l.2 .9l.5 3.4l.3 1.9l.1 .9l.5 2.9l.3 1.9l.2 .7l.5 2.3l.3 1.7l1 4.4l.9 3.6l1 3.7l1 3.9l1 3.4l.9 3.2l1 3.2l1 2.7l.9 2.7l1 2.5l1 2l.9 2.4l1 1.6l1 1.3l.9 1.3l1 1.8l1 1.1l.9 1.7l1 1.5l1 1.6l.9 .8l1 1.3l1 1.1l.9 1.4l1 .5l1 1.3l.9 .7l1 1.1l1 .6l.9 1.5l1 1.2l1 1.5l.9 .8l1 1.1l1 1.3l.9 .6l1 .7l1 .6l1 .7l.9 0l1 .8l1 .3l.9 .7l1 .9l1 .6l.9 .3l1 1l1 .3l.9 -.3l1 .4l1 .6l.9 .5l1 .7l1 .8l.9 .9l1 .3l1 .4l.9 .6l1 .2l1 .3l.9 .3l1 0l1 0l.9 .4l1 -.2l1 -.3l.9 .4l1 .6l1 0l.9 .6l1 .1l1 -.3l.9 -.3l1 0l1 0l1 .3l.9 .4l1 .2l1 .3l.9 .2l1 .4l1 .4l.9 .1l1 -.1l1 -.4l.9 -.3l1 0l1 .2l.9 .2l1 .4l1 .2l.9 -.4l1 0l1 .1l.9 -.3l1 .6l1 .4l.9 .4l1 .4l1 .9l.9 -.1l1 .4l1 .3l.9 -.1l1 0l1 0l.9 .1l1 -.1l1 .1l1 .1l.9 .5l1 .1l1 .3l.9 .1l1 .6l1 0l.9 .3l1 -.1l1 .3l.9 -.6l1 .2l1 .2l.9 .8l1 .2l1 .5l.9 .3l1 -.1l1 -.1l.9 .3l1 .1l1 .1l.9 .1l1 .2l1 0l.9 .2l1 0l1 .4l.9 -.1l1 .2l1 .4l.9 .5l1 0l1 .2l.9 .3l1 -.1l1 0l1 .3l.9 .2l1 -.5l1 .1l.9 .1l1 .1l1 .2l.9 .5l1 -.2l1 .4l.9 .2l1 .4l1 .3l.9 .3l1 -.1l1 0l.9 0l1 -.5l1 -.1l.9 .2l1 .2l1 .3l.9 .9l1 .2l1 .2l.9 -.1l1 -.3l1 -.3l.9 .3l1 .3l1 -.1l.9 .2l1 0l1 .4l.9 .3l1 .3l1 0l1 .4l.9 0" fill="none" stroke="#0000ff" stroke-width="5.00" stroke-linejoin="round" stroke-linecap="round" />
</g>
<rect x="1113.5" y="1127.6" width="377.5" height="550.0" fill="none" stroke="#262626" stroke-width="2.00"/>
<line x1="1113.1" y1="1677.6" x2="1113.1" y2="1673.8" stroke="#262626" stroke-width="2.0"/>
<line x1="1113.1" y1="1127.6" x2="1113.1" y2="1131.4" stroke="#262626" stroke-width="2.0"/>
<line x1="1207.5" y1="1677.6" x2="1207.5" y2="1673.8" stroke="#262626" stroke-width="2.0"/>
<line x1="1207.5" y1="1127.6" x2="1207.5" y2="1131.4" stroke="#262626" stroke-width="2.0"/>
<line x1="1301.9" y1="1677.6" x2="1301.9" y2="1673.8" stroke="#262626" stroke-width="2.0"/>
<line x1="1301.9" y1="1127.6" x2="1301.9" y2="1131.4" stroke="#262626" stroke-width="2.0"/>
<line x1="1396.3" y1="1677.6" x2="1396.3" y2="1673.8" stroke="#262626" stroke-width="2.0"/>
<line x1="1396.3" y1="1127.6" x2="1396.3" y2="1131.4" stroke="#262626" stroke-width="2.0"/>
<line x1="1490.7" y1="1677.6" x2="1490.7" y2="1673.8" stroke="#262626" stroke-width="2.0"/>
<line x1="1490.7" y1="1127.6" x2="1490.7" y2="1131.4" stroke="#262626" stroke-width="2.0"/>
<line x1="1113.5" y1="1637.2" x2="1117.3" y2="1637.2" stroke="#262626" stroke-width="2.0"/>
<line x1="1491.0" y1="1637.2" x2="1487.2" y2="1637.2" stroke="#262626" stroke-width="2.0"/>
<line x1="1113.5" y1="1504.7" x2="1117.3" y2="1504.7" stroke="#262626" stroke-width="2.0"/>
<line x1="1491.0" y1="1504.7" x2="1487.2" y2="1504.7" stroke="#262626" stroke-width="2.0"/>
<line x1="1113.5" y1="1372.2" x2="1117.3" y2="1372.2" stroke="#262626" stroke-width="2.0"/>
<line x1="1491.0" y1="1372.2" x2="1487.2" y2="1372.2" stroke="#262626" stroke-width="2.0"/>
<line x1="1113.5" y1="1239.7" x2="1117.3" y2="1239.7" stroke="#262626" stroke-width="2.0"/>
<line x1="1491.0" y1="1239.7" x2="1487.2" y2="1239.7" stroke="#262626" stroke-width="2.0"/>
<line x1="1113.5" y1="1677.1" x2="1115.9" y2="1677.1" stroke="#262626" stroke-width="1.8"/>
<line x1="1491.0" y1="1677.1" x2="1488.6" y2="1677.1" stroke="#262626" stroke-width="1.8"/>
<line x1="1113.5" y1="1666.6" x2="1115.9" y2="1666.6" stroke="#262626" stroke-width="1.8"/>
<line x1="1491.0" y1="1666.6" x2="1488.6" y2="1666.6" stroke="#262626" stroke-width="1.8"/>
<line x1="1113.5" y1="1657.7" x2="1115.9" y2="1657.7" stroke="#262626" stroke-width="1.8"/>
<line x1="1491.0" y1="1657.7" x2="1488.6" y2="1657.7" stroke="#262626" stroke-width="1.8"/>
<line x1="1113.5" y1="1650.0" x2="1115.9" y2="1650.0" stroke="#262626" stroke-width="1.8"/>
<line x1="1491.0" y1="1650.0" x2="1488.6" y2="1650.0" stroke="#262626" stroke-width="1.8"/>
<line x1="1113.5" y1="1643.3" x2="1115.9" y2="1643.3" stroke="#262626" stroke-width="1.8"/>
<line x1="1491.0" y1="1643.3" x2="1488.6" y2="1643.3" stroke="#262626" stroke-width="1.8"/>
<line x1="1113.5" y1="1597.3" x2="1115.9" y2="1597.3" stroke="#262626" stroke-width="1.8"/>
<line x1="1491.0" y1="1597.3" x2="1488.6" y2="1597.3" stroke="#262626" stroke-width="1.8"/>
<line x1="1113.5" y1="1574.0" x2="1115.9" y2="1574.0" stroke="#262626" stroke-width="1.8"/>
<line x1="1491.0" y1="1574.0" x2="1488.6" y2="1574.0" stroke="#262626" stroke-width="1.8"/>
<line x1="1113.5" y1="1557.4" x2="1115.9" y2="1557.4" stroke="#262626" stroke-width="1.8"/>
<line x1="1491.0" y1="1557.4" x2="1488.6" y2="1557.4" stroke="#262626" stroke-width="1.8"/>
<line x1="1113.5" y1="1544.6" x2="1115.9" y2="1544.6" stroke="#262626" stroke-width="1.8"/>
<line x1="1491.0" y1="1544.6" x2="1488.6" y2="1544.6" stroke="#262626" stroke-width="1.8"/>
<line x1="1113.5" y1="1534.1" x2="1115.9" y2="1534.1" stroke="#262626" stroke-width="1.8"/>
<line x1="1491.0" y1="1534.1" x2="1488.6" y2="1534.1" stroke="#262626" stroke-width="1.8"/>
<line x1="1113.5" y1="1525.2" x2="1115.9" y2="1525.2" stroke="#262626" stroke-width="1.8"/>
<line x1="1491.0" y1="1525.2" x2="1488.6" y2="1525.2" stroke="#262626" stroke-width="1.8"/>
<line x1="1113.5" y1="1517.5" x2="1115.9" y2="1517.5" stroke="#262626" stroke-width="1.8"/>
<line x1="1491.0" y1="1517.5" x2="1488.6" y2="1517.5" stroke="#262626" stroke-width="1.8"/>
<line x1="1113.5" y1="1510.8" x2="1115.9" y2="1510.8" stroke="#262626" stroke-width="1.8"/>
<line x1="1491.0" y1="1510.8" x2="1488.6" y2="1510.8" stroke="#262626" stroke-width="1.8"/>
<line x1="1113.5" y1="1464.8" x2="1115.9" y2="1464.8" stroke="#262626" stroke-width="1.8"/>
<line x1="1491.0" y1="1464.8" x2="1488.6" y2="1464.8" stroke="#262626" stroke-width="1.8"/>
<line x1="1113.5" y1="1441.5" x2="1115.9" y2="1441.5" stroke="#262626" stroke-width="1.8"/>
<line x1="1491.0" y1="1441.5" x2="1488.6" y2="1441.5" stroke="#262626" stroke-width="1.8"/>
<line x1="1113.5" y1="1424.9" x2="1115.9" y2="1424.9" stroke="#262626" stroke-width="1.8"/>
<line x1="1491.0" y1="1424.9" x2="1488.6" y2="1424.9" stroke="#262626" stroke-width="1.8"/>
<line x1="1113.5" y1="1412.1" x2="1115.9" y2="1412.1" stroke="#262626" stroke-width="1.8"/>
<line x1="1491.0" y1="1412.1" x2="1488.6" y2="1412.1" stroke="#262626" stroke-width="1.8"/>
<line x1="1113.5" y1="1401.6" x2="1115.9" y2="1401.6" stroke="#262626" stroke-width="1.8"/>
<line x1="1491.0" y1="1401.6" x2="1488.6" y2="1401.6" stroke="#262626" stroke-width="1.8"/>
<line x1="1113.5" y1="1392.7" x2="1115.9" y2="1392.7" stroke="#262626" stroke-width="1.8"/>
<line x1="1491.0" y1="1392.7" x2="1488.6" y2="1392.7" stroke="#262626" stroke-width="1.8"/>
<line x1="1113.5" y1="1385.0" x2="1115.9" y2="1385.0" stroke="#262626" stroke-width="1.8"/>
<line x1="1491.0" y1="1385.0" x2="1488.6" y2="1385.0" stroke="#262626" stroke-width="1.8"/>
<line x1="1113.5" y1="1378.3" x2="1115.9" y2="1378.3" stroke="#262626" stroke-width="1.8"/>
<line x1="1491.0" y1="1378.3" x2="1488.6" y2="1378.3" stroke="#262626" stroke-width="1.8"/>
<line x1="1113.5" y1="1332.3" x2="1115.9" y2="1332.3" stroke="#262626" stroke-width="1.8"/>
<line x1="1491.0" y1="1332.3" x2="1488.6" y2="1332.3" stroke="#262626" stroke-width="1.8"/>
<line x1="1113.5" y1="1309.0" x2="1115.9" y2="1309.0" stroke="#262626" stroke-width="1.8"/>
<line x1="1491.0" y1="1309.0" x2="1488.6" y2="1309.0" stroke="#262626" stroke-width="1.8"/>
<line x1="1113.5" y1="1292.4" x2="1115.9" y2="1292.4" stroke="#262626" stroke-width="1.8"/>
<line x1="1491.0" y1="1292.4" x2="1488.6" y2="1292.4" stroke="#262626" stroke-width="1.8"/>
<line x1="1113.5" y1="1279.6" x2="1115.9" y2="1279.6" stroke="#262626" stroke-width="1.8"/>
<line x1="1491.0" y1="1279.6" x2="1488.6" y2="1279.6" stroke="#262626" stroke-width="1.8"/>
<line x1="1113.5" y1="1269.1" x2="1115.9" y2="1269.1" stroke="#262626" stroke-width="1.8"/>
<line x1="1491.0" y1="1269.1" x2="1488.6" y2="1269.1" stroke="#262626" stroke-width="1.8"/>
<line x1="1113.5" y1="1260.2" x2="1115.9" y2="1260.2" stroke="#262626" stroke-width="1.8"/>
<line x1="1491.0" y1="1260.2" x2="1488.6" y2="1260.2" stroke="#262626" stroke-width="1.8"/>
<line x1="1113.5" y1="1252.5" x2="1115.9" y2="1252.5" stroke="#262626" stroke-width="1.8"/>
<line x1="1491.0" y1="1252.5" x2="1488.6" y2="1252.5" stroke="#262626" stroke-width="1.8"/>
<line x1="1113.5" y1="1245.8" x2="1115.9" y2="1245.8" stroke="#262626" stroke-width="1.8"/>
<line x1="1491.0" y1="1245.8" x2="1488.6" y2="1245.8" stroke="#262626" stroke-width="1.8"/>
<line x1="1113.5" y1="1199.8" x2="1115.9" y2="1199.8" stroke="#262626" stroke-width="1.8"/>
<line x1="1491.0" y1="1199.8" x2="1488.6" y2="1199.8" stroke="#262626" stroke-width="1.8"/>
<line x1="1113.5" y1="1176.5" x2="1115.9" y2="1176.5" stroke="#262626" stroke-width="1.8"/>
<line x1="1491.0" y1="1176.5" x2="1488.6" y2="1176.5" stroke="#262626" stroke-width="1.8"/>
<line x1="1113.5" y1="1159.9" x2="1115.9" y2="1159.9" stroke="#262626" stroke-width="1.8"/>
<line x1="1491.0" y1="1159.9" x2="1488.6" y2="1159.9" stroke="#262626" stroke-width="1.8"/>
<line x1="1113.5" y1="1147.1" x2="1115.9" y2="1147.1" stroke="#262626" stroke-width="1.8"/>
<line x1="1491.0" y1="1147.1" x2="1488.6" y2="1147.1" stroke="#262626" stroke-width="1.8"/>
<line x1="1113.5" y1="1136.6" x2="1115.9" y2="1136.6" stroke="#262626" stroke-width="1.8"/>
<line x1="1491.0" y1="1136.6" x2="1488.6" y2="1136.6" stroke="#262626" stroke-width="1.8"/>
<line x1="1113.5" y1="1127.7" x2="1115.9" y2="1127.7" stroke="#262626" stroke-width="1.8"/>
<line x1="1491.0" y1="1127.7" x2="1488.6" y2="1127.7" stroke="#262626" stroke-width="1.8"/>
<text transform="translate(1108.5,1649.5) scale(1,1.050)" font-size="33.5" text-anchor="end" fill="#262626">10<tspan font-size="21.8" dy="-10.2">1</tspan></text>
<text transform="translate(1108.5,1517.0) scale(1,1.050)" font-size="33.5" text-anchor="end" fill="#262626">10<tspan font-size="21.8" dy="-10.2">2</tspan></text>
<text transform="translate(1108.5,1384.5) scale(1,1.050)" font-size="33.5" text-anchor="end" fill="#262626">10<tspan font-size="21.8" dy="-10.2">3</tspan></text>
<text transform="translate(1108.5,1252.0) scale(1,1.050)" font-size="33.5" text-anchor="end" fill="#262626">10<tspan font-size="21.8" dy="-10.2">4</tspan></text>
<text transform="translate(1114.1,1710.7) scale(1,1.050)" font-size="33.5" text-anchor="middle" fill="#262626" font-weight="normal" font-style="normal" >-4</text>
<text transform="translate(1208.5,1710.7) scale(1,1.050)" font-size="33.5" text-anchor="middle" fill="#262626" font-weight="normal" font-style="normal" >-2</text>
<text transform="translate(1302.9,1710.7) scale(1,1.050)" font-size="33.5" text-anchor="middle" fill="#262626" font-weight="normal" font-style="normal" >0</text>
<text transform="translate(1397.3,1710.7) scale(1,1.050)" font-size="33.5" text-anchor="middle" fill="#262626" font-weight="normal" font-style="normal" >2</text>
<text transform="translate(1491.7,1710.7) scale(1,1.050)" font-size="33.5" text-anchor="middle" fill="#262626" font-weight="normal" font-style="normal" >4</text>
<text transform="translate(1304,1757.4) scale(1,1.050)" font-size="33" text-anchor="middle" fill="#262626"><tspan font-style="italic">V</tspan> (mV)</text>
<text transform="translate(1042,1397) rotate(-90) scale(1,1.050)" font-size="34" text-anchor="middle" fill="#262626" font-style="italic">&#946;</text>
<text transform="translate(1304,1171.6) scale(1,1.050)" font-size="33" text-anchor="middle" fill="#000" font-style="italic">&#946;</text>
<text transform="translate(1471.0,1171.6) scale(1,1.050)" font-size="38.0" text-anchor="end" fill="#000" font-weight="bold" font-style="normal" >i</text>
</svg></body></html>
